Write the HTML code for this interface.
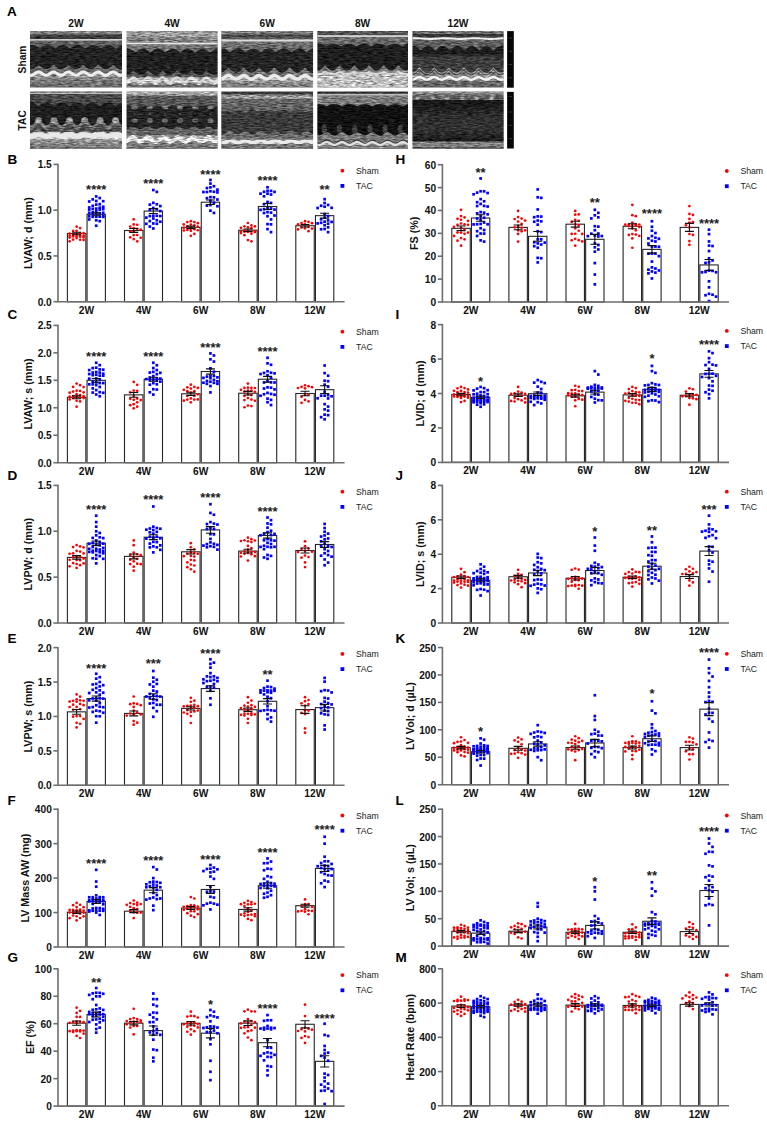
<!DOCTYPE html>
<html><head><meta charset="utf-8"><title>Echocardiography figure</title>
<style>
html,body{margin:0;padding:0;background:#fff;}
body{width:767px;height:1122px;overflow:hidden;}
svg{display:block;}
text{font-family:"Liberation Sans", sans-serif;}
.pl{font-size:13.5px;font-weight:bold;fill:#000;}
.ti{font-size:10.75px;font-weight:bold;fill:#111;}
.tk{font-size:10.2px;font-weight:bold;fill:#111;}
.st{font-size:13px;font-weight:bold;fill:#222;}
.lg{font-size:8.7px;fill:#222;}
.ax{stroke:#6e6e6e;stroke-width:1.6;}
.bar{fill:#fff;stroke:#262626;stroke-width:1.1;}
.eb{stroke:#111;stroke-width:1.1;fill:none;}
</style></head>
<body><svg width="767" height="1122" viewBox="0 0 767 1122">
<rect width="767" height="1122" fill="#fff"/>
<defs><filter id="spk00" x="-2%" y="-2%" width="104%" height="104%" color-interpolation-filters="sRGB"><feTurbulence type="fractalNoise" baseFrequency="0.18 0.75" numOctaves="2" seed="1" result="n"/><feColorMatrix in="n" type="matrix" values="1 0 0 0 0  1 0 0 0 0  1 0 0 0 0  0 0 0 0 1" result="ng"/><feComposite in="SourceGraphic" in2="ng" operator="arithmetic" k1="1.1" k2="0.45" k3="0.18" k4="-0.09" result="m"/><feGaussianBlur in="m" stdDeviation="0.4"/></filter><filter id="spk01" x="-2%" y="-2%" width="104%" height="104%" color-interpolation-filters="sRGB"><feTurbulence type="fractalNoise" baseFrequency="0.18 0.75" numOctaves="2" seed="4" result="n"/><feColorMatrix in="n" type="matrix" values="1 0 0 0 0  1 0 0 0 0  1 0 0 0 0  0 0 0 0 1" result="ng"/><feComposite in="SourceGraphic" in2="ng" operator="arithmetic" k1="1.1" k2="0.45" k3="0.18" k4="-0.09" result="m"/><feGaussianBlur in="m" stdDeviation="0.4"/></filter><filter id="spk10" x="-2%" y="-2%" width="104%" height="104%" color-interpolation-filters="sRGB"><feTurbulence type="fractalNoise" baseFrequency="0.18 0.75" numOctaves="2" seed="8" result="n"/><feColorMatrix in="n" type="matrix" values="1 0 0 0 0  1 0 0 0 0  1 0 0 0 0  0 0 0 0 1" result="ng"/><feComposite in="SourceGraphic" in2="ng" operator="arithmetic" k1="1.1" k2="0.45" k3="0.18" k4="-0.09" result="m"/><feGaussianBlur in="m" stdDeviation="0.4"/></filter><filter id="spk11" x="-2%" y="-2%" width="104%" height="104%" color-interpolation-filters="sRGB"><feTurbulence type="fractalNoise" baseFrequency="0.18 0.75" numOctaves="2" seed="11" result="n"/><feColorMatrix in="n" type="matrix" values="1 0 0 0 0  1 0 0 0 0  1 0 0 0 0  0 0 0 0 1" result="ng"/><feComposite in="SourceGraphic" in2="ng" operator="arithmetic" k1="1.1" k2="0.45" k3="0.18" k4="-0.09" result="m"/><feGaussianBlur in="m" stdDeviation="0.4"/></filter><filter id="spk20" x="-2%" y="-2%" width="104%" height="104%" color-interpolation-filters="sRGB"><feTurbulence type="fractalNoise" baseFrequency="0.18 0.75" numOctaves="2" seed="15" result="n"/><feColorMatrix in="n" type="matrix" values="1 0 0 0 0  1 0 0 0 0  1 0 0 0 0  0 0 0 0 1" result="ng"/><feComposite in="SourceGraphic" in2="ng" operator="arithmetic" k1="1.1" k2="0.45" k3="0.18" k4="-0.09" result="m"/><feGaussianBlur in="m" stdDeviation="0.4"/></filter><filter id="spk21" x="-2%" y="-2%" width="104%" height="104%" color-interpolation-filters="sRGB"><feTurbulence type="fractalNoise" baseFrequency="0.18 0.75" numOctaves="2" seed="18" result="n"/><feColorMatrix in="n" type="matrix" values="1 0 0 0 0  1 0 0 0 0  1 0 0 0 0  0 0 0 0 1" result="ng"/><feComposite in="SourceGraphic" in2="ng" operator="arithmetic" k1="1.1" k2="0.45" k3="0.18" k4="-0.09" result="m"/><feGaussianBlur in="m" stdDeviation="0.4"/></filter><filter id="spk30" x="-2%" y="-2%" width="104%" height="104%" color-interpolation-filters="sRGB"><feTurbulence type="fractalNoise" baseFrequency="0.18 0.75" numOctaves="2" seed="22" result="n"/><feColorMatrix in="n" type="matrix" values="1 0 0 0 0  1 0 0 0 0  1 0 0 0 0  0 0 0 0 1" result="ng"/><feComposite in="SourceGraphic" in2="ng" operator="arithmetic" k1="1.1" k2="0.45" k3="0.18" k4="-0.09" result="m"/><feGaussianBlur in="m" stdDeviation="0.4"/></filter><filter id="spk31" x="-2%" y="-2%" width="104%" height="104%" color-interpolation-filters="sRGB"><feTurbulence type="fractalNoise" baseFrequency="0.18 0.75" numOctaves="2" seed="25" result="n"/><feColorMatrix in="n" type="matrix" values="1 0 0 0 0  1 0 0 0 0  1 0 0 0 0  0 0 0 0 1" result="ng"/><feComposite in="SourceGraphic" in2="ng" operator="arithmetic" k1="1.1" k2="0.45" k3="0.18" k4="-0.09" result="m"/><feGaussianBlur in="m" stdDeviation="0.4"/></filter><filter id="spk40" x="-2%" y="-2%" width="104%" height="104%" color-interpolation-filters="sRGB"><feTurbulence type="fractalNoise" baseFrequency="0.18 0.75" numOctaves="2" seed="29" result="n"/><feColorMatrix in="n" type="matrix" values="1 0 0 0 0  1 0 0 0 0  1 0 0 0 0  0 0 0 0 1" result="ng"/><feComposite in="SourceGraphic" in2="ng" operator="arithmetic" k1="1.1" k2="0.45" k3="0.18" k4="-0.09" result="m"/><feGaussianBlur in="m" stdDeviation="0.4"/></filter><filter id="spk41" x="-2%" y="-2%" width="104%" height="104%" color-interpolation-filters="sRGB"><feTurbulence type="fractalNoise" baseFrequency="0.18 0.75" numOctaves="2" seed="32" result="n"/><feColorMatrix in="n" type="matrix" values="1 0 0 0 0  1 0 0 0 0  1 0 0 0 0  0 0 0 0 1" result="ng"/><feComposite in="SourceGraphic" in2="ng" operator="arithmetic" k1="1.1" k2="0.45" k3="0.18" k4="-0.09" result="m"/><feGaussianBlur in="m" stdDeviation="0.4"/></filter><filter id="bl" x="-5%" y="-20%" width="110%" height="140%"><feGaussianBlur stdDeviation="0.5"/></filter></defs>
<text x="7.0" y="15.6" class="pl">A</text>
<text x="76.0" y="27.4" class="tk" text-anchor="middle">2W</text>
<clipPath id="c0"><rect x="0" y="0" width="92.0" height="56.5"/></clipPath>
<g transform="translate(30,31)" clip-path="url(#c0)"><g filter="url(#spk00)">
<linearGradient id="g0" x1="0" y1="0" x2="0" y2="1"><stop offset="0.0000" stop-color="#7d7d7d"/><stop offset="0.0531" stop-color="#767676"/><stop offset="0.0708" stop-color="#3e3e3e"/><stop offset="0.1327" stop-color="#3a3a3a"/><stop offset="0.1451" stop-color="#6e6e6e"/><stop offset="0.1699" stop-color="#646464"/><stop offset="0.2478" stop-color="#5c5c5c"/><stop offset="0.6372" stop-color="#646464"/><stop offset="0.7080" stop-color="#696969"/><stop offset="0.7788" stop-color="#969696"/><stop offset="0.8496" stop-color="#808080"/><stop offset="1.0000" stop-color="#646464"/></linearGradient>
<rect x="-1" y="0" width="94.0" height="56.5" fill="url(#g0)"/>
<rect x="-1" y="1.10" width="94.0" height="0.8" fill="#969696" fill-opacity="0.6"/>
<path d="M0.0 14.32 L0.8 14.09 L1.5 13.95 L2.2 13.90 L3.0 13.94 L3.8 14.07 L4.5 14.29 L5.2 14.58 L6.0 14.96 L6.8 15.40 L7.5 15.89 L8.2 16.43 L9.0 17.00 L9.8 17.58 L10.5 17.23 L11.2 16.65 L12.0 16.10 L12.8 15.59 L13.5 15.13 L14.2 14.73 L15.0 14.40 L15.8 14.15 L16.5 13.98 L17.2 13.91 L18.0 13.92 L18.8 14.03 L19.5 14.22 L20.2 14.50 L21.0 14.85 L21.8 15.27 L22.5 15.75 L23.2 16.28 L24.0 16.84 L24.8 17.43 L25.5 17.39 L26.2 16.81 L27.0 16.25 L27.8 15.72 L28.5 15.24 L29.2 14.83 L30.0 14.48 L30.8 14.20 L31.5 14.02 L32.2 13.92 L33.0 13.91 L33.8 13.99 L34.5 14.16 L35.2 14.42 L36.0 14.75 L36.8 15.16 L37.5 15.62 L38.2 16.14 L39.0 16.69 L39.8 17.27 L40.5 17.54 L41.2 16.96 L42.0 16.39 L42.8 15.86 L43.5 15.37 L44.2 14.93 L45.0 14.56 L45.8 14.27 L46.5 14.06 L47.2 13.93 L48.0 13.90 L48.8 13.96 L49.5 14.11 L50.2 14.34 L51.0 14.65 L51.8 15.04 L52.5 15.49 L53.2 16.00 L54.0 16.54 L54.8 17.11 L55.5 17.70 L56.2 17.11 L57.0 16.54 L57.8 16.00 L58.5 15.49 L59.2 15.04 L60.0 14.65 L60.8 14.34 L61.5 14.11 L62.2 13.96 L63.0 13.90 L63.8 13.93 L64.5 14.06 L65.2 14.27 L66.0 14.56 L66.8 14.93 L67.5 15.37 L68.2 15.86 L69.0 16.39 L69.8 16.96 L70.5 17.54 L71.2 17.27 L72.0 16.69 L72.8 16.14 L73.5 15.62 L74.2 15.16 L75.0 14.75 L75.8 14.42 L76.5 14.16 L77.2 13.99 L78.0 13.91 L78.8 13.92 L79.5 14.02 L80.2 14.20 L81.0 14.48 L81.8 14.83 L82.5 15.24 L83.2 15.72 L84.0 16.25 L84.8 16.81 L85.5 17.39 L86.2 17.43 L87.0 16.84 L87.8 16.28 L88.5 15.75 L89.2 15.27 L90.0 14.85 L90.8 14.50 L91.5 14.22 L92.0 14.08 L92.0 38.10 L91.5 38.21 L90.8 38.30 L90.0 38.27 L89.2 38.14 L88.5 37.90 L87.8 37.56 L87.0 37.12 L86.2 36.61 L85.5 36.03 L84.8 35.40 L84.0 34.73 L83.2 34.04 L82.5 34.46 L81.8 35.14 L81.0 35.79 L80.2 36.39 L79.5 36.93 L78.8 37.39 L78.0 37.77 L77.2 38.05 L76.5 38.23 L75.8 38.30 L75.0 38.26 L74.2 38.11 L73.5 37.86 L72.8 37.50 L72.0 37.06 L71.2 36.54 L70.5 35.95 L69.8 35.31 L69.0 34.64 L68.2 33.95 L67.5 34.55 L66.8 35.22 L66.0 35.87 L65.2 36.46 L64.5 36.99 L63.8 37.45 L63.0 37.81 L62.2 38.08 L61.5 38.25 L60.8 38.30 L60.0 38.25 L59.2 38.08 L58.5 37.81 L57.8 37.45 L57.0 36.99 L56.2 36.46 L55.5 35.87 L54.8 35.22 L54.0 34.55 L53.2 33.95 L52.5 34.64 L51.8 35.31 L51.0 35.95 L50.2 36.54 L49.5 37.06 L48.8 37.50 L48.0 37.86 L47.2 38.11 L46.5 38.26 L45.8 38.30 L45.0 38.23 L44.2 38.05 L43.5 37.77 L42.8 37.39 L42.0 36.93 L41.2 36.39 L40.5 35.79 L39.8 35.14 L39.0 34.46 L38.2 34.04 L37.5 34.73 L36.8 35.40 L36.0 36.03 L35.2 36.61 L34.5 37.12 L33.8 37.56 L33.0 37.90 L32.2 38.14 L31.5 38.27 L30.8 38.30 L30.0 38.21 L29.2 38.02 L28.5 37.73 L27.8 37.34 L27.0 36.86 L26.2 36.31 L25.5 35.70 L24.8 35.05 L24.0 34.36 L23.2 34.13 L22.5 34.82 L21.8 35.49 L21.0 36.11 L20.2 36.68 L19.5 37.19 L18.8 37.61 L18.0 37.93 L17.2 38.16 L16.5 38.28 L15.8 38.29 L15.0 38.19 L14.2 37.99 L13.5 37.68 L12.8 37.28 L12.0 36.79 L11.2 36.23 L10.5 35.62 L9.8 34.96 L9.0 34.27 L8.2 34.22 L7.5 34.91 L6.8 35.57 L6.0 36.19 L5.2 36.76 L4.5 37.25 L3.8 37.66 L3.0 37.97 L2.2 38.18 L1.5 38.29 L0.8 38.28 L0.0 38.17Z" fill="#222222" fill-opacity="1"/>
<path d="M0.0 38.17 L0.8 38.28 L1.5 38.29 L2.2 38.18 L3.0 37.97 L3.8 37.66 L4.5 37.25 L5.2 36.76 L6.0 36.19 L6.8 35.57 L7.5 34.91 L8.2 34.22 L9.0 34.27 L9.8 34.96 L10.5 35.62 L11.2 36.23 L12.0 36.79 L12.8 37.28 L13.5 37.68 L14.2 37.99 L15.0 38.19 L15.8 38.29 L16.5 38.28 L17.2 38.16 L18.0 37.93 L18.8 37.61 L19.5 37.19 L20.2 36.68 L21.0 36.11 L21.8 35.49 L22.5 34.82 L23.2 34.13 L24.0 34.36 L24.8 35.05 L25.5 35.70 L26.2 36.31 L27.0 36.86 L27.8 37.34 L28.5 37.73 L29.2 38.02 L30.0 38.21 L30.8 38.30 L31.5 38.27 L32.2 38.14 L33.0 37.90 L33.8 37.56 L34.5 37.12 L35.2 36.61 L36.0 36.03 L36.8 35.40 L37.5 34.73 L38.2 34.04 L39.0 34.46 L39.8 35.14 L40.5 35.79 L41.2 36.39 L42.0 36.93 L42.8 37.39 L43.5 37.77 L44.2 38.05 L45.0 38.23 L45.8 38.30 L46.5 38.26 L47.2 38.11 L48.0 37.86 L48.8 37.50 L49.5 37.06 L50.2 36.54 L51.0 35.95 L51.8 35.31 L52.5 34.64 L53.2 33.95 L54.0 34.55 L54.8 35.22 L55.5 35.87 L56.2 36.46 L57.0 36.99 L57.8 37.45 L58.5 37.81 L59.2 38.08 L60.0 38.25 L60.8 38.30 L61.5 38.25 L62.2 38.08 L63.0 37.81 L63.8 37.45 L64.5 36.99 L65.2 36.46 L66.0 35.87 L66.8 35.22 L67.5 34.55 L68.2 33.95 L69.0 34.64 L69.8 35.31 L70.5 35.95 L71.2 36.54 L72.0 37.06 L72.8 37.50 L73.5 37.86 L74.2 38.11 L75.0 38.26 L75.8 38.30 L76.5 38.23 L77.2 38.05 L78.0 37.77 L78.8 37.39 L79.5 36.93 L80.2 36.39 L81.0 35.79 L81.8 35.14 L82.5 34.46 L83.2 34.04 L84.0 34.73 L84.8 35.40 L85.5 36.03 L86.2 36.61 L87.0 37.12 L87.8 37.56 L88.5 37.90 L89.2 38.14 L90.0 38.27 L90.8 38.30 L91.5 38.21 L92.0 38.10 L92.0 42.81 L91.5 42.97 L90.8 43.09 L90.0 43.06 L89.2 42.87 L88.5 42.54 L87.8 42.11 L87.0 41.62 L86.2 41.12 L85.5 40.65 L84.8 40.27 L84.0 40.01 L83.2 39.90 L82.5 39.95 L81.8 40.15 L81.0 40.49 L80.2 40.92 L79.5 41.42 L78.8 41.92 L78.0 42.38 L77.2 42.75 L76.5 43.00 L75.8 43.10 L75.0 43.04 L74.2 42.83 L73.5 42.49 L72.8 42.05 L72.0 41.55 L71.2 41.05 L70.5 40.60 L69.8 40.23 L69.0 39.99 L68.2 39.90 L67.5 39.97 L66.8 40.19 L66.0 40.54 L65.2 40.99 L64.5 41.48 L63.8 41.98 L63.0 42.43 L62.2 42.79 L61.5 43.02 L60.8 43.10 L60.0 43.02 L59.2 42.79 L58.5 42.43 L57.8 41.98 L57.0 41.48 L56.2 40.99 L55.5 40.54 L54.8 40.19 L54.0 39.97 L53.2 39.90 L52.5 39.99 L51.8 40.23 L51.0 40.60 L50.2 41.05 L49.5 41.55 L48.8 42.05 L48.0 42.49 L47.2 42.83 L46.5 43.04 L45.8 43.10 L45.0 43.00 L44.2 42.75 L43.5 42.38 L42.8 41.92 L42.0 41.42 L41.2 40.92 L40.5 40.49 L39.8 40.15 L39.0 39.95 L38.2 39.90 L37.5 40.01 L36.8 40.27 L36.0 40.65 L35.2 41.12 L34.5 41.62 L33.8 42.11 L33.0 42.54 L32.2 42.87 L31.5 43.06 L30.8 43.09 L30.0 42.97 L29.2 42.71 L28.5 42.32 L27.8 41.85 L27.0 41.35 L26.2 40.86 L25.5 40.44 L24.8 40.12 L24.0 39.94 L23.2 39.91 L22.5 40.04 L21.8 40.32 L21.0 40.71 L20.2 41.18 L19.5 41.69 L18.8 42.17 L18.0 42.59 L17.2 42.90 L16.5 43.07 L15.8 43.09 L15.0 42.95 L14.2 42.66 L13.5 42.26 L12.8 41.79 L12.0 41.28 L11.2 40.80 L10.5 40.39 L9.8 40.08 L9.0 39.92 L8.2 39.92 L7.5 40.07 L6.8 40.36 L6.0 40.77 L5.2 41.25 L4.5 41.75 L3.8 42.23 L3.0 42.64 L2.2 42.93 L1.5 43.08 L0.8 43.08 L0.0 42.92Z" fill="#696969" fill-opacity="1"/>
</g><g filter="url(#bl)">
<path d="M0.0 44.02 L0.8 44.18 L1.5 44.18 L2.2 44.03 L3.0 43.74 L3.8 43.33 L4.5 42.85 L5.2 42.35 L6.0 41.87 L6.8 41.46 L7.5 41.17 L8.2 41.02 L9.0 41.02 L9.8 41.18 L10.5 41.49 L11.2 41.90 L12.0 42.38 L12.8 42.89 L13.5 43.36 L14.2 43.76 L15.0 44.05 L15.8 44.19 L16.5 44.17 L17.2 44.00 L18.0 43.69 L18.8 43.27 L19.5 42.79 L20.2 42.28 L21.0 41.81 L21.8 41.42 L22.5 41.14 L23.2 41.01 L24.0 41.04 L24.8 41.22 L25.5 41.54 L26.2 41.96 L27.0 42.45 L27.8 42.95 L28.5 43.42 L29.2 43.81 L30.0 44.07 L30.8 44.19 L31.5 44.16 L32.2 43.97 L33.0 43.64 L33.8 43.21 L34.5 42.72 L35.2 42.22 L36.0 41.75 L36.8 41.37 L37.5 41.11 L38.2 41.00 L39.0 41.05 L39.8 41.25 L40.5 41.59 L41.2 42.02 L42.0 42.52 L42.8 43.02 L43.5 43.48 L44.2 43.85 L45.0 44.10 L45.8 44.20 L46.5 44.14 L47.2 43.93 L48.0 43.59 L48.8 43.15 L49.5 42.65 L50.2 42.15 L51.0 41.70 L51.8 41.33 L52.5 41.09 L53.2 41.00 L54.0 41.07 L54.8 41.29 L55.5 41.64 L56.2 42.09 L57.0 42.58 L57.8 43.08 L58.5 43.53 L59.2 43.89 L60.0 44.12 L60.8 44.20 L61.5 44.12 L62.2 43.89 L63.0 43.53 L63.8 43.08 L64.5 42.58 L65.2 42.09 L66.0 41.64 L66.8 41.29 L67.5 41.07 L68.2 41.00 L69.0 41.09 L69.8 41.33 L70.5 41.70 L71.2 42.15 L72.0 42.65 L72.8 43.15 L73.5 43.59 L74.2 43.93 L75.0 44.14 L75.8 44.20 L76.5 44.10 L77.2 43.85 L78.0 43.48 L78.8 43.02 L79.5 42.52 L80.2 42.02 L81.0 41.59 L81.8 41.25 L82.5 41.05 L83.2 41.00 L84.0 41.11 L84.8 41.37 L85.5 41.75 L86.2 42.22 L87.0 42.72 L87.8 43.21 L88.5 43.64 L89.2 43.97 L90.0 44.16 L90.8 44.19 L91.5 44.07 L92.0 43.91" stroke="#eeeeee" stroke-width="3.0" fill="none" stroke-opacity="1"/>
<path d="M0.0 8.90 L0.8 8.90 L1.5 8.90 L2.2 8.90 L3.0 8.90 L3.8 8.90 L4.5 8.90 L5.2 8.90 L6.0 8.90 L6.8 8.90 L7.5 8.90 L8.2 8.90 L9.0 8.90 L9.8 8.90 L10.5 8.90 L11.2 8.90 L12.0 8.90 L12.8 8.90 L13.5 8.90 L14.2 8.90 L15.0 8.90 L15.8 8.90 L16.5 8.90 L17.2 8.90 L18.0 8.90 L18.8 8.90 L19.5 8.90 L20.2 8.90 L21.0 8.90 L21.8 8.90 L22.5 8.90 L23.2 8.90 L24.0 8.90 L24.8 8.90 L25.5 8.90 L26.2 8.90 L27.0 8.90 L27.8 8.90 L28.5 8.90 L29.2 8.90 L30.0 8.90 L30.8 8.90 L31.5 8.90 L32.2 8.90 L33.0 8.90 L33.8 8.90 L34.5 8.90 L35.2 8.90 L36.0 8.90 L36.8 8.90 L37.5 8.90 L38.2 8.90 L39.0 8.90 L39.8 8.90 L40.5 8.90 L41.2 8.90 L42.0 8.90 L42.8 8.90 L43.5 8.90 L44.2 8.90 L45.0 8.90 L45.8 8.90 L46.5 8.90 L47.2 8.90 L48.0 8.90 L48.8 8.90 L49.5 8.90 L50.2 8.90 L51.0 8.90 L51.8 8.90 L52.5 8.90 L53.2 8.90 L54.0 8.90 L54.8 8.90 L55.5 8.90 L56.2 8.90 L57.0 8.90 L57.8 8.90 L58.5 8.90 L59.2 8.90 L60.0 8.90 L60.8 8.90 L61.5 8.90 L62.2 8.90 L63.0 8.90 L63.8 8.90 L64.5 8.90 L65.2 8.90 L66.0 8.90 L66.8 8.90 L67.5 8.90 L68.2 8.90 L69.0 8.90 L69.8 8.90 L70.5 8.90 L71.2 8.90 L72.0 8.90 L72.8 8.90 L73.5 8.90 L74.2 8.90 L75.0 8.90 L75.8 8.90 L76.5 8.90 L77.2 8.90 L78.0 8.90 L78.8 8.90 L79.5 8.90 L80.2 8.90 L81.0 8.90 L81.8 8.90 L82.5 8.90 L83.2 8.90 L84.0 8.90 L84.8 8.90 L85.5 8.90 L86.2 8.90 L87.0 8.90 L87.8 8.90 L88.5 8.90 L89.2 8.90 L90.0 8.90 L90.8 8.90 L91.5 8.90 L92.0 8.90" stroke="#e8e8e8" stroke-width="1.3" fill="none" stroke-opacity="1"/>
</g></g>
<clipPath id="c1"><rect x="0" y="0" width="92.0" height="57.2"/></clipPath>
<g transform="translate(30,91.5)" clip-path="url(#c1)"><g filter="url(#spk01)">
<linearGradient id="g1" x1="0" y1="0" x2="0" y2="1"><stop offset="0.0000" stop-color="#6e6e6e"/><stop offset="0.0245" stop-color="#787878"/><stop offset="0.0455" stop-color="#4e4e4e"/><stop offset="0.1748" stop-color="#484848"/><stop offset="0.2448" stop-color="#424242"/><stop offset="0.6119" stop-color="#5c5c5c"/><stop offset="0.6643" stop-color="#555555"/><stop offset="0.7080" stop-color="#6e6e6e"/><stop offset="0.7168" stop-color="#bebebe"/><stop offset="0.8217" stop-color="#bebebe"/><stop offset="0.8479" stop-color="#969696"/><stop offset="1.0000" stop-color="#707070"/></linearGradient>
<rect x="-1" y="0" width="94.0" height="57.2" fill="url(#g1)"/>
<path d="M0.0 10.87 L0.8 10.80 L1.5 10.83 L2.2 10.96 L3.0 11.18 L3.8 11.49 L4.5 11.88 L5.2 12.35 L6.0 12.88 L6.8 13.45 L7.5 14.07 L8.2 14.70 L9.0 14.66 L9.8 14.02 L10.5 13.41 L11.2 12.84 L12.0 12.31 L12.8 11.85 L13.5 11.47 L14.2 11.16 L15.0 10.95 L15.8 10.83 L16.5 10.80 L17.2 10.88 L18.0 11.05 L18.8 11.31 L19.5 11.66 L20.2 12.09 L21.0 12.59 L21.8 13.14 L22.5 13.73 L23.2 14.36 L24.0 15.00 L24.8 14.36 L25.5 13.73 L26.2 13.14 L27.0 12.59 L27.8 12.09 L28.5 11.66 L29.2 11.31 L30.0 11.05 L30.8 10.88 L31.5 10.80 L32.2 10.83 L33.0 10.95 L33.8 11.16 L34.5 11.47 L35.2 11.85 L36.0 12.31 L36.8 12.84 L37.5 13.41 L38.2 14.02 L39.0 14.66 L39.8 14.70 L40.5 14.07 L41.2 13.45 L42.0 12.88 L42.8 12.35 L43.5 11.88 L44.2 11.49 L45.0 11.18 L45.8 10.96 L46.5 10.83 L47.2 10.80 L48.0 10.87 L48.8 11.04 L49.5 11.29 L50.2 11.64 L51.0 12.06 L51.8 12.55 L52.5 13.10 L53.2 13.69 L54.0 14.32 L54.8 14.96 L55.5 14.40 L56.2 13.78 L57.0 13.18 L57.8 12.62 L58.5 12.12 L59.2 11.69 L60.0 11.33 L60.8 11.06 L61.5 10.89 L62.2 10.81 L63.0 10.82 L63.8 10.94 L64.5 11.14 L65.2 11.44 L66.0 11.83 L66.8 12.28 L67.5 12.80 L68.2 13.37 L69.0 13.98 L69.8 14.61 L70.5 14.74 L71.2 14.11 L72.0 13.49 L72.8 12.91 L73.5 12.38 L74.2 11.91 L75.0 11.51 L75.8 11.20 L76.5 10.97 L77.2 10.84 L78.0 10.80 L78.8 10.86 L79.5 11.02 L80.2 11.27 L81.0 11.61 L81.8 12.03 L82.5 12.52 L83.2 13.06 L84.0 13.65 L84.8 14.28 L85.5 14.91 L86.2 14.44 L87.0 13.82 L87.8 13.22 L88.5 12.66 L89.2 12.15 L90.0 11.72 L90.8 11.36 L91.5 11.08 L92.0 10.95 L92.0 33.61 L91.5 33.17 L90.8 32.32 L90.0 31.30 L89.2 30.21 L88.5 29.14 L87.8 28.20 L87.0 27.47 L86.2 27.03 L85.5 26.90 L84.8 27.11 L84.0 27.64 L83.2 28.43 L82.5 29.42 L81.8 30.50 L81.0 31.58 L80.2 32.57 L79.5 33.36 L78.8 33.89 L78.0 34.10 L77.2 33.97 L76.5 33.53 L75.8 32.80 L75.0 31.86 L74.2 30.79 L73.5 29.70 L72.8 28.68 L72.0 27.83 L71.2 27.23 L70.5 26.93 L69.8 26.96 L69.0 27.32 L68.2 27.98 L67.5 28.87 L66.8 29.92 L66.0 31.01 L65.2 32.06 L64.5 32.97 L63.8 33.64 L63.0 34.03 L62.2 34.08 L61.5 33.80 L60.8 33.22 L60.0 32.38 L59.2 31.37 L58.5 30.28 L57.8 29.21 L57.0 28.26 L56.2 27.51 L55.5 27.05 L54.8 26.90 L54.0 27.09 L53.2 27.60 L52.5 28.37 L51.8 29.35 L51.0 30.43 L50.2 31.51 L49.5 32.51 L48.8 33.31 L48.0 33.86 L47.2 34.09 L46.5 33.99 L45.8 33.57 L45.0 32.86 L44.2 31.93 L43.5 30.87 L42.8 29.77 L42.0 28.74 L41.2 27.88 L40.5 27.26 L39.8 26.94 L39.0 26.95 L38.2 27.29 L37.5 27.93 L36.8 28.81 L36.0 29.84 L35.2 30.94 L34.5 32.00 L33.8 32.91 L33.0 33.61 L32.2 34.01 L31.5 34.09 L30.8 33.83 L30.0 33.27 L29.2 32.45 L28.5 31.44 L27.8 30.35 L27.0 29.28 L26.2 28.31 L25.5 27.55 L24.8 27.07 L24.0 26.90 L23.2 27.07 L22.5 27.55 L21.8 28.31 L21.0 29.28 L20.2 30.35 L19.5 31.44 L18.8 32.45 L18.0 33.27 L17.2 33.83 L16.5 34.09 L15.8 34.01 L15.0 33.61 L14.2 32.91 L13.5 32.00 L12.8 30.94 L12.0 29.84 L11.2 28.81 L10.5 27.93 L9.8 27.29 L9.0 26.95 L8.2 26.94 L7.5 27.26 L6.8 27.88 L6.0 28.74 L5.2 29.77 L4.5 30.87 L3.8 31.93 L3.0 32.86 L2.2 33.57 L1.5 33.99 L0.8 34.09 L0.0 33.86Z" fill="#1e1e1e" fill-opacity="1"/>
<path d="M0.0 33.86 L0.8 34.09 L1.5 33.99 L2.2 33.57 L3.0 32.86 L3.8 31.93 L4.5 30.87 L5.2 29.77 L6.0 28.74 L6.8 27.88 L7.5 27.26 L8.2 26.94 L9.0 26.95 L9.8 27.29 L10.5 27.93 L11.2 28.81 L12.0 29.84 L12.8 30.94 L13.5 32.00 L14.2 32.91 L15.0 33.61 L15.8 34.01 L16.5 34.09 L17.2 33.83 L18.0 33.27 L18.8 32.45 L19.5 31.44 L20.2 30.35 L21.0 29.28 L21.8 28.31 L22.5 27.55 L23.2 27.07 L24.0 26.90 L24.8 27.07 L25.5 27.55 L26.2 28.31 L27.0 29.28 L27.8 30.35 L28.5 31.44 L29.2 32.45 L30.0 33.27 L30.8 33.83 L31.5 34.09 L32.2 34.01 L33.0 33.61 L33.8 32.91 L34.5 32.00 L35.2 30.94 L36.0 29.84 L36.8 28.81 L37.5 27.93 L38.2 27.29 L39.0 26.95 L39.8 26.94 L40.5 27.26 L41.2 27.88 L42.0 28.74 L42.8 29.77 L43.5 30.87 L44.2 31.93 L45.0 32.86 L45.8 33.57 L46.5 33.99 L47.2 34.09 L48.0 33.86 L48.8 33.31 L49.5 32.51 L50.2 31.51 L51.0 30.43 L51.8 29.35 L52.5 28.37 L53.2 27.60 L54.0 27.09 L54.8 26.90 L55.5 27.05 L56.2 27.51 L57.0 28.26 L57.8 29.21 L58.5 30.28 L59.2 31.37 L60.0 32.38 L60.8 33.22 L61.5 33.80 L62.2 34.08 L63.0 34.03 L63.8 33.64 L64.5 32.97 L65.2 32.06 L66.0 31.01 L66.8 29.92 L67.5 28.87 L68.2 27.98 L69.0 27.32 L69.8 26.96 L70.5 26.93 L71.2 27.23 L72.0 27.83 L72.8 28.68 L73.5 29.70 L74.2 30.79 L75.0 31.86 L75.8 32.80 L76.5 33.53 L77.2 33.97 L78.0 34.10 L78.8 33.89 L79.5 33.36 L80.2 32.57 L81.0 31.58 L81.8 30.50 L82.5 29.42 L83.2 28.43 L84.0 27.64 L84.8 27.11 L85.5 26.90 L86.2 27.03 L87.0 27.47 L87.8 28.20 L88.5 29.14 L89.2 30.21 L90.0 31.30 L90.8 32.32 L91.5 33.17 L92.0 33.61 L92.0 38.26 L91.5 37.88 L90.8 37.12 L90.0 36.21 L89.2 35.24 L88.5 34.29 L87.8 33.45 L87.0 32.81 L86.2 32.41 L85.5 32.30 L84.8 32.49 L84.0 32.96 L83.2 33.66 L82.5 34.54 L81.8 35.50 L81.0 36.46 L80.2 37.34 L79.5 38.04 L78.8 38.51 L78.0 38.70 L77.2 38.59 L76.5 38.19 L75.8 37.55 L75.0 36.71 L74.2 35.76 L73.5 34.79 L72.8 33.88 L72.0 33.12 L71.2 32.59 L70.5 32.32 L69.8 32.35 L69.0 32.68 L68.2 33.26 L67.5 34.05 L66.8 34.98 L66.0 35.96 L65.2 36.89 L64.5 37.69 L63.8 38.29 L63.0 38.63 L62.2 38.68 L61.5 38.44 L60.8 37.92 L60.0 37.17 L59.2 36.28 L58.5 35.30 L57.8 34.35 L57.0 33.50 L56.2 32.84 L55.5 32.43 L54.8 32.30 L54.0 32.47 L53.2 32.92 L52.5 33.61 L51.8 34.47 L51.0 35.43 L50.2 36.40 L49.5 37.28 L48.8 38.00 L48.0 38.49 L47.2 38.69 L46.5 38.60 L45.8 38.23 L45.0 37.60 L44.2 36.77 L43.5 35.83 L42.8 34.85 L42.0 33.94 L41.2 33.17 L40.5 32.62 L39.8 32.33 L39.0 32.34 L38.2 32.65 L37.5 33.21 L36.8 34.00 L36.0 34.92 L35.2 35.89 L34.5 36.83 L33.8 37.64 L33.0 38.26 L32.2 38.62 L31.5 38.69 L30.8 38.46 L30.0 37.96 L29.2 37.23 L28.5 36.34 L27.8 35.37 L27.0 34.41 L26.2 33.56 L25.5 32.88 L24.8 32.45 L24.0 32.30 L23.2 32.45 L22.5 32.88 L21.8 33.56 L21.0 34.41 L20.2 35.37 L19.5 36.34 L18.8 37.23 L18.0 37.96 L17.2 38.46 L16.5 38.69 L15.8 38.62 L15.0 38.26 L14.2 37.64 L13.5 36.83 L12.8 35.89 L12.0 34.92 L11.2 34.00 L10.5 33.21 L9.8 32.65 L9.0 32.34 L8.2 32.33 L7.5 32.62 L6.8 33.17 L6.0 33.94 L5.2 34.85 L4.5 35.83 L3.8 36.77 L3.0 37.60 L2.2 38.23 L1.5 38.60 L0.8 38.69 L0.0 38.49Z" fill="#767676" fill-opacity="1"/>
<path d="M0.0 38.49 L0.8 38.69 L1.5 38.60 L2.2 38.23 L3.0 37.60 L3.8 36.77 L4.5 35.83 L5.2 34.85 L6.0 33.94 L6.8 33.17 L7.5 32.62 L8.2 32.33 L9.0 32.34 L9.8 32.65 L10.5 33.21 L11.2 34.00 L12.0 34.92 L12.8 35.89 L13.5 36.83 L14.2 37.64 L15.0 38.26 L15.8 38.62 L16.5 38.69 L17.2 38.46 L18.0 37.96 L18.8 37.23 L19.5 36.34 L20.2 35.37 L21.0 34.41 L21.8 33.56 L22.5 32.88 L23.2 32.45 L24.0 32.30 L24.8 32.45 L25.5 32.88 L26.2 33.56 L27.0 34.41 L27.8 35.37 L28.5 36.34 L29.2 37.23 L30.0 37.96 L30.8 38.46 L31.5 38.69 L32.2 38.62 L33.0 38.26 L33.8 37.64 L34.5 36.83 L35.2 35.89 L36.0 34.92 L36.8 34.00 L37.5 33.21 L38.2 32.65 L39.0 32.34 L39.8 32.33 L40.5 32.62 L41.2 33.17 L42.0 33.94 L42.8 34.85 L43.5 35.83 L44.2 36.77 L45.0 37.60 L45.8 38.23 L46.5 38.60 L47.2 38.69 L48.0 38.49 L48.8 38.00 L49.5 37.28 L50.2 36.40 L51.0 35.43 L51.8 34.47 L52.5 33.61 L53.2 32.92 L54.0 32.47 L54.8 32.30 L55.5 32.43 L56.2 32.84 L57.0 33.50 L57.8 34.35 L58.5 35.30 L59.2 36.28 L60.0 37.17 L60.8 37.92 L61.5 38.44 L62.2 38.68 L63.0 38.63 L63.8 38.29 L64.5 37.69 L65.2 36.89 L66.0 35.96 L66.8 34.98 L67.5 34.05 L68.2 33.26 L69.0 32.68 L69.8 32.35 L70.5 32.32 L71.2 32.59 L72.0 33.12 L72.8 33.88 L73.5 34.79 L74.2 35.76 L75.0 36.71 L75.8 37.55 L76.5 38.19 L77.2 38.59 L78.0 38.70 L78.8 38.51 L79.5 38.04 L80.2 37.34 L81.0 36.46 L81.8 35.50 L82.5 34.54 L83.2 33.66 L84.0 32.96 L84.8 32.49 L85.5 32.30 L86.2 32.41 L87.0 32.81 L87.8 33.45 L88.5 34.29 L89.2 35.24 L90.0 36.21 L90.8 37.12 L91.5 37.88 L92.0 38.26 L92.0 41.23 L91.5 40.98 L90.8 40.51 L90.0 39.95 L89.2 39.34 L88.5 38.74 L87.8 38.22 L87.0 37.82 L86.2 37.57 L85.5 37.50 L84.8 37.62 L84.0 37.91 L83.2 38.35 L82.5 38.90 L81.8 39.50 L81.0 40.10 L80.2 40.65 L79.5 41.09 L78.8 41.38 L78.0 41.50 L77.2 41.43 L76.5 41.18 L75.8 40.78 L75.0 40.26 L74.2 39.66 L73.5 39.05 L72.8 38.49 L72.0 38.02 L71.2 37.68 L70.5 37.51 L69.8 37.53 L69.0 37.73 L68.2 38.10 L67.5 38.60 L66.8 39.18 L66.0 39.78 L65.2 40.37 L64.5 40.87 L63.8 41.25 L63.0 41.46 L62.2 41.49 L61.5 41.34 L60.8 41.01 L60.0 40.55 L59.2 39.98 L58.5 39.38 L57.8 38.78 L57.0 38.25 L56.2 37.84 L55.5 37.58 L54.8 37.50 L54.0 37.61 L53.2 37.89 L52.5 38.32 L51.8 38.86 L51.0 39.46 L50.2 40.06 L49.5 40.62 L48.8 41.06 L48.0 41.37 L47.2 41.50 L46.5 41.44 L45.8 41.20 L45.0 40.81 L44.2 40.29 L43.5 39.70 L42.8 39.09 L42.0 38.52 L41.2 38.04 L40.5 37.70 L39.8 37.52 L39.0 37.53 L38.2 37.72 L37.5 38.07 L36.8 38.56 L36.0 39.13 L35.2 39.74 L34.5 40.33 L33.8 40.84 L33.0 41.23 L32.2 41.45 L31.5 41.49 L30.8 41.35 L30.0 41.04 L29.2 40.58 L28.5 40.02 L27.8 39.42 L27.0 38.82 L26.2 38.29 L25.5 37.86 L24.8 37.59 L24.0 37.50 L23.2 37.59 L22.5 37.86 L21.8 38.29 L21.0 38.82 L20.2 39.42 L19.5 40.02 L18.8 40.58 L18.0 41.04 L17.2 41.35 L16.5 41.49 L15.8 41.45 L15.0 41.23 L14.2 40.84 L13.5 40.33 L12.8 39.74 L12.0 39.13 L11.2 38.56 L10.5 38.07 L9.8 37.72 L9.0 37.53 L8.2 37.52 L7.5 37.70 L6.8 38.04 L6.0 38.52 L5.2 39.09 L4.5 39.70 L3.8 40.29 L3.0 40.81 L2.2 41.20 L1.5 41.44 L0.8 41.50 L0.0 41.37Z" fill="#484848" fill-opacity="1"/>
<ellipse cx="-6.8" cy="28.8" rx="3.4" ry="3.0" fill="#969696" fill-opacity="0.95"/>
<ellipse cx="8.6" cy="28.8" rx="3.4" ry="3.0" fill="#969696" fill-opacity="0.95"/>
<ellipse cx="24.0" cy="28.8" rx="3.4" ry="3.0" fill="#969696" fill-opacity="0.95"/>
<ellipse cx="39.4" cy="28.8" rx="3.4" ry="3.0" fill="#969696" fill-opacity="0.95"/>
<ellipse cx="54.8" cy="28.8" rx="3.4" ry="3.0" fill="#969696" fill-opacity="0.95"/>
<ellipse cx="70.2" cy="28.8" rx="3.4" ry="3.0" fill="#969696" fill-opacity="0.95"/>
<ellipse cx="85.6" cy="28.8" rx="3.4" ry="3.0" fill="#969696" fill-opacity="0.95"/>
<ellipse cx="101.0" cy="28.8" rx="3.4" ry="3.0" fill="#969696" fill-opacity="0.95"/>
</g><g filter="url(#bl)">
<path d="M0.0 44.75 L0.8 44.80 L1.5 44.78 L2.2 44.68 L3.0 44.52 L3.8 44.32 L4.5 44.08 L5.2 43.84 L6.0 43.61 L6.8 43.42 L7.5 43.28 L8.2 43.21 L9.0 43.21 L9.8 43.29 L10.5 43.43 L11.2 43.62 L12.0 43.85 L12.8 44.10 L13.5 44.33 L14.2 44.54 L15.0 44.69 L15.8 44.78 L16.5 44.80 L17.2 44.74 L18.0 44.62 L18.8 44.43 L19.5 44.21 L20.2 43.97 L21.0 43.73 L21.8 43.51 L22.5 43.35 L23.2 43.24 L24.0 43.20 L24.8 43.24 L25.5 43.35 L26.2 43.51 L27.0 43.73 L27.8 43.97 L28.5 44.21 L29.2 44.43 L30.0 44.62 L30.8 44.74 L31.5 44.80 L32.2 44.78 L33.0 44.69 L33.8 44.54 L34.5 44.33 L35.2 44.10 L36.0 43.85 L36.8 43.62 L37.5 43.43 L38.2 43.29 L39.0 43.21 L39.8 43.21 L40.5 43.28 L41.2 43.42 L42.0 43.61 L42.8 43.84 L43.5 44.08 L44.2 44.32 L45.0 44.52 L45.8 44.68 L46.5 44.78 L47.2 44.80 L48.0 44.75 L48.8 44.63 L49.5 44.45 L50.2 44.23 L51.0 43.98 L51.8 43.74 L52.5 43.53 L53.2 43.35 L54.0 43.24 L54.8 43.20 L55.5 43.23 L56.2 43.34 L57.0 43.50 L57.8 43.71 L58.5 43.95 L59.2 44.19 L60.0 44.42 L60.8 44.60 L61.5 44.73 L62.2 44.80 L63.0 44.78 L63.8 44.70 L64.5 44.55 L65.2 44.35 L66.0 44.11 L66.8 43.87 L67.5 43.64 L68.2 43.44 L69.0 43.29 L69.8 43.21 L70.5 43.21 L71.2 43.27 L72.0 43.41 L72.8 43.60 L73.5 43.82 L74.2 44.07 L75.0 44.30 L75.8 44.51 L76.5 44.67 L77.2 44.77 L78.0 44.80 L78.8 44.75 L79.5 44.64 L80.2 44.46 L81.0 44.24 L81.8 44.00 L82.5 43.76 L83.2 43.54 L84.0 43.36 L84.8 43.25 L85.5 43.20 L86.2 43.23 L87.0 43.33 L87.8 43.49 L88.5 43.70 L89.2 43.93 L90.0 44.18 L90.8 44.40 L91.5 44.59 L92.0 44.69" stroke="#e8e8e8" stroke-width="5.0" fill="none" stroke-opacity="1"/>
<path d="M0.0 1.90 L0.8 1.90 L1.5 1.90 L2.2 1.90 L3.0 1.90 L3.8 1.90 L4.5 1.90 L5.2 1.90 L6.0 1.90 L6.8 1.90 L7.5 1.90 L8.2 1.90 L9.0 1.90 L9.8 1.90 L10.5 1.90 L11.2 1.90 L12.0 1.90 L12.8 1.90 L13.5 1.90 L14.2 1.90 L15.0 1.90 L15.8 1.90 L16.5 1.90 L17.2 1.90 L18.0 1.90 L18.8 1.90 L19.5 1.90 L20.2 1.90 L21.0 1.90 L21.8 1.90 L22.5 1.90 L23.2 1.90 L24.0 1.90 L24.8 1.90 L25.5 1.90 L26.2 1.90 L27.0 1.90 L27.8 1.90 L28.5 1.90 L29.2 1.90 L30.0 1.90 L30.8 1.90 L31.5 1.90 L32.2 1.90 L33.0 1.90 L33.8 1.90 L34.5 1.90 L35.2 1.90 L36.0 1.90 L36.8 1.90 L37.5 1.90 L38.2 1.90 L39.0 1.90 L39.8 1.90 L40.5 1.90 L41.2 1.90 L42.0 1.90 L42.8 1.90 L43.5 1.90 L44.2 1.90 L45.0 1.90 L45.8 1.90 L46.5 1.90 L47.2 1.90 L48.0 1.90 L48.8 1.90 L49.5 1.90 L50.2 1.90 L51.0 1.90 L51.8 1.90 L52.5 1.90 L53.2 1.90 L54.0 1.90 L54.8 1.90 L55.5 1.90 L56.2 1.90 L57.0 1.90 L57.8 1.90 L58.5 1.90 L59.2 1.90 L60.0 1.90 L60.8 1.90 L61.5 1.90 L62.2 1.90 L63.0 1.90 L63.8 1.90 L64.5 1.90 L65.2 1.90 L66.0 1.90 L66.8 1.90 L67.5 1.90 L68.2 1.90 L69.0 1.90 L69.8 1.90 L70.5 1.90 L71.2 1.90 L72.0 1.90 L72.8 1.90 L73.5 1.90 L74.2 1.90 L75.0 1.90 L75.8 1.90 L76.5 1.90 L77.2 1.90 L78.0 1.90 L78.8 1.90 L79.5 1.90 L80.2 1.90 L81.0 1.90 L81.8 1.90 L82.5 1.90 L83.2 1.90 L84.0 1.90 L84.8 1.90 L85.5 1.90 L86.2 1.90 L87.0 1.90 L87.8 1.90 L88.5 1.90 L89.2 1.90 L90.0 1.90 L90.8 1.90 L91.5 1.90 L92.0 1.90" stroke="#dcdcdc" stroke-width="1.0" fill="none" stroke-opacity="1"/>
</g></g>
<text x="172.1" y="27.4" class="tk" text-anchor="middle">4W</text>
<clipPath id="c2"><rect x="0" y="0" width="91.2" height="56.5"/></clipPath>
<g transform="translate(126.5,31)" clip-path="url(#c2)"><g filter="url(#spk10)">
<linearGradient id="g2" x1="0" y1="0" x2="0" y2="1"><stop offset="0.0000" stop-color="#969696"/><stop offset="0.0531" stop-color="#9e9e9e"/><stop offset="0.1062" stop-color="#8e8e8e"/><stop offset="0.1770" stop-color="#7d7d7d"/><stop offset="0.2124" stop-color="#848484"/><stop offset="0.2389" stop-color="#767676"/><stop offset="0.3363" stop-color="#707070"/><stop offset="0.7080" stop-color="#646464"/><stop offset="0.7788" stop-color="#505050"/><stop offset="0.8142" stop-color="#5a5a5a"/><stop offset="0.8319" stop-color="#aaaaaa"/><stop offset="0.9204" stop-color="#a5a5a5"/><stop offset="0.9381" stop-color="#6e6e6e"/><stop offset="1.0000" stop-color="#696969"/></linearGradient>
<rect x="-1" y="0" width="93.2" height="56.5" fill="url(#g2)"/>
<rect x="-1" y="4.10" width="93.2" height="0.8" fill="#afafaf" fill-opacity="0.6"/>
<rect x="-1" y="7.60" width="93.2" height="0.8" fill="#6e6e6e" fill-opacity="0.6"/>
<rect x="-1" y="10.20" width="93.2" height="0.6" fill="#969696" fill-opacity="0.5"/>
<path d="M0.0 17.74 L0.8 17.62 L1.5 17.61 L2.2 17.69 L3.0 17.88 L3.8 18.16 L4.5 18.54 L5.2 18.99 L6.0 19.51 L6.8 20.09 L7.5 20.71 L8.2 21.36 L9.0 21.58 L9.8 20.93 L10.5 20.29 L11.2 19.70 L12.0 19.16 L12.8 18.68 L13.5 18.28 L14.2 17.96 L15.0 17.74 L15.8 17.62 L16.5 17.61 L17.2 17.69 L18.0 17.88 L18.8 18.16 L19.5 18.54 L20.2 18.99 L21.0 19.51 L21.8 20.09 L22.5 20.71 L23.2 21.36 L24.0 21.58 L24.8 20.93 L25.5 20.29 L26.2 19.70 L27.0 19.16 L27.8 18.68 L28.5 18.28 L29.2 17.96 L30.0 17.74 L30.8 17.62 L31.5 17.61 L32.2 17.69 L33.0 17.88 L33.8 18.16 L34.5 18.54 L35.2 18.99 L36.0 19.51 L36.8 20.09 L37.5 20.71 L38.2 21.36 L39.0 21.58 L39.8 20.93 L40.5 20.29 L41.2 19.70 L42.0 19.16 L42.8 18.68 L43.5 18.28 L44.2 17.96 L45.0 17.74 L45.8 17.62 L46.5 17.61 L47.2 17.69 L48.0 17.88 L48.8 18.16 L49.5 18.54 L50.2 18.99 L51.0 19.51 L51.8 20.09 L52.5 20.71 L53.2 21.36 L54.0 21.58 L54.8 20.93 L55.5 20.29 L56.2 19.70 L57.0 19.16 L57.8 18.68 L58.5 18.28 L59.2 17.96 L60.0 17.74 L60.8 17.62 L61.5 17.61 L62.2 17.69 L63.0 17.88 L63.8 18.16 L64.5 18.54 L65.2 18.99 L66.0 19.51 L66.8 20.09 L67.5 20.71 L68.2 21.36 L69.0 21.58 L69.8 20.93 L70.5 20.29 L71.2 19.70 L72.0 19.16 L72.8 18.68 L73.5 18.28 L74.2 17.96 L75.0 17.74 L75.8 17.62 L76.5 17.61 L77.2 17.69 L78.0 17.88 L78.8 18.16 L79.5 18.54 L80.2 18.99 L81.0 19.51 L81.8 20.09 L82.5 20.71 L83.2 21.36 L84.0 21.58 L84.8 20.93 L85.5 20.29 L86.2 19.70 L87.0 19.16 L87.8 18.68 L88.5 18.28 L89.2 17.96 L90.0 17.74 L90.8 17.62 L91.2 17.60 L91.2 42.37 L90.8 42.68 L90.0 43.13 L89.2 43.48 L88.5 43.73 L87.8 43.87 L87.0 43.90 L86.2 43.81 L85.5 43.61 L84.8 43.30 L84.0 42.90 L83.2 42.40 L82.5 41.84 L81.8 41.21 L81.0 40.53 L80.2 39.83 L79.5 39.88 L78.8 40.58 L78.0 41.25 L77.2 41.88 L76.5 42.44 L75.8 42.93 L75.0 43.33 L74.2 43.63 L73.5 43.82 L72.8 43.90 L72.0 43.86 L71.2 43.72 L70.5 43.46 L69.8 43.10 L69.0 42.64 L68.2 42.11 L67.5 41.51 L66.8 40.85 L66.0 40.16 L65.2 39.55 L64.5 40.25 L63.8 40.94 L63.0 41.59 L62.2 42.18 L61.5 42.71 L60.8 43.15 L60.0 43.50 L59.2 43.74 L58.5 43.87 L57.8 43.89 L57.0 43.80 L56.2 43.59 L55.5 43.28 L54.8 42.87 L54.0 42.37 L53.2 41.79 L52.5 41.16 L51.8 40.49 L51.0 39.78 L50.2 39.93 L49.5 40.62 L48.8 41.29 L48.0 41.91 L47.2 42.47 L46.5 42.96 L45.8 43.35 L45.0 43.64 L44.2 43.83 L43.5 43.90 L42.8 43.86 L42.0 43.70 L41.2 43.44 L40.5 43.07 L39.8 42.61 L39.0 42.07 L38.2 41.46 L37.5 40.81 L36.8 40.11 L36.0 39.59 L35.2 40.30 L34.5 40.99 L33.8 41.63 L33.0 42.22 L32.2 42.74 L31.5 43.18 L30.8 43.52 L30.0 43.75 L29.2 43.88 L28.5 43.89 L27.8 43.79 L27.0 43.57 L26.2 43.25 L25.5 42.84 L24.8 42.33 L24.0 41.75 L23.2 41.12 L22.5 40.44 L21.8 39.74 L21.0 39.97 L20.2 40.67 L19.5 41.34 L18.8 41.95 L18.0 42.51 L17.2 42.99 L16.5 43.37 L15.8 43.66 L15.0 43.83 L14.2 43.90 L13.5 43.85 L12.8 43.69 L12.0 43.42 L11.2 43.04 L10.5 42.58 L9.8 42.03 L9.0 41.42 L8.2 40.76 L7.5 40.07 L6.8 39.64 L6.0 40.35 L5.2 41.03 L4.5 41.67 L3.8 42.26 L3.0 42.77 L2.2 43.20 L1.5 43.54 L0.8 43.77 L0.0 43.88Z" fill="#202020" fill-opacity="1"/>
<path d="M0.0 39.60 L0.8 39.60 L1.5 39.59 L2.2 39.58 L3.0 39.57 L3.8 39.56 L4.5 39.55 L5.2 39.53 L6.0 39.52 L6.8 39.50 L7.5 39.51 L8.2 39.53 L9.0 39.54 L9.8 39.56 L10.5 39.57 L11.2 39.58 L12.0 39.59 L12.8 39.60 L13.5 39.60 L14.2 39.60 L15.0 39.60 L15.8 39.59 L16.5 39.59 L17.2 39.58 L18.0 39.57 L18.8 39.56 L19.5 39.54 L20.2 39.53 L21.0 39.51 L21.8 39.51 L22.5 39.52 L23.2 39.54 L24.0 39.55 L24.8 39.56 L25.5 39.58 L26.2 39.59 L27.0 39.59 L27.8 39.60 L28.5 39.60 L29.2 39.60 L30.0 39.60 L30.8 39.59 L31.5 39.58 L32.2 39.57 L33.0 39.56 L33.8 39.55 L34.5 39.53 L35.2 39.52 L36.0 39.50 L36.8 39.51 L37.5 39.53 L38.2 39.54 L39.0 39.56 L39.8 39.57 L40.5 39.58 L41.2 39.59 L42.0 39.60 L42.8 39.60 L43.5 39.60 L44.2 39.60 L45.0 39.59 L45.8 39.59 L46.5 39.58 L47.2 39.57 L48.0 39.55 L48.8 39.54 L49.5 39.53 L50.2 39.51 L51.0 39.51 L51.8 39.52 L52.5 39.54 L53.2 39.55 L54.0 39.57 L54.8 39.58 L55.5 39.59 L56.2 39.59 L57.0 39.60 L57.8 39.60 L58.5 39.60 L59.2 39.60 L60.0 39.59 L60.8 39.58 L61.5 39.57 L62.2 39.56 L63.0 39.55 L63.8 39.53 L64.5 39.52 L65.2 39.50 L66.0 39.52 L66.8 39.53 L67.5 39.55 L68.2 39.56 L69.0 39.57 L69.8 39.58 L70.5 39.59 L71.2 39.60 L72.0 39.60 L72.8 39.60 L73.5 39.60 L74.2 39.59 L75.0 39.59 L75.8 39.58 L76.5 39.57 L77.2 39.55 L78.0 39.54 L78.8 39.52 L79.5 39.51 L80.2 39.51 L81.0 39.52 L81.8 39.54 L82.5 39.55 L83.2 39.57 L84.0 39.58 L84.8 39.59 L85.5 39.59 L86.2 39.60 L87.0 39.60 L87.8 39.60 L88.5 39.60 L89.2 39.59 L90.0 39.58 L90.8 39.57 L91.2 39.57 L91.2 42.37 L90.8 42.68 L90.0 43.13 L89.2 43.48 L88.5 43.73 L87.8 43.87 L87.0 43.90 L86.2 43.81 L85.5 43.61 L84.8 43.30 L84.0 42.90 L83.2 42.40 L82.5 41.84 L81.8 41.21 L81.0 40.53 L80.2 39.83 L79.5 39.88 L78.8 40.58 L78.0 41.25 L77.2 41.88 L76.5 42.44 L75.8 42.93 L75.0 43.33 L74.2 43.63 L73.5 43.82 L72.8 43.90 L72.0 43.86 L71.2 43.72 L70.5 43.46 L69.8 43.10 L69.0 42.64 L68.2 42.11 L67.5 41.51 L66.8 40.85 L66.0 40.16 L65.2 39.55 L64.5 40.25 L63.8 40.94 L63.0 41.59 L62.2 42.18 L61.5 42.71 L60.8 43.15 L60.0 43.50 L59.2 43.74 L58.5 43.87 L57.8 43.89 L57.0 43.80 L56.2 43.59 L55.5 43.28 L54.8 42.87 L54.0 42.37 L53.2 41.79 L52.5 41.16 L51.8 40.49 L51.0 39.78 L50.2 39.93 L49.5 40.62 L48.8 41.29 L48.0 41.91 L47.2 42.47 L46.5 42.96 L45.8 43.35 L45.0 43.64 L44.2 43.83 L43.5 43.90 L42.8 43.86 L42.0 43.70 L41.2 43.44 L40.5 43.07 L39.8 42.61 L39.0 42.07 L38.2 41.46 L37.5 40.81 L36.8 40.11 L36.0 39.59 L35.2 40.30 L34.5 40.99 L33.8 41.63 L33.0 42.22 L32.2 42.74 L31.5 43.18 L30.8 43.52 L30.0 43.75 L29.2 43.88 L28.5 43.89 L27.8 43.79 L27.0 43.57 L26.2 43.25 L25.5 42.84 L24.8 42.33 L24.0 41.75 L23.2 41.12 L22.5 40.44 L21.8 39.74 L21.0 39.97 L20.2 40.67 L19.5 41.34 L18.8 41.95 L18.0 42.51 L17.2 42.99 L16.5 43.37 L15.8 43.66 L15.0 43.83 L14.2 43.90 L13.5 43.85 L12.8 43.69 L12.0 43.42 L11.2 43.04 L10.5 42.58 L9.8 42.03 L9.0 41.42 L8.2 40.76 L7.5 40.07 L6.8 39.64 L6.0 40.35 L5.2 41.03 L4.5 41.67 L3.8 42.26 L3.0 42.77 L2.2 43.20 L1.5 43.54 L0.8 43.77 L0.0 43.88Z" fill="#202020" fill-opacity="0.0"/>
<path d="M0.0 49.97 L0.8 49.74 L1.5 49.30 L2.2 48.72 L3.0 48.04 L3.8 47.33 L4.5 46.67 L5.2 46.13 L6.0 45.76 L6.8 45.60 L7.5 45.67 L8.2 45.96 L9.0 46.44 L9.8 47.06 L10.5 47.75 L11.2 48.45 L12.0 49.09 L12.8 49.59 L13.5 49.90 L14.2 50.00 L15.0 49.87 L15.8 49.53 L16.5 49.01 L17.2 48.36 L18.0 47.66 L18.8 46.97 L19.5 46.37 L20.2 45.91 L21.0 45.65 L21.8 45.61 L22.5 45.80 L23.2 46.19 L24.0 46.76 L24.8 47.42 L25.5 48.13 L26.2 48.80 L27.0 49.37 L27.8 49.78 L28.5 49.98 L29.2 49.96 L30.0 49.71 L30.8 49.27 L31.5 48.67 L32.2 47.99 L33.0 47.28 L33.8 46.63 L34.5 46.10 L35.2 45.75 L36.0 45.60 L36.8 45.69 L37.5 45.99 L38.2 46.48 L39.0 47.10 L39.8 47.80 L40.5 48.50 L41.2 49.12 L42.0 49.61 L42.8 49.91 L43.5 50.00 L44.2 49.85 L45.0 49.50 L45.8 48.97 L46.5 48.32 L47.2 47.61 L48.0 46.93 L48.8 46.33 L49.5 45.89 L50.2 45.64 L51.0 45.62 L51.8 45.82 L52.5 46.23 L53.2 46.80 L54.0 47.47 L54.8 48.18 L55.5 48.84 L56.2 49.41 L57.0 49.80 L57.8 49.99 L58.5 49.95 L59.2 49.69 L60.0 49.23 L60.8 48.63 L61.5 47.94 L62.2 47.24 L63.0 46.59 L63.8 46.07 L64.5 45.73 L65.2 45.60 L66.0 45.70 L66.8 46.01 L67.5 46.51 L68.2 47.15 L69.0 47.85 L69.8 48.54 L70.5 49.16 L71.2 49.64 L72.0 49.93 L72.8 50.00 L73.5 49.84 L74.2 49.47 L75.0 48.93 L75.8 48.27 L76.5 47.56 L77.2 46.88 L78.0 46.30 L78.8 45.86 L79.5 45.63 L80.2 45.62 L81.0 45.84 L81.8 46.26 L82.5 46.84 L83.2 47.52 L84.0 48.22 L84.8 48.89 L85.5 49.44 L86.2 49.82 L87.0 49.99 L87.8 49.94 L88.5 49.66 L89.2 49.20 L90.0 48.59 L90.8 47.89 L91.2 47.47 L91.2 51.93 L90.8 52.28 L90.0 52.84 L89.2 53.34 L88.5 53.73 L87.8 53.95 L87.0 53.99 L86.2 53.85 L85.5 53.54 L84.8 53.09 L84.0 52.55 L83.2 51.97 L82.5 51.41 L81.8 50.94 L81.0 50.60 L80.2 50.42 L79.5 50.43 L78.8 50.62 L78.0 50.97 L77.2 51.45 L76.5 52.01 L75.8 52.58 L75.0 53.12 L74.2 53.56 L73.5 53.87 L72.8 54.00 L72.0 53.94 L71.2 53.70 L70.5 53.31 L69.8 52.81 L69.0 52.24 L68.2 51.67 L67.5 51.15 L66.8 50.74 L66.0 50.48 L65.2 50.40 L64.5 50.51 L63.8 50.79 L63.0 51.21 L62.2 51.74 L61.5 52.32 L60.8 52.88 L60.0 53.37 L59.2 53.75 L58.5 53.96 L57.8 53.99 L57.0 53.84 L56.2 53.51 L55.5 53.05 L54.8 52.51 L54.0 51.93 L53.2 51.38 L52.5 50.91 L51.8 50.58 L51.0 50.41 L50.2 50.43 L49.5 50.63 L48.8 51.00 L48.0 51.48 L47.2 52.05 L46.5 52.62 L45.8 53.16 L45.0 53.59 L44.2 53.88 L43.5 54.00 L42.8 53.93 L42.0 53.68 L41.2 53.28 L40.5 52.77 L39.8 52.20 L39.0 51.63 L38.2 51.12 L37.5 50.72 L36.8 50.47 L36.0 50.40 L35.2 50.52 L34.5 50.81 L33.8 51.24 L33.0 51.78 L32.2 52.35 L31.5 52.92 L30.8 53.40 L30.0 53.77 L29.2 53.97 L28.5 53.99 L27.8 53.82 L27.0 53.49 L26.2 53.02 L25.5 52.47 L24.8 51.89 L24.0 51.35 L23.2 50.89 L22.5 50.56 L21.8 50.41 L21.0 50.44 L20.2 50.65 L19.5 51.03 L18.8 51.52 L18.0 52.08 L17.2 52.66 L16.5 53.19 L15.8 53.61 L15.0 53.89 L14.2 54.00 L13.5 53.92 L12.8 53.66 L12.0 53.25 L11.2 52.73 L10.5 52.16 L9.8 51.59 L9.0 51.09 L8.2 50.70 L7.5 50.46 L6.8 50.40 L6.0 50.53 L5.2 50.84 L4.5 51.28 L3.8 51.82 L3.0 52.39 L2.2 52.95 L1.5 53.43 L0.8 53.78 L0.0 53.97Z" fill="#cdcdcd" fill-opacity="1"/>
</g><g filter="url(#bl)">
<path d="M0.0 50.77 L0.8 50.54 L1.5 50.10 L2.2 49.52 L3.0 48.84 L3.8 48.13 L4.5 47.47 L5.2 46.93 L6.0 46.56 L6.8 46.40 L7.5 46.47 L8.2 46.76 L9.0 47.24 L9.8 47.86 L10.5 48.55 L11.2 49.25 L12.0 49.89 L12.8 50.39 L13.5 50.70 L14.2 50.80 L15.0 50.67 L15.8 50.33 L16.5 49.81 L17.2 49.16 L18.0 48.46 L18.8 47.77 L19.5 47.17 L20.2 46.71 L21.0 46.45 L21.8 46.41 L22.5 46.60 L23.2 46.99 L24.0 47.56 L24.8 48.22 L25.5 48.93 L26.2 49.60 L27.0 50.17 L27.8 50.58 L28.5 50.78 L29.2 50.76 L30.0 50.51 L30.8 50.07 L31.5 49.47 L32.2 48.79 L33.0 48.08 L33.8 47.43 L34.5 46.90 L35.2 46.55 L36.0 46.40 L36.8 46.49 L37.5 46.79 L38.2 47.28 L39.0 47.90 L39.8 48.60 L40.5 49.30 L41.2 49.92 L42.0 50.41 L42.8 50.71 L43.5 50.80 L44.2 50.65 L45.0 50.30 L45.8 49.77 L46.5 49.12 L47.2 48.41 L48.0 47.73 L48.8 47.13 L49.5 46.69 L50.2 46.44 L51.0 46.42 L51.8 46.62 L52.5 47.03 L53.2 47.60 L54.0 48.27 L54.8 48.98 L55.5 49.64 L56.2 50.21 L57.0 50.60 L57.8 50.79 L58.5 50.75 L59.2 50.49 L60.0 50.03 L60.8 49.43 L61.5 48.74 L62.2 48.04 L63.0 47.39 L63.8 46.87 L64.5 46.53 L65.2 46.40 L66.0 46.50 L66.8 46.81 L67.5 47.31 L68.2 47.95 L69.0 48.65 L69.8 49.34 L70.5 49.96 L71.2 50.44 L72.0 50.73 L72.8 50.80 L73.5 50.64 L74.2 50.27 L75.0 49.73 L75.8 49.07 L76.5 48.36 L77.2 47.68 L78.0 47.10 L78.8 46.66 L79.5 46.43 L80.2 46.42 L81.0 46.64 L81.8 47.06 L82.5 47.64 L83.2 48.32 L84.0 49.02 L84.8 49.69 L85.5 50.24 L86.2 50.62 L87.0 50.79 L87.8 50.74 L88.5 50.46 L89.2 50.00 L90.0 49.39 L90.8 48.69 L91.2 48.27" stroke="#e4e4e4" stroke-width="2.0" fill="none" stroke-opacity="0.8"/>
<path d="M0.0 12.60 L0.8 12.60 L1.5 12.60 L2.2 12.60 L3.0 12.60 L3.8 12.60 L4.5 12.60 L5.2 12.60 L6.0 12.60 L6.8 12.60 L7.5 12.60 L8.2 12.60 L9.0 12.60 L9.8 12.60 L10.5 12.60 L11.2 12.60 L12.0 12.60 L12.8 12.60 L13.5 12.60 L14.2 12.60 L15.0 12.60 L15.8 12.60 L16.5 12.60 L17.2 12.60 L18.0 12.60 L18.8 12.60 L19.5 12.60 L20.2 12.60 L21.0 12.60 L21.8 12.60 L22.5 12.60 L23.2 12.60 L24.0 12.60 L24.8 12.60 L25.5 12.60 L26.2 12.60 L27.0 12.60 L27.8 12.60 L28.5 12.60 L29.2 12.60 L30.0 12.60 L30.8 12.60 L31.5 12.60 L32.2 12.60 L33.0 12.60 L33.8 12.60 L34.5 12.60 L35.2 12.60 L36.0 12.60 L36.8 12.60 L37.5 12.60 L38.2 12.60 L39.0 12.60 L39.8 12.60 L40.5 12.60 L41.2 12.60 L42.0 12.60 L42.8 12.60 L43.5 12.60 L44.2 12.60 L45.0 12.60 L45.8 12.60 L46.5 12.60 L47.2 12.60 L48.0 12.60 L48.8 12.60 L49.5 12.60 L50.2 12.60 L51.0 12.60 L51.8 12.60 L52.5 12.60 L53.2 12.60 L54.0 12.60 L54.8 12.60 L55.5 12.60 L56.2 12.60 L57.0 12.60 L57.8 12.60 L58.5 12.60 L59.2 12.60 L60.0 12.60 L60.8 12.60 L61.5 12.60 L62.2 12.60 L63.0 12.60 L63.8 12.60 L64.5 12.60 L65.2 12.60 L66.0 12.60 L66.8 12.60 L67.5 12.60 L68.2 12.60 L69.0 12.60 L69.8 12.60 L70.5 12.60 L71.2 12.60 L72.0 12.60 L72.8 12.60 L73.5 12.60 L74.2 12.60 L75.0 12.60 L75.8 12.60 L76.5 12.60 L77.2 12.60 L78.0 12.60 L78.8 12.60 L79.5 12.60 L80.2 12.60 L81.0 12.60 L81.8 12.60 L82.5 12.60 L83.2 12.60 L84.0 12.60 L84.8 12.60 L85.5 12.60 L86.2 12.60 L87.0 12.60 L87.8 12.60 L88.5 12.60 L89.2 12.60 L90.0 12.60 L90.8 12.60 L91.2 12.60" stroke="#e8e8e8" stroke-width="1.5" fill="none" stroke-opacity="1"/>
</g></g>
<clipPath id="c3"><rect x="0" y="0" width="91.2" height="57.2"/></clipPath>
<g transform="translate(126.5,91.5)" clip-path="url(#c3)"><g filter="url(#spk11)">
<linearGradient id="g3" x1="0" y1="0" x2="0" y2="1"><stop offset="0.0000" stop-color="#acacac"/><stop offset="0.0612" stop-color="#a0a0a0"/><stop offset="0.0874" stop-color="#585858"/><stop offset="0.2622" stop-color="#545454"/><stop offset="0.3059" stop-color="#545454"/><stop offset="0.3147" stop-color="#282828"/><stop offset="0.6119" stop-color="#282828"/><stop offset="0.6294" stop-color="#646464"/><stop offset="0.7605" stop-color="#5f5f5f"/><stop offset="0.7780" stop-color="#969696"/><stop offset="0.8741" stop-color="#969696"/><stop offset="0.8916" stop-color="#7d7d7d"/><stop offset="1.0000" stop-color="#737373"/></linearGradient>
<rect x="-1" y="0" width="93.2" height="57.2" fill="url(#g3)"/>
<path d="M0.0 14.31 L0.8 14.31 L1.5 14.37 L2.2 14.49 L3.0 14.67 L3.8 14.90 L4.5 15.18 L5.2 15.50 L6.0 15.86 L6.8 16.24 L7.5 16.63 L8.2 16.77 L9.0 16.37 L9.8 15.98 L10.5 15.62 L11.2 15.28 L12.0 14.99 L12.8 14.74 L13.5 14.54 L14.2 14.40 L15.0 14.32 L15.8 14.30 L16.5 14.34 L17.2 14.45 L18.0 14.61 L18.8 14.83 L19.5 15.10 L20.2 15.41 L21.0 15.76 L21.8 16.13 L22.5 16.53 L23.2 16.87 L24.0 16.47 L24.8 16.08 L25.5 15.71 L26.2 15.37 L27.0 15.06 L27.8 14.80 L28.5 14.59 L29.2 14.43 L30.0 14.34 L30.8 14.30 L31.5 14.33 L32.2 14.42 L33.0 14.56 L33.8 14.77 L34.5 15.02 L35.2 15.32 L36.0 15.66 L36.8 16.03 L37.5 16.42 L38.2 16.82 L39.0 16.58 L39.8 16.18 L40.5 15.81 L41.2 15.46 L42.0 15.14 L42.8 14.86 L43.5 14.64 L44.2 14.47 L45.0 14.36 L45.8 14.30 L46.5 14.31 L47.2 14.39 L48.0 14.52 L48.8 14.71 L49.5 14.95 L50.2 15.24 L51.0 15.57 L51.8 15.93 L52.5 16.31 L53.2 16.71 L54.0 16.69 L54.8 16.29 L55.5 15.91 L56.2 15.55 L57.0 15.22 L57.8 14.93 L58.5 14.69 L59.2 14.51 L60.0 14.38 L60.8 14.31 L61.5 14.30 L62.2 14.36 L63.0 14.48 L63.8 14.65 L64.5 14.88 L65.2 15.16 L66.0 15.48 L66.8 15.83 L67.5 16.21 L68.2 16.61 L69.0 16.79 L69.8 16.39 L70.5 16.01 L71.2 15.64 L72.0 15.30 L72.8 15.01 L73.5 14.75 L74.2 14.55 L75.0 14.41 L75.8 14.32 L76.5 14.30 L77.2 14.34 L78.0 14.44 L78.8 14.60 L79.5 14.82 L80.2 15.08 L81.0 15.39 L81.8 15.73 L82.5 16.11 L83.2 16.50 L84.0 16.90 L84.8 16.50 L85.5 16.11 L86.2 15.73 L87.0 15.39 L87.8 15.08 L88.5 14.82 L89.2 14.60 L90.0 14.44 L90.8 14.34 L91.2 14.31 L91.2 37.30 L90.8 37.40 L90.0 37.49 L89.2 37.49 L88.5 37.41 L87.8 37.24 L87.0 36.99 L86.2 36.67 L85.5 36.28 L84.8 35.84 L84.0 35.35 L83.2 34.82 L82.5 34.27 L81.8 34.09 L81.0 34.64 L80.2 35.17 L79.5 35.68 L78.8 36.14 L78.0 36.55 L77.2 36.89 L76.5 37.17 L75.8 37.36 L75.0 37.47 L74.2 37.50 L73.5 37.44 L72.8 37.29 L72.0 37.07 L71.2 36.76 L70.5 36.39 L69.8 35.96 L69.0 35.48 L68.2 34.96 L67.5 34.42 L66.8 33.94 L66.0 34.49 L65.2 35.03 L64.5 35.55 L63.8 36.02 L63.0 36.45 L62.2 36.81 L61.5 37.10 L60.8 37.32 L60.0 37.45 L59.2 37.50 L58.5 37.46 L57.8 37.34 L57.0 37.13 L56.2 36.85 L55.5 36.50 L54.8 36.08 L54.0 35.61 L53.2 35.10 L52.5 34.57 L51.8 34.01 L51.0 34.35 L50.2 34.89 L49.5 35.41 L48.8 35.90 L48.0 36.34 L47.2 36.72 L46.5 37.03 L45.8 37.27 L45.0 37.42 L44.2 37.50 L43.5 37.48 L42.8 37.38 L42.0 37.20 L41.2 36.93 L40.5 36.60 L39.8 36.20 L39.0 35.74 L38.2 35.24 L37.5 34.71 L36.8 34.16 L36.0 34.20 L35.2 34.75 L34.5 35.28 L33.8 35.77 L33.0 36.23 L32.2 36.62 L31.5 36.95 L30.8 37.21 L30.0 37.39 L29.2 37.48 L28.5 37.49 L27.8 37.42 L27.0 37.25 L26.2 37.01 L25.5 36.69 L24.8 36.31 L24.0 35.87 L23.2 35.38 L22.5 34.86 L21.8 34.31 L21.0 34.05 L20.2 34.60 L19.5 35.14 L18.8 35.65 L18.0 36.11 L17.2 36.52 L16.5 36.87 L15.8 37.15 L15.0 37.35 L14.2 37.47 L13.5 37.50 L12.8 37.44 L12.0 37.30 L11.2 37.08 L10.5 36.79 L9.8 36.42 L9.0 35.99 L8.2 35.51 L7.5 35.00 L6.8 34.46 L6.0 33.90 L5.2 34.46 L4.5 35.00 L3.8 35.51 L3.0 35.99 L2.2 36.42 L1.5 36.79 L0.8 37.08 L0.0 37.30Z" fill="#242424" fill-opacity="1"/>
<path d="M0.0 47.18 L0.8 46.73 L1.5 46.17 L2.2 45.56 L3.0 44.95 L3.8 44.40 L4.5 43.97 L5.2 43.70 L6.0 43.60 L6.8 43.70 L7.5 43.97 L8.2 44.40 L9.0 44.95 L9.8 45.56 L10.5 46.17 L11.2 46.73 L12.0 47.18 L12.8 47.48 L13.5 47.60 L14.2 47.53 L15.0 47.27 L15.8 46.86 L16.5 46.33 L17.2 45.72 L18.0 45.11 L18.8 44.54 L19.5 44.07 L20.2 43.75 L21.0 43.61 L21.8 43.65 L22.5 43.88 L23.2 44.28 L24.0 44.80 L24.8 45.39 L25.5 46.01 L26.2 46.59 L27.0 47.07 L27.8 47.41 L28.5 47.58 L29.2 47.57 L30.0 47.36 L30.8 46.98 L31.5 46.48 L32.2 45.89 L33.0 45.27 L33.8 44.68 L34.5 44.19 L35.2 43.82 L36.0 43.63 L36.8 43.62 L37.5 43.80 L38.2 44.16 L39.0 44.65 L39.8 45.23 L40.5 45.85 L41.2 46.44 L42.0 46.95 L42.8 47.34 L43.5 47.56 L44.2 47.59 L45.0 47.43 L45.8 47.10 L46.5 46.62 L47.2 46.05 L48.0 45.43 L48.8 44.83 L49.5 44.31 L50.2 43.90 L51.0 43.66 L51.8 43.60 L52.5 43.74 L53.2 44.05 L54.0 44.51 L54.8 45.07 L55.5 45.68 L56.2 46.29 L57.0 46.83 L57.8 47.25 L58.5 47.52 L59.2 47.60 L60.0 47.49 L60.8 47.20 L61.5 46.76 L62.2 46.21 L63.0 45.60 L63.8 44.99 L64.5 44.44 L65.2 44.00 L66.0 43.71 L66.8 43.60 L67.5 43.68 L68.2 43.95 L69.0 44.37 L69.8 44.91 L70.5 45.52 L71.2 46.13 L72.0 46.69 L72.8 47.15 L73.5 47.46 L74.2 47.60 L75.0 47.54 L75.8 47.30 L76.5 46.89 L77.2 46.37 L78.0 45.77 L78.8 45.15 L79.5 44.58 L80.2 44.10 L81.0 43.77 L81.8 43.61 L82.5 43.64 L83.2 43.86 L84.0 44.25 L84.8 44.76 L85.5 45.35 L86.2 45.97 L87.0 46.55 L87.8 47.04 L88.5 47.40 L89.2 47.58 L90.0 47.57 L90.8 47.38 L91.2 47.18 L91.2 51.86 L90.8 52.02 L90.0 52.18 L89.2 52.18 L88.5 52.04 L87.8 51.75 L87.0 51.36 L86.2 50.90 L85.5 50.40 L84.8 49.93 L84.0 49.52 L83.2 49.21 L82.5 49.03 L81.8 49.01 L81.0 49.13 L80.2 49.40 L79.5 49.78 L78.8 50.24 L78.0 50.73 L77.2 51.21 L76.5 51.63 L75.8 51.96 L75.0 52.15 L74.2 52.20 L73.5 52.09 L72.8 51.84 L72.0 51.48 L71.2 51.02 L70.5 50.53 L69.8 50.05 L69.0 49.62 L68.2 49.28 L67.5 49.07 L66.8 49.00 L66.0 49.09 L65.2 49.32 L64.5 49.67 L63.8 50.11 L63.0 50.60 L62.2 51.09 L61.5 51.53 L60.8 51.88 L60.0 52.11 L59.2 52.20 L58.5 52.13 L57.8 51.92 L57.0 51.58 L56.2 51.15 L55.5 50.67 L54.8 50.18 L54.0 49.72 L53.2 49.36 L52.5 49.11 L51.8 49.00 L51.0 49.05 L50.2 49.24 L49.5 49.57 L48.8 49.99 L48.0 50.47 L47.2 50.96 L46.5 51.42 L45.8 51.80 L45.0 52.07 L44.2 52.19 L43.5 52.17 L42.8 51.99 L42.0 51.68 L41.2 51.27 L40.5 50.80 L39.8 50.30 L39.0 49.84 L38.2 49.45 L37.5 49.16 L36.8 49.02 L36.0 49.02 L35.2 49.18 L34.5 49.47 L33.8 49.87 L33.0 50.34 L32.2 50.83 L31.5 51.30 L30.8 51.71 L30.0 52.01 L29.2 52.17 L28.5 52.19 L27.8 52.05 L27.0 51.78 L26.2 51.39 L25.5 50.93 L24.8 50.43 L24.0 49.96 L23.2 49.54 L22.5 49.23 L21.8 49.04 L21.0 49.01 L20.2 49.12 L19.5 49.38 L18.8 49.75 L18.0 50.21 L17.2 50.70 L16.5 51.18 L15.8 51.61 L15.0 51.94 L14.2 52.14 L13.5 52.20 L12.8 52.10 L12.0 51.86 L11.2 51.50 L10.5 51.06 L9.8 50.57 L9.0 50.08 L8.2 49.64 L7.5 49.30 L6.8 49.08 L6.0 49.00 L5.2 49.08 L4.5 49.30 L3.8 49.64 L3.0 50.08 L2.2 50.57 L1.5 51.06 L0.8 51.50 L0.0 51.86Z" fill="#e8e8e8" fill-opacity="1"/>
<ellipse cx="8.0" cy="29.0" rx="3.0" ry="2.6" fill="#767676" fill-opacity="0.75"/>
<ellipse cx="23.2" cy="29.0" rx="3.0" ry="2.6" fill="#767676" fill-opacity="0.75"/>
<ellipse cx="38.4" cy="29.0" rx="3.0" ry="2.6" fill="#767676" fill-opacity="0.75"/>
<ellipse cx="53.6" cy="29.0" rx="3.0" ry="2.6" fill="#767676" fill-opacity="0.75"/>
<ellipse cx="68.8" cy="29.0" rx="3.0" ry="2.6" fill="#767676" fill-opacity="0.75"/>
<ellipse cx="84.0" cy="29.0" rx="3.0" ry="2.6" fill="#767676" fill-opacity="0.75"/>
<ellipse cx="8.0" cy="16.2" rx="3.2" ry="1.6" fill="#919191" fill-opacity="0.75"/>
<ellipse cx="23.2" cy="16.2" rx="3.2" ry="1.6" fill="#919191" fill-opacity="0.75"/>
<ellipse cx="38.4" cy="16.2" rx="3.2" ry="1.6" fill="#919191" fill-opacity="0.75"/>
<ellipse cx="53.6" cy="16.2" rx="3.2" ry="1.6" fill="#919191" fill-opacity="0.75"/>
<ellipse cx="68.8" cy="16.2" rx="3.2" ry="1.6" fill="#919191" fill-opacity="0.75"/>
<ellipse cx="84.0" cy="16.2" rx="3.2" ry="1.6" fill="#919191" fill-opacity="0.75"/>
<ellipse cx="8.0" cy="22.5" rx="0.9" ry="0.9" fill="#6e6e6e" fill-opacity="0.7"/>
<ellipse cx="23.2" cy="22.5" rx="0.9" ry="0.9" fill="#6e6e6e" fill-opacity="0.7"/>
<ellipse cx="38.4" cy="22.5" rx="0.9" ry="0.9" fill="#6e6e6e" fill-opacity="0.7"/>
<ellipse cx="53.6" cy="22.5" rx="0.9" ry="0.9" fill="#6e6e6e" fill-opacity="0.7"/>
<ellipse cx="68.8" cy="22.5" rx="0.9" ry="0.9" fill="#6e6e6e" fill-opacity="0.7"/>
<ellipse cx="84.0" cy="22.5" rx="0.9" ry="0.9" fill="#6e6e6e" fill-opacity="0.7"/>
</g><g filter="url(#bl)">
</g></g>
<text x="267.2" y="27.4" class="tk" text-anchor="middle">6W</text>
<clipPath id="c4"><rect x="0" y="0" width="91.8" height="56.5"/></clipPath>
<g transform="translate(221.3,31)" clip-path="url(#c4)"><g filter="url(#spk20)">
<linearGradient id="g4" x1="0" y1="0" x2="0" y2="1"><stop offset="0.0000" stop-color="#7d7d7d"/><stop offset="0.0531" stop-color="#707070"/><stop offset="0.0796" stop-color="#464646"/><stop offset="0.1239" stop-color="#505050"/><stop offset="0.1504" stop-color="#6e6e6e"/><stop offset="0.1947" stop-color="#707070"/><stop offset="0.3009" stop-color="#696969"/><stop offset="0.7080" stop-color="#6e6e6e"/><stop offset="0.7788" stop-color="#787878"/><stop offset="0.8319" stop-color="#afafaf"/><stop offset="0.8850" stop-color="#969696"/><stop offset="0.9867" stop-color="#787878"/><stop offset="1.0000" stop-color="#6e6e6e"/></linearGradient>
<rect x="-1" y="0" width="93.8" height="56.5" fill="url(#g4)"/>
<rect x="-1" y="1.40" width="93.8" height="0.8" fill="#969696" fill-opacity="0.5"/>
<path d="M0.0 17.55 L0.8 17.43 L1.5 17.40 L2.2 17.46 L3.0 17.62 L3.8 17.85 L4.5 18.17 L5.2 18.55 L6.0 19.00 L6.8 19.51 L7.5 20.05 L8.2 20.62 L9.0 21.20 L9.8 20.62 L10.5 20.05 L11.2 19.51 L12.0 19.00 L12.8 18.55 L13.5 18.17 L14.2 17.85 L15.0 17.62 L15.8 17.46 L16.5 17.40 L17.2 17.43 L18.0 17.55 L18.8 17.75 L19.5 18.03 L20.2 18.39 L21.0 18.82 L21.8 19.30 L22.5 19.83 L23.2 20.39 L24.0 20.97 L24.8 20.85 L25.5 20.27 L26.2 19.72 L27.0 19.20 L27.8 18.73 L28.5 18.31 L29.2 17.97 L30.0 17.70 L30.8 17.51 L31.5 17.42 L32.2 17.41 L33.0 17.49 L33.8 17.66 L34.5 17.91 L35.2 18.24 L36.0 18.64 L36.8 19.10 L37.5 19.61 L38.2 20.16 L39.0 20.73 L39.8 21.08 L40.5 20.50 L41.2 19.94 L42.0 19.40 L42.8 18.91 L43.5 18.47 L44.2 18.10 L45.0 17.80 L45.8 17.58 L46.5 17.44 L47.2 17.40 L48.0 17.44 L48.8 17.58 L49.5 17.80 L50.2 18.10 L51.0 18.47 L51.8 18.91 L52.5 19.40 L53.2 19.94 L54.0 20.50 L54.8 21.08 L55.5 20.73 L56.2 20.16 L57.0 19.61 L57.8 19.10 L58.5 18.64 L59.2 18.24 L60.0 17.91 L60.8 17.66 L61.5 17.49 L62.2 17.41 L63.0 17.42 L63.8 17.51 L64.5 17.70 L65.2 17.97 L66.0 18.31 L66.8 18.73 L67.5 19.20 L68.2 19.72 L69.0 20.27 L69.8 20.85 L70.5 20.97 L71.2 20.39 L72.0 19.83 L72.8 19.30 L73.5 18.82 L74.2 18.39 L75.0 18.03 L75.8 17.75 L76.5 17.55 L77.2 17.43 L78.0 17.40 L78.8 17.46 L79.5 17.62 L80.2 17.85 L81.0 18.17 L81.8 18.55 L82.5 19.00 L83.2 19.51 L84.0 20.05 L84.8 20.62 L85.5 21.20 L86.2 20.62 L87.0 20.05 L87.8 19.51 L88.5 19.00 L89.2 18.55 L90.0 18.17 L90.8 17.85 L91.5 17.62 L91.8 17.55 L91.8 41.96 L91.5 41.99 L90.8 41.97 L90.0 41.82 L89.2 41.53 L88.5 41.13 L87.8 40.62 L87.0 40.00 L86.2 39.30 L85.5 38.53 L84.8 37.71 L84.0 36.86 L83.2 36.80 L82.5 37.65 L81.8 38.48 L81.0 39.25 L80.2 39.96 L79.5 40.58 L78.8 41.10 L78.0 41.51 L77.2 41.80 L76.5 41.96 L75.8 42.00 L75.0 41.89 L74.2 41.66 L73.5 41.31 L72.8 40.83 L72.0 40.26 L71.2 39.59 L70.5 38.84 L69.8 38.04 L69.0 37.20 L68.2 36.46 L67.5 37.32 L66.8 38.15 L66.0 38.95 L65.2 39.68 L64.5 40.34 L63.8 40.90 L63.0 41.36 L62.2 41.70 L61.5 41.91 L60.8 42.00 L60.0 41.95 L59.2 41.77 L58.5 41.46 L57.8 41.04 L57.0 40.50 L56.2 39.87 L55.5 39.15 L54.8 38.37 L54.0 37.54 L53.2 36.69 L52.5 36.97 L51.8 37.82 L51.0 38.64 L50.2 39.40 L49.5 40.09 L48.8 40.69 L48.0 41.19 L47.2 41.58 L46.5 41.84 L45.8 41.98 L45.0 41.99 L44.2 41.86 L43.5 41.60 L42.8 41.22 L42.0 40.73 L41.2 40.13 L40.5 39.45 L39.8 38.69 L39.0 37.88 L38.2 37.03 L37.5 36.63 L36.8 37.49 L36.0 38.32 L35.2 39.10 L34.5 39.82 L33.8 40.46 L33.0 41.00 L32.2 41.44 L31.5 41.75 L30.8 41.94 L30.0 42.00 L29.2 41.92 L28.5 41.72 L27.8 41.39 L27.0 40.94 L26.2 40.38 L25.5 39.73 L24.8 39.00 L24.0 38.21 L23.2 37.37 L22.5 36.51 L21.8 37.15 L21.0 37.99 L20.2 38.79 L19.5 39.54 L18.8 40.21 L18.0 40.80 L17.2 41.28 L16.5 41.64 L15.8 41.88 L15.0 41.99 L14.2 41.97 L13.5 41.82 L12.8 41.53 L12.0 41.13 L11.2 40.62 L10.5 40.00 L9.8 39.30 L9.0 38.53 L8.2 37.71 L7.5 36.86 L6.8 36.80 L6.0 37.65 L5.2 38.48 L4.5 39.25 L3.8 39.96 L3.0 40.58 L2.2 41.10 L1.5 41.51 L0.8 41.80 L0.0 41.96Z" fill="#242424" fill-opacity="1"/>
<path d="M0.0 41.96 L0.8 41.80 L1.5 41.51 L2.2 41.10 L3.0 40.58 L3.8 39.96 L4.5 39.25 L5.2 38.48 L6.0 37.65 L6.8 36.80 L7.5 36.86 L8.2 37.71 L9.0 38.53 L9.8 39.30 L10.5 40.00 L11.2 40.62 L12.0 41.13 L12.8 41.53 L13.5 41.82 L14.2 41.97 L15.0 41.99 L15.8 41.88 L16.5 41.64 L17.2 41.28 L18.0 40.80 L18.8 40.21 L19.5 39.54 L20.2 38.79 L21.0 37.99 L21.8 37.15 L22.5 36.51 L23.2 37.37 L24.0 38.21 L24.8 39.00 L25.5 39.73 L26.2 40.38 L27.0 40.94 L27.8 41.39 L28.5 41.72 L29.2 41.92 L30.0 42.00 L30.8 41.94 L31.5 41.75 L32.2 41.44 L33.0 41.00 L33.8 40.46 L34.5 39.82 L35.2 39.10 L36.0 38.32 L36.8 37.49 L37.5 36.63 L38.2 37.03 L39.0 37.88 L39.8 38.69 L40.5 39.45 L41.2 40.13 L42.0 40.73 L42.8 41.22 L43.5 41.60 L44.2 41.86 L45.0 41.99 L45.8 41.98 L46.5 41.84 L47.2 41.58 L48.0 41.19 L48.8 40.69 L49.5 40.09 L50.2 39.40 L51.0 38.64 L51.8 37.82 L52.5 36.97 L53.2 36.69 L54.0 37.54 L54.8 38.37 L55.5 39.15 L56.2 39.87 L57.0 40.50 L57.8 41.04 L58.5 41.46 L59.2 41.77 L60.0 41.95 L60.8 42.00 L61.5 41.91 L62.2 41.70 L63.0 41.36 L63.8 40.90 L64.5 40.34 L65.2 39.68 L66.0 38.95 L66.8 38.15 L67.5 37.32 L68.2 36.46 L69.0 37.20 L69.8 38.04 L70.5 38.84 L71.2 39.59 L72.0 40.26 L72.8 40.83 L73.5 41.31 L74.2 41.66 L75.0 41.89 L75.8 42.00 L76.5 41.96 L77.2 41.80 L78.0 41.51 L78.8 41.10 L79.5 40.58 L80.2 39.96 L81.0 39.25 L81.8 38.48 L82.5 37.65 L83.2 36.80 L84.0 36.86 L84.8 37.71 L85.5 38.53 L86.2 39.30 L87.0 40.00 L87.8 40.62 L88.5 41.13 L89.2 41.53 L90.0 41.82 L90.8 41.97 L91.5 41.99 L91.8 41.96 L91.8 46.25 L91.5 46.29 L90.8 46.26 L90.0 46.07 L89.2 45.73 L88.5 45.27 L87.8 44.74 L87.0 44.19 L86.2 43.66 L85.5 43.22 L84.8 42.90 L84.0 42.72 L83.2 42.72 L82.5 42.88 L81.8 43.19 L81.0 43.63 L80.2 44.15 L79.5 44.70 L78.8 45.24 L78.0 45.70 L77.2 46.05 L76.5 46.25 L75.8 46.29 L75.0 46.16 L74.2 45.88 L73.5 45.46 L72.8 44.96 L72.0 44.41 L71.2 43.87 L70.5 43.39 L69.8 43.01 L69.0 42.77 L68.2 42.70 L67.5 42.80 L66.8 43.05 L66.0 43.44 L65.2 43.94 L64.5 44.48 L63.8 45.03 L63.0 45.52 L62.2 45.93 L61.5 46.19 L60.8 46.30 L60.0 46.24 L59.2 46.01 L58.5 45.64 L57.8 45.17 L57.0 44.63 L56.2 44.08 L55.5 43.57 L54.8 43.15 L54.0 42.85 L53.2 42.71 L52.5 42.74 L51.8 42.93 L51.0 43.27 L50.2 43.73 L49.5 44.26 L48.8 44.81 L48.0 45.34 L47.2 45.78 L46.5 46.10 L45.8 46.28 L45.0 46.28 L44.2 46.12 L43.5 45.81 L42.8 45.37 L42.0 44.85 L41.2 44.30 L40.5 43.76 L39.8 43.30 L39.0 42.95 L38.2 42.75 L37.5 42.71 L36.8 42.84 L36.0 43.12 L35.2 43.54 L34.5 44.04 L33.8 44.59 L33.0 45.13 L32.2 45.61 L31.5 45.99 L30.8 46.23 L30.0 46.30 L29.2 46.20 L28.5 45.95 L27.8 45.56 L27.0 45.06 L26.2 44.52 L25.5 43.97 L24.8 43.48 L24.0 43.07 L23.2 42.81 L22.5 42.70 L21.8 42.76 L21.0 42.99 L20.2 43.36 L19.5 43.83 L18.8 44.37 L18.0 44.92 L17.2 45.43 L16.5 45.85 L15.8 46.15 L15.0 46.29 L14.2 46.26 L13.5 46.07 L12.8 45.73 L12.0 45.27 L11.2 44.74 L10.5 44.19 L9.8 43.66 L9.0 43.22 L8.2 42.90 L7.5 42.72 L6.8 42.72 L6.0 42.88 L5.2 43.19 L4.5 43.63 L3.8 44.15 L3.0 44.70 L2.2 45.24 L1.5 45.70 L0.8 46.05 L0.0 46.25Z" fill="#737373" fill-opacity="1"/>
</g><g filter="url(#bl)">
<path d="M0.0 48.05 L0.8 47.85 L1.5 47.50 L2.2 47.04 L3.0 46.50 L3.8 45.95 L4.5 45.43 L5.2 44.99 L6.0 44.68 L6.8 44.52 L7.5 44.52 L8.2 44.70 L9.0 45.02 L9.8 45.46 L10.5 45.99 L11.2 46.54 L12.0 47.07 L12.8 47.53 L13.5 47.87 L14.2 48.06 L15.0 48.09 L15.8 47.95 L16.5 47.65 L17.2 47.23 L18.0 46.72 L18.8 46.17 L19.5 45.63 L20.2 45.16 L21.0 44.79 L21.8 44.56 L22.5 44.50 L23.2 44.61 L24.0 44.87 L24.8 45.28 L25.5 45.77 L26.2 46.32 L27.0 46.86 L27.8 47.36 L28.5 47.75 L29.2 48.00 L30.0 48.10 L30.8 48.03 L31.5 47.79 L32.2 47.41 L33.0 46.93 L33.8 46.39 L34.5 45.84 L35.2 45.34 L36.0 44.92 L36.8 44.64 L37.5 44.51 L38.2 44.55 L39.0 44.75 L39.8 45.10 L40.5 45.56 L41.2 46.10 L42.0 46.65 L42.8 47.17 L43.5 47.61 L44.2 47.92 L45.0 48.08 L45.8 48.08 L46.5 47.90 L47.2 47.58 L48.0 47.14 L48.8 46.61 L49.5 46.06 L50.2 45.53 L51.0 45.07 L51.8 44.73 L52.5 44.54 L53.2 44.51 L54.0 44.65 L54.8 44.95 L55.5 45.37 L56.2 45.88 L57.0 46.43 L57.8 46.97 L58.5 47.44 L59.2 47.81 L60.0 48.04 L60.8 48.10 L61.5 47.99 L62.2 47.73 L63.0 47.32 L63.8 46.83 L64.5 46.28 L65.2 45.74 L66.0 45.24 L66.8 44.85 L67.5 44.60 L68.2 44.50 L69.0 44.57 L69.8 44.81 L70.5 45.19 L71.2 45.67 L72.0 46.21 L72.8 46.76 L73.5 47.26 L74.2 47.68 L75.0 47.96 L75.8 48.09 L76.5 48.05 L77.2 47.85 L78.0 47.50 L78.8 47.04 L79.5 46.50 L80.2 45.95 L81.0 45.43 L81.8 44.99 L82.5 44.68 L83.2 44.52 L84.0 44.52 L84.8 44.70 L85.5 45.02 L86.2 45.46 L87.0 45.99 L87.8 46.54 L88.5 47.07 L89.2 47.53 L90.0 47.87 L90.8 48.06 L91.5 48.09 L91.8 48.05" stroke="#ebebeb" stroke-width="3.4" fill="none" stroke-opacity="1"/>
<path d="M0.0 9.60 L0.8 9.60 L1.5 9.60 L2.2 9.60 L3.0 9.60 L3.8 9.60 L4.5 9.60 L5.2 9.60 L6.0 9.60 L6.8 9.60 L7.5 9.60 L8.2 9.60 L9.0 9.60 L9.8 9.60 L10.5 9.60 L11.2 9.60 L12.0 9.60 L12.8 9.60 L13.5 9.60 L14.2 9.60 L15.0 9.60 L15.8 9.60 L16.5 9.60 L17.2 9.60 L18.0 9.60 L18.8 9.60 L19.5 9.60 L20.2 9.60 L21.0 9.60 L21.8 9.60 L22.5 9.60 L23.2 9.60 L24.0 9.60 L24.8 9.60 L25.5 9.60 L26.2 9.60 L27.0 9.60 L27.8 9.60 L28.5 9.60 L29.2 9.60 L30.0 9.60 L30.8 9.60 L31.5 9.60 L32.2 9.60 L33.0 9.60 L33.8 9.60 L34.5 9.60 L35.2 9.60 L36.0 9.60 L36.8 9.60 L37.5 9.60 L38.2 9.60 L39.0 9.60 L39.8 9.60 L40.5 9.60 L41.2 9.60 L42.0 9.60 L42.8 9.60 L43.5 9.60 L44.2 9.60 L45.0 9.60 L45.8 9.60 L46.5 9.60 L47.2 9.60 L48.0 9.60 L48.8 9.60 L49.5 9.60 L50.2 9.60 L51.0 9.60 L51.8 9.60 L52.5 9.60 L53.2 9.60 L54.0 9.60 L54.8 9.60 L55.5 9.60 L56.2 9.60 L57.0 9.60 L57.8 9.60 L58.5 9.60 L59.2 9.60 L60.0 9.60 L60.8 9.60 L61.5 9.60 L62.2 9.60 L63.0 9.60 L63.8 9.60 L64.5 9.60 L65.2 9.60 L66.0 9.60 L66.8 9.60 L67.5 9.60 L68.2 9.60 L69.0 9.60 L69.8 9.60 L70.5 9.60 L71.2 9.60 L72.0 9.60 L72.8 9.60 L73.5 9.60 L74.2 9.60 L75.0 9.60 L75.8 9.60 L76.5 9.60 L77.2 9.60 L78.0 9.60 L78.8 9.60 L79.5 9.60 L80.2 9.60 L81.0 9.60 L81.8 9.60 L82.5 9.60 L83.2 9.60 L84.0 9.60 L84.8 9.60 L85.5 9.60 L86.2 9.60 L87.0 9.60 L87.8 9.60 L88.5 9.60 L89.2 9.60 L90.0 9.60 L90.8 9.60 L91.5 9.60 L91.8 9.60" stroke="#dcdcdc" stroke-width="2.0" fill="none" stroke-opacity="1"/>
</g></g>
<clipPath id="c5"><rect x="0" y="0" width="91.8" height="57.2"/></clipPath>
<g transform="translate(221.3,91.5)" clip-path="url(#c5)"><g filter="url(#spk21)">
<linearGradient id="g5" x1="0" y1="0" x2="0" y2="1"><stop offset="0.0000" stop-color="#323232"/><stop offset="0.0437" stop-color="#3a3a3a"/><stop offset="0.0612" stop-color="#8c8c8c"/><stop offset="0.1136" stop-color="#a5a5a5"/><stop offset="0.1311" stop-color="#646464"/><stop offset="0.3759" stop-color="#606060"/><stop offset="0.3846" stop-color="#3c3c3c"/><stop offset="0.6818" stop-color="#3c3c3c"/><stop offset="0.7080" stop-color="#6c6c6c"/><stop offset="0.8304" stop-color="#696969"/><stop offset="0.8392" stop-color="#969696"/><stop offset="0.9178" stop-color="#969696"/><stop offset="0.9266" stop-color="#767676"/><stop offset="1.0000" stop-color="#6e6e6e"/></linearGradient>
<rect x="-1" y="0" width="93.8" height="57.2" fill="url(#g5)"/>
<rect x="-1" y="5.10" width="93.8" height="0.8" fill="#bebebe" fill-opacity="0.7"/>
<path d="M0.0 18.89 L0.8 18.82 L1.5 18.80 L2.2 18.83 L3.0 18.92 L3.8 19.05 L4.5 19.24 L5.2 19.46 L6.0 19.72 L6.8 20.01 L7.5 20.33 L8.2 20.66 L9.0 21.00 L9.8 20.66 L10.5 20.33 L11.2 20.01 L12.0 19.72 L12.8 19.46 L13.5 19.24 L14.2 19.05 L15.0 18.92 L15.8 18.83 L16.5 18.80 L17.2 18.82 L18.0 18.89 L18.8 19.01 L19.5 19.18 L20.2 19.40 L21.0 19.65 L21.8 19.93 L22.5 20.24 L23.2 20.57 L24.0 20.91 L24.8 20.75 L25.5 20.42 L26.2 20.10 L27.0 19.80 L27.8 19.53 L28.5 19.29 L29.2 19.10 L30.0 18.95 L30.8 18.85 L31.5 18.80 L32.2 18.81 L33.0 18.87 L33.8 18.98 L34.5 19.13 L35.2 19.34 L36.0 19.58 L36.8 19.85 L37.5 20.16 L38.2 20.48 L39.0 20.82 L39.8 20.84 L40.5 20.50 L41.2 20.18 L42.0 19.87 L42.8 19.60 L43.5 19.35 L44.2 19.15 L45.0 18.99 L45.8 18.87 L46.5 18.81 L47.2 18.80 L48.0 18.85 L48.8 18.94 L49.5 19.09 L50.2 19.28 L51.0 19.51 L51.8 19.78 L52.5 20.07 L53.2 20.39 L54.0 20.73 L54.8 20.93 L55.5 20.59 L56.2 20.26 L57.0 19.95 L57.8 19.67 L58.5 19.41 L59.2 19.20 L60.0 19.02 L60.8 18.90 L61.5 18.82 L62.2 18.80 L63.0 18.83 L63.8 18.91 L64.5 19.04 L65.2 19.22 L66.0 19.44 L66.8 19.70 L67.5 19.99 L68.2 20.31 L69.0 20.64 L69.8 20.98 L70.5 20.68 L71.2 20.35 L72.0 20.03 L72.8 19.74 L73.5 19.48 L74.2 19.25 L75.0 19.07 L75.8 18.93 L76.5 18.84 L77.2 18.80 L78.0 18.82 L78.8 18.89 L79.5 19.00 L80.2 19.17 L81.0 19.38 L81.8 19.63 L82.5 19.91 L83.2 20.22 L84.0 20.55 L84.8 20.89 L85.5 20.77 L86.2 20.44 L87.0 20.12 L87.8 19.82 L88.5 19.54 L89.2 19.31 L90.0 19.11 L90.8 18.96 L91.5 18.86 L91.8 18.83 L91.8 42.89 L91.5 42.80 L90.8 42.44 L90.0 41.95 L89.2 41.37 L88.5 40.75 L87.8 40.16 L87.0 39.65 L86.2 39.26 L85.5 39.04 L84.8 39.01 L84.0 39.17 L83.2 39.50 L82.5 39.98 L81.8 40.55 L81.0 41.17 L80.2 41.77 L79.5 42.29 L78.8 42.70 L78.0 42.94 L77.2 43.00 L76.5 42.86 L75.8 42.55 L75.0 42.09 L74.2 41.53 L73.5 40.92 L72.8 40.31 L72.0 39.77 L71.2 39.35 L70.5 39.08 L69.8 39.00 L69.0 39.11 L68.2 39.40 L67.5 39.84 L66.8 40.39 L66.0 41.00 L65.2 41.61 L64.5 42.16 L63.8 42.60 L63.0 42.89 L62.2 43.00 L61.5 42.92 L60.8 42.65 L60.0 42.23 L59.2 41.69 L58.5 41.08 L57.8 40.47 L57.0 39.91 L56.2 39.45 L55.5 39.14 L54.8 39.00 L54.0 39.06 L53.2 39.30 L52.5 39.71 L51.8 40.23 L51.0 40.83 L50.2 41.45 L49.5 42.02 L48.8 42.50 L48.0 42.83 L47.2 42.99 L46.5 42.96 L45.8 42.74 L45.0 42.35 L44.2 41.84 L43.5 41.25 L42.8 40.63 L42.0 40.05 L41.2 39.56 L40.5 39.20 L39.8 39.02 L39.0 39.03 L38.2 39.22 L37.5 39.59 L36.8 40.08 L36.0 40.67 L35.2 41.29 L34.5 41.88 L33.8 42.38 L33.0 42.76 L32.2 42.97 L31.5 42.98 L30.8 42.81 L30.0 42.47 L29.2 41.99 L28.5 41.41 L27.8 40.79 L27.0 40.20 L26.2 39.68 L25.5 39.28 L24.8 39.05 L24.0 39.01 L23.2 39.15 L22.5 39.47 L21.8 39.94 L21.0 40.51 L20.2 41.12 L19.5 41.73 L18.8 42.26 L18.0 42.67 L17.2 42.93 L16.5 43.00 L15.8 42.88 L15.0 42.58 L14.2 42.13 L13.5 41.57 L12.8 40.96 L12.0 40.35 L11.2 39.80 L10.5 39.37 L9.8 39.10 L9.0 39.00 L8.2 39.10 L7.5 39.37 L6.8 39.80 L6.0 40.35 L5.2 40.96 L4.5 41.57 L3.8 42.13 L3.0 42.58 L2.2 42.88 L1.5 43.00 L0.8 42.93 L0.0 42.67Z" fill="#3a3a3a" fill-opacity="1"/>
</g><g filter="url(#bl)">
<path d="M0.0 51.20 L0.8 51.36 L1.5 51.40 L2.2 51.33 L3.0 51.15 L3.8 50.88 L4.5 50.54 L5.2 50.18 L6.0 49.81 L6.8 49.48 L7.5 49.22 L8.2 49.06 L9.0 49.00 L9.8 49.06 L10.5 49.22 L11.2 49.48 L12.0 49.81 L12.8 50.18 L13.5 50.54 L14.2 50.88 L15.0 51.15 L15.8 51.33 L16.5 51.40 L17.2 51.36 L18.0 51.20 L18.8 50.96 L19.5 50.64 L20.2 50.27 L21.0 49.91 L21.8 49.56 L22.5 49.28 L23.2 49.09 L24.0 49.00 L24.8 49.03 L25.5 49.17 L26.2 49.41 L27.0 49.72 L27.8 50.08 L28.5 50.45 L29.2 50.79 L30.0 51.08 L30.8 51.29 L31.5 51.39 L32.2 51.38 L33.0 51.26 L33.8 51.03 L34.5 50.73 L35.2 50.37 L36.0 50.00 L36.8 49.65 L37.5 49.35 L38.2 49.13 L39.0 49.02 L39.8 49.01 L40.5 49.12 L41.2 49.33 L42.0 49.63 L42.8 49.98 L43.5 50.35 L44.2 50.70 L45.0 51.01 L45.8 51.24 L46.5 51.37 L47.2 51.39 L48.0 51.30 L48.8 51.10 L49.5 50.81 L50.2 50.47 L51.0 50.10 L51.8 49.74 L52.5 49.42 L53.2 49.18 L54.0 49.04 L54.8 49.00 L55.5 49.08 L56.2 49.27 L57.0 49.54 L57.8 49.88 L58.5 50.25 L59.2 50.61 L60.0 50.94 L60.8 51.19 L61.5 51.35 L62.2 51.40 L63.0 51.33 L63.8 51.16 L64.5 50.90 L65.2 50.57 L66.0 50.20 L66.8 49.83 L67.5 49.50 L68.2 49.24 L69.0 49.07 L69.8 49.00 L70.5 49.05 L71.2 49.21 L72.0 49.46 L72.8 49.79 L73.5 50.15 L74.2 50.52 L75.0 50.86 L75.8 51.13 L76.5 51.32 L77.2 51.40 L78.0 51.36 L78.8 51.22 L79.5 50.98 L80.2 50.66 L81.0 50.30 L81.8 49.93 L82.5 49.59 L83.2 49.30 L84.0 49.10 L84.8 49.01 L85.5 49.03 L86.2 49.16 L87.0 49.39 L87.8 49.70 L88.5 50.05 L89.2 50.42 L90.0 50.77 L90.8 51.07 L91.5 51.28 L91.8 51.33" stroke="#ebebeb" stroke-width="3.6" fill="none" stroke-opacity="1"/>
</g></g>
<text x="362.6" y="27.4" class="tk" text-anchor="middle">8W</text>
<clipPath id="c6"><rect x="0" y="0" width="90.7" height="56.5"/></clipPath>
<g transform="translate(317.3,31)" clip-path="url(#c6)"><g filter="url(#spk30)">
<linearGradient id="g6" x1="0" y1="0" x2="0" y2="1"><stop offset="0.0000" stop-color="#555555"/><stop offset="0.0708" stop-color="#4b4b4b"/><stop offset="0.0761" stop-color="#787878"/><stop offset="0.1062" stop-color="#787878"/><stop offset="0.1150" stop-color="#6c6c6c"/><stop offset="0.2301" stop-color="#686868"/><stop offset="0.6372" stop-color="#787878"/><stop offset="0.7080" stop-color="#7d7d7d"/><stop offset="0.7522" stop-color="#c3c3c3"/><stop offset="0.8850" stop-color="#b9b9b9"/><stop offset="1.0000" stop-color="#a5a5a5"/></linearGradient>
<rect x="-1" y="0" width="92.7" height="56.5" fill="url(#g6)"/>
<rect x="-1" y="1.10" width="92.7" height="0.8" fill="#787878" fill-opacity="0.5"/>
<path d="M0.0 12.66 L0.8 12.60 L1.5 12.61 L2.2 12.69 L3.0 12.82 L3.8 13.01 L4.5 13.25 L5.2 13.54 L6.0 13.87 L6.8 14.23 L7.5 14.61 L8.2 15.01 L9.0 14.99 L9.8 14.59 L10.5 14.21 L11.2 13.85 L12.0 13.52 L12.8 13.23 L13.5 12.99 L14.2 12.81 L15.0 12.68 L15.8 12.61 L16.5 12.60 L17.2 12.66 L18.0 12.78 L18.8 12.95 L19.5 13.18 L20.2 13.46 L21.0 13.78 L21.8 14.13 L22.5 14.51 L23.2 14.91 L24.0 15.09 L24.8 14.69 L25.5 14.31 L26.2 13.94 L27.0 13.60 L27.8 13.31 L28.5 13.05 L29.2 12.85 L30.0 12.71 L30.8 12.62 L31.5 12.60 L32.2 12.64 L33.0 12.74 L33.8 12.90 L34.5 13.12 L35.2 13.38 L36.0 13.69 L36.8 14.03 L37.5 14.41 L38.2 14.80 L39.0 15.20 L39.8 14.80 L40.5 14.41 L41.2 14.03 L42.0 13.69 L42.8 13.38 L43.5 13.12 L44.2 12.90 L45.0 12.74 L45.8 12.64 L46.5 12.60 L47.2 12.62 L48.0 12.71 L48.8 12.85 L49.5 13.05 L50.2 13.31 L51.0 13.60 L51.8 13.94 L52.5 14.31 L53.2 14.69 L54.0 15.09 L54.8 14.91 L55.5 14.51 L56.2 14.13 L57.0 13.78 L57.8 13.46 L58.5 13.18 L59.2 12.95 L60.0 12.78 L60.8 12.66 L61.5 12.60 L62.2 12.61 L63.0 12.68 L63.8 12.81 L64.5 12.99 L65.2 13.23 L66.0 13.52 L66.8 13.85 L67.5 14.21 L68.2 14.59 L69.0 14.99 L69.8 15.01 L70.5 14.61 L71.2 14.23 L72.0 13.87 L72.8 13.54 L73.5 13.25 L74.2 13.01 L75.0 12.82 L75.8 12.69 L76.5 12.61 L77.2 12.60 L78.0 12.66 L78.8 12.77 L79.5 12.94 L80.2 13.16 L81.0 13.44 L81.8 13.76 L82.5 14.11 L83.2 14.48 L84.0 14.88 L84.8 15.12 L85.5 14.72 L86.2 14.33 L87.0 13.96 L87.8 13.62 L88.5 13.32 L89.2 13.07 L90.0 12.86 L90.7 12.72 L90.7 39.02 L90.0 39.33 L89.2 39.54 L88.5 39.60 L87.8 39.52 L87.0 39.30 L86.2 38.94 L85.5 38.45 L84.8 37.85 L84.0 37.15 L83.2 36.38 L82.5 35.54 L81.8 34.66 L81.0 34.24 L80.2 35.13 L79.5 35.99 L78.8 36.80 L78.0 37.54 L77.2 38.19 L76.5 38.73 L75.8 39.14 L75.0 39.43 L74.2 39.58 L73.5 39.58 L72.8 39.45 L72.0 39.17 L71.2 38.76 L70.5 38.23 L69.8 37.58 L69.0 36.85 L68.2 36.05 L67.5 35.19 L66.8 34.30 L66.0 34.60 L65.2 35.48 L64.5 36.32 L63.8 37.10 L63.0 37.81 L62.2 38.42 L61.5 38.91 L60.8 39.28 L60.0 39.51 L59.2 39.60 L58.5 39.55 L57.8 39.35 L57.0 39.02 L56.2 38.56 L55.5 37.98 L54.8 37.30 L54.0 36.54 L53.2 35.71 L52.5 34.83 L51.8 34.06 L51.0 34.95 L50.2 35.82 L49.5 36.64 L48.8 37.40 L48.0 38.06 L47.2 38.63 L46.5 39.07 L45.8 39.39 L45.0 39.56 L44.2 39.59 L43.5 39.48 L42.8 39.23 L42.0 38.85 L41.2 38.34 L40.5 37.72 L39.8 37.00 L39.0 36.21 L38.2 35.36 L37.5 34.48 L36.8 34.42 L36.0 35.30 L35.2 36.16 L34.5 36.95 L33.8 37.68 L33.0 38.30 L32.2 38.82 L31.5 39.21 L30.8 39.47 L30.0 39.59 L29.2 39.57 L28.5 39.40 L27.8 39.10 L27.0 38.66 L26.2 38.11 L25.5 37.44 L24.8 36.70 L24.0 35.88 L23.2 35.01 L22.5 34.12 L21.8 34.78 L21.0 35.65 L20.2 36.48 L19.5 37.25 L18.8 37.94 L18.0 38.52 L17.2 38.99 L16.5 39.33 L15.8 39.54 L15.0 39.60 L14.2 39.52 L13.5 39.30 L12.8 38.94 L12.0 38.45 L11.2 37.85 L10.5 37.15 L9.8 36.38 L9.0 35.54 L8.2 34.66 L7.5 34.24 L6.8 35.13 L6.0 35.99 L5.2 36.80 L4.5 37.54 L3.8 38.19 L3.0 38.73 L2.2 39.14 L1.5 39.43 L0.8 39.58 L0.0 39.58Z" fill="#1e1e1e" fill-opacity="1"/>
<path d="M0.0 42.99 L0.8 42.99 L1.5 42.91 L2.2 42.76 L3.0 42.53 L3.8 42.24 L4.5 41.90 L5.2 41.50 L6.0 41.07 L6.8 40.60 L7.5 40.13 L8.2 40.35 L9.0 40.82 L9.8 41.27 L10.5 41.69 L11.2 42.06 L12.0 42.38 L12.8 42.64 L13.5 42.84 L14.2 42.96 L15.0 43.00 L15.8 42.97 L16.5 42.86 L17.2 42.67 L18.0 42.42 L18.8 42.11 L19.5 41.74 L20.2 41.33 L21.0 40.88 L21.8 40.42 L22.5 40.06 L23.2 40.54 L24.0 41.01 L24.8 41.44 L25.5 41.85 L26.2 42.20 L27.0 42.50 L27.8 42.73 L28.5 42.89 L29.2 42.98 L30.0 43.00 L30.8 42.93 L31.5 42.79 L32.2 42.58 L33.0 42.30 L33.8 41.97 L34.5 41.58 L35.2 41.16 L36.0 40.70 L36.8 40.22 L37.5 40.26 L38.2 40.73 L39.0 41.18 L39.8 41.61 L40.5 41.99 L41.2 42.33 L42.0 42.60 L42.8 42.80 L43.5 42.94 L44.2 43.00 L45.0 42.98 L45.8 42.88 L46.5 42.72 L47.2 42.48 L48.0 42.18 L48.8 41.82 L49.5 41.42 L50.2 40.98 L51.0 40.51 L51.8 40.03 L52.5 40.45 L53.2 40.91 L54.0 41.36 L54.8 41.77 L55.5 42.13 L56.2 42.44 L57.0 42.69 L57.8 42.87 L58.5 42.97 L59.2 43.00 L60.0 42.95 L60.8 42.83 L61.5 42.63 L62.2 42.37 L63.0 42.04 L63.8 41.66 L64.5 41.24 L65.2 40.79 L66.0 40.32 L66.8 40.16 L67.5 40.64 L68.2 41.10 L69.0 41.53 L69.8 41.92 L70.5 42.26 L71.2 42.55 L72.0 42.77 L72.8 42.92 L73.5 42.99 L74.2 42.99 L75.0 42.91 L75.8 42.76 L76.5 42.53 L77.2 42.24 L78.0 41.90 L78.8 41.50 L79.5 41.07 L80.2 40.60 L81.0 40.13 L81.8 40.35 L82.5 40.82 L83.2 41.27 L84.0 41.69 L84.8 42.06 L85.5 42.38 L86.2 42.64 L87.0 42.84 L87.8 42.96 L88.5 43.00 L89.2 42.97 L90.0 42.86 L90.7 42.69 L90.7 56.50 L90.0 56.50 L89.2 56.50 L88.5 56.50 L87.8 56.50 L87.0 56.50 L86.2 56.50 L85.5 56.50 L84.8 56.50 L84.0 56.50 L83.2 56.50 L82.5 56.50 L81.8 56.50 L81.0 56.50 L80.2 56.50 L79.5 56.50 L78.8 56.50 L78.0 56.50 L77.2 56.50 L76.5 56.50 L75.8 56.50 L75.0 56.50 L74.2 56.50 L73.5 56.50 L72.8 56.50 L72.0 56.50 L71.2 56.50 L70.5 56.50 L69.8 56.50 L69.0 56.50 L68.2 56.50 L67.5 56.50 L66.8 56.50 L66.0 56.50 L65.2 56.50 L64.5 56.50 L63.8 56.50 L63.0 56.50 L62.2 56.50 L61.5 56.50 L60.8 56.50 L60.0 56.50 L59.2 56.50 L58.5 56.50 L57.8 56.50 L57.0 56.50 L56.2 56.50 L55.5 56.50 L54.8 56.50 L54.0 56.50 L53.2 56.50 L52.5 56.50 L51.8 56.50 L51.0 56.50 L50.2 56.50 L49.5 56.50 L48.8 56.50 L48.0 56.50 L47.2 56.50 L46.5 56.50 L45.8 56.50 L45.0 56.50 L44.2 56.50 L43.5 56.50 L42.8 56.50 L42.0 56.50 L41.2 56.50 L40.5 56.50 L39.8 56.50 L39.0 56.50 L38.2 56.50 L37.5 56.50 L36.8 56.50 L36.0 56.50 L35.2 56.50 L34.5 56.50 L33.8 56.50 L33.0 56.50 L32.2 56.50 L31.5 56.50 L30.8 56.50 L30.0 56.50 L29.2 56.50 L28.5 56.50 L27.8 56.50 L27.0 56.50 L26.2 56.50 L25.5 56.50 L24.8 56.50 L24.0 56.50 L23.2 56.50 L22.5 56.50 L21.8 56.50 L21.0 56.50 L20.2 56.50 L19.5 56.50 L18.8 56.50 L18.0 56.50 L17.2 56.50 L16.5 56.50 L15.8 56.50 L15.0 56.50 L14.2 56.50 L13.5 56.50 L12.8 56.50 L12.0 56.50 L11.2 56.50 L10.5 56.50 L9.8 56.50 L9.0 56.50 L8.2 56.50 L7.5 56.50 L6.8 56.50 L6.0 56.50 L5.2 56.50 L4.5 56.50 L3.8 56.50 L3.0 56.50 L2.2 56.50 L1.5 56.50 L0.8 56.50 L0.0 56.50Z" fill="#bebebe" fill-opacity="1"/>
</g><g filter="url(#bl)">
<path d="M0.0 43.19 L0.8 43.19 L1.5 43.11 L2.2 42.96 L3.0 42.73 L3.8 42.44 L4.5 42.10 L5.2 41.70 L6.0 41.27 L6.8 40.80 L7.5 40.33 L8.2 40.55 L9.0 41.02 L9.8 41.47 L10.5 41.89 L11.2 42.26 L12.0 42.58 L12.8 42.84 L13.5 43.04 L14.2 43.16 L15.0 43.20 L15.8 43.17 L16.5 43.06 L17.2 42.87 L18.0 42.62 L18.8 42.31 L19.5 41.94 L20.2 41.53 L21.0 41.08 L21.8 40.62 L22.5 40.26 L23.2 40.74 L24.0 41.21 L24.8 41.64 L25.5 42.05 L26.2 42.40 L27.0 42.70 L27.8 42.93 L28.5 43.09 L29.2 43.18 L30.0 43.20 L30.8 43.13 L31.5 42.99 L32.2 42.78 L33.0 42.50 L33.8 42.17 L34.5 41.78 L35.2 41.36 L36.0 40.90 L36.8 40.42 L37.5 40.46 L38.2 40.93 L39.0 41.38 L39.8 41.81 L40.5 42.19 L41.2 42.53 L42.0 42.80 L42.8 43.00 L43.5 43.14 L44.2 43.20 L45.0 43.18 L45.8 43.08 L46.5 42.92 L47.2 42.68 L48.0 42.38 L48.8 42.02 L49.5 41.62 L50.2 41.18 L51.0 40.71 L51.8 40.23 L52.5 40.65 L53.2 41.11 L54.0 41.56 L54.8 41.97 L55.5 42.33 L56.2 42.64 L57.0 42.89 L57.8 43.07 L58.5 43.17 L59.2 43.20 L60.0 43.15 L60.8 43.03 L61.5 42.83 L62.2 42.57 L63.0 42.24 L63.8 41.86 L64.5 41.44 L65.2 40.99 L66.0 40.52 L66.8 40.36 L67.5 40.84 L68.2 41.30 L69.0 41.73 L69.8 42.12 L70.5 42.46 L71.2 42.75 L72.0 42.97 L72.8 43.12 L73.5 43.19 L74.2 43.19 L75.0 43.11 L75.8 42.96 L76.5 42.73 L77.2 42.44 L78.0 42.10 L78.8 41.70 L79.5 41.27 L80.2 40.80 L81.0 40.33 L81.8 40.55 L82.5 41.02 L83.2 41.47 L84.0 41.89 L84.8 42.26 L85.5 42.58 L86.2 42.84 L87.0 43.04 L87.8 43.16 L88.5 43.20 L89.2 43.17 L90.0 43.06 L90.7 42.89" stroke="#dcdcdc" stroke-width="1.2" fill="none" stroke-opacity="0.8"/>
<path d="M0.0 5.20 L0.8 5.20 L1.5 5.20 L2.2 5.20 L3.0 5.20 L3.8 5.20 L4.5 5.20 L5.2 5.20 L6.0 5.20 L6.8 5.20 L7.5 5.20 L8.2 5.20 L9.0 5.20 L9.8 5.20 L10.5 5.20 L11.2 5.20 L12.0 5.20 L12.8 5.20 L13.5 5.20 L14.2 5.20 L15.0 5.20 L15.8 5.20 L16.5 5.20 L17.2 5.20 L18.0 5.20 L18.8 5.20 L19.5 5.20 L20.2 5.20 L21.0 5.20 L21.8 5.20 L22.5 5.20 L23.2 5.20 L24.0 5.20 L24.8 5.20 L25.5 5.20 L26.2 5.20 L27.0 5.20 L27.8 5.20 L28.5 5.20 L29.2 5.20 L30.0 5.20 L30.8 5.20 L31.5 5.20 L32.2 5.20 L33.0 5.20 L33.8 5.20 L34.5 5.20 L35.2 5.20 L36.0 5.20 L36.8 5.20 L37.5 5.20 L38.2 5.20 L39.0 5.20 L39.8 5.20 L40.5 5.20 L41.2 5.20 L42.0 5.20 L42.8 5.20 L43.5 5.20 L44.2 5.20 L45.0 5.20 L45.8 5.20 L46.5 5.20 L47.2 5.20 L48.0 5.20 L48.8 5.20 L49.5 5.20 L50.2 5.20 L51.0 5.20 L51.8 5.20 L52.5 5.20 L53.2 5.20 L54.0 5.20 L54.8 5.20 L55.5 5.20 L56.2 5.20 L57.0 5.20 L57.8 5.20 L58.5 5.20 L59.2 5.20 L60.0 5.20 L60.8 5.20 L61.5 5.20 L62.2 5.20 L63.0 5.20 L63.8 5.20 L64.5 5.20 L65.2 5.20 L66.0 5.20 L66.8 5.20 L67.5 5.20 L68.2 5.20 L69.0 5.20 L69.8 5.20 L70.5 5.20 L71.2 5.20 L72.0 5.20 L72.8 5.20 L73.5 5.20 L74.2 5.20 L75.0 5.20 L75.8 5.20 L76.5 5.20 L77.2 5.20 L78.0 5.20 L78.8 5.20 L79.5 5.20 L80.2 5.20 L81.0 5.20 L81.8 5.20 L82.5 5.20 L83.2 5.20 L84.0 5.20 L84.8 5.20 L85.5 5.20 L86.2 5.20 L87.0 5.20 L87.8 5.20 L88.5 5.20 L89.2 5.20 L90.0 5.20 L90.7 5.20" stroke="#d2d2d2" stroke-width="1.8" fill="none" stroke-opacity="1"/>
</g></g>
<clipPath id="c7"><rect x="0" y="0" width="90.7" height="57.2"/></clipPath>
<g transform="translate(317.3,91.5)" clip-path="url(#c7)"><g filter="url(#spk31)">
<linearGradient id="g7" x1="0" y1="0" x2="0" y2="1"><stop offset="0.0000" stop-color="#2a2a2a"/><stop offset="0.0262" stop-color="#303030"/><stop offset="0.0437" stop-color="#6e6e6e"/><stop offset="0.0699" stop-color="#6e6e6e"/><stop offset="0.0787" stop-color="#7a7a7a"/><stop offset="0.2797" stop-color="#7a7a7a"/><stop offset="0.2885" stop-color="#121212"/><stop offset="0.7168" stop-color="#121212"/><stop offset="0.7430" stop-color="#787878"/><stop offset="0.8741" stop-color="#7a7a7a"/><stop offset="0.8916" stop-color="#969696"/><stop offset="0.9266" stop-color="#969696"/><stop offset="0.9353" stop-color="#7d7d7d"/><stop offset="1.0000" stop-color="#787878"/></linearGradient>
<rect x="-1" y="0" width="92.7" height="57.2" fill="url(#g7)"/>
<path d="M0.0 12.77 L0.8 12.66 L1.5 12.61 L2.2 12.61 L3.0 12.66 L3.8 12.76 L4.5 12.91 L5.2 13.11 L6.0 13.34 L6.8 13.62 L7.5 13.92 L8.2 14.24 L9.0 14.57 L9.8 14.69 L10.5 14.35 L11.2 14.02 L12.0 13.71 L12.8 13.43 L13.5 13.18 L14.2 12.97 L15.0 12.80 L15.8 12.69 L16.5 12.62 L17.2 12.60 L18.0 12.64 L18.8 12.73 L19.5 12.87 L20.2 13.05 L21.0 13.28 L21.8 13.54 L22.5 13.83 L23.2 14.15 L24.0 14.48 L24.8 14.78 L25.5 14.44 L26.2 14.11 L27.0 13.79 L27.8 13.50 L28.5 13.24 L29.2 13.02 L30.0 12.84 L30.8 12.71 L31.5 12.63 L32.2 12.60 L33.0 12.62 L33.8 12.70 L34.5 12.82 L35.2 13.00 L36.0 13.21 L36.8 13.47 L37.5 13.75 L38.2 14.06 L39.0 14.39 L39.8 14.73 L40.5 14.53 L41.2 14.19 L42.0 13.87 L42.8 13.58 L43.5 13.31 L44.2 13.08 L45.0 12.89 L45.8 12.74 L46.5 12.65 L47.2 12.60 L48.0 12.61 L48.8 12.67 L49.5 12.79 L50.2 12.95 L51.0 13.15 L51.8 13.40 L52.5 13.67 L53.2 13.98 L54.0 14.30 L54.8 14.64 L55.5 14.62 L56.2 14.28 L57.0 13.96 L57.8 13.65 L58.5 13.38 L59.2 13.14 L60.0 12.93 L60.8 12.78 L61.5 12.67 L62.2 12.61 L63.0 12.60 L63.8 12.65 L64.5 12.75 L65.2 12.90 L66.0 13.09 L66.8 13.33 L67.5 13.60 L68.2 13.90 L69.0 14.22 L69.8 14.55 L70.5 14.71 L71.2 14.37 L72.0 14.04 L72.8 13.73 L73.5 13.45 L74.2 13.20 L75.0 12.98 L75.8 12.81 L76.5 12.69 L77.2 12.62 L78.0 12.60 L78.8 12.63 L79.5 12.72 L80.2 12.85 L81.0 13.04 L81.8 13.26 L82.5 13.52 L83.2 13.81 L84.0 14.13 L84.8 14.46 L85.5 14.80 L86.2 14.46 L87.0 14.13 L87.8 13.81 L88.5 13.52 L89.2 13.26 L90.0 13.04 L90.7 12.87 L90.7 43.48 L90.0 43.01 L89.2 42.46 L88.5 41.92 L87.8 41.42 L87.0 41.04 L86.2 40.79 L85.5 40.70 L84.8 40.79 L84.0 41.04 L83.2 41.42 L82.5 41.92 L81.8 42.46 L81.0 43.01 L80.2 43.52 L79.5 43.92 L78.8 44.19 L78.0 44.30 L77.2 44.24 L76.5 44.01 L75.8 43.63 L75.0 43.15 L74.2 42.61 L73.5 42.06 L72.8 41.55 L72.0 41.13 L71.2 40.84 L70.5 40.71 L69.8 40.75 L69.0 40.95 L68.2 41.31 L67.5 41.78 L66.8 42.31 L66.0 42.87 L65.2 43.39 L64.5 43.82 L63.8 44.13 L63.0 44.29 L62.2 44.27 L61.5 44.08 L60.8 43.75 L60.0 43.29 L59.2 42.76 L58.5 42.20 L57.8 41.68 L57.0 41.23 L56.2 40.90 L55.5 40.72 L54.8 40.72 L54.0 40.88 L53.2 41.20 L52.5 41.64 L51.8 42.17 L51.0 42.72 L50.2 43.26 L49.5 43.72 L48.8 44.07 L48.0 44.26 L47.2 44.29 L46.5 44.15 L45.8 43.85 L45.0 43.42 L44.2 42.91 L43.5 42.35 L42.8 41.81 L42.0 41.34 L41.2 40.97 L40.5 40.76 L39.8 40.70 L39.0 40.82 L38.2 41.10 L37.5 41.52 L36.8 42.02 L36.0 42.57 L35.2 43.12 L34.5 43.61 L33.8 43.99 L33.0 44.23 L32.2 44.30 L31.5 44.20 L30.8 43.94 L30.0 43.55 L29.2 43.05 L28.5 42.50 L27.8 41.95 L27.0 41.45 L26.2 41.06 L25.5 40.80 L24.8 40.70 L24.0 40.77 L23.2 41.01 L22.5 41.39 L21.8 41.88 L21.0 42.43 L20.2 42.98 L19.5 43.48 L18.8 43.90 L18.0 44.18 L17.2 44.30 L16.5 44.24 L15.8 44.03 L15.0 43.66 L14.2 43.19 L13.5 42.65 L12.8 42.09 L12.0 41.58 L11.2 41.15 L10.5 40.85 L9.8 40.71 L9.0 40.74 L8.2 40.93 L7.5 41.28 L6.8 41.74 L6.0 42.28 L5.2 42.83 L4.5 43.36 L3.8 43.80 L3.0 44.12 L2.2 44.28 L1.5 44.28 L0.8 44.10 L0.0 43.77Z" fill="#121212" fill-opacity="1"/>
<path d="M0.0 43.77 L0.8 44.10 L1.5 44.28 L2.2 44.28 L3.0 44.12 L3.8 43.80 L4.5 43.36 L5.2 42.83 L6.0 42.28 L6.8 41.74 L7.5 41.28 L8.2 40.93 L9.0 40.74 L9.8 40.71 L10.5 40.85 L11.2 41.15 L12.0 41.58 L12.8 42.09 L13.5 42.65 L14.2 43.19 L15.0 43.66 L15.8 44.03 L16.5 44.24 L17.2 44.30 L18.0 44.18 L18.8 43.90 L19.5 43.48 L20.2 42.98 L21.0 42.43 L21.8 41.88 L22.5 41.39 L23.2 41.01 L24.0 40.77 L24.8 40.70 L25.5 40.80 L26.2 41.06 L27.0 41.45 L27.8 41.95 L28.5 42.50 L29.2 43.05 L30.0 43.55 L30.8 43.94 L31.5 44.20 L32.2 44.30 L33.0 44.23 L33.8 43.99 L34.5 43.61 L35.2 43.12 L36.0 42.57 L36.8 42.02 L37.5 41.52 L38.2 41.10 L39.0 40.82 L39.8 40.70 L40.5 40.76 L41.2 40.97 L42.0 41.34 L42.8 41.81 L43.5 42.35 L44.2 42.91 L45.0 43.42 L45.8 43.85 L46.5 44.15 L47.2 44.29 L48.0 44.26 L48.8 44.07 L49.5 43.72 L50.2 43.26 L51.0 42.72 L51.8 42.17 L52.5 41.64 L53.2 41.20 L54.0 40.88 L54.8 40.72 L55.5 40.72 L56.2 40.90 L57.0 41.23 L57.8 41.68 L58.5 42.20 L59.2 42.76 L60.0 43.29 L60.8 43.75 L61.5 44.08 L62.2 44.27 L63.0 44.29 L63.8 44.13 L64.5 43.82 L65.2 43.39 L66.0 42.87 L66.8 42.31 L67.5 41.78 L68.2 41.31 L69.0 40.95 L69.8 40.75 L70.5 40.71 L71.2 40.84 L72.0 41.13 L72.8 41.55 L73.5 42.06 L74.2 42.61 L75.0 43.15 L75.8 43.63 L76.5 44.01 L77.2 44.24 L78.0 44.30 L78.8 44.19 L79.5 43.92 L80.2 43.52 L81.0 43.01 L81.8 42.46 L82.5 41.92 L83.2 41.42 L84.0 41.04 L84.8 40.79 L85.5 40.70 L86.2 40.79 L87.0 41.04 L87.8 41.42 L88.5 41.92 L89.2 42.46 L90.0 43.01 L90.7 43.48 L90.7 50.38 L90.0 49.96 L89.2 49.47 L88.5 48.98 L87.8 48.54 L87.0 48.20 L86.2 47.98 L85.5 47.90 L84.8 47.98 L84.0 48.20 L83.2 48.54 L82.5 48.98 L81.8 49.47 L81.0 49.96 L80.2 50.40 L79.5 50.76 L78.8 51.00 L78.0 51.10 L77.2 51.04 L76.5 50.84 L75.8 50.51 L75.0 50.08 L74.2 49.60 L73.5 49.11 L72.8 48.65 L72.0 48.28 L71.2 48.02 L70.5 47.91 L69.8 47.94 L69.0 48.13 L68.2 48.44 L67.5 48.86 L66.8 49.33 L66.0 49.83 L65.2 50.29 L64.5 50.68 L63.8 50.95 L63.0 51.09 L62.2 51.07 L61.5 50.91 L60.8 50.61 L60.0 50.20 L59.2 49.73 L58.5 49.24 L57.8 48.77 L57.0 48.37 L56.2 48.08 L55.5 47.92 L54.8 47.92 L54.0 48.06 L53.2 48.35 L52.5 48.74 L51.8 49.20 L51.0 49.70 L50.2 50.17 L49.5 50.58 L48.8 50.89 L48.0 51.07 L47.2 51.09 L46.5 50.97 L45.8 50.70 L45.0 50.32 L44.2 49.86 L43.5 49.37 L42.8 48.89 L42.0 48.47 L41.2 48.14 L40.5 47.95 L39.8 47.90 L39.0 48.01 L38.2 48.26 L37.5 48.62 L36.8 49.08 L36.0 49.57 L35.2 50.05 L34.5 50.48 L33.8 50.82 L33.0 51.03 L32.2 51.10 L31.5 51.01 L30.8 50.78 L30.0 50.43 L29.2 49.99 L28.5 49.50 L27.8 49.01 L27.0 48.57 L26.2 48.22 L25.5 47.99 L24.8 47.90 L24.0 47.97 L23.2 48.18 L22.5 48.52 L21.8 48.95 L21.0 49.43 L20.2 49.92 L19.5 50.38 L18.8 50.74 L18.0 50.99 L17.2 51.10 L16.5 51.05 L15.8 50.86 L15.0 50.53 L14.2 50.11 L13.5 49.63 L12.8 49.14 L12.0 48.68 L11.2 48.30 L10.5 48.03 L9.8 47.91 L9.0 47.93 L8.2 48.11 L7.5 48.42 L6.8 48.83 L6.0 49.30 L5.2 49.80 L4.5 50.26 L3.8 50.65 L3.0 50.94 L2.2 51.08 L1.5 51.08 L0.8 50.92 L0.0 50.63Z" fill="#7a7a7a" fill-opacity="1"/>
<path d="M0.0 50.63 L0.8 50.92 L1.5 51.08 L2.2 51.08 L3.0 50.94 L3.8 50.65 L4.5 50.26 L5.2 49.80 L6.0 49.30 L6.8 48.83 L7.5 48.42 L8.2 48.11 L9.0 47.93 L9.8 47.91 L10.5 48.03 L11.2 48.30 L12.0 48.68 L12.8 49.14 L13.5 49.63 L14.2 50.11 L15.0 50.53 L15.8 50.86 L16.5 51.05 L17.2 51.10 L18.0 50.99 L18.8 50.74 L19.5 50.38 L20.2 49.92 L21.0 49.43 L21.8 48.95 L22.5 48.52 L23.2 48.18 L24.0 47.97 L24.8 47.90 L25.5 47.99 L26.2 48.22 L27.0 48.57 L27.8 49.01 L28.5 49.50 L29.2 49.99 L30.0 50.43 L30.8 50.78 L31.5 51.01 L32.2 51.10 L33.0 51.03 L33.8 50.82 L34.5 50.48 L35.2 50.05 L36.0 49.57 L36.8 49.08 L37.5 48.62 L38.2 48.26 L39.0 48.01 L39.8 47.90 L40.5 47.95 L41.2 48.14 L42.0 48.47 L42.8 48.89 L43.5 49.37 L44.2 49.86 L45.0 50.32 L45.8 50.70 L46.5 50.97 L47.2 51.09 L48.0 51.07 L48.8 50.89 L49.5 50.58 L50.2 50.17 L51.0 49.70 L51.8 49.20 L52.5 48.74 L53.2 48.35 L54.0 48.06 L54.8 47.92 L55.5 47.92 L56.2 48.08 L57.0 48.37 L57.8 48.77 L58.5 49.24 L59.2 49.73 L60.0 50.20 L60.8 50.61 L61.5 50.91 L62.2 51.07 L63.0 51.09 L63.8 50.95 L64.5 50.68 L65.2 50.29 L66.0 49.83 L66.8 49.33 L67.5 48.86 L68.2 48.44 L69.0 48.13 L69.8 47.94 L70.5 47.91 L71.2 48.02 L72.0 48.28 L72.8 48.65 L73.5 49.11 L74.2 49.60 L75.0 50.08 L75.8 50.51 L76.5 50.84 L77.2 51.04 L78.0 51.10 L78.8 51.00 L79.5 50.76 L80.2 50.40 L81.0 49.96 L81.8 49.47 L82.5 48.98 L83.2 48.54 L84.0 48.20 L84.8 47.98 L85.5 47.90 L86.2 47.98 L87.0 48.20 L87.8 48.54 L88.5 48.98 L89.2 49.47 L90.0 49.96 L90.7 50.38 L90.7 51.68 L90.0 51.26 L89.2 50.77 L88.5 50.28 L87.8 49.84 L87.0 49.50 L86.2 49.28 L85.5 49.20 L84.8 49.28 L84.0 49.50 L83.2 49.84 L82.5 50.28 L81.8 50.77 L81.0 51.26 L80.2 51.70 L79.5 52.06 L78.8 52.30 L78.0 52.40 L77.2 52.34 L76.5 52.14 L75.8 51.81 L75.0 51.38 L74.2 50.90 L73.5 50.41 L72.8 49.95 L72.0 49.58 L71.2 49.32 L70.5 49.21 L69.8 49.24 L69.0 49.43 L68.2 49.74 L67.5 50.16 L66.8 50.63 L66.0 51.13 L65.2 51.59 L64.5 51.98 L63.8 52.25 L63.0 52.39 L62.2 52.37 L61.5 52.21 L60.8 51.91 L60.0 51.50 L59.2 51.03 L58.5 50.54 L57.8 50.07 L57.0 49.67 L56.2 49.38 L55.5 49.22 L54.8 49.22 L54.0 49.36 L53.2 49.65 L52.5 50.04 L51.8 50.50 L51.0 51.00 L50.2 51.47 L49.5 51.88 L48.8 52.19 L48.0 52.37 L47.2 52.39 L46.5 52.27 L45.8 52.00 L45.0 51.62 L44.2 51.16 L43.5 50.67 L42.8 50.19 L42.0 49.77 L41.2 49.44 L40.5 49.25 L39.8 49.20 L39.0 49.31 L38.2 49.56 L37.5 49.92 L36.8 50.38 L36.0 50.87 L35.2 51.35 L34.5 51.78 L33.8 52.12 L33.0 52.33 L32.2 52.40 L31.5 52.31 L30.8 52.08 L30.0 51.73 L29.2 51.29 L28.5 50.80 L27.8 50.31 L27.0 49.87 L26.2 49.52 L25.5 49.29 L24.8 49.20 L24.0 49.27 L23.2 49.48 L22.5 49.82 L21.8 50.25 L21.0 50.73 L20.2 51.22 L19.5 51.68 L18.8 52.04 L18.0 52.29 L17.2 52.40 L16.5 52.35 L15.8 52.16 L15.0 51.83 L14.2 51.41 L13.5 50.93 L12.8 50.44 L12.0 49.98 L11.2 49.60 L10.5 49.33 L9.8 49.21 L9.0 49.23 L8.2 49.41 L7.5 49.72 L6.8 50.13 L6.0 50.60 L5.2 51.10 L4.5 51.56 L3.8 51.95 L3.0 52.24 L2.2 52.38 L1.5 52.38 L0.8 52.22 L0.0 51.93Z" fill="#3c3c3c" fill-opacity="1"/>
<ellipse cx="7.0" cy="37.5" rx="2.6" ry="4.5" fill="#484848" fill-opacity="0.8"/>
<ellipse cx="22.2" cy="37.5" rx="2.6" ry="4.5" fill="#484848" fill-opacity="0.8"/>
<ellipse cx="37.4" cy="37.5" rx="2.6" ry="4.5" fill="#484848" fill-opacity="0.8"/>
<ellipse cx="52.6" cy="37.5" rx="2.6" ry="4.5" fill="#484848" fill-opacity="0.8"/>
<ellipse cx="67.8" cy="37.5" rx="2.6" ry="4.5" fill="#484848" fill-opacity="0.8"/>
<ellipse cx="83.0" cy="37.5" rx="2.6" ry="4.5" fill="#484848" fill-opacity="0.8"/>
</g><g filter="url(#bl)">
<path d="M0.0 52.99 L0.8 53.24 L1.5 53.38 L2.2 53.39 L3.0 53.26 L3.8 53.01 L4.5 52.67 L5.2 52.26 L6.0 51.83 L6.8 51.41 L7.5 51.05 L8.2 50.78 L9.0 50.63 L9.8 50.61 L10.5 50.72 L11.2 50.95 L12.0 51.28 L12.8 51.68 L13.5 52.12 L14.2 52.54 L15.0 52.90 L15.8 53.19 L16.5 53.36 L17.2 53.40 L18.0 53.30 L18.8 53.09 L19.5 52.77 L20.2 52.37 L21.0 51.94 L21.8 51.52 L22.5 51.14 L23.2 50.84 L24.0 50.66 L24.8 50.60 L25.5 50.68 L26.2 50.88 L27.0 51.19 L27.8 51.57 L28.5 52.00 L29.2 52.43 L30.0 52.81 L30.8 53.12 L31.5 53.32 L32.2 53.40 L33.0 53.34 L33.8 53.16 L34.5 52.86 L35.2 52.48 L36.0 52.06 L36.8 51.63 L37.5 51.23 L38.2 50.91 L39.0 50.70 L39.8 50.60 L40.5 50.64 L41.2 50.81 L42.0 51.10 L42.8 51.46 L43.5 51.88 L44.2 52.32 L45.0 52.72 L45.8 53.05 L46.5 53.28 L47.2 53.39 L48.0 53.37 L48.8 53.22 L49.5 52.95 L50.2 52.59 L51.0 52.17 L51.8 51.74 L52.5 51.33 L53.2 50.99 L54.0 50.74 L54.8 50.61 L55.5 50.62 L56.2 50.76 L57.0 51.01 L57.8 51.36 L58.5 51.77 L59.2 52.20 L60.0 52.61 L60.8 52.97 L61.5 53.23 L62.2 53.38 L63.0 53.39 L63.8 53.27 L64.5 53.03 L65.2 52.69 L66.0 52.29 L66.8 51.86 L67.5 51.44 L68.2 51.07 L69.0 50.80 L69.8 50.64 L70.5 50.60 L71.2 50.71 L72.0 50.93 L72.8 51.26 L73.5 51.66 L74.2 52.09 L75.0 52.51 L75.8 52.88 L76.5 53.17 L77.2 53.35 L78.0 53.40 L78.8 53.31 L79.5 53.10 L80.2 52.79 L81.0 52.40 L81.8 51.97 L82.5 51.55 L83.2 51.16 L84.0 50.86 L84.8 50.67 L85.5 50.60 L86.2 50.67 L87.0 50.86 L87.8 51.16 L88.5 51.55 L89.2 51.97 L90.0 52.40 L90.7 52.77" stroke="#e1e1e1" stroke-width="2.2" fill="none" stroke-opacity="1"/>
<path d="M0.0 3.20 L0.8 3.20 L1.5 3.20 L2.2 3.20 L3.0 3.20 L3.8 3.20 L4.5 3.20 L5.2 3.20 L6.0 3.20 L6.8 3.20 L7.5 3.20 L8.2 3.20 L9.0 3.20 L9.8 3.20 L10.5 3.20 L11.2 3.20 L12.0 3.20 L12.8 3.20 L13.5 3.20 L14.2 3.20 L15.0 3.20 L15.8 3.20 L16.5 3.20 L17.2 3.20 L18.0 3.20 L18.8 3.20 L19.5 3.20 L20.2 3.20 L21.0 3.20 L21.8 3.20 L22.5 3.20 L23.2 3.20 L24.0 3.20 L24.8 3.20 L25.5 3.20 L26.2 3.20 L27.0 3.20 L27.8 3.20 L28.5 3.20 L29.2 3.20 L30.0 3.20 L30.8 3.20 L31.5 3.20 L32.2 3.20 L33.0 3.20 L33.8 3.20 L34.5 3.20 L35.2 3.20 L36.0 3.20 L36.8 3.20 L37.5 3.20 L38.2 3.20 L39.0 3.20 L39.8 3.20 L40.5 3.20 L41.2 3.20 L42.0 3.20 L42.8 3.20 L43.5 3.20 L44.2 3.20 L45.0 3.20 L45.8 3.20 L46.5 3.20 L47.2 3.20 L48.0 3.20 L48.8 3.20 L49.5 3.20 L50.2 3.20 L51.0 3.20 L51.8 3.20 L52.5 3.20 L53.2 3.20 L54.0 3.20 L54.8 3.20 L55.5 3.20 L56.2 3.20 L57.0 3.20 L57.8 3.20 L58.5 3.20 L59.2 3.20 L60.0 3.20 L60.8 3.20 L61.5 3.20 L62.2 3.20 L63.0 3.20 L63.8 3.20 L64.5 3.20 L65.2 3.20 L66.0 3.20 L66.8 3.20 L67.5 3.20 L68.2 3.20 L69.0 3.20 L69.8 3.20 L70.5 3.20 L71.2 3.20 L72.0 3.20 L72.8 3.20 L73.5 3.20 L74.2 3.20 L75.0 3.20 L75.8 3.20 L76.5 3.20 L77.2 3.20 L78.0 3.20 L78.8 3.20 L79.5 3.20 L80.2 3.20 L81.0 3.20 L81.8 3.20 L82.5 3.20 L83.2 3.20 L84.0 3.20 L84.8 3.20 L85.5 3.20 L86.2 3.20 L87.0 3.20 L87.8 3.20 L88.5 3.20 L89.2 3.20 L90.0 3.20 L90.7 3.20" stroke="#bebebe" stroke-width="1.5" fill="none" stroke-opacity="1"/>
</g></g>
<text x="458.0" y="27.4" class="tk" text-anchor="middle">12W</text>
<clipPath id="c8"><rect x="0" y="0" width="91.3" height="56.5"/></clipPath>
<g transform="translate(412.4,31)" clip-path="url(#c8)"><g filter="url(#spk40)">
<linearGradient id="g8" x1="0" y1="0" x2="0" y2="1"><stop offset="0.0000" stop-color="#767676"/><stop offset="0.0442" stop-color="#6c6c6c"/><stop offset="0.0566" stop-color="#303030"/><stop offset="0.0973" stop-color="#3c3c3c"/><stop offset="0.1150" stop-color="#5f5f5f"/><stop offset="0.1504" stop-color="#626262"/><stop offset="0.1593" stop-color="#606060"/><stop offset="0.2655" stop-color="#5c5c5c"/><stop offset="0.3540" stop-color="#5c5c5c"/><stop offset="0.3717" stop-color="#3c3c3c"/><stop offset="0.7080" stop-color="#3c3c3c"/><stop offset="0.7788" stop-color="#787878"/><stop offset="0.8053" stop-color="#969696"/><stop offset="0.8673" stop-color="#8c8c8c"/><stop offset="0.8850" stop-color="#696969"/><stop offset="1.0000" stop-color="#626262"/></linearGradient>
<rect x="-1" y="0" width="93.3" height="56.5" fill="url(#g8)"/>
<path d="M0.0 15.11 L0.8 15.01 L1.5 15.03 L2.2 15.17 L3.0 15.42 L3.8 15.78 L4.5 16.24 L5.2 16.79 L6.0 17.42 L6.8 18.09 L7.5 18.81 L8.2 19.55 L9.0 18.91 L9.8 18.19 L10.5 17.50 L11.2 16.87 L12.0 16.31 L12.8 15.84 L13.5 15.46 L14.2 15.19 L15.0 15.04 L15.8 15.00 L16.5 15.09 L17.2 15.29 L18.0 15.60 L18.8 16.02 L19.5 16.53 L20.2 17.12 L21.0 17.77 L21.8 18.47 L22.5 19.20 L23.2 19.25 L24.0 18.52 L24.8 17.82 L25.5 17.16 L26.2 16.56 L27.0 16.05 L27.8 15.62 L28.5 15.30 L29.2 15.10 L30.0 15.00 L30.8 15.03 L31.5 15.18 L32.2 15.44 L33.0 15.81 L33.8 16.28 L34.5 16.83 L35.2 17.46 L36.0 18.14 L36.8 18.86 L37.5 19.60 L38.2 18.86 L39.0 18.14 L39.8 17.46 L40.5 16.83 L41.2 16.28 L42.0 15.81 L42.8 15.44 L43.5 15.18 L44.2 15.03 L45.0 15.00 L45.8 15.10 L46.5 15.30 L47.2 15.62 L48.0 16.05 L48.8 16.56 L49.5 17.16 L50.2 17.82 L51.0 18.52 L51.8 19.25 L52.5 19.20 L53.2 18.47 L54.0 17.77 L54.8 17.12 L55.5 16.53 L56.2 16.02 L57.0 15.60 L57.8 15.29 L58.5 15.09 L59.2 15.00 L60.0 15.04 L60.8 15.19 L61.5 15.46 L62.2 15.84 L63.0 16.31 L63.8 16.87 L64.5 17.50 L65.2 18.19 L66.0 18.91 L66.8 19.55 L67.5 18.81 L68.2 18.09 L69.0 17.42 L69.8 16.79 L70.5 16.24 L71.2 15.78 L72.0 15.42 L72.8 15.17 L73.5 15.03 L74.2 15.01 L75.0 15.11 L75.8 15.32 L76.5 15.65 L77.2 16.08 L78.0 16.60 L78.8 17.20 L79.5 17.86 L80.2 18.57 L81.0 19.30 L81.8 19.16 L82.5 18.43 L83.2 17.73 L84.0 17.08 L84.8 16.49 L85.5 15.99 L86.2 15.58 L87.0 15.27 L87.8 15.08 L88.5 15.00 L89.2 15.04 L90.0 15.21 L90.8 15.48 L91.3 15.75 L91.3 23.50 L90.8 23.50 L90.0 23.50 L89.2 23.50 L88.5 23.50 L87.8 23.50 L87.0 23.50 L86.2 23.50 L85.5 23.50 L84.8 23.50 L84.0 23.50 L83.2 23.50 L82.5 23.50 L81.8 23.50 L81.0 23.50 L80.2 23.50 L79.5 23.50 L78.8 23.50 L78.0 23.50 L77.2 23.50 L76.5 23.50 L75.8 23.50 L75.0 23.50 L74.2 23.50 L73.5 23.50 L72.8 23.50 L72.0 23.50 L71.2 23.50 L70.5 23.50 L69.8 23.50 L69.0 23.50 L68.2 23.50 L67.5 23.50 L66.8 23.50 L66.0 23.50 L65.2 23.50 L64.5 23.50 L63.8 23.50 L63.0 23.50 L62.2 23.50 L61.5 23.50 L60.8 23.50 L60.0 23.50 L59.2 23.50 L58.5 23.50 L57.8 23.50 L57.0 23.50 L56.2 23.50 L55.5 23.50 L54.8 23.50 L54.0 23.50 L53.2 23.50 L52.5 23.50 L51.8 23.50 L51.0 23.50 L50.2 23.50 L49.5 23.50 L48.8 23.50 L48.0 23.50 L47.2 23.50 L46.5 23.50 L45.8 23.50 L45.0 23.50 L44.2 23.50 L43.5 23.50 L42.8 23.50 L42.0 23.50 L41.2 23.50 L40.5 23.50 L39.8 23.50 L39.0 23.50 L38.2 23.50 L37.5 23.50 L36.8 23.50 L36.0 23.50 L35.2 23.50 L34.5 23.50 L33.8 23.50 L33.0 23.50 L32.2 23.50 L31.5 23.50 L30.8 23.50 L30.0 23.50 L29.2 23.50 L28.5 23.50 L27.8 23.50 L27.0 23.50 L26.2 23.50 L25.5 23.50 L24.8 23.50 L24.0 23.50 L23.2 23.50 L22.5 23.50 L21.8 23.50 L21.0 23.50 L20.2 23.50 L19.5 23.50 L18.8 23.50 L18.0 23.50 L17.2 23.50 L16.5 23.50 L15.8 23.50 L15.0 23.50 L14.2 23.50 L13.5 23.50 L12.8 23.50 L12.0 23.50 L11.2 23.50 L10.5 23.50 L9.8 23.50 L9.0 23.50 L8.2 23.50 L7.5 23.50 L6.8 23.50 L6.0 23.50 L5.2 23.50 L4.5 23.50 L3.8 23.50 L3.0 23.50 L2.2 23.50 L1.5 23.50 L0.8 23.50 L0.0 23.50Z" fill="#1c1c1c" fill-opacity="1"/>
<path d="M0.0 23.50 L0.8 23.50 L1.5 23.50 L2.2 23.50 L3.0 23.50 L3.8 23.50 L4.5 23.50 L5.2 23.50 L6.0 23.50 L6.8 23.50 L7.5 23.50 L8.2 23.50 L9.0 23.50 L9.8 23.50 L10.5 23.50 L11.2 23.50 L12.0 23.50 L12.8 23.50 L13.5 23.50 L14.2 23.50 L15.0 23.50 L15.8 23.50 L16.5 23.50 L17.2 23.50 L18.0 23.50 L18.8 23.50 L19.5 23.50 L20.2 23.50 L21.0 23.50 L21.8 23.50 L22.5 23.50 L23.2 23.50 L24.0 23.50 L24.8 23.50 L25.5 23.50 L26.2 23.50 L27.0 23.50 L27.8 23.50 L28.5 23.50 L29.2 23.50 L30.0 23.50 L30.8 23.50 L31.5 23.50 L32.2 23.50 L33.0 23.50 L33.8 23.50 L34.5 23.50 L35.2 23.50 L36.0 23.50 L36.8 23.50 L37.5 23.50 L38.2 23.50 L39.0 23.50 L39.8 23.50 L40.5 23.50 L41.2 23.50 L42.0 23.50 L42.8 23.50 L43.5 23.50 L44.2 23.50 L45.0 23.50 L45.8 23.50 L46.5 23.50 L47.2 23.50 L48.0 23.50 L48.8 23.50 L49.5 23.50 L50.2 23.50 L51.0 23.50 L51.8 23.50 L52.5 23.50 L53.2 23.50 L54.0 23.50 L54.8 23.50 L55.5 23.50 L56.2 23.50 L57.0 23.50 L57.8 23.50 L58.5 23.50 L59.2 23.50 L60.0 23.50 L60.8 23.50 L61.5 23.50 L62.2 23.50 L63.0 23.50 L63.8 23.50 L64.5 23.50 L65.2 23.50 L66.0 23.50 L66.8 23.50 L67.5 23.50 L68.2 23.50 L69.0 23.50 L69.8 23.50 L70.5 23.50 L71.2 23.50 L72.0 23.50 L72.8 23.50 L73.5 23.50 L74.2 23.50 L75.0 23.50 L75.8 23.50 L76.5 23.50 L77.2 23.50 L78.0 23.50 L78.8 23.50 L79.5 23.50 L80.2 23.50 L81.0 23.50 L81.8 23.50 L82.5 23.50 L83.2 23.50 L84.0 23.50 L84.8 23.50 L85.5 23.50 L86.2 23.50 L87.0 23.50 L87.8 23.50 L88.5 23.50 L89.2 23.50 L90.0 23.50 L90.8 23.50 L91.3 23.50 L91.3 25.50 L90.8 25.50 L90.0 25.50 L89.2 25.50 L88.5 25.50 L87.8 25.50 L87.0 25.50 L86.2 25.50 L85.5 25.50 L84.8 25.50 L84.0 25.50 L83.2 25.50 L82.5 25.50 L81.8 25.50 L81.0 25.50 L80.2 25.50 L79.5 25.50 L78.8 25.50 L78.0 25.50 L77.2 25.50 L76.5 25.50 L75.8 25.50 L75.0 25.50 L74.2 25.50 L73.5 25.50 L72.8 25.50 L72.0 25.50 L71.2 25.50 L70.5 25.50 L69.8 25.50 L69.0 25.50 L68.2 25.50 L67.5 25.50 L66.8 25.50 L66.0 25.50 L65.2 25.50 L64.5 25.50 L63.8 25.50 L63.0 25.50 L62.2 25.50 L61.5 25.50 L60.8 25.50 L60.0 25.50 L59.2 25.50 L58.5 25.50 L57.8 25.50 L57.0 25.50 L56.2 25.50 L55.5 25.50 L54.8 25.50 L54.0 25.50 L53.2 25.50 L52.5 25.50 L51.8 25.50 L51.0 25.50 L50.2 25.50 L49.5 25.50 L48.8 25.50 L48.0 25.50 L47.2 25.50 L46.5 25.50 L45.8 25.50 L45.0 25.50 L44.2 25.50 L43.5 25.50 L42.8 25.50 L42.0 25.50 L41.2 25.50 L40.5 25.50 L39.8 25.50 L39.0 25.50 L38.2 25.50 L37.5 25.50 L36.8 25.50 L36.0 25.50 L35.2 25.50 L34.5 25.50 L33.8 25.50 L33.0 25.50 L32.2 25.50 L31.5 25.50 L30.8 25.50 L30.0 25.50 L29.2 25.50 L28.5 25.50 L27.8 25.50 L27.0 25.50 L26.2 25.50 L25.5 25.50 L24.8 25.50 L24.0 25.50 L23.2 25.50 L22.5 25.50 L21.8 25.50 L21.0 25.50 L20.2 25.50 L19.5 25.50 L18.8 25.50 L18.0 25.50 L17.2 25.50 L16.5 25.50 L15.8 25.50 L15.0 25.50 L14.2 25.50 L13.5 25.50 L12.8 25.50 L12.0 25.50 L11.2 25.50 L10.5 25.50 L9.8 25.50 L9.0 25.50 L8.2 25.50 L7.5 25.50 L6.8 25.50 L6.0 25.50 L5.2 25.50 L4.5 25.50 L3.8 25.50 L3.0 25.50 L2.2 25.50 L1.5 25.50 L0.8 25.50 L0.0 25.50Z" fill="#2a2a2a" fill-opacity="1"/>
<rect x="-1" y="26.65" width="93.3" height="0.7" fill="#696969" fill-opacity="0.6"/>
<rect x="-1" y="31.15" width="93.3" height="0.7" fill="#646464" fill-opacity="0.5"/>
<path d="M0.0 25.50 L0.8 25.50 L1.5 25.50 L2.2 25.50 L3.0 25.50 L3.8 25.50 L4.5 25.50 L5.2 25.50 L6.0 25.50 L6.8 25.50 L7.5 25.50 L8.2 25.50 L9.0 25.50 L9.8 25.50 L10.5 25.50 L11.2 25.50 L12.0 25.50 L12.8 25.50 L13.5 25.50 L14.2 25.50 L15.0 25.50 L15.8 25.50 L16.5 25.50 L17.2 25.50 L18.0 25.50 L18.8 25.50 L19.5 25.50 L20.2 25.50 L21.0 25.50 L21.8 25.50 L22.5 25.50 L23.2 25.50 L24.0 25.50 L24.8 25.50 L25.5 25.50 L26.2 25.50 L27.0 25.50 L27.8 25.50 L28.5 25.50 L29.2 25.50 L30.0 25.50 L30.8 25.50 L31.5 25.50 L32.2 25.50 L33.0 25.50 L33.8 25.50 L34.5 25.50 L35.2 25.50 L36.0 25.50 L36.8 25.50 L37.5 25.50 L38.2 25.50 L39.0 25.50 L39.8 25.50 L40.5 25.50 L41.2 25.50 L42.0 25.50 L42.8 25.50 L43.5 25.50 L44.2 25.50 L45.0 25.50 L45.8 25.50 L46.5 25.50 L47.2 25.50 L48.0 25.50 L48.8 25.50 L49.5 25.50 L50.2 25.50 L51.0 25.50 L51.8 25.50 L52.5 25.50 L53.2 25.50 L54.0 25.50 L54.8 25.50 L55.5 25.50 L56.2 25.50 L57.0 25.50 L57.8 25.50 L58.5 25.50 L59.2 25.50 L60.0 25.50 L60.8 25.50 L61.5 25.50 L62.2 25.50 L63.0 25.50 L63.8 25.50 L64.5 25.50 L65.2 25.50 L66.0 25.50 L66.8 25.50 L67.5 25.50 L68.2 25.50 L69.0 25.50 L69.8 25.50 L70.5 25.50 L71.2 25.50 L72.0 25.50 L72.8 25.50 L73.5 25.50 L74.2 25.50 L75.0 25.50 L75.8 25.50 L76.5 25.50 L77.2 25.50 L78.0 25.50 L78.8 25.50 L79.5 25.50 L80.2 25.50 L81.0 25.50 L81.8 25.50 L82.5 25.50 L83.2 25.50 L84.0 25.50 L84.8 25.50 L85.5 25.50 L86.2 25.50 L87.0 25.50 L87.8 25.50 L88.5 25.50 L89.2 25.50 L90.0 25.50 L90.8 25.50 L91.3 25.50 L91.3 40.79 L90.8 41.13 L90.0 41.49 L89.2 41.71 L88.5 41.80 L87.8 41.75 L87.0 41.56 L86.2 41.24 L85.5 40.79 L84.8 40.23 L84.0 39.57 L83.2 38.83 L82.5 38.02 L81.8 37.17 L81.0 36.30 L80.2 37.17 L79.5 38.02 L78.8 38.83 L78.0 39.57 L77.2 40.23 L76.5 40.79 L75.8 41.24 L75.0 41.56 L74.2 41.75 L73.5 41.80 L72.8 41.71 L72.0 41.49 L71.2 41.13 L70.5 40.65 L69.8 40.06 L69.0 39.38 L68.2 38.62 L67.5 37.80 L66.8 36.94 L66.0 36.53 L65.2 37.40 L64.5 38.24 L63.8 39.03 L63.0 39.76 L62.2 40.39 L61.5 40.92 L60.8 41.34 L60.0 41.62 L59.2 41.77 L58.5 41.79 L57.8 41.66 L57.0 41.40 L56.2 41.01 L55.5 40.50 L54.8 39.89 L54.0 39.18 L53.2 38.40 L52.5 37.57 L51.8 36.71 L51.0 36.77 L50.2 37.63 L49.5 38.46 L48.8 39.23 L48.0 39.93 L47.2 40.54 L46.5 41.04 L45.8 41.42 L45.0 41.68 L44.2 41.79 L43.5 41.77 L42.8 41.61 L42.0 41.31 L41.2 40.89 L40.5 40.35 L39.8 39.71 L39.0 38.98 L38.2 38.19 L37.5 37.34 L36.8 36.48 L36.0 37.00 L35.2 37.85 L34.5 38.67 L33.8 39.43 L33.0 40.11 L32.2 40.69 L31.5 41.16 L30.8 41.50 L30.0 41.72 L29.2 41.80 L28.5 41.74 L27.8 41.54 L27.0 41.21 L26.2 40.76 L25.5 40.19 L24.8 39.52 L24.0 38.78 L23.2 37.97 L22.5 37.11 L21.8 36.36 L21.0 37.23 L20.2 38.08 L19.5 38.88 L18.8 39.62 L18.0 40.27 L17.2 40.82 L16.5 41.26 L15.8 41.58 L15.0 41.76 L14.2 41.80 L13.5 41.70 L12.8 41.47 L12.0 41.10 L11.2 40.62 L10.5 40.02 L9.8 39.33 L9.0 38.57 L8.2 37.74 L7.5 36.88 L6.8 36.59 L6.0 37.46 L5.2 38.30 L4.5 39.08 L3.8 39.80 L3.0 40.43 L2.2 40.95 L1.5 41.36 L0.8 41.64 L0.0 41.78Z" fill="#3c3c3c" fill-opacity="1"/>
<path d="M0.0 41.78 L0.8 41.64 L1.5 41.36 L2.2 40.95 L3.0 40.43 L3.8 39.80 L4.5 39.08 L5.2 38.30 L6.0 37.46 L6.8 36.59 L7.5 36.88 L8.2 37.74 L9.0 38.57 L9.8 39.33 L10.5 40.02 L11.2 40.62 L12.0 41.10 L12.8 41.47 L13.5 41.70 L14.2 41.80 L15.0 41.76 L15.8 41.58 L16.5 41.26 L17.2 40.82 L18.0 40.27 L18.8 39.62 L19.5 38.88 L20.2 38.08 L21.0 37.23 L21.8 36.36 L22.5 37.11 L23.2 37.97 L24.0 38.78 L24.8 39.52 L25.5 40.19 L26.2 40.76 L27.0 41.21 L27.8 41.54 L28.5 41.74 L29.2 41.80 L30.0 41.72 L30.8 41.50 L31.5 41.16 L32.2 40.69 L33.0 40.11 L33.8 39.43 L34.5 38.67 L35.2 37.85 L36.0 37.00 L36.8 36.48 L37.5 37.34 L38.2 38.19 L39.0 38.98 L39.8 39.71 L40.5 40.35 L41.2 40.89 L42.0 41.31 L42.8 41.61 L43.5 41.77 L44.2 41.79 L45.0 41.68 L45.8 41.42 L46.5 41.04 L47.2 40.54 L48.0 39.93 L48.8 39.23 L49.5 38.46 L50.2 37.63 L51.0 36.77 L51.8 36.71 L52.5 37.57 L53.2 38.40 L54.0 39.18 L54.8 39.89 L55.5 40.50 L56.2 41.01 L57.0 41.40 L57.8 41.66 L58.5 41.79 L59.2 41.77 L60.0 41.62 L60.8 41.34 L61.5 40.92 L62.2 40.39 L63.0 39.76 L63.8 39.03 L64.5 38.24 L65.2 37.40 L66.0 36.53 L66.8 36.94 L67.5 37.80 L68.2 38.62 L69.0 39.38 L69.8 40.06 L70.5 40.65 L71.2 41.13 L72.0 41.49 L72.8 41.71 L73.5 41.80 L74.2 41.75 L75.0 41.56 L75.8 41.24 L76.5 40.79 L77.2 40.23 L78.0 39.57 L78.8 38.83 L79.5 38.02 L80.2 37.17 L81.0 36.30 L81.8 37.17 L82.5 38.02 L83.2 38.83 L84.0 39.57 L84.8 40.23 L85.5 40.79 L86.2 41.24 L87.0 41.56 L87.8 41.75 L88.5 41.80 L89.2 41.71 L90.0 41.49 L90.8 41.13 L91.3 40.79 L91.3 42.25 L90.8 42.57 L90.0 42.90 L89.2 43.12 L88.5 43.20 L87.8 43.15 L87.0 42.97 L86.2 42.67 L85.5 42.25 L84.8 41.72 L84.0 41.09 L83.2 40.39 L82.5 39.63 L81.8 38.82 L81.0 38.00 L80.2 38.82 L79.5 39.63 L78.8 40.39 L78.0 41.09 L77.2 41.72 L76.5 42.25 L75.8 42.67 L75.0 42.97 L74.2 43.15 L73.5 43.20 L72.8 43.12 L72.0 42.90 L71.2 42.57 L70.5 42.11 L69.8 41.56 L69.0 40.91 L68.2 40.19 L67.5 39.42 L66.8 38.61 L66.0 38.22 L65.2 39.04 L64.5 39.84 L63.8 40.58 L63.0 41.27 L62.2 41.87 L61.5 42.37 L60.8 42.76 L60.0 43.03 L59.2 43.18 L58.5 43.19 L57.8 43.07 L57.0 42.83 L56.2 42.46 L55.5 41.98 L54.8 41.39 L54.0 40.73 L53.2 39.99 L52.5 39.20 L51.8 38.39 L51.0 38.44 L50.2 39.26 L49.5 40.04 L48.8 40.77 L48.0 41.44 L47.2 42.01 L46.5 42.48 L45.8 42.85 L45.0 43.08 L44.2 43.19 L43.5 43.17 L42.8 43.02 L42.0 42.74 L41.2 42.34 L40.5 41.83 L39.8 41.22 L39.0 40.54 L38.2 39.78 L37.5 38.99 L36.8 38.17 L36.0 38.66 L35.2 39.47 L34.5 40.24 L33.8 40.96 L33.0 41.60 L32.2 42.15 L31.5 42.59 L30.8 42.92 L30.0 43.13 L29.2 43.20 L28.5 43.14 L27.8 42.96 L27.0 42.64 L26.2 42.21 L25.5 41.68 L24.8 41.05 L24.0 40.34 L23.2 39.58 L22.5 38.77 L21.8 38.06 L21.0 38.88 L20.2 39.68 L19.5 40.44 L18.8 41.14 L18.0 41.75 L17.2 42.28 L16.5 42.69 L15.8 42.99 L15.0 43.16 L14.2 43.20 L13.5 43.11 L12.8 42.88 L12.0 42.54 L11.2 42.08 L10.5 41.52 L9.8 40.87 L9.0 40.14 L8.2 39.36 L7.5 38.55 L6.8 38.28 L6.0 39.10 L5.2 39.89 L4.5 40.63 L3.8 41.31 L3.0 41.90 L2.2 42.40 L1.5 42.78 L0.8 43.05 L0.0 43.18Z" fill="#969696" fill-opacity="1"/>
<path d="M0.0 43.18 L0.8 43.05 L1.5 42.78 L2.2 42.40 L3.0 41.90 L3.8 41.31 L4.5 40.63 L5.2 39.89 L6.0 39.10 L6.8 38.28 L7.5 38.55 L8.2 39.36 L9.0 40.14 L9.8 40.87 L10.5 41.52 L11.2 42.08 L12.0 42.54 L12.8 42.88 L13.5 43.11 L14.2 43.20 L15.0 43.16 L15.8 42.99 L16.5 42.69 L17.2 42.28 L18.0 41.75 L18.8 41.14 L19.5 40.44 L20.2 39.68 L21.0 38.88 L21.8 38.06 L22.5 38.77 L23.2 39.58 L24.0 40.34 L24.8 41.05 L25.5 41.68 L26.2 42.21 L27.0 42.64 L27.8 42.96 L28.5 43.14 L29.2 43.20 L30.0 43.13 L30.8 42.92 L31.5 42.59 L32.2 42.15 L33.0 41.60 L33.8 40.96 L34.5 40.24 L35.2 39.47 L36.0 38.66 L36.8 38.17 L37.5 38.99 L38.2 39.78 L39.0 40.54 L39.8 41.22 L40.5 41.83 L41.2 42.34 L42.0 42.74 L42.8 43.02 L43.5 43.17 L44.2 43.19 L45.0 43.08 L45.8 42.85 L46.5 42.48 L47.2 42.01 L48.0 41.44 L48.8 40.77 L49.5 40.04 L50.2 39.26 L51.0 38.44 L51.8 38.39 L52.5 39.20 L53.2 39.99 L54.0 40.73 L54.8 41.39 L55.5 41.98 L56.2 42.46 L57.0 42.83 L57.8 43.07 L58.5 43.19 L59.2 43.18 L60.0 43.03 L60.8 42.76 L61.5 42.37 L62.2 41.87 L63.0 41.27 L63.8 40.58 L64.5 39.84 L65.2 39.04 L66.0 38.22 L66.8 38.61 L67.5 39.42 L68.2 40.19 L69.0 40.91 L69.8 41.56 L70.5 42.11 L71.2 42.57 L72.0 42.90 L72.8 43.12 L73.5 43.20 L74.2 43.15 L75.0 42.97 L75.8 42.67 L76.5 42.25 L77.2 41.72 L78.0 41.09 L78.8 40.39 L79.5 39.63 L80.2 38.82 L81.0 38.00 L81.8 38.82 L82.5 39.63 L83.2 40.39 L84.0 41.09 L84.8 41.72 L85.5 42.25 L86.2 42.67 L87.0 42.97 L87.8 43.15 L88.5 43.20 L89.2 43.12 L90.0 42.90 L90.8 42.57 L91.3 42.25 L91.3 43.48 L90.8 43.79 L90.0 44.11 L89.2 44.32 L88.5 44.40 L87.8 44.35 L87.0 44.18 L86.2 43.89 L85.5 43.48 L84.8 42.97 L84.0 42.37 L83.2 41.70 L82.5 40.97 L81.8 40.19 L81.0 39.40 L80.2 40.19 L79.5 40.97 L78.8 41.70 L78.0 42.37 L77.2 42.97 L76.5 43.48 L75.8 43.89 L75.0 44.18 L74.2 44.35 L73.5 44.40 L72.8 44.32 L72.0 44.11 L71.2 43.79 L70.5 43.36 L69.8 42.82 L69.0 42.20 L68.2 41.51 L67.5 40.76 L66.8 39.98 L66.0 39.61 L65.2 40.40 L64.5 41.17 L63.8 41.88 L63.0 42.54 L62.2 43.12 L61.5 43.60 L60.8 43.98 L60.0 44.24 L59.2 44.38 L58.5 44.39 L57.8 44.28 L57.0 44.04 L56.2 43.69 L55.5 43.22 L54.8 42.66 L54.0 42.02 L53.2 41.31 L52.5 40.56 L51.8 39.77 L51.0 39.82 L50.2 40.61 L49.5 41.36 L48.8 42.07 L48.0 42.70 L47.2 43.26 L46.5 43.71 L45.8 44.06 L45.0 44.29 L44.2 44.39 L43.5 44.37 L42.8 44.23 L42.0 43.96 L41.2 43.57 L40.5 43.08 L39.8 42.50 L39.0 41.84 L38.2 41.12 L37.5 40.35 L36.8 39.56 L36.0 40.04 L35.2 40.81 L34.5 41.56 L33.8 42.24 L33.0 42.86 L32.2 43.39 L31.5 43.82 L30.8 44.13 L30.0 44.33 L29.2 44.40 L28.5 44.34 L27.8 44.17 L27.0 43.86 L26.2 43.45 L25.5 42.94 L24.8 42.33 L24.0 41.65 L23.2 40.91 L22.5 40.14 L21.8 39.45 L21.0 40.25 L20.2 41.02 L19.5 41.75 L18.8 42.42 L18.0 43.01 L17.2 43.51 L16.5 43.91 L15.8 44.20 L15.0 44.36 L14.2 44.40 L13.5 44.31 L12.8 44.10 L12.0 43.77 L11.2 43.32 L10.5 42.78 L9.8 42.16 L9.0 41.46 L8.2 40.71 L7.5 39.93 L6.8 39.67 L6.0 40.45 L5.2 41.21 L4.5 41.93 L3.8 42.58 L3.0 43.15 L2.2 43.63 L1.5 44.00 L0.8 44.25 L0.0 44.38Z" fill="#464646" fill-opacity="1"/>
<path d="M0.0 44.38 L0.8 44.25 L1.5 44.00 L2.2 43.63 L3.0 43.15 L3.8 42.58 L4.5 41.93 L5.2 41.21 L6.0 40.45 L6.8 39.67 L7.5 39.93 L8.2 40.71 L9.0 41.46 L9.8 42.16 L10.5 42.78 L11.2 43.32 L12.0 43.77 L12.8 44.10 L13.5 44.31 L14.2 44.40 L15.0 44.36 L15.8 44.20 L16.5 43.91 L17.2 43.51 L18.0 43.01 L18.8 42.42 L19.5 41.75 L20.2 41.02 L21.0 40.25 L21.8 39.45 L22.5 40.14 L23.2 40.91 L24.0 41.65 L24.8 42.33 L25.5 42.94 L26.2 43.45 L27.0 43.86 L27.8 44.17 L28.5 44.34 L29.2 44.40 L30.0 44.33 L30.8 44.13 L31.5 43.82 L32.2 43.39 L33.0 42.86 L33.8 42.24 L34.5 41.56 L35.2 40.81 L36.0 40.04 L36.8 39.56 L37.5 40.35 L38.2 41.12 L39.0 41.84 L39.8 42.50 L40.5 43.08 L41.2 43.57 L42.0 43.96 L42.8 44.23 L43.5 44.37 L44.2 44.39 L45.0 44.29 L45.8 44.06 L46.5 43.71 L47.2 43.26 L48.0 42.70 L48.8 42.07 L49.5 41.36 L50.2 40.61 L51.0 39.82 L51.8 39.77 L52.5 40.56 L53.2 41.31 L54.0 42.02 L54.8 42.66 L55.5 43.22 L56.2 43.69 L57.0 44.04 L57.8 44.28 L58.5 44.39 L59.2 44.38 L60.0 44.24 L60.8 43.98 L61.5 43.60 L62.2 43.12 L63.0 42.54 L63.8 41.88 L64.5 41.17 L65.2 40.40 L66.0 39.61 L66.8 39.98 L67.5 40.76 L68.2 41.51 L69.0 42.20 L69.8 42.82 L70.5 43.36 L71.2 43.79 L72.0 44.11 L72.8 44.32 L73.5 44.40 L74.2 44.35 L75.0 44.18 L75.8 43.89 L76.5 43.48 L77.2 42.97 L78.0 42.37 L78.8 41.70 L79.5 40.97 L80.2 40.19 L81.0 39.40 L81.8 40.19 L82.5 40.97 L83.2 41.70 L84.0 42.37 L84.8 42.97 L85.5 43.48 L86.2 43.89 L87.0 44.18 L87.8 44.35 L88.5 44.40 L89.2 44.32 L90.0 44.11 L90.8 43.79 L91.3 43.48 L91.3 44.72 L90.8 45.02 L90.0 45.33 L89.2 45.52 L88.5 45.60 L87.8 45.55 L87.0 45.39 L86.2 45.11 L85.5 44.72 L84.8 44.23 L84.0 43.65 L83.2 43.01 L82.5 42.30 L81.8 41.56 L81.0 40.80 L80.2 41.56 L79.5 42.30 L78.8 43.01 L78.0 43.65 L77.2 44.23 L76.5 44.72 L75.8 45.11 L75.0 45.39 L74.2 45.55 L73.5 45.60 L72.8 45.52 L72.0 45.33 L71.2 45.02 L70.5 44.60 L69.8 44.08 L69.0 43.49 L68.2 42.82 L67.5 42.11 L66.8 41.36 L66.0 41.00 L65.2 41.76 L64.5 42.49 L63.8 43.19 L63.0 43.82 L62.2 44.37 L61.5 44.83 L60.8 45.19 L60.0 45.45 L59.2 45.58 L58.5 45.59 L57.8 45.48 L57.0 45.25 L56.2 44.91 L55.5 44.47 L54.8 43.93 L54.0 43.32 L53.2 42.64 L52.5 41.91 L51.8 41.16 L51.0 41.21 L50.2 41.96 L49.5 42.68 L48.8 43.36 L48.0 43.97 L47.2 44.50 L46.5 44.94 L45.8 45.27 L45.0 45.49 L44.2 45.59 L43.5 45.57 L42.8 45.43 L42.0 45.17 L41.2 44.81 L40.5 44.34 L39.8 43.78 L39.0 43.14 L38.2 42.45 L37.5 41.71 L36.8 40.95 L36.0 41.41 L35.2 42.16 L34.5 42.87 L33.8 43.53 L33.0 44.12 L32.2 44.63 L31.5 45.04 L30.8 45.34 L30.0 45.53 L29.2 45.60 L28.5 45.55 L27.8 45.37 L27.0 45.09 L26.2 44.69 L25.5 44.19 L24.8 43.61 L24.0 42.96 L23.2 42.25 L22.5 41.51 L21.8 40.85 L21.0 41.61 L20.2 42.35 L19.5 43.05 L18.8 43.70 L18.0 44.27 L17.2 44.75 L16.5 45.13 L15.8 45.40 L15.0 45.56 L14.2 45.60 L13.5 45.51 L12.8 45.31 L12.0 44.99 L11.2 44.57 L10.5 44.05 L9.8 43.45 L9.0 42.78 L8.2 42.06 L7.5 41.31 L6.8 41.05 L6.0 41.81 L5.2 42.54 L4.5 43.23 L3.8 43.85 L3.0 44.40 L2.2 44.86 L1.5 45.21 L0.8 45.46 L0.0 45.58Z" fill="#969696" fill-opacity="1"/>
</g><g filter="url(#bl)">
<path d="M0.0 48.68 L0.8 48.55 L1.5 48.30 L2.2 47.96 L3.0 47.57 L3.8 47.15 L4.5 46.77 L5.2 46.44 L6.0 46.22 L6.8 46.11 L7.5 46.13 L8.2 46.28 L9.0 46.54 L9.8 46.89 L10.5 47.29 L11.2 47.70 L12.0 48.08 L12.8 48.39 L13.5 48.61 L14.2 48.70 L15.0 48.66 L15.8 48.49 L16.5 48.22 L17.2 47.86 L18.0 47.46 L18.8 47.05 L19.5 46.67 L20.2 46.37 L21.0 46.17 L21.8 46.10 L22.5 46.16 L23.2 46.34 L24.0 46.63 L24.8 46.99 L25.5 47.40 L26.2 47.81 L27.0 48.17 L27.8 48.46 L28.5 48.64 L29.2 48.70 L30.0 48.63 L30.8 48.43 L31.5 48.13 L32.2 47.75 L33.0 47.34 L33.8 46.94 L34.5 46.58 L35.2 46.31 L36.0 46.14 L36.8 46.10 L37.5 46.19 L38.2 46.41 L39.0 46.72 L39.8 47.10 L40.5 47.51 L41.2 47.91 L42.0 48.26 L42.8 48.52 L43.5 48.67 L44.2 48.69 L45.0 48.58 L45.8 48.36 L46.5 48.03 L47.2 47.65 L48.0 47.23 L48.8 46.84 L49.5 46.50 L50.2 46.25 L51.0 46.12 L51.8 46.11 L52.5 46.24 L53.2 46.48 L54.0 46.81 L54.8 47.21 L55.5 47.62 L56.2 48.01 L57.0 48.34 L57.8 48.57 L58.5 48.69 L59.2 48.68 L60.0 48.53 L60.8 48.28 L61.5 47.94 L62.2 47.54 L63.0 47.13 L63.8 46.74 L64.5 46.42 L65.2 46.20 L66.0 46.10 L66.8 46.14 L67.5 46.29 L68.2 46.56 L69.0 46.92 L69.8 47.32 L70.5 47.73 L71.2 48.10 L72.0 48.41 L72.8 48.62 L73.5 48.70 L74.2 48.65 L75.0 48.48 L75.8 48.20 L76.5 47.83 L77.2 47.43 L78.0 47.02 L78.8 46.65 L79.5 46.35 L80.2 46.17 L81.0 46.10 L81.8 46.17 L82.5 46.35 L83.2 46.65 L84.0 47.02 L84.8 47.43 L85.5 47.83 L86.2 48.20 L87.0 48.48 L87.8 48.65 L88.5 48.70 L89.2 48.62 L90.0 48.41 L90.8 48.10 L91.3 47.83" stroke="#f5f5f5" stroke-width="2.4" fill="none" stroke-opacity="1"/>
<path d="M0.0 7.28 L0.8 7.24 L1.5 7.22 L2.2 7.20 L3.0 7.20 L3.8 7.20 L4.5 7.22 L5.2 7.24 L6.0 7.28 L6.8 7.32 L7.5 7.36 L8.2 7.42 L9.0 7.48 L9.8 7.54 L10.5 7.60 L11.2 7.66 L12.0 7.72 L12.8 7.78 L13.5 7.84 L14.2 7.88 L15.0 7.92 L15.8 7.96 L16.5 7.98 L17.2 8.00 L18.0 8.00 L18.8 8.00 L19.5 7.98 L20.2 7.96 L21.0 7.92 L21.8 7.88 L22.5 7.84 L23.2 7.78 L24.0 7.72 L24.8 7.66 L25.5 7.60 L26.2 7.54 L27.0 7.48 L27.8 7.42 L28.5 7.36 L29.2 7.32 L30.0 7.28 L30.8 7.24 L31.5 7.22 L32.2 7.20 L33.0 7.20 L33.8 7.20 L34.5 7.22 L35.2 7.24 L36.0 7.28 L36.8 7.32 L37.5 7.36 L38.2 7.42 L39.0 7.48 L39.8 7.54 L40.5 7.60 L41.2 7.66 L42.0 7.72 L42.8 7.78 L43.5 7.84 L44.2 7.88 L45.0 7.92 L45.8 7.96 L46.5 7.98 L47.2 8.00 L48.0 8.00 L48.8 8.00 L49.5 7.98 L50.2 7.96 L51.0 7.92 L51.8 7.88 L52.5 7.84 L53.2 7.78 L54.0 7.72 L54.8 7.66 L55.5 7.60 L56.2 7.54 L57.0 7.48 L57.8 7.42 L58.5 7.36 L59.2 7.32 L60.0 7.28 L60.8 7.24 L61.5 7.22 L62.2 7.20 L63.0 7.20 L63.8 7.20 L64.5 7.22 L65.2 7.24 L66.0 7.28 L66.8 7.32 L67.5 7.36 L68.2 7.42 L69.0 7.48 L69.8 7.54 L70.5 7.60 L71.2 7.66 L72.0 7.72 L72.8 7.78 L73.5 7.84 L74.2 7.88 L75.0 7.92 L75.8 7.96 L76.5 7.98 L77.2 8.00 L78.0 8.00 L78.8 8.00 L79.5 7.98 L80.2 7.96 L81.0 7.92 L81.8 7.88 L82.5 7.84 L83.2 7.78 L84.0 7.72 L84.8 7.66 L85.5 7.60 L86.2 7.54 L87.0 7.48 L87.8 7.42 L88.5 7.36 L89.2 7.32 L90.0 7.28 L90.8 7.24 L91.3 7.23" stroke="#f0f0f0" stroke-width="1.9" fill="none" stroke-opacity="1"/>
</g></g>
<clipPath id="c9"><rect x="0" y="0" width="91.3" height="57.2"/></clipPath>
<g transform="translate(412.4,91.5)" clip-path="url(#c9)"><g filter="url(#spk41)">
<linearGradient id="g9" x1="0" y1="0" x2="0" y2="1"><stop offset="0.0000" stop-color="#a8a8a8"/><stop offset="0.0175" stop-color="#989898"/><stop offset="0.0524" stop-color="#707070"/><stop offset="0.0874" stop-color="#666666"/><stop offset="0.1399" stop-color="#606060"/><stop offset="0.1486" stop-color="#181818"/><stop offset="0.2622" stop-color="#1c1c1c"/><stop offset="0.4371" stop-color="#2e2e2e"/><stop offset="0.6643" stop-color="#323232"/><stop offset="0.8042" stop-color="#222222"/><stop offset="0.8654" stop-color="#161616"/><stop offset="0.8829" stop-color="#848484"/><stop offset="0.9615" stop-color="#7e7e7e"/><stop offset="0.9790" stop-color="#525252"/><stop offset="1.0000" stop-color="#565656"/></linearGradient>
<rect x="-1" y="0" width="93.3" height="57.2" fill="url(#g9)"/>
<path d="M0.0 51.74 L0.8 51.44 L1.5 51.13 L2.2 50.81 L3.0 50.54 L3.8 50.34 L4.5 50.22 L5.2 50.21 L6.0 50.29 L6.8 50.47 L7.5 50.72 L8.2 51.02 L9.0 51.34 L9.8 51.64 L10.5 51.90 L11.2 52.09 L12.0 52.19 L12.8 52.19 L13.5 52.08 L14.2 51.89 L15.0 51.62 L15.8 51.32 L16.5 51.00 L17.2 50.70 L18.0 50.45 L18.8 50.28 L19.5 50.20 L20.2 50.23 L21.0 50.35 L21.8 50.56 L22.5 50.83 L23.2 51.15 L24.0 51.46 L24.8 51.75 L25.5 51.99 L26.2 52.14 L27.0 52.20 L27.8 52.16 L28.5 52.01 L29.2 51.79 L30.0 51.50 L30.8 51.19 L31.5 50.87 L32.2 50.59 L33.0 50.37 L33.8 50.24 L34.5 50.20 L35.2 50.27 L36.0 50.42 L36.8 50.66 L37.5 50.96 L38.2 51.27 L39.0 51.59 L39.8 51.86 L40.5 52.06 L41.2 52.18 L42.0 52.19 L42.8 52.11 L43.5 51.93 L44.2 51.68 L45.0 51.38 L45.8 51.06 L46.5 50.76 L47.2 50.50 L48.0 50.31 L48.8 50.21 L49.5 50.21 L50.2 50.32 L51.0 50.51 L51.8 50.78 L52.5 51.08 L53.2 51.40 L54.0 51.70 L54.8 51.95 L55.5 52.12 L56.2 52.20 L57.0 52.17 L57.8 52.05 L58.5 51.84 L59.2 51.57 L60.0 51.25 L60.8 50.94 L61.5 50.65 L62.2 50.41 L63.0 50.26 L63.8 50.20 L64.5 50.24 L65.2 50.39 L66.0 50.61 L66.8 50.90 L67.5 51.21 L68.2 51.53 L69.0 51.81 L69.8 52.03 L70.5 52.16 L71.2 52.20 L72.0 52.13 L72.8 51.98 L73.5 51.74 L74.2 51.44 L75.0 51.13 L75.8 50.81 L76.5 50.54 L77.2 50.34 L78.0 50.22 L78.8 50.21 L79.5 50.29 L80.2 50.47 L81.0 50.72 L81.8 51.02 L82.5 51.34 L83.2 51.64 L84.0 51.90 L84.8 52.09 L85.5 52.19 L86.2 52.19 L87.0 52.08 L87.8 51.89 L88.5 51.62 L89.2 51.32 L90.0 51.00 L90.8 50.70 L91.3 50.51 L91.3 54.31 L90.8 54.50 L90.0 54.80 L89.2 55.12 L88.5 55.42 L87.8 55.69 L87.0 55.88 L86.2 55.99 L85.5 55.99 L84.8 55.89 L84.0 55.70 L83.2 55.44 L82.5 55.14 L81.8 54.82 L81.0 54.52 L80.2 54.27 L79.5 54.09 L78.8 54.01 L78.0 54.02 L77.2 54.14 L76.5 54.34 L75.8 54.61 L75.0 54.93 L74.2 55.24 L73.5 55.54 L72.8 55.78 L72.0 55.93 L71.2 56.00 L70.5 55.96 L69.8 55.83 L69.0 55.61 L68.2 55.33 L67.5 55.01 L66.8 54.70 L66.0 54.41 L65.2 54.19 L64.5 54.04 L63.8 54.00 L63.0 54.06 L62.2 54.21 L61.5 54.45 L60.8 54.74 L60.0 55.05 L59.2 55.37 L58.5 55.64 L57.8 55.85 L57.0 55.97 L56.2 56.00 L55.5 55.92 L54.8 55.75 L54.0 55.50 L53.2 55.20 L52.5 54.88 L51.8 54.58 L51.0 54.31 L50.2 54.12 L49.5 54.01 L48.8 54.01 L48.0 54.11 L47.2 54.30 L46.5 54.56 L45.8 54.86 L45.0 55.18 L44.2 55.48 L43.5 55.73 L42.8 55.91 L42.0 55.99 L41.2 55.98 L40.5 55.86 L39.8 55.66 L39.0 55.39 L38.2 55.07 L37.5 54.76 L36.8 54.46 L36.0 54.22 L35.2 54.07 L34.5 54.00 L33.8 54.04 L33.0 54.17 L32.2 54.39 L31.5 54.67 L30.8 54.99 L30.0 55.30 L29.2 55.59 L28.5 55.81 L27.8 55.96 L27.0 56.00 L26.2 55.94 L25.5 55.79 L24.8 55.55 L24.0 55.26 L23.2 54.95 L22.5 54.63 L21.8 54.36 L21.0 54.15 L20.2 54.03 L19.5 54.00 L18.8 54.08 L18.0 54.25 L17.2 54.50 L16.5 54.80 L15.8 55.12 L15.0 55.42 L14.2 55.69 L13.5 55.88 L12.8 55.99 L12.0 55.99 L11.2 55.89 L10.5 55.70 L9.8 55.44 L9.0 55.14 L8.2 54.82 L7.5 54.52 L6.8 54.27 L6.0 54.09 L5.2 54.01 L4.5 54.02 L3.8 54.14 L3.0 54.34 L2.2 54.61 L1.5 54.93 L0.8 55.24 L0.0 55.54Z" fill="#828282" fill-opacity="1"/>
<ellipse cx="5.5" cy="7.0" rx="2.4" ry="1.4" fill="#acacac" fill-opacity="0.8"/>
<ellipse cx="20.2" cy="7.0" rx="2.4" ry="1.4" fill="#acacac" fill-opacity="0.8"/>
<ellipse cx="34.9" cy="7.0" rx="2.4" ry="1.4" fill="#acacac" fill-opacity="0.8"/>
<ellipse cx="49.6" cy="7.0" rx="2.4" ry="1.4" fill="#acacac" fill-opacity="0.8"/>
<ellipse cx="64.3" cy="7.0" rx="2.4" ry="1.4" fill="#acacac" fill-opacity="0.8"/>
<ellipse cx="79.0" cy="7.0" rx="2.4" ry="1.4" fill="#acacac" fill-opacity="0.8"/>
<ellipse cx="93.7" cy="7.0" rx="2.4" ry="1.4" fill="#acacac" fill-opacity="0.8"/>
</g><g filter="url(#bl)">
</g></g>
<rect x="507.1" y="31.1" width="6.7" height="56.6" fill="#060606"/>
<rect x="507.4" y="37.7" width="1.2" height="0.6" fill="#444"/>
<rect x="509.6" y="37.5" width="2.6" height="1.0" fill="#3a3a3a"/>
<rect x="507.4" y="50.9" width="1.2" height="0.6" fill="#444"/>
<rect x="509.6" y="50.7" width="2.6" height="1.0" fill="#3a3a3a"/>
<rect x="507.4" y="64.2" width="1.2" height="0.6" fill="#444"/>
<rect x="509.6" y="64.0" width="2.6" height="1.0" fill="#3a3a3a"/>
<rect x="507.4" y="77.5" width="1.2" height="0.6" fill="#444"/>
<rect x="509.6" y="77.3" width="2.6" height="1.0" fill="#3a3a3a"/>
<rect x="507.1" y="91.9" width="6.7" height="56.6" fill="#060606"/>
<rect x="507.4" y="96.2" width="1.2" height="0.6" fill="#444"/>
<rect x="509.6" y="96.0" width="2.6" height="1.0" fill="#3a3a3a"/>
<rect x="507.4" y="111.7" width="1.2" height="0.6" fill="#444"/>
<rect x="509.6" y="111.5" width="2.6" height="1.0" fill="#3a3a3a"/>
<rect x="507.4" y="125.0" width="1.2" height="0.6" fill="#444"/>
<rect x="509.6" y="124.8" width="2.6" height="1.0" fill="#3a3a3a"/>
<rect x="507.4" y="138.3" width="1.2" height="0.6" fill="#444"/>
<rect x="509.6" y="138.1" width="2.6" height="1.0" fill="#3a3a3a"/>
<text transform="translate(26,59.5) rotate(-90)" class="tk" text-anchor="middle">Sham</text>
<text transform="translate(26,120.3) rotate(-90)" class="tk" text-anchor="middle">TAC</text>
<text x="7.4" y="163.9" class="pl">B</text>
<text transform="translate(31.8,233.1) rotate(-90)" class="ti" text-anchor="middle">LVAW; d (mm)</text>
<line x1="53.4" y1="301.70" x2="58.0" y2="301.70" class="ax"/>
<text x="51.8" y="305.70" class="tk" text-anchor="end">0.0</text>
<line x1="53.4" y1="255.93" x2="58.0" y2="255.93" class="ax"/>
<text x="51.8" y="259.93" class="tk" text-anchor="end">0.5</text>
<line x1="53.4" y1="210.17" x2="58.0" y2="210.17" class="ax"/>
<text x="51.8" y="214.17" class="tk" text-anchor="end">1.0</text>
<line x1="53.4" y1="164.40" x2="58.0" y2="164.40" class="ax"/>
<text x="51.8" y="168.40" class="tk" text-anchor="end">1.5</text>
<text x="86.45" y="313.6" class="tk" text-anchor="middle">2W</text>
<rect x="67.40" y="233.51" width="18.45" height="68.19" class="bar"/>
<rect x="87.05" y="214.29" width="18.35" height="87.41" class="bar"/>
<circle cx="69.62" cy="241.29" r="1.35" fill="#f00"/>
<circle cx="76.62" cy="226.64" r="1.35" fill="#f00"/>
<circle cx="83.62" cy="237.14" r="1.35" fill="#f00"/>
<circle cx="73.12" cy="239.60" r="1.35" fill="#f00"/>
<circle cx="69.62" cy="235.74" r="1.35" fill="#f00"/>
<circle cx="69.62" cy="233.68" r="1.35" fill="#f00"/>
<circle cx="76.62" cy="234.26" r="1.35" fill="#f00"/>
<circle cx="76.62" cy="238.07" r="1.35" fill="#f00"/>
<circle cx="76.62" cy="230.81" r="1.35" fill="#f00"/>
<circle cx="76.62" cy="236.24" r="1.35" fill="#f00"/>
<circle cx="80.12" cy="228.06" r="1.35" fill="#f00"/>
<circle cx="80.12" cy="235.33" r="1.35" fill="#f00"/>
<circle cx="83.62" cy="239.94" r="1.35" fill="#f00"/>
<circle cx="80.12" cy="236.74" r="1.35" fill="#f00"/>
<circle cx="69.62" cy="237.62" r="1.35" fill="#f00"/>
<circle cx="73.12" cy="230.94" r="1.35" fill="#f00"/>
<circle cx="83.62" cy="233.13" r="1.35" fill="#f00"/>
<circle cx="83.62" cy="235.65" r="1.35" fill="#f00"/>
<circle cx="80.12" cy="239.73" r="1.35" fill="#f00"/>
<circle cx="73.12" cy="236.44" r="1.35" fill="#f00"/>
<circle cx="73.12" cy="234.92" r="1.35" fill="#f00"/>
<circle cx="80.12" cy="233.10" r="1.35" fill="#f00"/>
<rect x="94.88" y="224.38" width="2.7" height="2.7" fill="#00f"/>
<rect x="94.88" y="195.09" width="2.7" height="2.7" fill="#00f"/>
<rect x="87.88" y="215.01" width="2.7" height="2.7" fill="#00f"/>
<rect x="91.38" y="204.49" width="2.7" height="2.7" fill="#00f"/>
<rect x="94.88" y="210.00" width="2.7" height="2.7" fill="#00f"/>
<rect x="101.88" y="199.84" width="2.7" height="2.7" fill="#00f"/>
<rect x="94.88" y="215.32" width="2.7" height="2.7" fill="#00f"/>
<rect x="98.38" y="219.80" width="2.7" height="2.7" fill="#00f"/>
<rect x="98.38" y="206.35" width="2.7" height="2.7" fill="#00f"/>
<rect x="101.88" y="211.43" width="2.7" height="2.7" fill="#00f"/>
<rect x="98.38" y="208.26" width="2.7" height="2.7" fill="#00f"/>
<rect x="101.88" y="207.81" width="2.7" height="2.7" fill="#00f"/>
<rect x="101.88" y="214.64" width="2.7" height="2.7" fill="#00f"/>
<rect x="94.88" y="207.24" width="2.7" height="2.7" fill="#00f"/>
<rect x="91.38" y="210.89" width="2.7" height="2.7" fill="#00f"/>
<rect x="91.38" y="198.01" width="2.7" height="2.7" fill="#00f"/>
<rect x="101.88" y="205.40" width="2.7" height="2.7" fill="#00f"/>
<rect x="91.38" y="207.58" width="2.7" height="2.7" fill="#00f"/>
<rect x="98.38" y="196.73" width="2.7" height="2.7" fill="#00f"/>
<rect x="91.38" y="215.41" width="2.7" height="2.7" fill="#00f"/>
<rect x="87.88" y="208.25" width="2.7" height="2.7" fill="#00f"/>
<rect x="98.38" y="211.86" width="2.7" height="2.7" fill="#00f"/>
<rect x="87.88" y="218.11" width="2.7" height="2.7" fill="#00f"/>
<rect x="87.88" y="206.09" width="2.7" height="2.7" fill="#00f"/>
<rect x="98.38" y="215.27" width="2.7" height="2.7" fill="#00f"/>
<rect x="94.88" y="203.29" width="2.7" height="2.7" fill="#00f"/>
<rect x="94.88" y="212.06" width="2.7" height="2.7" fill="#00f"/>
<rect x="94.88" y="199.63" width="2.7" height="2.7" fill="#00f"/>
<rect x="87.88" y="200.14" width="2.7" height="2.7" fill="#00f"/>
<rect x="91.38" y="212.57" width="2.7" height="2.7" fill="#00f"/>
<rect x="98.38" y="202.87" width="2.7" height="2.7" fill="#00f"/>
<rect x="94.88" y="218.93" width="2.7" height="2.7" fill="#00f"/>
<rect x="101.88" y="215.56" width="2.7" height="2.7" fill="#00f"/>
<rect x="87.88" y="211.50" width="2.7" height="2.7" fill="#00f"/>
<path d="M76.62 232.31V234.71M72.12 232.31h9M72.12 234.71h9" class="eb"/>
<path d="M96.22 212.83V215.74M91.72 212.83h9M91.72 215.74h9" class="eb"/>
<text x="96.22" y="193.90" class="st" text-anchor="middle">****</text>
<text x="143.55" y="313.6" class="tk" text-anchor="middle">4W</text>
<rect x="124.50" y="230.49" width="18.45" height="71.21" class="bar"/>
<rect x="144.15" y="211.08" width="18.35" height="90.62" class="bar"/>
<circle cx="137.23" cy="241.29" r="1.35" fill="#f00"/>
<circle cx="133.73" cy="219.32" r="1.35" fill="#f00"/>
<circle cx="137.23" cy="234.99" r="1.35" fill="#f00"/>
<circle cx="130.23" cy="231.32" r="1.35" fill="#f00"/>
<circle cx="140.73" cy="229.63" r="1.35" fill="#f00"/>
<circle cx="130.23" cy="226.54" r="1.35" fill="#f00"/>
<circle cx="133.73" cy="227.98" r="1.35" fill="#f00"/>
<circle cx="133.73" cy="239.12" r="1.35" fill="#f00"/>
<circle cx="137.23" cy="224.77" r="1.35" fill="#f00"/>
<circle cx="133.73" cy="224.41" r="1.35" fill="#f00"/>
<circle cx="133.73" cy="231.56" r="1.35" fill="#f00"/>
<circle cx="137.23" cy="228.79" r="1.35" fill="#f00"/>
<circle cx="130.23" cy="237.29" r="1.35" fill="#f00"/>
<circle cx="133.73" cy="235.08" r="1.35" fill="#f00"/>
<circle cx="140.73" cy="237.76" r="1.35" fill="#f00"/>
<rect x="151.97" y="188.68" width="2.7" height="2.7" fill="#00f"/>
<rect x="155.47" y="190.51" width="2.7" height="2.7" fill="#00f"/>
<rect x="151.97" y="227.12" width="2.7" height="2.7" fill="#00f"/>
<rect x="151.97" y="201.49" width="2.7" height="2.7" fill="#00f"/>
<rect x="155.47" y="218.91" width="2.7" height="2.7" fill="#00f"/>
<rect x="155.47" y="214.39" width="2.7" height="2.7" fill="#00f"/>
<rect x="151.97" y="206.64" width="2.7" height="2.7" fill="#00f"/>
<rect x="155.47" y="222.42" width="2.7" height="2.7" fill="#00f"/>
<rect x="148.47" y="214.68" width="2.7" height="2.7" fill="#00f"/>
<rect x="148.47" y="219.72" width="2.7" height="2.7" fill="#00f"/>
<rect x="155.47" y="202.93" width="2.7" height="2.7" fill="#00f"/>
<rect x="158.97" y="214.68" width="2.7" height="2.7" fill="#00f"/>
<rect x="158.97" y="220.37" width="2.7" height="2.7" fill="#00f"/>
<rect x="144.97" y="216.26" width="2.7" height="2.7" fill="#00f"/>
<rect x="151.97" y="222.12" width="2.7" height="2.7" fill="#00f"/>
<rect x="158.97" y="204.71" width="2.7" height="2.7" fill="#00f"/>
<rect x="144.97" y="222.46" width="2.7" height="2.7" fill="#00f"/>
<rect x="148.47" y="225.22" width="2.7" height="2.7" fill="#00f"/>
<rect x="148.47" y="203.27" width="2.7" height="2.7" fill="#00f"/>
<rect x="158.97" y="209.78" width="2.7" height="2.7" fill="#00f"/>
<rect x="151.97" y="214.34" width="2.7" height="2.7" fill="#00f"/>
<rect x="148.47" y="208.43" width="2.7" height="2.7" fill="#00f"/>
<rect x="155.47" y="207.87" width="2.7" height="2.7" fill="#00f"/>
<rect x="151.97" y="217.15" width="2.7" height="2.7" fill="#00f"/>
<path d="M133.73 228.56V232.42M129.23 228.56h9M129.23 232.42h9" class="eb"/>
<path d="M153.32 208.60V213.56M148.82 208.60h9M148.82 213.56h9" class="eb"/>
<text x="153.32" y="187.50" class="st" text-anchor="middle">****</text>
<text x="200.65" y="313.6" class="tk" text-anchor="middle">6W</text>
<rect x="181.60" y="227.37" width="18.45" height="74.33" class="bar"/>
<rect x="201.25" y="202.20" width="18.35" height="99.50" class="bar"/>
<circle cx="190.83" cy="235.80" r="1.35" fill="#f00"/>
<circle cx="190.83" cy="221.15" r="1.35" fill="#f00"/>
<circle cx="187.33" cy="222.08" r="1.35" fill="#f00"/>
<circle cx="183.83" cy="224.44" r="1.35" fill="#f00"/>
<circle cx="194.33" cy="225.31" r="1.35" fill="#f00"/>
<circle cx="183.83" cy="227.81" r="1.35" fill="#f00"/>
<circle cx="194.33" cy="233.91" r="1.35" fill="#f00"/>
<circle cx="187.33" cy="229.93" r="1.35" fill="#f00"/>
<circle cx="187.33" cy="226.44" r="1.35" fill="#f00"/>
<circle cx="194.33" cy="229.17" r="1.35" fill="#f00"/>
<circle cx="194.33" cy="222.04" r="1.35" fill="#f00"/>
<circle cx="197.83" cy="230.26" r="1.35" fill="#f00"/>
<circle cx="183.83" cy="230.51" r="1.35" fill="#f00"/>
<circle cx="190.83" cy="230.78" r="1.35" fill="#f00"/>
<circle cx="197.83" cy="223.20" r="1.35" fill="#f00"/>
<circle cx="190.83" cy="228.74" r="1.35" fill="#f00"/>
<circle cx="190.83" cy="224.52" r="1.35" fill="#f00"/>
<circle cx="197.83" cy="226.71" r="1.35" fill="#f00"/>
<rect x="212.58" y="211.56" width="2.7" height="2.7" fill="#00f"/>
<rect x="209.08" y="178.61" width="2.7" height="2.7" fill="#00f"/>
<rect x="205.58" y="186.71" width="2.7" height="2.7" fill="#00f"/>
<rect x="209.08" y="195.74" width="2.7" height="2.7" fill="#00f"/>
<rect x="216.08" y="191.04" width="2.7" height="2.7" fill="#00f"/>
<rect x="202.08" y="190.69" width="2.7" height="2.7" fill="#00f"/>
<rect x="216.08" y="198.18" width="2.7" height="2.7" fill="#00f"/>
<rect x="212.58" y="184.86" width="2.7" height="2.7" fill="#00f"/>
<rect x="216.08" y="204.87" width="2.7" height="2.7" fill="#00f"/>
<rect x="205.58" y="204.26" width="2.7" height="2.7" fill="#00f"/>
<rect x="209.08" y="186.00" width="2.7" height="2.7" fill="#00f"/>
<rect x="209.08" y="189.89" width="2.7" height="2.7" fill="#00f"/>
<rect x="212.58" y="190.42" width="2.7" height="2.7" fill="#00f"/>
<rect x="205.58" y="196.80" width="2.7" height="2.7" fill="#00f"/>
<rect x="209.08" y="209.32" width="2.7" height="2.7" fill="#00f"/>
<rect x="205.58" y="190.65" width="2.7" height="2.7" fill="#00f"/>
<rect x="209.08" y="182.23" width="2.7" height="2.7" fill="#00f"/>
<rect x="216.08" y="188.31" width="2.7" height="2.7" fill="#00f"/>
<rect x="209.08" y="203.66" width="2.7" height="2.7" fill="#00f"/>
<rect x="212.58" y="201.39" width="2.7" height="2.7" fill="#00f"/>
<rect x="212.58" y="196.02" width="2.7" height="2.7" fill="#00f"/>
<rect x="209.08" y="199.25" width="2.7" height="2.7" fill="#00f"/>
<path d="M190.83 226.17V228.57M186.33 226.17h9M186.33 228.57h9" class="eb"/>
<path d="M210.43 199.94V204.46M205.93 199.94h9M205.93 204.46h9" class="eb"/>
<text x="210.43" y="178.60" class="st" text-anchor="middle">****</text>
<text x="257.75" y="313.6" class="tk" text-anchor="middle">8W</text>
<rect x="238.70" y="230.21" width="18.45" height="71.49" class="bar"/>
<rect x="258.35" y="206.51" width="18.35" height="95.19" class="bar"/>
<circle cx="251.43" cy="241.29" r="1.35" fill="#f00"/>
<circle cx="247.93" cy="222.98" r="1.35" fill="#f00"/>
<circle cx="254.93" cy="226.43" r="1.35" fill="#f00"/>
<circle cx="244.43" cy="231.65" r="1.35" fill="#f00"/>
<circle cx="251.43" cy="225.47" r="1.35" fill="#f00"/>
<circle cx="244.43" cy="226.28" r="1.35" fill="#f00"/>
<circle cx="251.43" cy="231.61" r="1.35" fill="#f00"/>
<circle cx="247.93" cy="240.06" r="1.35" fill="#f00"/>
<circle cx="244.43" cy="235.19" r="1.35" fill="#f00"/>
<circle cx="251.43" cy="228.14" r="1.35" fill="#f00"/>
<circle cx="240.93" cy="231.49" r="1.35" fill="#f00"/>
<circle cx="254.93" cy="231.20" r="1.35" fill="#f00"/>
<circle cx="247.93" cy="231.04" r="1.35" fill="#f00"/>
<circle cx="247.93" cy="227.45" r="1.35" fill="#f00"/>
<circle cx="244.43" cy="230.63" r="1.35" fill="#f00"/>
<circle cx="251.43" cy="233.79" r="1.35" fill="#f00"/>
<circle cx="247.93" cy="232.01" r="1.35" fill="#f00"/>
<circle cx="240.93" cy="227.85" r="1.35" fill="#f00"/>
<circle cx="240.93" cy="233.07" r="1.35" fill="#f00"/>
<circle cx="254.93" cy="232.04" r="1.35" fill="#f00"/>
<rect x="269.68" y="230.78" width="2.7" height="2.7" fill="#00f"/>
<rect x="266.18" y="185.93" width="2.7" height="2.7" fill="#00f"/>
<rect x="266.18" y="200.58" width="2.7" height="2.7" fill="#00f"/>
<rect x="266.18" y="207.02" width="2.7" height="2.7" fill="#00f"/>
<rect x="273.18" y="190.54" width="2.7" height="2.7" fill="#00f"/>
<rect x="269.68" y="193.16" width="2.7" height="2.7" fill="#00f"/>
<rect x="269.68" y="218.06" width="2.7" height="2.7" fill="#00f"/>
<rect x="262.68" y="190.47" width="2.7" height="2.7" fill="#00f"/>
<rect x="269.68" y="223.01" width="2.7" height="2.7" fill="#00f"/>
<rect x="273.18" y="208.24" width="2.7" height="2.7" fill="#00f"/>
<rect x="273.18" y="214.15" width="2.7" height="2.7" fill="#00f"/>
<rect x="262.68" y="202.81" width="2.7" height="2.7" fill="#00f"/>
<rect x="266.18" y="192.33" width="2.7" height="2.7" fill="#00f"/>
<rect x="269.68" y="201.58" width="2.7" height="2.7" fill="#00f"/>
<rect x="266.18" y="222.77" width="2.7" height="2.7" fill="#00f"/>
<rect x="266.18" y="189.49" width="2.7" height="2.7" fill="#00f"/>
<rect x="259.18" y="192.33" width="2.7" height="2.7" fill="#00f"/>
<rect x="269.68" y="207.12" width="2.7" height="2.7" fill="#00f"/>
<rect x="262.68" y="194.94" width="2.7" height="2.7" fill="#00f"/>
<rect x="259.18" y="208.51" width="2.7" height="2.7" fill="#00f"/>
<rect x="266.18" y="214.85" width="2.7" height="2.7" fill="#00f"/>
<rect x="262.68" y="211.65" width="2.7" height="2.7" fill="#00f"/>
<rect x="266.18" y="227.76" width="2.7" height="2.7" fill="#00f"/>
<rect x="266.18" y="210.76" width="2.7" height="2.7" fill="#00f"/>
<rect x="269.68" y="211.26" width="2.7" height="2.7" fill="#00f"/>
<rect x="262.68" y="207.86" width="2.7" height="2.7" fill="#00f"/>
<rect x="269.68" y="189.52" width="2.7" height="2.7" fill="#00f"/>
<path d="M247.93 229.00V231.43M243.43 229.00h9M243.43 231.43h9" class="eb"/>
<path d="M267.53 203.57V209.44M263.03 203.57h9M263.03 209.44h9" class="eb"/>
<text x="267.53" y="184.50" class="st" text-anchor="middle">****</text>
<text x="314.85" y="313.6" class="tk" text-anchor="middle">12W</text>
<rect x="295.80" y="225.73" width="18.45" height="75.97" class="bar"/>
<rect x="315.45" y="215.66" width="18.35" height="86.04" class="bar"/>
<circle cx="308.52" cy="231.22" r="1.35" fill="#f00"/>
<circle cx="305.02" cy="221.15" r="1.35" fill="#f00"/>
<circle cx="308.52" cy="221.91" r="1.35" fill="#f00"/>
<circle cx="301.52" cy="227.39" r="1.35" fill="#f00"/>
<circle cx="298.02" cy="224.34" r="1.35" fill="#f00"/>
<circle cx="312.02" cy="228.54" r="1.35" fill="#f00"/>
<circle cx="312.02" cy="223.17" r="1.35" fill="#f00"/>
<circle cx="305.02" cy="228.37" r="1.35" fill="#f00"/>
<circle cx="301.52" cy="223.08" r="1.35" fill="#f00"/>
<circle cx="305.02" cy="224.37" r="1.35" fill="#f00"/>
<circle cx="298.02" cy="229.44" r="1.35" fill="#f00"/>
<circle cx="308.52" cy="226.86" r="1.35" fill="#f00"/>
<rect x="326.77" y="230.78" width="2.7" height="2.7" fill="#00f"/>
<rect x="323.27" y="197.83" width="2.7" height="2.7" fill="#00f"/>
<rect x="326.77" y="203.62" width="2.7" height="2.7" fill="#00f"/>
<rect x="323.27" y="205.36" width="2.7" height="2.7" fill="#00f"/>
<rect x="316.27" y="206.67" width="2.7" height="2.7" fill="#00f"/>
<rect x="330.27" y="206.46" width="2.7" height="2.7" fill="#00f"/>
<rect x="326.77" y="219.08" width="2.7" height="2.7" fill="#00f"/>
<rect x="323.27" y="201.66" width="2.7" height="2.7" fill="#00f"/>
<rect x="326.77" y="222.41" width="2.7" height="2.7" fill="#00f"/>
<rect x="316.27" y="222.07" width="2.7" height="2.7" fill="#00f"/>
<rect x="319.77" y="221.42" width="2.7" height="2.7" fill="#00f"/>
<rect x="323.27" y="220.32" width="2.7" height="2.7" fill="#00f"/>
<rect x="319.77" y="217.92" width="2.7" height="2.7" fill="#00f"/>
<rect x="330.27" y="220.54" width="2.7" height="2.7" fill="#00f"/>
<rect x="323.27" y="223.86" width="2.7" height="2.7" fill="#00f"/>
<rect x="323.27" y="227.64" width="2.7" height="2.7" fill="#00f"/>
<rect x="319.77" y="227.90" width="2.7" height="2.7" fill="#00f"/>
<rect x="323.27" y="212.79" width="2.7" height="2.7" fill="#00f"/>
<rect x="326.77" y="214.73" width="2.7" height="2.7" fill="#00f"/>
<rect x="326.77" y="225.99" width="2.7" height="2.7" fill="#00f"/>
<rect x="323.27" y="216.32" width="2.7" height="2.7" fill="#00f"/>
<rect x="319.77" y="204.39" width="2.7" height="2.7" fill="#00f"/>
<path d="M305.02 224.53V226.93M300.52 224.53h9M300.52 226.93h9" class="eb"/>
<path d="M324.62 213.20V218.12M320.12 213.20h9M320.12 218.12h9" class="eb"/>
<text x="324.62" y="194.30" class="st" text-anchor="middle">**</text>
<path d="M58.0 163.80V301.70H344.6" class="ax" fill="none"/>
<circle cx="342.4" cy="170.7" r="1.9" fill="#f00"/>
<rect x="340.5" y="184.0" width="3.8" height="3.8" fill="#00f"/>
<text x="356.0" y="173.8" class="lg">Sham</text>
<text x="356.0" y="188.7" class="lg">TAC</text>
<text x="7.4" y="319.2" class="pl">C</text>
<text transform="translate(31.9,394.0) rotate(-90)" class="ti" text-anchor="middle">LVAW; s (mm)</text>
<line x1="53.4" y1="462.70" x2="58.0" y2="462.70" class="ax"/>
<text x="51.8" y="466.70" class="tk" text-anchor="end">0.0</text>
<line x1="53.4" y1="435.24" x2="58.0" y2="435.24" class="ax"/>
<text x="51.8" y="439.24" class="tk" text-anchor="end">0.5</text>
<line x1="53.4" y1="407.78" x2="58.0" y2="407.78" class="ax"/>
<text x="51.8" y="411.78" class="tk" text-anchor="end">1.0</text>
<line x1="53.4" y1="380.32" x2="58.0" y2="380.32" class="ax"/>
<text x="51.8" y="384.32" class="tk" text-anchor="end">1.5</text>
<line x1="53.4" y1="352.86" x2="58.0" y2="352.86" class="ax"/>
<text x="51.8" y="356.86" class="tk" text-anchor="end">2.0</text>
<line x1="53.4" y1="325.40" x2="58.0" y2="325.40" class="ax"/>
<text x="51.8" y="329.40" class="tk" text-anchor="end">2.5</text>
<text x="86.45" y="474.6" class="tk" text-anchor="middle">2W</text>
<rect x="67.40" y="397.35" width="18.45" height="65.35" class="bar"/>
<rect x="87.05" y="380.32" width="18.35" height="82.38" class="bar"/>
<circle cx="76.62" cy="406.68" r="1.35" fill="#f00"/>
<circle cx="76.62" cy="383.62" r="1.35" fill="#f00"/>
<circle cx="73.12" cy="396.11" r="1.35" fill="#f00"/>
<circle cx="80.12" cy="385.13" r="1.35" fill="#f00"/>
<circle cx="80.12" cy="390.90" r="1.35" fill="#f00"/>
<circle cx="83.62" cy="392.33" r="1.35" fill="#f00"/>
<circle cx="83.62" cy="398.03" r="1.35" fill="#f00"/>
<circle cx="80.12" cy="401.39" r="1.35" fill="#f00"/>
<circle cx="69.62" cy="392.67" r="1.35" fill="#f00"/>
<circle cx="76.62" cy="400.75" r="1.35" fill="#f00"/>
<circle cx="76.62" cy="390.71" r="1.35" fill="#f00"/>
<circle cx="73.12" cy="391.61" r="1.35" fill="#f00"/>
<circle cx="69.62" cy="399.46" r="1.35" fill="#f00"/>
<circle cx="69.62" cy="396.70" r="1.35" fill="#f00"/>
<circle cx="76.62" cy="396.86" r="1.35" fill="#f00"/>
<circle cx="83.62" cy="387.09" r="1.35" fill="#f00"/>
<circle cx="76.62" cy="394.17" r="1.35" fill="#f00"/>
<circle cx="73.12" cy="386.91" r="1.35" fill="#f00"/>
<circle cx="73.12" cy="397.92" r="1.35" fill="#f00"/>
<circle cx="80.12" cy="397.62" r="1.35" fill="#f00"/>
<circle cx="80.12" cy="395.09" r="1.35" fill="#f00"/>
<circle cx="83.62" cy="396.14" r="1.35" fill="#f00"/>
<rect x="98.38" y="394.90" width="2.7" height="2.7" fill="#00f"/>
<rect x="94.88" y="361.40" width="2.7" height="2.7" fill="#00f"/>
<rect x="91.38" y="383.02" width="2.7" height="2.7" fill="#00f"/>
<rect x="91.38" y="380.30" width="2.7" height="2.7" fill="#00f"/>
<rect x="101.88" y="391.43" width="2.7" height="2.7" fill="#00f"/>
<rect x="94.88" y="383.75" width="2.7" height="2.7" fill="#00f"/>
<rect x="87.88" y="377.27" width="2.7" height="2.7" fill="#00f"/>
<rect x="94.88" y="373.40" width="2.7" height="2.7" fill="#00f"/>
<rect x="91.38" y="366.72" width="2.7" height="2.7" fill="#00f"/>
<rect x="101.88" y="381.71" width="2.7" height="2.7" fill="#00f"/>
<rect x="94.88" y="388.72" width="2.7" height="2.7" fill="#00f"/>
<rect x="91.38" y="373.83" width="2.7" height="2.7" fill="#00f"/>
<rect x="98.38" y="371.24" width="2.7" height="2.7" fill="#00f"/>
<rect x="101.88" y="374.31" width="2.7" height="2.7" fill="#00f"/>
<rect x="87.88" y="368.73" width="2.7" height="2.7" fill="#00f"/>
<rect x="98.38" y="378.14" width="2.7" height="2.7" fill="#00f"/>
<rect x="98.38" y="368.05" width="2.7" height="2.7" fill="#00f"/>
<rect x="101.88" y="368.30" width="2.7" height="2.7" fill="#00f"/>
<rect x="94.88" y="366.30" width="2.7" height="2.7" fill="#00f"/>
<rect x="101.88" y="372.32" width="2.7" height="2.7" fill="#00f"/>
<rect x="98.38" y="390.82" width="2.7" height="2.7" fill="#00f"/>
<rect x="94.88" y="381.02" width="2.7" height="2.7" fill="#00f"/>
<rect x="91.38" y="371.23" width="2.7" height="2.7" fill="#00f"/>
<rect x="98.38" y="374.29" width="2.7" height="2.7" fill="#00f"/>
<rect x="87.88" y="372.70" width="2.7" height="2.7" fill="#00f"/>
<rect x="94.88" y="393.12" width="2.7" height="2.7" fill="#00f"/>
<rect x="94.88" y="370.66" width="2.7" height="2.7" fill="#00f"/>
<rect x="94.88" y="377.08" width="2.7" height="2.7" fill="#00f"/>
<rect x="91.38" y="391.23" width="2.7" height="2.7" fill="#00f"/>
<rect x="98.38" y="385.62" width="2.7" height="2.7" fill="#00f"/>
<rect x="87.88" y="382.99" width="2.7" height="2.7" fill="#00f"/>
<rect x="91.38" y="387.03" width="2.7" height="2.7" fill="#00f"/>
<rect x="98.38" y="363.80" width="2.7" height="2.7" fill="#00f"/>
<rect x="98.38" y="381.69" width="2.7" height="2.7" fill="#00f"/>
<path d="M76.62 395.90V398.79M72.12 395.90h9M72.12 398.79h9" class="eb"/>
<path d="M96.22 378.46V382.18M91.72 378.46h9M91.72 382.18h9" class="eb"/>
<text x="96.22" y="360.60" class="st" text-anchor="middle">****</text>
<text x="143.55" y="474.6" class="tk" text-anchor="middle">4W</text>
<rect x="124.50" y="394.87" width="18.45" height="67.83" class="bar"/>
<rect x="144.15" y="379.22" width="18.35" height="83.48" class="bar"/>
<circle cx="133.73" cy="408.33" r="1.35" fill="#f00"/>
<circle cx="133.73" cy="381.97" r="1.35" fill="#f00"/>
<circle cx="137.23" cy="390.79" r="1.35" fill="#f00"/>
<circle cx="130.23" cy="392.37" r="1.35" fill="#f00"/>
<circle cx="130.23" cy="405.17" r="1.35" fill="#f00"/>
<circle cx="130.23" cy="398.84" r="1.35" fill="#f00"/>
<circle cx="133.73" cy="399.79" r="1.35" fill="#f00"/>
<circle cx="137.23" cy="406.72" r="1.35" fill="#f00"/>
<circle cx="137.23" cy="398.57" r="1.35" fill="#f00"/>
<circle cx="133.73" cy="390.59" r="1.35" fill="#f00"/>
<circle cx="140.73" cy="400.11" r="1.35" fill="#f00"/>
<circle cx="133.73" cy="395.99" r="1.35" fill="#f00"/>
<circle cx="133.73" cy="404.20" r="1.35" fill="#f00"/>
<circle cx="137.23" cy="402.28" r="1.35" fill="#f00"/>
<circle cx="137.23" cy="384.80" r="1.35" fill="#f00"/>
<rect x="151.97" y="393.25" width="2.7" height="2.7" fill="#00f"/>
<rect x="151.97" y="361.40" width="2.7" height="2.7" fill="#00f"/>
<rect x="151.97" y="378.26" width="2.7" height="2.7" fill="#00f"/>
<rect x="155.47" y="363.90" width="2.7" height="2.7" fill="#00f"/>
<rect x="151.97" y="381.78" width="2.7" height="2.7" fill="#00f"/>
<rect x="151.97" y="366.74" width="2.7" height="2.7" fill="#00f"/>
<rect x="148.47" y="376.22" width="2.7" height="2.7" fill="#00f"/>
<rect x="158.97" y="377.20" width="2.7" height="2.7" fill="#00f"/>
<rect x="151.97" y="387.85" width="2.7" height="2.7" fill="#00f"/>
<rect x="155.47" y="377.07" width="2.7" height="2.7" fill="#00f"/>
<rect x="158.97" y="371.49" width="2.7" height="2.7" fill="#00f"/>
<rect x="155.47" y="368.72" width="2.7" height="2.7" fill="#00f"/>
<rect x="148.47" y="390.94" width="2.7" height="2.7" fill="#00f"/>
<rect x="144.97" y="377.73" width="2.7" height="2.7" fill="#00f"/>
<rect x="155.47" y="383.00" width="2.7" height="2.7" fill="#00f"/>
<rect x="158.97" y="380.27" width="2.7" height="2.7" fill="#00f"/>
<rect x="151.97" y="370.55" width="2.7" height="2.7" fill="#00f"/>
<rect x="155.47" y="372.83" width="2.7" height="2.7" fill="#00f"/>
<rect x="155.47" y="388.22" width="2.7" height="2.7" fill="#00f"/>
<rect x="148.47" y="371.22" width="2.7" height="2.7" fill="#00f"/>
<rect x="148.47" y="383.35" width="2.7" height="2.7" fill="#00f"/>
<rect x="155.47" y="379.38" width="2.7" height="2.7" fill="#00f"/>
<rect x="151.97" y="374.77" width="2.7" height="2.7" fill="#00f"/>
<rect x="148.47" y="378.77" width="2.7" height="2.7" fill="#00f"/>
<path d="M133.73 392.43V397.31M129.23 392.43h9M129.23 397.31h9" class="eb"/>
<path d="M153.32 377.22V381.22M148.82 377.22h9M148.82 381.22h9" class="eb"/>
<text x="153.32" y="360.60" class="st" text-anchor="middle">****</text>
<text x="200.65" y="474.6" class="tk" text-anchor="middle">6W</text>
<rect x="181.60" y="393.78" width="18.45" height="68.92" class="bar"/>
<rect x="201.25" y="371.53" width="18.35" height="91.17" class="bar"/>
<circle cx="190.83" cy="402.29" r="1.35" fill="#f00"/>
<circle cx="190.83" cy="384.71" r="1.35" fill="#f00"/>
<circle cx="187.33" cy="399.60" r="1.35" fill="#f00"/>
<circle cx="183.83" cy="389.84" r="1.35" fill="#f00"/>
<circle cx="197.83" cy="387.92" r="1.35" fill="#f00"/>
<circle cx="187.33" cy="395.98" r="1.35" fill="#f00"/>
<circle cx="190.83" cy="398.41" r="1.35" fill="#f00"/>
<circle cx="187.33" cy="387.36" r="1.35" fill="#f00"/>
<circle cx="190.83" cy="388.57" r="1.35" fill="#f00"/>
<circle cx="194.33" cy="386.96" r="1.35" fill="#f00"/>
<circle cx="190.83" cy="392.72" r="1.35" fill="#f00"/>
<circle cx="183.83" cy="400.63" r="1.35" fill="#f00"/>
<circle cx="197.83" cy="394.28" r="1.35" fill="#f00"/>
<circle cx="187.33" cy="391.22" r="1.35" fill="#f00"/>
<circle cx="194.33" cy="399.58" r="1.35" fill="#f00"/>
<circle cx="197.83" cy="399.40" r="1.35" fill="#f00"/>
<circle cx="194.33" cy="395.97" r="1.35" fill="#f00"/>
<circle cx="194.33" cy="391.16" r="1.35" fill="#f00"/>
<rect x="209.08" y="391.05" width="2.7" height="2.7" fill="#00f"/>
<rect x="209.08" y="352.06" width="2.7" height="2.7" fill="#00f"/>
<rect x="216.08" y="379.97" width="2.7" height="2.7" fill="#00f"/>
<rect x="212.58" y="378.55" width="2.7" height="2.7" fill="#00f"/>
<rect x="205.58" y="375.26" width="2.7" height="2.7" fill="#00f"/>
<rect x="205.58" y="379.58" width="2.7" height="2.7" fill="#00f"/>
<rect x="212.58" y="360.21" width="2.7" height="2.7" fill="#00f"/>
<rect x="202.08" y="381.38" width="2.7" height="2.7" fill="#00f"/>
<rect x="212.58" y="354.13" width="2.7" height="2.7" fill="#00f"/>
<rect x="209.08" y="380.39" width="2.7" height="2.7" fill="#00f"/>
<rect x="216.08" y="382.46" width="2.7" height="2.7" fill="#00f"/>
<rect x="205.58" y="382.44" width="2.7" height="2.7" fill="#00f"/>
<rect x="202.08" y="376.55" width="2.7" height="2.7" fill="#00f"/>
<rect x="209.08" y="357.97" width="2.7" height="2.7" fill="#00f"/>
<rect x="212.58" y="374.62" width="2.7" height="2.7" fill="#00f"/>
<rect x="212.58" y="370.40" width="2.7" height="2.7" fill="#00f"/>
<rect x="209.08" y="374.46" width="2.7" height="2.7" fill="#00f"/>
<rect x="216.08" y="376.02" width="2.7" height="2.7" fill="#00f"/>
<rect x="209.08" y="384.69" width="2.7" height="2.7" fill="#00f"/>
<rect x="209.08" y="367.01" width="2.7" height="2.7" fill="#00f"/>
<rect x="212.58" y="381.52" width="2.7" height="2.7" fill="#00f"/>
<rect x="209.08" y="376.83" width="2.7" height="2.7" fill="#00f"/>
<path d="M190.83 392.22V395.33M186.33 392.22h9M186.33 395.33h9" class="eb"/>
<path d="M210.43 368.92V374.14M205.93 368.92h9M205.93 374.14h9" class="eb"/>
<text x="210.43" y="351.80" class="st" text-anchor="middle">****</text>
<text x="257.75" y="474.6" class="tk" text-anchor="middle">8W</text>
<rect x="238.70" y="393.23" width="18.45" height="69.47" class="bar"/>
<rect x="258.35" y="379.22" width="18.35" height="83.48" class="bar"/>
<circle cx="244.43" cy="407.23" r="1.35" fill="#f00"/>
<circle cx="247.93" cy="383.62" r="1.35" fill="#f00"/>
<circle cx="251.43" cy="395.09" r="1.35" fill="#f00"/>
<circle cx="254.93" cy="388.01" r="1.35" fill="#f00"/>
<circle cx="247.93" cy="405.59" r="1.35" fill="#f00"/>
<circle cx="254.93" cy="391.74" r="1.35" fill="#f00"/>
<circle cx="244.43" cy="395.99" r="1.35" fill="#f00"/>
<circle cx="251.43" cy="406.05" r="1.35" fill="#f00"/>
<circle cx="247.93" cy="387.69" r="1.35" fill="#f00"/>
<circle cx="251.43" cy="387.87" r="1.35" fill="#f00"/>
<circle cx="254.93" cy="400.77" r="1.35" fill="#f00"/>
<circle cx="244.43" cy="400.09" r="1.35" fill="#f00"/>
<circle cx="244.43" cy="391.55" r="1.35" fill="#f00"/>
<circle cx="251.43" cy="390.71" r="1.35" fill="#f00"/>
<circle cx="240.93" cy="389.79" r="1.35" fill="#f00"/>
<circle cx="247.93" cy="394.33" r="1.35" fill="#f00"/>
<circle cx="247.93" cy="390.64" r="1.35" fill="#f00"/>
<circle cx="244.43" cy="387.88" r="1.35" fill="#f00"/>
<circle cx="251.43" cy="399.59" r="1.35" fill="#f00"/>
<circle cx="247.93" cy="398.11" r="1.35" fill="#f00"/>
<rect x="269.68" y="403.68" width="2.7" height="2.7" fill="#00f"/>
<rect x="266.18" y="356.45" width="2.7" height="2.7" fill="#00f"/>
<rect x="262.68" y="371.63" width="2.7" height="2.7" fill="#00f"/>
<rect x="259.18" y="394.42" width="2.7" height="2.7" fill="#00f"/>
<rect x="269.68" y="376.54" width="2.7" height="2.7" fill="#00f"/>
<rect x="262.68" y="387.17" width="2.7" height="2.7" fill="#00f"/>
<rect x="266.18" y="400.88" width="2.7" height="2.7" fill="#00f"/>
<rect x="266.18" y="379.98" width="2.7" height="2.7" fill="#00f"/>
<rect x="266.18" y="373.92" width="2.7" height="2.7" fill="#00f"/>
<rect x="262.68" y="381.12" width="2.7" height="2.7" fill="#00f"/>
<rect x="269.68" y="386.33" width="2.7" height="2.7" fill="#00f"/>
<rect x="269.68" y="371.37" width="2.7" height="2.7" fill="#00f"/>
<rect x="269.68" y="398.53" width="2.7" height="2.7" fill="#00f"/>
<rect x="259.18" y="372.65" width="2.7" height="2.7" fill="#00f"/>
<rect x="266.18" y="385.97" width="2.7" height="2.7" fill="#00f"/>
<rect x="266.18" y="362.00" width="2.7" height="2.7" fill="#00f"/>
<rect x="266.18" y="397.24" width="2.7" height="2.7" fill="#00f"/>
<rect x="269.68" y="381.04" width="2.7" height="2.7" fill="#00f"/>
<rect x="262.68" y="392.90" width="2.7" height="2.7" fill="#00f"/>
<rect x="266.18" y="369.90" width="2.7" height="2.7" fill="#00f"/>
<rect x="269.68" y="392.60" width="2.7" height="2.7" fill="#00f"/>
<rect x="273.18" y="388.07" width="2.7" height="2.7" fill="#00f"/>
<rect x="266.18" y="391.51" width="2.7" height="2.7" fill="#00f"/>
<rect x="273.18" y="372.02" width="2.7" height="2.7" fill="#00f"/>
<rect x="269.68" y="363.43" width="2.7" height="2.7" fill="#00f"/>
<rect x="273.18" y="393.36" width="2.7" height="2.7" fill="#00f"/>
<rect x="273.18" y="381.14" width="2.7" height="2.7" fill="#00f"/>
<path d="M247.93 391.39V395.07M243.43 391.39h9M243.43 395.07h9" class="eb"/>
<path d="M267.53 376.33V382.12M263.03 376.33h9M263.03 382.12h9" class="eb"/>
<text x="267.53" y="356.00" class="st" text-anchor="middle">****</text>
<text x="314.85" y="474.6" class="tk" text-anchor="middle">12W</text>
<rect x="295.80" y="393.50" width="18.45" height="69.20" class="bar"/>
<rect x="315.45" y="389.66" width="18.35" height="73.04" class="bar"/>
<circle cx="301.52" cy="402.84" r="1.35" fill="#f00"/>
<circle cx="305.02" cy="385.26" r="1.35" fill="#f00"/>
<circle cx="301.52" cy="386.95" r="1.35" fill="#f00"/>
<circle cx="305.02" cy="394.80" r="1.35" fill="#f00"/>
<circle cx="312.02" cy="387.20" r="1.35" fill="#f00"/>
<circle cx="305.02" cy="399.92" r="1.35" fill="#f00"/>
<circle cx="308.52" cy="394.80" r="1.35" fill="#f00"/>
<circle cx="298.02" cy="387.98" r="1.35" fill="#f00"/>
<circle cx="308.52" cy="386.18" r="1.35" fill="#f00"/>
<circle cx="301.52" cy="396.75" r="1.35" fill="#f00"/>
<circle cx="305.02" cy="388.31" r="1.35" fill="#f00"/>
<circle cx="308.52" cy="401.45" r="1.35" fill="#f00"/>
<rect x="323.27" y="417.96" width="2.7" height="2.7" fill="#00f"/>
<rect x="323.27" y="364.14" width="2.7" height="2.7" fill="#00f"/>
<rect x="316.27" y="396.93" width="2.7" height="2.7" fill="#00f"/>
<rect x="330.27" y="394.95" width="2.7" height="2.7" fill="#00f"/>
<rect x="319.77" y="415.82" width="2.7" height="2.7" fill="#00f"/>
<rect x="323.27" y="394.28" width="2.7" height="2.7" fill="#00f"/>
<rect x="326.77" y="409.28" width="2.7" height="2.7" fill="#00f"/>
<rect x="326.77" y="405.23" width="2.7" height="2.7" fill="#00f"/>
<rect x="323.27" y="379.38" width="2.7" height="2.7" fill="#00f"/>
<rect x="319.77" y="394.32" width="2.7" height="2.7" fill="#00f"/>
<rect x="323.27" y="390.47" width="2.7" height="2.7" fill="#00f"/>
<rect x="326.77" y="374.37" width="2.7" height="2.7" fill="#00f"/>
<rect x="326.77" y="393.85" width="2.7" height="2.7" fill="#00f"/>
<rect x="326.77" y="413.81" width="2.7" height="2.7" fill="#00f"/>
<rect x="326.77" y="379.79" width="2.7" height="2.7" fill="#00f"/>
<rect x="323.27" y="413.30" width="2.7" height="2.7" fill="#00f"/>
<rect x="323.27" y="407.97" width="2.7" height="2.7" fill="#00f"/>
<rect x="323.27" y="402.82" width="2.7" height="2.7" fill="#00f"/>
<rect x="323.27" y="371.75" width="2.7" height="2.7" fill="#00f"/>
<rect x="326.77" y="397.11" width="2.7" height="2.7" fill="#00f"/>
<rect x="326.77" y="385.39" width="2.7" height="2.7" fill="#00f"/>
<rect x="323.27" y="383.34" width="2.7" height="2.7" fill="#00f"/>
<path d="M305.02 391.26V395.74M300.52 391.26h9M300.52 395.74h9" class="eb"/>
<path d="M324.62 385.77V393.54M320.12 385.77h9M320.12 393.54h9" class="eb"/>
<path d="M58.0 324.80V462.70H344.6" class="ax" fill="none"/>
<circle cx="342.4" cy="331.7" r="1.9" fill="#f00"/>
<rect x="340.5" y="345.0" width="3.8" height="3.8" fill="#00f"/>
<text x="356.0" y="334.8" class="lg">Sham</text>
<text x="356.0" y="349.7" class="lg">TAC</text>
<text x="7.4" y="480.0" class="pl">D</text>
<text transform="translate(32.0,554.2) rotate(-90)" class="ti" text-anchor="middle">LVPW; d (mm)</text>
<line x1="53.4" y1="623.00" x2="58.0" y2="623.00" class="ax"/>
<text x="51.8" y="627.00" class="tk" text-anchor="end">0.0</text>
<line x1="53.4" y1="577.13" x2="58.0" y2="577.13" class="ax"/>
<text x="51.8" y="581.13" class="tk" text-anchor="end">0.5</text>
<line x1="53.4" y1="531.27" x2="58.0" y2="531.27" class="ax"/>
<text x="51.8" y="535.27" class="tk" text-anchor="end">1.0</text>
<line x1="53.4" y1="485.40" x2="58.0" y2="485.40" class="ax"/>
<text x="51.8" y="489.40" class="tk" text-anchor="end">1.5</text>
<text x="86.45" y="634.9" class="tk" text-anchor="middle">2W</text>
<rect x="67.40" y="557.41" width="18.45" height="65.59" class="bar"/>
<rect x="87.05" y="543.19" width="18.35" height="79.81" class="bar"/>
<circle cx="76.62" cy="567.96" r="1.35" fill="#f00"/>
<circle cx="76.62" cy="545.03" r="1.35" fill="#f00"/>
<circle cx="69.62" cy="559.79" r="1.35" fill="#f00"/>
<circle cx="73.12" cy="553.36" r="1.35" fill="#f00"/>
<circle cx="69.62" cy="553.73" r="1.35" fill="#f00"/>
<circle cx="69.62" cy="566.31" r="1.35" fill="#f00"/>
<circle cx="73.12" cy="557.24" r="1.35" fill="#f00"/>
<circle cx="73.12" cy="547.12" r="1.35" fill="#f00"/>
<circle cx="80.12" cy="560.17" r="1.35" fill="#f00"/>
<circle cx="80.12" cy="557.02" r="1.35" fill="#f00"/>
<circle cx="73.12" cy="563.04" r="1.35" fill="#f00"/>
<circle cx="80.12" cy="551.57" r="1.35" fill="#f00"/>
<circle cx="76.62" cy="550.86" r="1.35" fill="#f00"/>
<circle cx="76.62" cy="560.05" r="1.35" fill="#f00"/>
<circle cx="83.62" cy="558.60" r="1.35" fill="#f00"/>
<circle cx="80.12" cy="565.18" r="1.35" fill="#f00"/>
<circle cx="83.62" cy="553.40" r="1.35" fill="#f00"/>
<circle cx="76.62" cy="564.00" r="1.35" fill="#f00"/>
<circle cx="76.62" cy="556.30" r="1.35" fill="#f00"/>
<circle cx="83.62" cy="547.39" r="1.35" fill="#f00"/>
<circle cx="80.12" cy="546.42" r="1.35" fill="#f00"/>
<circle cx="83.62" cy="563.45" r="1.35" fill="#f00"/>
<rect x="94.88" y="514.32" width="2.7" height="2.7" fill="#00f"/>
<rect x="94.88" y="520.74" width="2.7" height="2.7" fill="#00f"/>
<rect x="94.88" y="525.33" width="2.7" height="2.7" fill="#00f"/>
<rect x="94.88" y="562.02" width="2.7" height="2.7" fill="#00f"/>
<rect x="94.88" y="529.92" width="2.7" height="2.7" fill="#00f"/>
<rect x="98.38" y="544.05" width="2.7" height="2.7" fill="#00f"/>
<rect x="87.88" y="547.50" width="2.7" height="2.7" fill="#00f"/>
<rect x="91.38" y="545.59" width="2.7" height="2.7" fill="#00f"/>
<rect x="98.38" y="540.94" width="2.7" height="2.7" fill="#00f"/>
<rect x="98.38" y="535.94" width="2.7" height="2.7" fill="#00f"/>
<rect x="91.38" y="556.92" width="2.7" height="2.7" fill="#00f"/>
<rect x="101.88" y="551.93" width="2.7" height="2.7" fill="#00f"/>
<rect x="101.88" y="549.64" width="2.7" height="2.7" fill="#00f"/>
<rect x="98.38" y="554.66" width="2.7" height="2.7" fill="#00f"/>
<rect x="91.38" y="549.42" width="2.7" height="2.7" fill="#00f"/>
<rect x="91.38" y="536.58" width="2.7" height="2.7" fill="#00f"/>
<rect x="91.38" y="550.99" width="2.7" height="2.7" fill="#00f"/>
<rect x="98.38" y="531.62" width="2.7" height="2.7" fill="#00f"/>
<rect x="94.88" y="553.73" width="2.7" height="2.7" fill="#00f"/>
<rect x="91.38" y="541.54" width="2.7" height="2.7" fill="#00f"/>
<rect x="101.88" y="557.46" width="2.7" height="2.7" fill="#00f"/>
<rect x="101.88" y="536.75" width="2.7" height="2.7" fill="#00f"/>
<rect x="94.88" y="534.00" width="2.7" height="2.7" fill="#00f"/>
<rect x="98.38" y="548.23" width="2.7" height="2.7" fill="#00f"/>
<rect x="98.38" y="550.94" width="2.7" height="2.7" fill="#00f"/>
<rect x="94.88" y="543.57" width="2.7" height="2.7" fill="#00f"/>
<rect x="94.88" y="549.66" width="2.7" height="2.7" fill="#00f"/>
<rect x="94.88" y="547.44" width="2.7" height="2.7" fill="#00f"/>
<rect x="94.88" y="539.14" width="2.7" height="2.7" fill="#00f"/>
<rect x="94.88" y="557.36" width="2.7" height="2.7" fill="#00f"/>
<rect x="87.88" y="542.50" width="2.7" height="2.7" fill="#00f"/>
<rect x="101.88" y="546.57" width="2.7" height="2.7" fill="#00f"/>
<rect x="87.88" y="550.53" width="2.7" height="2.7" fill="#00f"/>
<rect x="101.88" y="542.32" width="2.7" height="2.7" fill="#00f"/>
<path d="M76.62 555.66V559.16M72.12 555.66h9M72.12 559.16h9" class="eb"/>
<path d="M96.22 540.97V545.41M91.72 540.97h9M91.72 545.41h9" class="eb"/>
<text x="96.22" y="513.90" class="st" text-anchor="middle">****</text>
<text x="143.55" y="634.9" class="tk" text-anchor="middle">4W</text>
<rect x="124.50" y="556.40" width="18.45" height="66.60" class="bar"/>
<rect x="144.15" y="537.23" width="18.35" height="85.77" class="bar"/>
<circle cx="133.73" cy="570.71" r="1.35" fill="#f00"/>
<circle cx="133.73" cy="540.44" r="1.35" fill="#f00"/>
<circle cx="137.23" cy="563.66" r="1.35" fill="#f00"/>
<circle cx="137.23" cy="558.81" r="1.35" fill="#f00"/>
<circle cx="140.73" cy="564.15" r="1.35" fill="#f00"/>
<circle cx="133.73" cy="561.32" r="1.35" fill="#f00"/>
<circle cx="137.23" cy="554.27" r="1.35" fill="#f00"/>
<circle cx="130.23" cy="564.08" r="1.35" fill="#f00"/>
<circle cx="140.73" cy="555.18" r="1.35" fill="#f00"/>
<circle cx="133.73" cy="566.71" r="1.35" fill="#f00"/>
<circle cx="133.73" cy="552.57" r="1.35" fill="#f00"/>
<circle cx="130.23" cy="559.63" r="1.35" fill="#f00"/>
<circle cx="133.73" cy="545.20" r="1.35" fill="#f00"/>
<circle cx="130.23" cy="554.91" r="1.35" fill="#f00"/>
<circle cx="133.73" cy="557.28" r="1.35" fill="#f00"/>
<rect x="151.97" y="505.15" width="2.7" height="2.7" fill="#00f"/>
<rect x="151.97" y="551.02" width="2.7" height="2.7" fill="#00f"/>
<rect x="151.97" y="525.33" width="2.7" height="2.7" fill="#00f"/>
<rect x="155.47" y="526.69" width="2.7" height="2.7" fill="#00f"/>
<rect x="148.47" y="542.26" width="2.7" height="2.7" fill="#00f"/>
<rect x="151.97" y="545.02" width="2.7" height="2.7" fill="#00f"/>
<rect x="155.47" y="530.49" width="2.7" height="2.7" fill="#00f"/>
<rect x="151.97" y="532.31" width="2.7" height="2.7" fill="#00f"/>
<rect x="148.47" y="530.96" width="2.7" height="2.7" fill="#00f"/>
<rect x="155.47" y="545.97" width="2.7" height="2.7" fill="#00f"/>
<rect x="151.97" y="536.37" width="2.7" height="2.7" fill="#00f"/>
<rect x="151.97" y="528.70" width="2.7" height="2.7" fill="#00f"/>
<rect x="148.47" y="535.45" width="2.7" height="2.7" fill="#00f"/>
<rect x="158.97" y="537.01" width="2.7" height="2.7" fill="#00f"/>
<rect x="151.97" y="540.52" width="2.7" height="2.7" fill="#00f"/>
<rect x="144.97" y="528.34" width="2.7" height="2.7" fill="#00f"/>
<rect x="144.97" y="537.21" width="2.7" height="2.7" fill="#00f"/>
<rect x="158.97" y="527.38" width="2.7" height="2.7" fill="#00f"/>
<rect x="158.97" y="544.00" width="2.7" height="2.7" fill="#00f"/>
<rect x="148.47" y="527.18" width="2.7" height="2.7" fill="#00f"/>
<rect x="158.97" y="548.50" width="2.7" height="2.7" fill="#00f"/>
<rect x="155.47" y="540.76" width="2.7" height="2.7" fill="#00f"/>
<rect x="155.47" y="535.39" width="2.7" height="2.7" fill="#00f"/>
<rect x="148.47" y="546.03" width="2.7" height="2.7" fill="#00f"/>
<path d="M133.73 553.93V558.88M129.23 553.93h9M129.23 558.88h9" class="eb"/>
<path d="M153.32 534.79V539.67M148.82 534.79h9M148.82 539.67h9" class="eb"/>
<text x="153.32" y="503.90" class="st" text-anchor="middle">****</text>
<text x="200.65" y="634.9" class="tk" text-anchor="middle">6W</text>
<rect x="181.60" y="551.81" width="18.45" height="71.19" class="bar"/>
<rect x="201.25" y="529.89" width="18.35" height="93.11" class="bar"/>
<circle cx="194.33" cy="571.63" r="1.35" fill="#f00"/>
<circle cx="190.83" cy="543.19" r="1.35" fill="#f00"/>
<circle cx="190.83" cy="564.52" r="1.35" fill="#f00"/>
<circle cx="194.33" cy="549.33" r="1.35" fill="#f00"/>
<circle cx="194.33" cy="565.52" r="1.35" fill="#f00"/>
<circle cx="194.33" cy="556.62" r="1.35" fill="#f00"/>
<circle cx="194.33" cy="560.39" r="1.35" fill="#f00"/>
<circle cx="190.83" cy="559.83" r="1.35" fill="#f00"/>
<circle cx="190.83" cy="547.24" r="1.35" fill="#f00"/>
<circle cx="197.83" cy="553.83" r="1.35" fill="#f00"/>
<circle cx="190.83" cy="569.23" r="1.35" fill="#f00"/>
<circle cx="187.33" cy="567.19" r="1.35" fill="#f00"/>
<circle cx="183.83" cy="556.13" r="1.35" fill="#f00"/>
<circle cx="187.33" cy="562.37" r="1.35" fill="#f00"/>
<circle cx="187.33" cy="553.51" r="1.35" fill="#f00"/>
<circle cx="190.83" cy="552.36" r="1.35" fill="#f00"/>
<circle cx="190.83" cy="555.91" r="1.35" fill="#f00"/>
<circle cx="194.33" cy="552.96" r="1.35" fill="#f00"/>
<rect x="209.08" y="502.86" width="2.7" height="2.7" fill="#00f"/>
<rect x="209.08" y="511.57" width="2.7" height="2.7" fill="#00f"/>
<rect x="212.58" y="513.40" width="2.7" height="2.7" fill="#00f"/>
<rect x="216.08" y="548.26" width="2.7" height="2.7" fill="#00f"/>
<rect x="209.08" y="520.74" width="2.7" height="2.7" fill="#00f"/>
<rect x="209.08" y="541.06" width="2.7" height="2.7" fill="#00f"/>
<rect x="212.58" y="527.57" width="2.7" height="2.7" fill="#00f"/>
<rect x="212.58" y="542.44" width="2.7" height="2.7" fill="#00f"/>
<rect x="202.08" y="544.24" width="2.7" height="2.7" fill="#00f"/>
<rect x="212.58" y="532.98" width="2.7" height="2.7" fill="#00f"/>
<rect x="209.08" y="532.78" width="2.7" height="2.7" fill="#00f"/>
<rect x="205.58" y="545.88" width="2.7" height="2.7" fill="#00f"/>
<rect x="209.08" y="544.85" width="2.7" height="2.7" fill="#00f"/>
<rect x="205.58" y="527.63" width="2.7" height="2.7" fill="#00f"/>
<rect x="212.58" y="545.54" width="2.7" height="2.7" fill="#00f"/>
<rect x="209.08" y="537.53" width="2.7" height="2.7" fill="#00f"/>
<rect x="216.08" y="543.51" width="2.7" height="2.7" fill="#00f"/>
<rect x="212.58" y="522.22" width="2.7" height="2.7" fill="#00f"/>
<rect x="209.08" y="526.70" width="2.7" height="2.7" fill="#00f"/>
<rect x="205.58" y="522.72" width="2.7" height="2.7" fill="#00f"/>
<rect x="216.08" y="523.19" width="2.7" height="2.7" fill="#00f"/>
<rect x="205.58" y="542.80" width="2.7" height="2.7" fill="#00f"/>
<path d="M190.83 549.60V554.03M186.33 549.60h9M186.33 554.03h9" class="eb"/>
<path d="M210.43 526.59V533.19M205.93 526.59h9M205.93 533.19h9" class="eb"/>
<text x="210.43" y="501.80" class="st" text-anchor="middle">****</text>
<text x="257.75" y="634.9" class="tk" text-anchor="middle">8W</text>
<rect x="238.70" y="551.08" width="18.45" height="71.92" class="bar"/>
<rect x="258.35" y="535.49" width="18.35" height="87.51" class="bar"/>
<circle cx="247.93" cy="560.62" r="1.35" fill="#f00"/>
<circle cx="247.93" cy="537.69" r="1.35" fill="#f00"/>
<circle cx="244.43" cy="540.27" r="1.35" fill="#f00"/>
<circle cx="251.43" cy="551.86" r="1.35" fill="#f00"/>
<circle cx="254.93" cy="556.20" r="1.35" fill="#f00"/>
<circle cx="244.43" cy="553.80" r="1.35" fill="#f00"/>
<circle cx="240.93" cy="556.51" r="1.35" fill="#f00"/>
<circle cx="254.93" cy="540.49" r="1.35" fill="#f00"/>
<circle cx="247.93" cy="553.04" r="1.35" fill="#f00"/>
<circle cx="240.93" cy="552.89" r="1.35" fill="#f00"/>
<circle cx="251.43" cy="554.31" r="1.35" fill="#f00"/>
<circle cx="251.43" cy="542.11" r="1.35" fill="#f00"/>
<circle cx="240.93" cy="540.99" r="1.35" fill="#f00"/>
<circle cx="247.93" cy="545.82" r="1.35" fill="#f00"/>
<circle cx="247.93" cy="549.69" r="1.35" fill="#f00"/>
<circle cx="254.93" cy="552.05" r="1.35" fill="#f00"/>
<circle cx="251.43" cy="548.02" r="1.35" fill="#f00"/>
<circle cx="247.93" cy="541.26" r="1.35" fill="#f00"/>
<circle cx="251.43" cy="539.16" r="1.35" fill="#f00"/>
<circle cx="244.43" cy="551.34" r="1.35" fill="#f00"/>
<rect x="266.18" y="557.44" width="2.7" height="2.7" fill="#00f"/>
<rect x="266.18" y="516.16" width="2.7" height="2.7" fill="#00f"/>
<rect x="259.18" y="545.54" width="2.7" height="2.7" fill="#00f"/>
<rect x="259.18" y="533.92" width="2.7" height="2.7" fill="#00f"/>
<rect x="269.68" y="529.37" width="2.7" height="2.7" fill="#00f"/>
<rect x="262.68" y="544.40" width="2.7" height="2.7" fill="#00f"/>
<rect x="266.18" y="553.58" width="2.7" height="2.7" fill="#00f"/>
<rect x="269.68" y="545.95" width="2.7" height="2.7" fill="#00f"/>
<rect x="269.68" y="518.81" width="2.7" height="2.7" fill="#00f"/>
<rect x="266.18" y="530.71" width="2.7" height="2.7" fill="#00f"/>
<rect x="262.68" y="556.12" width="2.7" height="2.7" fill="#00f"/>
<rect x="266.18" y="545.45" width="2.7" height="2.7" fill="#00f"/>
<rect x="273.18" y="539.31" width="2.7" height="2.7" fill="#00f"/>
<rect x="266.18" y="522.10" width="2.7" height="2.7" fill="#00f"/>
<rect x="269.68" y="542.65" width="2.7" height="2.7" fill="#00f"/>
<rect x="269.68" y="554.54" width="2.7" height="2.7" fill="#00f"/>
<rect x="262.68" y="538.96" width="2.7" height="2.7" fill="#00f"/>
<rect x="269.68" y="538.90" width="2.7" height="2.7" fill="#00f"/>
<rect x="269.68" y="533.74" width="2.7" height="2.7" fill="#00f"/>
<rect x="262.68" y="547.79" width="2.7" height="2.7" fill="#00f"/>
<rect x="266.18" y="537.73" width="2.7" height="2.7" fill="#00f"/>
<rect x="269.68" y="523.02" width="2.7" height="2.7" fill="#00f"/>
<rect x="273.18" y="545.45" width="2.7" height="2.7" fill="#00f"/>
<rect x="273.18" y="532.54" width="2.7" height="2.7" fill="#00f"/>
<rect x="266.18" y="526.31" width="2.7" height="2.7" fill="#00f"/>
<rect x="266.18" y="541.49" width="2.7" height="2.7" fill="#00f"/>
<rect x="262.68" y="532.39" width="2.7" height="2.7" fill="#00f"/>
<path d="M247.93 549.24V552.93M243.43 549.24h9M243.43 552.93h9" class="eb"/>
<path d="M267.53 532.88V538.09M263.03 532.88h9M263.03 538.09h9" class="eb"/>
<text x="267.53" y="516.00" class="st" text-anchor="middle">****</text>
<text x="314.85" y="634.9" class="tk" text-anchor="middle">12W</text>
<rect x="295.80" y="550.53" width="18.45" height="72.47" class="bar"/>
<rect x="315.45" y="544.48" width="18.35" height="78.52" class="bar"/>
<circle cx="305.02" cy="567.04" r="1.35" fill="#f00"/>
<circle cx="305.02" cy="541.36" r="1.35" fill="#f00"/>
<circle cx="301.52" cy="557.66" r="1.35" fill="#f00"/>
<circle cx="305.02" cy="555.50" r="1.35" fill="#f00"/>
<circle cx="301.52" cy="548.80" r="1.35" fill="#f00"/>
<circle cx="305.02" cy="546.13" r="1.35" fill="#f00"/>
<circle cx="298.02" cy="552.03" r="1.35" fill="#f00"/>
<circle cx="308.52" cy="557.00" r="1.35" fill="#f00"/>
<circle cx="308.52" cy="548.58" r="1.35" fill="#f00"/>
<circle cx="312.02" cy="551.76" r="1.35" fill="#f00"/>
<circle cx="305.02" cy="562.47" r="1.35" fill="#f00"/>
<circle cx="305.02" cy="550.98" r="1.35" fill="#f00"/>
<rect x="323.27" y="563.86" width="2.7" height="2.7" fill="#00f"/>
<rect x="323.27" y="522.58" width="2.7" height="2.7" fill="#00f"/>
<rect x="323.27" y="537.96" width="2.7" height="2.7" fill="#00f"/>
<rect x="330.27" y="555.31" width="2.7" height="2.7" fill="#00f"/>
<rect x="323.27" y="547.83" width="2.7" height="2.7" fill="#00f"/>
<rect x="326.77" y="532.27" width="2.7" height="2.7" fill="#00f"/>
<rect x="319.77" y="535.22" width="2.7" height="2.7" fill="#00f"/>
<rect x="323.27" y="534.07" width="2.7" height="2.7" fill="#00f"/>
<rect x="326.77" y="544.51" width="2.7" height="2.7" fill="#00f"/>
<rect x="319.77" y="544.98" width="2.7" height="2.7" fill="#00f"/>
<rect x="319.77" y="554.37" width="2.7" height="2.7" fill="#00f"/>
<rect x="323.27" y="558.09" width="2.7" height="2.7" fill="#00f"/>
<rect x="326.77" y="537.15" width="2.7" height="2.7" fill="#00f"/>
<rect x="323.27" y="530.39" width="2.7" height="2.7" fill="#00f"/>
<rect x="323.27" y="551.91" width="2.7" height="2.7" fill="#00f"/>
<rect x="330.27" y="545.59" width="2.7" height="2.7" fill="#00f"/>
<rect x="323.27" y="542.35" width="2.7" height="2.7" fill="#00f"/>
<rect x="319.77" y="540.00" width="2.7" height="2.7" fill="#00f"/>
<rect x="326.77" y="553.73" width="2.7" height="2.7" fill="#00f"/>
<rect x="326.77" y="561.23" width="2.7" height="2.7" fill="#00f"/>
<rect x="326.77" y="549.64" width="2.7" height="2.7" fill="#00f"/>
<rect x="323.27" y="526.70" width="2.7" height="2.7" fill="#00f"/>
<path d="M305.02 548.07V552.99M300.52 548.07h9M300.52 552.99h9" class="eb"/>
<path d="M324.62 541.58V547.37M320.12 541.58h9M320.12 547.37h9" class="eb"/>
<path d="M58.0 484.80V623.00H344.6" class="ax" fill="none"/>
<circle cx="342.4" cy="491.7" r="1.9" fill="#f00"/>
<rect x="340.5" y="505.0" width="3.8" height="3.8" fill="#00f"/>
<text x="356.0" y="494.8" class="lg">Sham</text>
<text x="356.0" y="509.7" class="lg">TAC</text>
<text x="7.4" y="642.9" class="pl">E</text>
<text transform="translate(32.4,716.5) rotate(-90)" class="ti" text-anchor="middle">LVPW; s (mm)</text>
<line x1="53.4" y1="785.30" x2="58.0" y2="785.30" class="ax"/>
<text x="51.8" y="789.30" class="tk" text-anchor="end">0.0</text>
<line x1="53.4" y1="750.88" x2="58.0" y2="750.88" class="ax"/>
<text x="51.8" y="754.88" class="tk" text-anchor="end">0.5</text>
<line x1="53.4" y1="716.45" x2="58.0" y2="716.45" class="ax"/>
<text x="51.8" y="720.45" class="tk" text-anchor="end">1.0</text>
<line x1="53.4" y1="682.02" x2="58.0" y2="682.02" class="ax"/>
<text x="51.8" y="686.02" class="tk" text-anchor="end">1.5</text>
<line x1="53.4" y1="647.60" x2="58.0" y2="647.60" class="ax"/>
<text x="51.8" y="651.60" class="tk" text-anchor="end">2.0</text>
<text x="86.45" y="797.2" class="tk" text-anchor="middle">2W</text>
<rect x="67.40" y="711.84" width="18.45" height="73.46" class="bar"/>
<rect x="87.05" y="698.55" width="18.35" height="86.75" class="bar"/>
<circle cx="76.62" cy="727.47" r="1.35" fill="#f00"/>
<circle cx="76.62" cy="694.42" r="1.35" fill="#f00"/>
<circle cx="80.12" cy="716.09" r="1.35" fill="#f00"/>
<circle cx="76.62" cy="716.04" r="1.35" fill="#f00"/>
<circle cx="76.62" cy="701.71" r="1.35" fill="#f00"/>
<circle cx="83.62" cy="705.21" r="1.35" fill="#f00"/>
<circle cx="80.12" cy="696.69" r="1.35" fill="#f00"/>
<circle cx="83.62" cy="700.84" r="1.35" fill="#f00"/>
<circle cx="80.12" cy="700.31" r="1.35" fill="#f00"/>
<circle cx="69.62" cy="707.01" r="1.35" fill="#f00"/>
<circle cx="73.12" cy="716.66" r="1.35" fill="#f00"/>
<circle cx="80.12" cy="709.16" r="1.35" fill="#f00"/>
<circle cx="69.62" cy="701.58" r="1.35" fill="#f00"/>
<circle cx="80.12" cy="723.74" r="1.35" fill="#f00"/>
<circle cx="73.12" cy="700.81" r="1.35" fill="#f00"/>
<circle cx="83.62" cy="718.91" r="1.35" fill="#f00"/>
<circle cx="76.62" cy="722.83" r="1.35" fill="#f00"/>
<circle cx="76.62" cy="706.96" r="1.35" fill="#f00"/>
<circle cx="80.12" cy="703.90" r="1.35" fill="#f00"/>
<circle cx="73.12" cy="709.77" r="1.35" fill="#f00"/>
<circle cx="73.12" cy="704.67" r="1.35" fill="#f00"/>
<circle cx="76.62" cy="699.30" r="1.35" fill="#f00"/>
<rect x="94.88" y="721.30" width="2.7" height="2.7" fill="#00f"/>
<rect x="94.88" y="672.41" width="2.7" height="2.7" fill="#00f"/>
<rect x="98.38" y="685.07" width="2.7" height="2.7" fill="#00f"/>
<rect x="94.88" y="677.31" width="2.7" height="2.7" fill="#00f"/>
<rect x="91.38" y="705.73" width="2.7" height="2.7" fill="#00f"/>
<rect x="98.38" y="714.93" width="2.7" height="2.7" fill="#00f"/>
<rect x="91.38" y="683.13" width="2.7" height="2.7" fill="#00f"/>
<rect x="94.88" y="682.55" width="2.7" height="2.7" fill="#00f"/>
<rect x="87.88" y="706.21" width="2.7" height="2.7" fill="#00f"/>
<rect x="91.38" y="710.56" width="2.7" height="2.7" fill="#00f"/>
<rect x="98.38" y="709.83" width="2.7" height="2.7" fill="#00f"/>
<rect x="87.88" y="698.95" width="2.7" height="2.7" fill="#00f"/>
<rect x="94.88" y="703.91" width="2.7" height="2.7" fill="#00f"/>
<rect x="94.88" y="690.97" width="2.7" height="2.7" fill="#00f"/>
<rect x="98.38" y="701.86" width="2.7" height="2.7" fill="#00f"/>
<rect x="94.88" y="696.69" width="2.7" height="2.7" fill="#00f"/>
<rect x="87.88" y="691.65" width="2.7" height="2.7" fill="#00f"/>
<rect x="94.88" y="699.24" width="2.7" height="2.7" fill="#00f"/>
<rect x="98.38" y="689.00" width="2.7" height="2.7" fill="#00f"/>
<rect x="101.88" y="691.33" width="2.7" height="2.7" fill="#00f"/>
<rect x="94.88" y="709.32" width="2.7" height="2.7" fill="#00f"/>
<rect x="94.88" y="714.85" width="2.7" height="2.7" fill="#00f"/>
<rect x="101.88" y="711.36" width="2.7" height="2.7" fill="#00f"/>
<rect x="101.88" y="705.87" width="2.7" height="2.7" fill="#00f"/>
<rect x="98.38" y="675.83" width="2.7" height="2.7" fill="#00f"/>
<rect x="101.88" y="697.25" width="2.7" height="2.7" fill="#00f"/>
<rect x="101.88" y="683.80" width="2.7" height="2.7" fill="#00f"/>
<rect x="91.38" y="697.16" width="2.7" height="2.7" fill="#00f"/>
<rect x="94.88" y="686.69" width="2.7" height="2.7" fill="#00f"/>
<rect x="98.38" y="680.66" width="2.7" height="2.7" fill="#00f"/>
<rect x="98.38" y="705.39" width="2.7" height="2.7" fill="#00f"/>
<rect x="98.38" y="696.93" width="2.7" height="2.7" fill="#00f"/>
<rect x="98.38" y="693.40" width="2.7" height="2.7" fill="#00f"/>
<rect x="91.38" y="688.44" width="2.7" height="2.7" fill="#00f"/>
<path d="M76.62 709.44V714.23M72.12 709.44h9M72.12 714.23h9" class="eb"/>
<path d="M96.22 695.99V701.11M91.72 695.99h9M91.72 701.11h9" class="eb"/>
<text x="96.22" y="672.50" class="st" text-anchor="middle">****</text>
<text x="143.55" y="797.2" class="tk" text-anchor="middle">4W</text>
<rect x="124.50" y="713.42" width="18.45" height="71.88" class="bar"/>
<rect x="144.15" y="696.48" width="18.35" height="88.82" class="bar"/>
<circle cx="133.73" cy="724.71" r="1.35" fill="#f00"/>
<circle cx="133.73" cy="696.48" r="1.35" fill="#f00"/>
<circle cx="133.73" cy="703.31" r="1.35" fill="#f00"/>
<circle cx="133.73" cy="714.27" r="1.35" fill="#f00"/>
<circle cx="130.23" cy="713.50" r="1.35" fill="#f00"/>
<circle cx="133.73" cy="721.11" r="1.35" fill="#f00"/>
<circle cx="137.23" cy="722.66" r="1.35" fill="#f00"/>
<circle cx="126.73" cy="715.55" r="1.35" fill="#f00"/>
<circle cx="133.73" cy="710.57" r="1.35" fill="#f00"/>
<circle cx="137.23" cy="703.93" r="1.35" fill="#f00"/>
<circle cx="137.23" cy="712.54" r="1.35" fill="#f00"/>
<circle cx="130.23" cy="704.13" r="1.35" fill="#f00"/>
<circle cx="133.73" cy="706.88" r="1.35" fill="#f00"/>
<circle cx="140.73" cy="714.51" r="1.35" fill="#f00"/>
<circle cx="140.73" cy="705.14" r="1.35" fill="#f00"/>
<rect x="151.97" y="715.44" width="2.7" height="2.7" fill="#00f"/>
<rect x="151.97" y="669.66" width="2.7" height="2.7" fill="#00f"/>
<rect x="155.47" y="682.58" width="2.7" height="2.7" fill="#00f"/>
<rect x="144.97" y="695.24" width="2.7" height="2.7" fill="#00f"/>
<rect x="151.97" y="689.29" width="2.7" height="2.7" fill="#00f"/>
<rect x="155.47" y="694.71" width="2.7" height="2.7" fill="#00f"/>
<rect x="155.47" y="703.35" width="2.7" height="2.7" fill="#00f"/>
<rect x="155.47" y="698.70" width="2.7" height="2.7" fill="#00f"/>
<rect x="155.47" y="678.39" width="2.7" height="2.7" fill="#00f"/>
<rect x="158.97" y="703.40" width="2.7" height="2.7" fill="#00f"/>
<rect x="151.97" y="698.02" width="2.7" height="2.7" fill="#00f"/>
<rect x="151.97" y="706.52" width="2.7" height="2.7" fill="#00f"/>
<rect x="148.47" y="702.18" width="2.7" height="2.7" fill="#00f"/>
<rect x="148.47" y="683.13" width="2.7" height="2.7" fill="#00f"/>
<rect x="151.97" y="676.28" width="2.7" height="2.7" fill="#00f"/>
<rect x="148.47" y="696.54" width="2.7" height="2.7" fill="#00f"/>
<rect x="151.97" y="680.40" width="2.7" height="2.7" fill="#00f"/>
<rect x="158.97" y="695.23" width="2.7" height="2.7" fill="#00f"/>
<rect x="155.47" y="690.21" width="2.7" height="2.7" fill="#00f"/>
<rect x="151.97" y="701.59" width="2.7" height="2.7" fill="#00f"/>
<rect x="155.47" y="709.83" width="2.7" height="2.7" fill="#00f"/>
<rect x="151.97" y="685.27" width="2.7" height="2.7" fill="#00f"/>
<rect x="148.47" y="692.53" width="2.7" height="2.7" fill="#00f"/>
<rect x="151.97" y="694.06" width="2.7" height="2.7" fill="#00f"/>
<path d="M133.73 710.94V715.90M129.23 710.94h9M129.23 715.90h9" class="eb"/>
<path d="M153.32 693.73V699.24M148.82 693.73h9M148.82 699.24h9" class="eb"/>
<text x="153.32" y="668.30" class="st" text-anchor="middle">***</text>
<text x="200.65" y="797.2" class="tk" text-anchor="middle">6W</text>
<rect x="181.60" y="708.39" width="18.45" height="76.91" class="bar"/>
<rect x="201.25" y="688.57" width="18.35" height="96.73" class="bar"/>
<circle cx="190.83" cy="722.99" r="1.35" fill="#f00"/>
<circle cx="190.83" cy="697.86" r="1.35" fill="#f00"/>
<circle cx="190.83" cy="708.10" r="1.35" fill="#f00"/>
<circle cx="197.83" cy="706.14" r="1.35" fill="#f00"/>
<circle cx="190.83" cy="712.01" r="1.35" fill="#f00"/>
<circle cx="194.33" cy="704.79" r="1.35" fill="#f00"/>
<circle cx="187.33" cy="713.83" r="1.35" fill="#f00"/>
<circle cx="190.83" cy="701.83" r="1.35" fill="#f00"/>
<circle cx="187.33" cy="705.90" r="1.35" fill="#f00"/>
<circle cx="183.83" cy="706.36" r="1.35" fill="#f00"/>
<circle cx="194.33" cy="711.47" r="1.35" fill="#f00"/>
<circle cx="194.33" cy="707.78" r="1.35" fill="#f00"/>
<circle cx="197.83" cy="710.58" r="1.35" fill="#f00"/>
<circle cx="190.83" cy="705.60" r="1.35" fill="#f00"/>
<circle cx="190.83" cy="716.08" r="1.35" fill="#f00"/>
<circle cx="187.33" cy="710.07" r="1.35" fill="#f00"/>
<circle cx="183.83" cy="712.48" r="1.35" fill="#f00"/>
<circle cx="194.33" cy="700.70" r="1.35" fill="#f00"/>
<rect x="209.08" y="703.40" width="2.7" height="2.7" fill="#00f"/>
<rect x="209.08" y="657.95" width="2.7" height="2.7" fill="#00f"/>
<rect x="209.08" y="679.39" width="2.7" height="2.7" fill="#00f"/>
<rect x="209.08" y="685.23" width="2.7" height="2.7" fill="#00f"/>
<rect x="212.58" y="661.26" width="2.7" height="2.7" fill="#00f"/>
<rect x="212.58" y="682.60" width="2.7" height="2.7" fill="#00f"/>
<rect x="205.58" y="674.99" width="2.7" height="2.7" fill="#00f"/>
<rect x="216.08" y="679.89" width="2.7" height="2.7" fill="#00f"/>
<rect x="202.08" y="681.74" width="2.7" height="2.7" fill="#00f"/>
<rect x="209.08" y="671.79" width="2.7" height="2.7" fill="#00f"/>
<rect x="212.58" y="674.98" width="2.7" height="2.7" fill="#00f"/>
<rect x="205.58" y="679.79" width="2.7" height="2.7" fill="#00f"/>
<rect x="209.08" y="666.27" width="2.7" height="2.7" fill="#00f"/>
<rect x="212.58" y="678.44" width="2.7" height="2.7" fill="#00f"/>
<rect x="209.08" y="675.72" width="2.7" height="2.7" fill="#00f"/>
<rect x="209.08" y="662.50" width="2.7" height="2.7" fill="#00f"/>
<rect x="209.08" y="696.94" width="2.7" height="2.7" fill="#00f"/>
<rect x="212.58" y="686.21" width="2.7" height="2.7" fill="#00f"/>
<rect x="205.58" y="685.76" width="2.7" height="2.7" fill="#00f"/>
<rect x="202.08" y="677.99" width="2.7" height="2.7" fill="#00f"/>
<rect x="209.08" y="689.43" width="2.7" height="2.7" fill="#00f"/>
<rect x="216.08" y="676.50" width="2.7" height="2.7" fill="#00f"/>
<path d="M190.83 706.72V710.07M186.33 706.72h9M186.33 710.07h9" class="eb"/>
<path d="M210.43 685.79V691.34M205.93 685.79h9M205.93 691.34h9" class="eb"/>
<text x="210.43" y="657.90" class="st" text-anchor="middle">****</text>
<text x="257.75" y="797.2" class="tk" text-anchor="middle">8W</text>
<rect x="238.70" y="709.70" width="18.45" height="75.60" class="bar"/>
<rect x="258.35" y="701.30" width="18.35" height="84.00" class="bar"/>
<circle cx="247.93" cy="722.99" r="1.35" fill="#f00"/>
<circle cx="247.93" cy="697.17" r="1.35" fill="#f00"/>
<circle cx="244.43" cy="709.45" r="1.35" fill="#f00"/>
<circle cx="251.43" cy="705.19" r="1.35" fill="#f00"/>
<circle cx="254.93" cy="714.46" r="1.35" fill="#f00"/>
<circle cx="244.43" cy="705.67" r="1.35" fill="#f00"/>
<circle cx="254.93" cy="706.96" r="1.35" fill="#f00"/>
<circle cx="251.43" cy="708.64" r="1.35" fill="#f00"/>
<circle cx="251.43" cy="700.59" r="1.35" fill="#f00"/>
<circle cx="240.93" cy="707.98" r="1.35" fill="#f00"/>
<circle cx="247.93" cy="702.73" r="1.35" fill="#f00"/>
<circle cx="240.93" cy="714.86" r="1.35" fill="#f00"/>
<circle cx="247.93" cy="718.79" r="1.35" fill="#f00"/>
<circle cx="251.43" cy="713.46" r="1.35" fill="#f00"/>
<circle cx="244.43" cy="715.49" r="1.35" fill="#f00"/>
<circle cx="244.43" cy="713.66" r="1.35" fill="#f00"/>
<circle cx="251.43" cy="715.00" r="1.35" fill="#f00"/>
<circle cx="247.93" cy="706.66" r="1.35" fill="#f00"/>
<circle cx="247.93" cy="713.82" r="1.35" fill="#f00"/>
<circle cx="247.93" cy="710.16" r="1.35" fill="#f00"/>
<rect x="269.68" y="720.26" width="2.7" height="2.7" fill="#00f"/>
<rect x="266.18" y="679.30" width="2.7" height="2.7" fill="#00f"/>
<rect x="269.68" y="696.82" width="2.7" height="2.7" fill="#00f"/>
<rect x="266.18" y="704.85" width="2.7" height="2.7" fill="#00f"/>
<rect x="262.68" y="686.71" width="2.7" height="2.7" fill="#00f"/>
<rect x="269.68" y="691.37" width="2.7" height="2.7" fill="#00f"/>
<rect x="262.68" y="689.31" width="2.7" height="2.7" fill="#00f"/>
<rect x="259.18" y="691.24" width="2.7" height="2.7" fill="#00f"/>
<rect x="266.18" y="717.66" width="2.7" height="2.7" fill="#00f"/>
<rect x="269.68" y="685.69" width="2.7" height="2.7" fill="#00f"/>
<rect x="262.68" y="709.00" width="2.7" height="2.7" fill="#00f"/>
<rect x="273.18" y="709.37" width="2.7" height="2.7" fill="#00f"/>
<rect x="262.68" y="693.06" width="2.7" height="2.7" fill="#00f"/>
<rect x="269.68" y="708.99" width="2.7" height="2.7" fill="#00f"/>
<rect x="259.18" y="689.03" width="2.7" height="2.7" fill="#00f"/>
<rect x="266.18" y="688.90" width="2.7" height="2.7" fill="#00f"/>
<rect x="273.18" y="689.41" width="2.7" height="2.7" fill="#00f"/>
<rect x="266.18" y="685.26" width="2.7" height="2.7" fill="#00f"/>
<rect x="273.18" y="687.29" width="2.7" height="2.7" fill="#00f"/>
<rect x="266.18" y="695.42" width="2.7" height="2.7" fill="#00f"/>
<rect x="266.18" y="690.86" width="2.7" height="2.7" fill="#00f"/>
<rect x="269.68" y="689.26" width="2.7" height="2.7" fill="#00f"/>
<rect x="266.18" y="708.46" width="2.7" height="2.7" fill="#00f"/>
<rect x="259.18" y="709.50" width="2.7" height="2.7" fill="#00f"/>
<rect x="269.68" y="716.06" width="2.7" height="2.7" fill="#00f"/>
<rect x="266.18" y="712.89" width="2.7" height="2.7" fill="#00f"/>
<rect x="266.18" y="699.85" width="2.7" height="2.7" fill="#00f"/>
<path d="M247.93 708.01V711.40M243.43 708.01h9M243.43 711.40h9" class="eb"/>
<path d="M267.53 698.60V704.01M263.03 698.60h9M263.03 704.01h9" class="eb"/>
<text x="267.53" y="679.10" class="st" text-anchor="middle">**</text>
<text x="314.85" y="797.2" class="tk" text-anchor="middle">12W</text>
<rect x="295.80" y="709.56" width="18.45" height="75.74" class="bar"/>
<rect x="315.45" y="707.64" width="18.35" height="77.66" class="bar"/>
<circle cx="305.02" cy="732.63" r="1.35" fill="#f00"/>
<circle cx="305.02" cy="697.17" r="1.35" fill="#f00"/>
<circle cx="301.52" cy="703.32" r="1.35" fill="#f00"/>
<circle cx="305.02" cy="705.54" r="1.35" fill="#f00"/>
<circle cx="301.52" cy="712.90" r="1.35" fill="#f00"/>
<circle cx="308.52" cy="704.03" r="1.35" fill="#f00"/>
<circle cx="305.02" cy="714.12" r="1.35" fill="#f00"/>
<circle cx="305.02" cy="728.45" r="1.35" fill="#f00"/>
<circle cx="308.52" cy="710.56" r="1.35" fill="#f00"/>
<circle cx="305.02" cy="710.30" r="1.35" fill="#f00"/>
<circle cx="305.02" cy="701.13" r="1.35" fill="#f00"/>
<circle cx="308.52" cy="700.01" r="1.35" fill="#f00"/>
<rect x="323.27" y="728.18" width="2.7" height="2.7" fill="#00f"/>
<rect x="323.27" y="676.54" width="2.7" height="2.7" fill="#00f"/>
<rect x="330.27" y="703.07" width="2.7" height="2.7" fill="#00f"/>
<rect x="323.27" y="724.02" width="2.7" height="2.7" fill="#00f"/>
<rect x="323.27" y="696.54" width="2.7" height="2.7" fill="#00f"/>
<rect x="330.27" y="691.12" width="2.7" height="2.7" fill="#00f"/>
<rect x="323.27" y="704.95" width="2.7" height="2.7" fill="#00f"/>
<rect x="319.77" y="689.79" width="2.7" height="2.7" fill="#00f"/>
<rect x="326.77" y="706.00" width="2.7" height="2.7" fill="#00f"/>
<rect x="319.77" y="702.72" width="2.7" height="2.7" fill="#00f"/>
<rect x="319.77" y="711.99" width="2.7" height="2.7" fill="#00f"/>
<rect x="319.77" y="706.84" width="2.7" height="2.7" fill="#00f"/>
<rect x="323.27" y="712.97" width="2.7" height="2.7" fill="#00f"/>
<rect x="323.27" y="680.29" width="2.7" height="2.7" fill="#00f"/>
<rect x="323.27" y="688.79" width="2.7" height="2.7" fill="#00f"/>
<rect x="323.27" y="709.25" width="2.7" height="2.7" fill="#00f"/>
<rect x="326.77" y="701.75" width="2.7" height="2.7" fill="#00f"/>
<rect x="326.77" y="689.15" width="2.7" height="2.7" fill="#00f"/>
<rect x="326.77" y="697.18" width="2.7" height="2.7" fill="#00f"/>
<rect x="323.27" y="700.25" width="2.7" height="2.7" fill="#00f"/>
<rect x="326.77" y="709.75" width="2.7" height="2.7" fill="#00f"/>
<rect x="326.77" y="713.53" width="2.7" height="2.7" fill="#00f"/>
<path d="M305.02 705.77V713.36M300.52 705.77h9M300.52 713.36h9" class="eb"/>
<path d="M324.62 704.35V710.93M320.12 704.35h9M320.12 710.93h9" class="eb"/>
<path d="M58.0 647.00V785.30H344.6" class="ax" fill="none"/>
<circle cx="342.4" cy="653.9" r="1.9" fill="#f00"/>
<rect x="340.5" y="667.2" width="3.8" height="3.8" fill="#00f"/>
<text x="356.0" y="657.0" class="lg">Sham</text>
<text x="356.0" y="671.9" class="lg">TAC</text>
<text x="7.4" y="804.6" class="pl">F</text>
<text transform="translate(29.3,878.1) rotate(-90)" class="ti" text-anchor="middle">LV Mass AW (mg)</text>
<line x1="53.4" y1="947.00" x2="58.0" y2="947.00" class="ax"/>
<text x="51.8" y="951.00" class="tk" text-anchor="end">0</text>
<line x1="53.4" y1="912.55" x2="58.0" y2="912.55" class="ax"/>
<text x="51.8" y="916.55" class="tk" text-anchor="end">100</text>
<line x1="53.4" y1="878.10" x2="58.0" y2="878.10" class="ax"/>
<text x="51.8" y="882.10" class="tk" text-anchor="end">200</text>
<line x1="53.4" y1="843.65" x2="58.0" y2="843.65" class="ax"/>
<text x="51.8" y="847.65" class="tk" text-anchor="end">300</text>
<line x1="53.4" y1="809.20" x2="58.0" y2="809.20" class="ax"/>
<text x="51.8" y="813.20" class="tk" text-anchor="end">400</text>
<text x="86.45" y="958.9" class="tk" text-anchor="middle">2W</text>
<rect x="67.40" y="912.21" width="18.45" height="34.79" class="bar"/>
<rect x="87.05" y="901.53" width="18.35" height="45.47" class="bar"/>
<circle cx="76.62" cy="920.47" r="1.35" fill="#f00"/>
<circle cx="76.62" cy="902.90" r="1.35" fill="#f00"/>
<circle cx="69.62" cy="909.97" r="1.35" fill="#f00"/>
<circle cx="76.62" cy="907.12" r="1.35" fill="#f00"/>
<circle cx="73.12" cy="909.92" r="1.35" fill="#f00"/>
<circle cx="80.12" cy="909.68" r="1.35" fill="#f00"/>
<circle cx="76.62" cy="910.17" r="1.35" fill="#f00"/>
<circle cx="76.62" cy="916.23" r="1.35" fill="#f00"/>
<circle cx="73.12" cy="912.35" r="1.35" fill="#f00"/>
<circle cx="80.12" cy="917.99" r="1.35" fill="#f00"/>
<circle cx="69.62" cy="918.16" r="1.35" fill="#f00"/>
<circle cx="73.12" cy="905.14" r="1.35" fill="#f00"/>
<circle cx="80.12" cy="913.76" r="1.35" fill="#f00"/>
<circle cx="83.62" cy="907.16" r="1.35" fill="#f00"/>
<circle cx="73.12" cy="915.52" r="1.35" fill="#f00"/>
<circle cx="83.62" cy="912.65" r="1.35" fill="#f00"/>
<circle cx="76.62" cy="912.56" r="1.35" fill="#f00"/>
<circle cx="80.12" cy="904.83" r="1.35" fill="#f00"/>
<circle cx="80.12" cy="911.31" r="1.35" fill="#f00"/>
<circle cx="83.62" cy="916.32" r="1.35" fill="#f00"/>
<circle cx="83.62" cy="910.50" r="1.35" fill="#f00"/>
<circle cx="69.62" cy="912.54" r="1.35" fill="#f00"/>
<rect x="94.88" y="868.48" width="2.7" height="2.7" fill="#00f"/>
<rect x="94.88" y="880.20" width="2.7" height="2.7" fill="#00f"/>
<rect x="94.88" y="885.36" width="2.7" height="2.7" fill="#00f"/>
<rect x="98.38" y="913.61" width="2.7" height="2.7" fill="#00f"/>
<rect x="94.88" y="911.20" width="2.7" height="2.7" fill="#00f"/>
<rect x="94.88" y="893.98" width="2.7" height="2.7" fill="#00f"/>
<rect x="91.38" y="902.63" width="2.7" height="2.7" fill="#00f"/>
<rect x="98.38" y="895.80" width="2.7" height="2.7" fill="#00f"/>
<rect x="101.88" y="902.97" width="2.7" height="2.7" fill="#00f"/>
<rect x="98.38" y="906.80" width="2.7" height="2.7" fill="#00f"/>
<rect x="91.38" y="907.05" width="2.7" height="2.7" fill="#00f"/>
<rect x="101.88" y="909.48" width="2.7" height="2.7" fill="#00f"/>
<rect x="91.38" y="899.79" width="2.7" height="2.7" fill="#00f"/>
<rect x="91.38" y="895.87" width="2.7" height="2.7" fill="#00f"/>
<rect x="98.38" y="897.71" width="2.7" height="2.7" fill="#00f"/>
<rect x="98.38" y="909.36" width="2.7" height="2.7" fill="#00f"/>
<rect x="94.88" y="906.58" width="2.7" height="2.7" fill="#00f"/>
<rect x="101.88" y="907.43" width="2.7" height="2.7" fill="#00f"/>
<rect x="87.88" y="898.89" width="2.7" height="2.7" fill="#00f"/>
<rect x="94.88" y="897.08" width="2.7" height="2.7" fill="#00f"/>
<rect x="87.88" y="909.03" width="2.7" height="2.7" fill="#00f"/>
<rect x="94.88" y="899.34" width="2.7" height="2.7" fill="#00f"/>
<rect x="101.88" y="895.89" width="2.7" height="2.7" fill="#00f"/>
<rect x="87.88" y="895.93" width="2.7" height="2.7" fill="#00f"/>
<rect x="87.88" y="910.16" width="2.7" height="2.7" fill="#00f"/>
<rect x="87.88" y="900.08" width="2.7" height="2.7" fill="#00f"/>
<rect x="94.88" y="909.10" width="2.7" height="2.7" fill="#00f"/>
<rect x="98.38" y="899.35" width="2.7" height="2.7" fill="#00f"/>
<rect x="91.38" y="897.83" width="2.7" height="2.7" fill="#00f"/>
<rect x="91.38" y="909.41" width="2.7" height="2.7" fill="#00f"/>
<rect x="98.38" y="900.75" width="2.7" height="2.7" fill="#00f"/>
<rect x="101.88" y="899.85" width="2.7" height="2.7" fill="#00f"/>
<rect x="101.88" y="898.63" width="2.7" height="2.7" fill="#00f"/>
<rect x="94.88" y="900.13" width="2.7" height="2.7" fill="#00f"/>
<path d="M76.62 911.01V913.41M72.12 911.01h9M72.12 913.41h9" class="eb"/>
<path d="M96.22 899.64V903.41M91.72 899.64h9M91.72 903.41h9" class="eb"/>
<text x="96.22" y="868.40" class="st" text-anchor="middle">****</text>
<text x="143.55" y="958.9" class="tk" text-anchor="middle">4W</text>
<rect x="124.50" y="911.17" width="18.45" height="35.83" class="bar"/>
<rect x="144.15" y="890.16" width="18.35" height="56.84" class="bar"/>
<circle cx="133.73" cy="918.06" r="1.35" fill="#f00"/>
<circle cx="133.73" cy="900.49" r="1.35" fill="#f00"/>
<circle cx="130.23" cy="910.57" r="1.35" fill="#f00"/>
<circle cx="130.23" cy="906.83" r="1.35" fill="#f00"/>
<circle cx="126.73" cy="904.78" r="1.35" fill="#f00"/>
<circle cx="140.73" cy="912.56" r="1.35" fill="#f00"/>
<circle cx="137.23" cy="902.70" r="1.35" fill="#f00"/>
<circle cx="140.73" cy="904.10" r="1.35" fill="#f00"/>
<circle cx="137.23" cy="909.09" r="1.35" fill="#f00"/>
<circle cx="133.73" cy="904.04" r="1.35" fill="#f00"/>
<circle cx="133.73" cy="912.30" r="1.35" fill="#f00"/>
<circle cx="137.23" cy="905.07" r="1.35" fill="#f00"/>
<circle cx="133.73" cy="908.18" r="1.35" fill="#f00"/>
<circle cx="130.23" cy="903.01" r="1.35" fill="#f00"/>
<circle cx="137.23" cy="912.70" r="1.35" fill="#f00"/>
<rect x="151.97" y="865.73" width="2.7" height="2.7" fill="#00f"/>
<rect x="155.47" y="868.14" width="2.7" height="2.7" fill="#00f"/>
<rect x="151.97" y="908.79" width="2.7" height="2.7" fill="#00f"/>
<rect x="151.97" y="904.31" width="2.7" height="2.7" fill="#00f"/>
<rect x="151.97" y="876.75" width="2.7" height="2.7" fill="#00f"/>
<rect x="155.47" y="893.71" width="2.7" height="2.7" fill="#00f"/>
<rect x="155.47" y="888.47" width="2.7" height="2.7" fill="#00f"/>
<rect x="148.47" y="880.92" width="2.7" height="2.7" fill="#00f"/>
<rect x="155.47" y="884.19" width="2.7" height="2.7" fill="#00f"/>
<rect x="158.97" y="881.42" width="2.7" height="2.7" fill="#00f"/>
<rect x="151.97" y="896.14" width="2.7" height="2.7" fill="#00f"/>
<rect x="144.97" y="882.91" width="2.7" height="2.7" fill="#00f"/>
<rect x="151.97" y="880.27" width="2.7" height="2.7" fill="#00f"/>
<rect x="144.97" y="898.28" width="2.7" height="2.7" fill="#00f"/>
<rect x="151.97" y="883.15" width="2.7" height="2.7" fill="#00f"/>
<rect x="144.97" y="885.86" width="2.7" height="2.7" fill="#00f"/>
<rect x="148.47" y="897.13" width="2.7" height="2.7" fill="#00f"/>
<rect x="151.97" y="886.12" width="2.7" height="2.7" fill="#00f"/>
<rect x="155.47" y="897.81" width="2.7" height="2.7" fill="#00f"/>
<rect x="158.97" y="885.84" width="2.7" height="2.7" fill="#00f"/>
<rect x="151.97" y="891.53" width="2.7" height="2.7" fill="#00f"/>
<rect x="148.47" y="884.77" width="2.7" height="2.7" fill="#00f"/>
<rect x="158.97" y="897.16" width="2.7" height="2.7" fill="#00f"/>
<rect x="155.47" y="880.68" width="2.7" height="2.7" fill="#00f"/>
<path d="M133.73 909.67V912.67M129.23 909.67h9M129.23 912.67h9" class="eb"/>
<path d="M153.32 887.61V892.70M148.82 887.61h9M148.82 892.70h9" class="eb"/>
<text x="153.32" y="865.20" class="st" text-anchor="middle">****</text>
<text x="200.65" y="958.9" class="tk" text-anchor="middle">6W</text>
<rect x="181.60" y="908.07" width="18.45" height="38.93" class="bar"/>
<rect x="201.25" y="889.47" width="18.35" height="57.53" class="bar"/>
<circle cx="194.33" cy="917.03" r="1.35" fill="#f00"/>
<circle cx="190.83" cy="897.05" r="1.35" fill="#f00"/>
<circle cx="197.83" cy="906.64" r="1.35" fill="#f00"/>
<circle cx="194.33" cy="905.43" r="1.35" fill="#f00"/>
<circle cx="190.83" cy="911.16" r="1.35" fill="#f00"/>
<circle cx="190.83" cy="905.16" r="1.35" fill="#f00"/>
<circle cx="183.83" cy="906.84" r="1.35" fill="#f00"/>
<circle cx="194.33" cy="907.36" r="1.35" fill="#f00"/>
<circle cx="197.83" cy="914.20" r="1.35" fill="#f00"/>
<circle cx="197.83" cy="909.30" r="1.35" fill="#f00"/>
<circle cx="187.33" cy="906.04" r="1.35" fill="#f00"/>
<circle cx="187.33" cy="913.22" r="1.35" fill="#f00"/>
<circle cx="183.83" cy="909.83" r="1.35" fill="#f00"/>
<circle cx="190.83" cy="915.66" r="1.35" fill="#f00"/>
<circle cx="194.33" cy="898.50" r="1.35" fill="#f00"/>
<circle cx="190.83" cy="907.28" r="1.35" fill="#f00"/>
<circle cx="194.33" cy="911.33" r="1.35" fill="#f00"/>
<circle cx="187.33" cy="908.37" r="1.35" fill="#f00"/>
<rect x="209.08" y="908.10" width="2.7" height="2.7" fill="#00f"/>
<rect x="209.08" y="863.66" width="2.7" height="2.7" fill="#00f"/>
<rect x="209.08" y="875.19" width="2.7" height="2.7" fill="#00f"/>
<rect x="209.08" y="867.34" width="2.7" height="2.7" fill="#00f"/>
<rect x="205.58" y="902.30" width="2.7" height="2.7" fill="#00f"/>
<rect x="209.08" y="895.43" width="2.7" height="2.7" fill="#00f"/>
<rect x="209.08" y="901.37" width="2.7" height="2.7" fill="#00f"/>
<rect x="209.08" y="871.05" width="2.7" height="2.7" fill="#00f"/>
<rect x="216.08" y="867.99" width="2.7" height="2.7" fill="#00f"/>
<rect x="216.08" y="903.31" width="2.7" height="2.7" fill="#00f"/>
<rect x="209.08" y="889.98" width="2.7" height="2.7" fill="#00f"/>
<rect x="212.58" y="870.31" width="2.7" height="2.7" fill="#00f"/>
<rect x="209.08" y="885.42" width="2.7" height="2.7" fill="#00f"/>
<rect x="205.58" y="867.62" width="2.7" height="2.7" fill="#00f"/>
<rect x="212.58" y="890.15" width="2.7" height="2.7" fill="#00f"/>
<rect x="212.58" y="896.19" width="2.7" height="2.7" fill="#00f"/>
<rect x="212.58" y="866.21" width="2.7" height="2.7" fill="#00f"/>
<rect x="212.58" y="902.24" width="2.7" height="2.7" fill="#00f"/>
<rect x="205.58" y="890.42" width="2.7" height="2.7" fill="#00f"/>
<rect x="202.08" y="869.70" width="2.7" height="2.7" fill="#00f"/>
<rect x="202.08" y="904.00" width="2.7" height="2.7" fill="#00f"/>
<rect x="212.58" y="877.50" width="2.7" height="2.7" fill="#00f"/>
<path d="M190.83 906.60V909.55M186.33 906.60h9M186.33 909.55h9" class="eb"/>
<path d="M210.43 885.55V893.38M205.93 885.55h9M205.93 893.38h9" class="eb"/>
<text x="210.43" y="863.60" class="st" text-anchor="middle">****</text>
<text x="257.75" y="958.9" class="tk" text-anchor="middle">8W</text>
<rect x="238.70" y="909.45" width="18.45" height="37.55" class="bar"/>
<rect x="258.35" y="885.68" width="18.35" height="61.32" class="bar"/>
<circle cx="251.43" cy="920.13" r="1.35" fill="#f00"/>
<circle cx="247.93" cy="900.84" r="1.35" fill="#f00"/>
<circle cx="251.43" cy="902.05" r="1.35" fill="#f00"/>
<circle cx="251.43" cy="914.67" r="1.35" fill="#f00"/>
<circle cx="244.43" cy="902.85" r="1.35" fill="#f00"/>
<circle cx="254.93" cy="913.98" r="1.35" fill="#f00"/>
<circle cx="244.43" cy="906.01" r="1.35" fill="#f00"/>
<circle cx="247.93" cy="911.96" r="1.35" fill="#f00"/>
<circle cx="247.93" cy="915.07" r="1.35" fill="#f00"/>
<circle cx="254.93" cy="916.24" r="1.35" fill="#f00"/>
<circle cx="240.93" cy="914.70" r="1.35" fill="#f00"/>
<circle cx="247.93" cy="918.95" r="1.35" fill="#f00"/>
<circle cx="244.43" cy="915.78" r="1.35" fill="#f00"/>
<circle cx="251.43" cy="904.30" r="1.35" fill="#f00"/>
<circle cx="240.93" cy="904.15" r="1.35" fill="#f00"/>
<circle cx="254.93" cy="903.73" r="1.35" fill="#f00"/>
<circle cx="251.43" cy="910.53" r="1.35" fill="#f00"/>
<circle cx="247.93" cy="904.28" r="1.35" fill="#f00"/>
<circle cx="247.93" cy="908.25" r="1.35" fill="#f00"/>
<circle cx="244.43" cy="913.26" r="1.35" fill="#f00"/>
<rect x="262.68" y="896.39" width="2.7" height="2.7" fill="#00f"/>
<rect x="266.18" y="857.11" width="2.7" height="2.7" fill="#00f"/>
<rect x="262.68" y="877.54" width="2.7" height="2.7" fill="#00f"/>
<rect x="269.68" y="889.38" width="2.7" height="2.7" fill="#00f"/>
<rect x="266.18" y="891.20" width="2.7" height="2.7" fill="#00f"/>
<rect x="266.18" y="874.86" width="2.7" height="2.7" fill="#00f"/>
<rect x="262.68" y="868.87" width="2.7" height="2.7" fill="#00f"/>
<rect x="262.68" y="882.19" width="2.7" height="2.7" fill="#00f"/>
<rect x="273.18" y="885.06" width="2.7" height="2.7" fill="#00f"/>
<rect x="259.18" y="882.60" width="2.7" height="2.7" fill="#00f"/>
<rect x="266.18" y="880.44" width="2.7" height="2.7" fill="#00f"/>
<rect x="266.18" y="867.29" width="2.7" height="2.7" fill="#00f"/>
<rect x="262.68" y="861.89" width="2.7" height="2.7" fill="#00f"/>
<rect x="269.68" y="867.71" width="2.7" height="2.7" fill="#00f"/>
<rect x="266.18" y="886.96" width="2.7" height="2.7" fill="#00f"/>
<rect x="269.68" y="884.31" width="2.7" height="2.7" fill="#00f"/>
<rect x="259.18" y="886.62" width="2.7" height="2.7" fill="#00f"/>
<rect x="269.68" y="860.21" width="2.7" height="2.7" fill="#00f"/>
<rect x="266.18" y="861.73" width="2.7" height="2.7" fill="#00f"/>
<rect x="262.68" y="884.68" width="2.7" height="2.7" fill="#00f"/>
<rect x="262.68" y="892.39" width="2.7" height="2.7" fill="#00f"/>
<rect x="266.18" y="884.05" width="2.7" height="2.7" fill="#00f"/>
<rect x="269.68" y="893.86" width="2.7" height="2.7" fill="#00f"/>
<rect x="273.18" y="882.37" width="2.7" height="2.7" fill="#00f"/>
<rect x="266.18" y="895.43" width="2.7" height="2.7" fill="#00f"/>
<rect x="269.68" y="875.81" width="2.7" height="2.7" fill="#00f"/>
<rect x="269.68" y="881.68" width="2.7" height="2.7" fill="#00f"/>
<path d="M247.93 907.81V911.09M243.43 907.81h9M243.43 911.09h9" class="eb"/>
<path d="M267.53 883.07V888.29M263.03 883.07h9M263.03 888.29h9" class="eb"/>
<text x="267.53" y="856.90" class="st" text-anchor="middle">****</text>
<text x="314.85" y="958.9" class="tk" text-anchor="middle">12W</text>
<rect x="295.80" y="905.66" width="18.45" height="41.34" class="bar"/>
<rect x="315.45" y="868.45" width="18.35" height="78.55" class="bar"/>
<circle cx="308.52" cy="914.27" r="1.35" fill="#f00"/>
<circle cx="305.02" cy="899.46" r="1.35" fill="#f00"/>
<circle cx="308.52" cy="910.62" r="1.35" fill="#f00"/>
<circle cx="305.02" cy="911.69" r="1.35" fill="#f00"/>
<circle cx="305.02" cy="904.05" r="1.35" fill="#f00"/>
<circle cx="301.52" cy="910.91" r="1.35" fill="#f00"/>
<circle cx="312.02" cy="910.93" r="1.35" fill="#f00"/>
<circle cx="312.02" cy="906.93" r="1.35" fill="#f00"/>
<circle cx="305.02" cy="909.15" r="1.35" fill="#f00"/>
<circle cx="308.52" cy="904.10" r="1.35" fill="#f00"/>
<circle cx="301.52" cy="905.76" r="1.35" fill="#f00"/>
<circle cx="298.02" cy="911.38" r="1.35" fill="#f00"/>
<rect x="323.27" y="835.41" width="2.7" height="2.7" fill="#00f"/>
<rect x="323.27" y="842.30" width="2.7" height="2.7" fill="#00f"/>
<rect x="323.27" y="885.71" width="2.7" height="2.7" fill="#00f"/>
<rect x="319.77" y="881.92" width="2.7" height="2.7" fill="#00f"/>
<rect x="323.27" y="855.39" width="2.7" height="2.7" fill="#00f"/>
<rect x="319.77" y="870.85" width="2.7" height="2.7" fill="#00f"/>
<rect x="323.27" y="879.27" width="2.7" height="2.7" fill="#00f"/>
<rect x="323.27" y="872.59" width="2.7" height="2.7" fill="#00f"/>
<rect x="326.77" y="859.95" width="2.7" height="2.7" fill="#00f"/>
<rect x="326.77" y="880.22" width="2.7" height="2.7" fill="#00f"/>
<rect x="326.77" y="869.21" width="2.7" height="2.7" fill="#00f"/>
<rect x="330.27" y="874.23" width="2.7" height="2.7" fill="#00f"/>
<rect x="330.27" y="862.62" width="2.7" height="2.7" fill="#00f"/>
<rect x="326.77" y="873.90" width="2.7" height="2.7" fill="#00f"/>
<rect x="319.77" y="866.61" width="2.7" height="2.7" fill="#00f"/>
<rect x="330.27" y="867.63" width="2.7" height="2.7" fill="#00f"/>
<rect x="323.27" y="867.68" width="2.7" height="2.7" fill="#00f"/>
<rect x="326.77" y="864.81" width="2.7" height="2.7" fill="#00f"/>
<rect x="323.27" y="859.93" width="2.7" height="2.7" fill="#00f"/>
<rect x="316.27" y="864.86" width="2.7" height="2.7" fill="#00f"/>
<rect x="323.27" y="864.18" width="2.7" height="2.7" fill="#00f"/>
<rect x="319.77" y="861.68" width="2.7" height="2.7" fill="#00f"/>
<path d="M305.02 904.19V907.13M300.52 904.19h9M300.52 907.13h9" class="eb"/>
<path d="M324.62 865.42V871.49M320.12 865.42h9M320.12 871.49h9" class="eb"/>
<text x="324.62" y="833.90" class="st" text-anchor="middle">****</text>
<path d="M58.0 808.60V947.00H344.6" class="ax" fill="none"/>
<circle cx="342.4" cy="815.5" r="1.9" fill="#f00"/>
<rect x="340.5" y="828.8" width="3.8" height="3.8" fill="#00f"/>
<text x="356.0" y="818.6" class="lg">Sham</text>
<text x="356.0" y="833.5" class="lg">TAC</text>
<text x="7.4" y="962.0" class="pl">G</text>
<text transform="translate(33.6,1037.4) rotate(-90)" class="ti" text-anchor="middle">EF (%)</text>
<line x1="53.4" y1="1106.10" x2="58.0" y2="1106.10" class="ax"/>
<text x="51.8" y="1110.10" class="tk" text-anchor="end">0</text>
<line x1="53.4" y1="1078.64" x2="58.0" y2="1078.64" class="ax"/>
<text x="51.8" y="1082.64" class="tk" text-anchor="end">20</text>
<line x1="53.4" y1="1051.18" x2="58.0" y2="1051.18" class="ax"/>
<text x="51.8" y="1055.18" class="tk" text-anchor="end">40</text>
<line x1="53.4" y1="1023.72" x2="58.0" y2="1023.72" class="ax"/>
<text x="51.8" y="1027.72" class="tk" text-anchor="end">60</text>
<line x1="53.4" y1="996.26" x2="58.0" y2="996.26" class="ax"/>
<text x="51.8" y="1000.26" class="tk" text-anchor="end">80</text>
<line x1="53.4" y1="968.80" x2="58.0" y2="968.80" class="ax"/>
<text x="51.8" y="972.80" class="tk" text-anchor="end">100</text>
<text x="86.45" y="1118.0" class="tk" text-anchor="middle">2W</text>
<rect x="67.40" y="1023.17" width="18.45" height="82.93" class="bar"/>
<rect x="87.05" y="1014.52" width="18.35" height="91.58" class="bar"/>
<circle cx="80.12" cy="1038.00" r="1.35" fill="#f00"/>
<circle cx="76.62" cy="1007.66" r="1.35" fill="#f00"/>
<circle cx="76.62" cy="1022.97" r="1.35" fill="#f00"/>
<circle cx="73.12" cy="1021.99" r="1.35" fill="#f00"/>
<circle cx="76.62" cy="1035.92" r="1.35" fill="#f00"/>
<circle cx="80.12" cy="1030.37" r="1.35" fill="#f00"/>
<circle cx="76.62" cy="1031.20" r="1.35" fill="#f00"/>
<circle cx="80.12" cy="1016.93" r="1.35" fill="#f00"/>
<circle cx="80.12" cy="1031.41" r="1.35" fill="#f00"/>
<circle cx="69.62" cy="1031.15" r="1.35" fill="#f00"/>
<circle cx="76.62" cy="1021.39" r="1.35" fill="#f00"/>
<circle cx="83.62" cy="1022.20" r="1.35" fill="#f00"/>
<circle cx="83.62" cy="1033.67" r="1.35" fill="#f00"/>
<circle cx="76.62" cy="1016.90" r="1.35" fill="#f00"/>
<circle cx="73.12" cy="1030.56" r="1.35" fill="#f00"/>
<circle cx="69.62" cy="1022.81" r="1.35" fill="#f00"/>
<circle cx="83.62" cy="1030.59" r="1.35" fill="#f00"/>
<circle cx="76.62" cy="1030.15" r="1.35" fill="#f00"/>
<circle cx="76.62" cy="1012.97" r="1.35" fill="#f00"/>
<circle cx="80.12" cy="1021.84" r="1.35" fill="#f00"/>
<circle cx="73.12" cy="1031.99" r="1.35" fill="#f00"/>
<circle cx="80.12" cy="1010.88" r="1.35" fill="#f00"/>
<rect x="94.88" y="1031.29" width="2.7" height="2.7" fill="#00f"/>
<rect x="94.88" y="986.67" width="2.7" height="2.7" fill="#00f"/>
<rect x="87.88" y="1012.85" width="2.7" height="2.7" fill="#00f"/>
<rect x="94.88" y="1007.95" width="2.7" height="2.7" fill="#00f"/>
<rect x="94.88" y="995.00" width="2.7" height="2.7" fill="#00f"/>
<rect x="101.88" y="1015.47" width="2.7" height="2.7" fill="#00f"/>
<rect x="91.38" y="1014.83" width="2.7" height="2.7" fill="#00f"/>
<rect x="94.88" y="991.38" width="2.7" height="2.7" fill="#00f"/>
<rect x="101.88" y="992.41" width="2.7" height="2.7" fill="#00f"/>
<rect x="98.38" y="995.02" width="2.7" height="2.7" fill="#00f"/>
<rect x="87.88" y="1010.56" width="2.7" height="2.7" fill="#00f"/>
<rect x="98.38" y="991.54" width="2.7" height="2.7" fill="#00f"/>
<rect x="101.88" y="1012.81" width="2.7" height="2.7" fill="#00f"/>
<rect x="94.88" y="1014.43" width="2.7" height="2.7" fill="#00f"/>
<rect x="98.38" y="1026.28" width="2.7" height="2.7" fill="#00f"/>
<rect x="98.38" y="1010.87" width="2.7" height="2.7" fill="#00f"/>
<rect x="87.88" y="1020.68" width="2.7" height="2.7" fill="#00f"/>
<rect x="91.38" y="997.88" width="2.7" height="2.7" fill="#00f"/>
<rect x="94.88" y="1003.63" width="2.7" height="2.7" fill="#00f"/>
<rect x="87.88" y="993.55" width="2.7" height="2.7" fill="#00f"/>
<rect x="94.88" y="1027.68" width="2.7" height="2.7" fill="#00f"/>
<rect x="91.38" y="1018.39" width="2.7" height="2.7" fill="#00f"/>
<rect x="94.88" y="1018.08" width="2.7" height="2.7" fill="#00f"/>
<rect x="91.38" y="991.94" width="2.7" height="2.7" fill="#00f"/>
<rect x="101.88" y="1019.00" width="2.7" height="2.7" fill="#00f"/>
<rect x="94.88" y="1011.65" width="2.7" height="2.7" fill="#00f"/>
<rect x="98.38" y="1017.52" width="2.7" height="2.7" fill="#00f"/>
<rect x="98.38" y="1007.09" width="2.7" height="2.7" fill="#00f"/>
<rect x="101.88" y="1008.57" width="2.7" height="2.7" fill="#00f"/>
<rect x="91.38" y="1008.43" width="2.7" height="2.7" fill="#00f"/>
<rect x="91.38" y="1011.79" width="2.7" height="2.7" fill="#00f"/>
<rect x="94.88" y="1023.10" width="2.7" height="2.7" fill="#00f"/>
<rect x="98.38" y="1020.99" width="2.7" height="2.7" fill="#00f"/>
<rect x="98.38" y="1013.16" width="2.7" height="2.7" fill="#00f"/>
<path d="M76.62 1021.03V1025.31M72.12 1021.03h9M72.12 1025.31h9" class="eb"/>
<path d="M96.22 1012.09V1016.95M91.72 1012.09h9M91.72 1016.95h9" class="eb"/>
<text x="96.22" y="987.00" class="st" text-anchor="middle">**</text>
<text x="143.55" y="1118.0" class="tk" text-anchor="middle">4W</text>
<rect x="124.50" y="1023.17" width="18.45" height="82.93" class="bar"/>
<rect x="144.15" y="1030.59" width="18.35" height="75.51" class="bar"/>
<circle cx="133.73" cy="1034.29" r="1.35" fill="#f00"/>
<circle cx="133.73" cy="1008.75" r="1.35" fill="#f00"/>
<circle cx="133.73" cy="1025.98" r="1.35" fill="#f00"/>
<circle cx="133.73" cy="1021.68" r="1.35" fill="#f00"/>
<circle cx="137.23" cy="1019.00" r="1.35" fill="#f00"/>
<circle cx="133.73" cy="1018.07" r="1.35" fill="#f00"/>
<circle cx="130.23" cy="1019.08" r="1.35" fill="#f00"/>
<circle cx="140.73" cy="1020.42" r="1.35" fill="#f00"/>
<circle cx="140.73" cy="1022.24" r="1.35" fill="#f00"/>
<circle cx="137.23" cy="1026.00" r="1.35" fill="#f00"/>
<circle cx="130.23" cy="1022.15" r="1.35" fill="#f00"/>
<circle cx="126.73" cy="1021.10" r="1.35" fill="#f00"/>
<circle cx="126.73" cy="1024.28" r="1.35" fill="#f00"/>
<circle cx="130.23" cy="1027.53" r="1.35" fill="#f00"/>
<circle cx="137.23" cy="1021.72" r="1.35" fill="#f00"/>
<rect x="151.97" y="1059.99" width="2.7" height="2.7" fill="#00f"/>
<rect x="151.97" y="992.16" width="2.7" height="2.7" fill="#00f"/>
<rect x="151.97" y="997.77" width="2.7" height="2.7" fill="#00f"/>
<rect x="151.97" y="1016.10" width="2.7" height="2.7" fill="#00f"/>
<rect x="151.97" y="1048.19" width="2.7" height="2.7" fill="#00f"/>
<rect x="151.97" y="1029.74" width="2.7" height="2.7" fill="#00f"/>
<rect x="155.47" y="1031.54" width="2.7" height="2.7" fill="#00f"/>
<rect x="155.47" y="1017.96" width="2.7" height="2.7" fill="#00f"/>
<rect x="151.97" y="1038.32" width="2.7" height="2.7" fill="#00f"/>
<rect x="155.47" y="1011.51" width="2.7" height="2.7" fill="#00f"/>
<rect x="158.97" y="1033.48" width="2.7" height="2.7" fill="#00f"/>
<rect x="151.97" y="1020.74" width="2.7" height="2.7" fill="#00f"/>
<rect x="155.47" y="1004.71" width="2.7" height="2.7" fill="#00f"/>
<rect x="151.97" y="1024.99" width="2.7" height="2.7" fill="#00f"/>
<rect x="151.97" y="1011.23" width="2.7" height="2.7" fill="#00f"/>
<rect x="155.47" y="1027.59" width="2.7" height="2.7" fill="#00f"/>
<rect x="148.47" y="1013.35" width="2.7" height="2.7" fill="#00f"/>
<rect x="155.47" y="1048.83" width="2.7" height="2.7" fill="#00f"/>
<rect x="151.97" y="1056.33" width="2.7" height="2.7" fill="#00f"/>
<rect x="148.47" y="1020.84" width="2.7" height="2.7" fill="#00f"/>
<rect x="155.47" y="997.83" width="2.7" height="2.7" fill="#00f"/>
<rect x="148.47" y="1031.09" width="2.7" height="2.7" fill="#00f"/>
<rect x="151.97" y="1003.32" width="2.7" height="2.7" fill="#00f"/>
<rect x="151.97" y="1033.43" width="2.7" height="2.7" fill="#00f"/>
<path d="M133.73 1021.45V1024.89M129.23 1021.45h9M129.23 1024.89h9" class="eb"/>
<path d="M153.32 1026.07V1035.10M148.82 1026.07h9M148.82 1035.10h9" class="eb"/>
<text x="200.65" y="1118.0" class="tk" text-anchor="middle">6W</text>
<rect x="181.60" y="1023.31" width="18.45" height="82.79" class="bar"/>
<rect x="201.25" y="1033.19" width="18.35" height="72.91" class="bar"/>
<circle cx="190.83" cy="1034.70" r="1.35" fill="#f00"/>
<circle cx="190.83" cy="1011.64" r="1.35" fill="#f00"/>
<circle cx="197.83" cy="1024.04" r="1.35" fill="#f00"/>
<circle cx="197.83" cy="1027.47" r="1.35" fill="#f00"/>
<circle cx="194.33" cy="1022.58" r="1.35" fill="#f00"/>
<circle cx="190.83" cy="1025.50" r="1.35" fill="#f00"/>
<circle cx="190.83" cy="1015.91" r="1.35" fill="#f00"/>
<circle cx="183.83" cy="1024.33" r="1.35" fill="#f00"/>
<circle cx="194.33" cy="1025.76" r="1.35" fill="#f00"/>
<circle cx="190.83" cy="1022.33" r="1.35" fill="#f00"/>
<circle cx="187.33" cy="1031.73" r="1.35" fill="#f00"/>
<circle cx="187.33" cy="1026.83" r="1.35" fill="#f00"/>
<circle cx="194.33" cy="1016.15" r="1.35" fill="#f00"/>
<circle cx="190.83" cy="1029.31" r="1.35" fill="#f00"/>
<circle cx="187.33" cy="1016.54" r="1.35" fill="#f00"/>
<circle cx="194.33" cy="1031.17" r="1.35" fill="#f00"/>
<circle cx="187.33" cy="1023.23" r="1.35" fill="#f00"/>
<circle cx="197.83" cy="1017.49" r="1.35" fill="#f00"/>
<rect x="209.08" y="1078.80" width="2.7" height="2.7" fill="#00f"/>
<rect x="209.08" y="1070.42" width="2.7" height="2.7" fill="#00f"/>
<rect x="209.08" y="1059.44" width="2.7" height="2.7" fill="#00f"/>
<rect x="209.08" y="1042.96" width="2.7" height="2.7" fill="#00f"/>
<rect x="209.08" y="1008.64" width="2.7" height="2.7" fill="#00f"/>
<rect x="212.58" y="1010.41" width="2.7" height="2.7" fill="#00f"/>
<rect x="212.58" y="1025.27" width="2.7" height="2.7" fill="#00f"/>
<rect x="212.58" y="1029.22" width="2.7" height="2.7" fill="#00f"/>
<rect x="202.08" y="1026.61" width="2.7" height="2.7" fill="#00f"/>
<rect x="212.58" y="1015.08" width="2.7" height="2.7" fill="#00f"/>
<rect x="209.08" y="1025.02" width="2.7" height="2.7" fill="#00f"/>
<rect x="209.08" y="1030.96" width="2.7" height="2.7" fill="#00f"/>
<rect x="209.08" y="1027.33" width="2.7" height="2.7" fill="#00f"/>
<rect x="209.08" y="1014.07" width="2.7" height="2.7" fill="#00f"/>
<rect x="216.08" y="1026.21" width="2.7" height="2.7" fill="#00f"/>
<rect x="205.58" y="1025.93" width="2.7" height="2.7" fill="#00f"/>
<rect x="205.58" y="1030.64" width="2.7" height="2.7" fill="#00f"/>
<rect x="216.08" y="1016.04" width="2.7" height="2.7" fill="#00f"/>
<rect x="216.08" y="1031.95" width="2.7" height="2.7" fill="#00f"/>
<rect x="205.58" y="1015.73" width="2.7" height="2.7" fill="#00f"/>
<rect x="209.08" y="1037.83" width="2.7" height="2.7" fill="#00f"/>
<rect x="209.08" y="1019.94" width="2.7" height="2.7" fill="#00f"/>
<path d="M190.83 1021.54V1025.07M186.33 1021.54h9M186.33 1025.07h9" class="eb"/>
<path d="M210.43 1028.51V1037.87M205.93 1028.51h9M205.93 1037.87h9" class="eb"/>
<text x="210.43" y="1008.50" class="st" text-anchor="middle">*</text>
<text x="257.75" y="1118.0" class="tk" text-anchor="middle">8W</text>
<rect x="238.70" y="1023.17" width="18.45" height="82.93" class="bar"/>
<rect x="258.35" y="1042.67" width="18.35" height="63.43" class="bar"/>
<circle cx="251.43" cy="1040.20" r="1.35" fill="#f00"/>
<circle cx="247.93" cy="1009.72" r="1.35" fill="#f00"/>
<circle cx="254.93" cy="1011.51" r="1.35" fill="#f00"/>
<circle cx="247.93" cy="1027.13" r="1.35" fill="#f00"/>
<circle cx="240.93" cy="1027.93" r="1.35" fill="#f00"/>
<circle cx="251.43" cy="1024.82" r="1.35" fill="#f00"/>
<circle cx="251.43" cy="1030.47" r="1.35" fill="#f00"/>
<circle cx="254.93" cy="1022.13" r="1.35" fill="#f00"/>
<circle cx="251.43" cy="1011.32" r="1.35" fill="#f00"/>
<circle cx="247.93" cy="1037.51" r="1.35" fill="#f00"/>
<circle cx="247.93" cy="1019.05" r="1.35" fill="#f00"/>
<circle cx="251.43" cy="1020.98" r="1.35" fill="#f00"/>
<circle cx="254.93" cy="1027.63" r="1.35" fill="#f00"/>
<circle cx="247.93" cy="1022.59" r="1.35" fill="#f00"/>
<circle cx="244.43" cy="1033.28" r="1.35" fill="#f00"/>
<circle cx="240.93" cy="1023.49" r="1.35" fill="#f00"/>
<circle cx="244.43" cy="1021.75" r="1.35" fill="#f00"/>
<circle cx="244.43" cy="1011.32" r="1.35" fill="#f00"/>
<circle cx="244.43" cy="1027.39" r="1.35" fill="#f00"/>
<circle cx="247.93" cy="1031.18" r="1.35" fill="#f00"/>
<rect x="266.18" y="1073.99" width="2.7" height="2.7" fill="#00f"/>
<rect x="266.18" y="1013.72" width="2.7" height="2.7" fill="#00f"/>
<rect x="269.68" y="1065.20" width="2.7" height="2.7" fill="#00f"/>
<rect x="269.68" y="1055.67" width="2.7" height="2.7" fill="#00f"/>
<rect x="269.68" y="1026.33" width="2.7" height="2.7" fill="#00f"/>
<rect x="266.18" y="1027.23" width="2.7" height="2.7" fill="#00f"/>
<rect x="266.18" y="1069.03" width="2.7" height="2.7" fill="#00f"/>
<rect x="273.18" y="1053.47" width="2.7" height="2.7" fill="#00f"/>
<rect x="269.68" y="1051.79" width="2.7" height="2.7" fill="#00f"/>
<rect x="266.18" y="1051.08" width="2.7" height="2.7" fill="#00f"/>
<rect x="262.68" y="1026.37" width="2.7" height="2.7" fill="#00f"/>
<rect x="262.68" y="1052.05" width="2.7" height="2.7" fill="#00f"/>
<rect x="269.68" y="1046.43" width="2.7" height="2.7" fill="#00f"/>
<rect x="259.18" y="1027.21" width="2.7" height="2.7" fill="#00f"/>
<rect x="269.68" y="1018.92" width="2.7" height="2.7" fill="#00f"/>
<rect x="266.18" y="1038.86" width="2.7" height="2.7" fill="#00f"/>
<rect x="266.18" y="1064.69" width="2.7" height="2.7" fill="#00f"/>
<rect x="266.18" y="1024.62" width="2.7" height="2.7" fill="#00f"/>
<rect x="273.18" y="1026.69" width="2.7" height="2.7" fill="#00f"/>
<rect x="259.18" y="1054.51" width="2.7" height="2.7" fill="#00f"/>
<rect x="266.18" y="1018.90" width="2.7" height="2.7" fill="#00f"/>
<rect x="262.68" y="1019.46" width="2.7" height="2.7" fill="#00f"/>
<rect x="266.18" y="1046.29" width="2.7" height="2.7" fill="#00f"/>
<rect x="262.68" y="1058.97" width="2.7" height="2.7" fill="#00f"/>
<rect x="262.68" y="1028.12" width="2.7" height="2.7" fill="#00f"/>
<rect x="269.68" y="1027.98" width="2.7" height="2.7" fill="#00f"/>
<rect x="266.18" y="1055.51" width="2.7" height="2.7" fill="#00f"/>
<path d="M247.93 1020.87V1025.47M243.43 1020.87h9M243.43 1025.47h9" class="eb"/>
<path d="M267.53 1038.54V1046.79M263.03 1038.54h9M263.03 1046.79h9" class="eb"/>
<text x="267.53" y="1013.30" class="st" text-anchor="middle">****</text>
<text x="314.85" y="1118.0" class="tk" text-anchor="middle">12W</text>
<rect x="295.80" y="1024.27" width="18.45" height="81.83" class="bar"/>
<rect x="315.45" y="1061.34" width="18.35" height="44.76" class="bar"/>
<circle cx="305.02" cy="1042.94" r="1.35" fill="#f00"/>
<circle cx="305.02" cy="1004.64" r="1.35" fill="#f00"/>
<circle cx="305.02" cy="1031.39" r="1.35" fill="#f00"/>
<circle cx="298.02" cy="1031.00" r="1.35" fill="#f00"/>
<circle cx="308.52" cy="1037.07" r="1.35" fill="#f00"/>
<circle cx="305.02" cy="1027.73" r="1.35" fill="#f00"/>
<circle cx="305.02" cy="1036.10" r="1.35" fill="#f00"/>
<circle cx="305.02" cy="1016.08" r="1.35" fill="#f00"/>
<circle cx="312.02" cy="1029.71" r="1.35" fill="#f00"/>
<circle cx="308.52" cy="1028.70" r="1.35" fill="#f00"/>
<circle cx="301.52" cy="1037.94" r="1.35" fill="#f00"/>
<circle cx="301.52" cy="1029.26" r="1.35" fill="#f00"/>
<rect x="323.27" y="1102.69" width="2.7" height="2.7" fill="#00f"/>
<rect x="323.27" y="1022.37" width="2.7" height="2.7" fill="#00f"/>
<rect x="323.27" y="1052.18" width="2.7" height="2.7" fill="#00f"/>
<rect x="323.27" y="1072.28" width="2.7" height="2.7" fill="#00f"/>
<rect x="319.77" y="1089.44" width="2.7" height="2.7" fill="#00f"/>
<rect x="323.27" y="1044.61" width="2.7" height="2.7" fill="#00f"/>
<rect x="326.77" y="1087.16" width="2.7" height="2.7" fill="#00f"/>
<rect x="326.77" y="1051.33" width="2.7" height="2.7" fill="#00f"/>
<rect x="323.27" y="1033.58" width="2.7" height="2.7" fill="#00f"/>
<rect x="326.77" y="1034.55" width="2.7" height="2.7" fill="#00f"/>
<rect x="326.77" y="1082.25" width="2.7" height="2.7" fill="#00f"/>
<rect x="323.27" y="1089.21" width="2.7" height="2.7" fill="#00f"/>
<rect x="323.27" y="1079.82" width="2.7" height="2.7" fill="#00f"/>
<rect x="323.27" y="1056.20" width="2.7" height="2.7" fill="#00f"/>
<rect x="326.77" y="1073.63" width="2.7" height="2.7" fill="#00f"/>
<rect x="319.77" y="1083.31" width="2.7" height="2.7" fill="#00f"/>
<rect x="330.27" y="1089.80" width="2.7" height="2.7" fill="#00f"/>
<rect x="326.77" y="1059.45" width="2.7" height="2.7" fill="#00f"/>
<rect x="323.27" y="1048.63" width="2.7" height="2.7" fill="#00f"/>
<rect x="319.77" y="1054.54" width="2.7" height="2.7" fill="#00f"/>
<rect x="323.27" y="1076.21" width="2.7" height="2.7" fill="#00f"/>
<rect x="323.27" y="1085.51" width="2.7" height="2.7" fill="#00f"/>
<path d="M305.02 1020.71V1027.83M300.52 1020.71h9M300.52 1027.83h9" class="eb"/>
<path d="M324.62 1055.71V1066.97M320.12 1055.71h9M320.12 1066.97h9" class="eb"/>
<text x="324.62" y="1022.50" class="st" text-anchor="middle">****</text>
<path d="M58.0 968.20V1106.10H344.6" class="ax" fill="none"/>
<circle cx="342.4" cy="975.1" r="1.9" fill="#f00"/>
<rect x="340.5" y="988.4" width="3.8" height="3.8" fill="#00f"/>
<text x="356.0" y="978.2" class="lg">Sham</text>
<text x="356.0" y="993.1" class="lg">TAC</text>
<text x="395.6" y="163.8" class="pl">H</text>
<text transform="translate(418.0,233.3) rotate(-90)" class="ti" text-anchor="middle">FS (%)</text>
<line x1="437.8" y1="302.00" x2="442.4" y2="302.00" class="ax"/>
<text x="436.2" y="306.00" class="tk" text-anchor="end">0</text>
<line x1="437.8" y1="279.12" x2="442.4" y2="279.12" class="ax"/>
<text x="436.2" y="283.12" class="tk" text-anchor="end">10</text>
<line x1="437.8" y1="256.23" x2="442.4" y2="256.23" class="ax"/>
<text x="436.2" y="260.23" class="tk" text-anchor="end">20</text>
<line x1="437.8" y1="233.35" x2="442.4" y2="233.35" class="ax"/>
<text x="436.2" y="237.35" class="tk" text-anchor="end">30</text>
<line x1="437.8" y1="210.47" x2="442.4" y2="210.47" class="ax"/>
<text x="436.2" y="214.47" class="tk" text-anchor="end">40</text>
<line x1="437.8" y1="187.58" x2="442.4" y2="187.58" class="ax"/>
<text x="436.2" y="191.58" class="tk" text-anchor="end">50</text>
<line x1="437.8" y1="164.70" x2="442.4" y2="164.70" class="ax"/>
<text x="436.2" y="168.70" class="tk" text-anchor="end">60</text>
<text x="470.85" y="313.9" class="tk" text-anchor="middle">2W</text>
<rect x="451.80" y="228.32" width="18.45" height="73.68" class="bar"/>
<rect x="471.45" y="218.02" width="18.35" height="83.98" class="bar"/>
<circle cx="461.02" cy="245.71" r="1.35" fill="#f00"/>
<circle cx="461.02" cy="209.78" r="1.35" fill="#f00"/>
<circle cx="461.02" cy="219.74" r="1.35" fill="#f00"/>
<circle cx="457.52" cy="224.77" r="1.35" fill="#f00"/>
<circle cx="454.02" cy="226.86" r="1.35" fill="#f00"/>
<circle cx="461.02" cy="228.02" r="1.35" fill="#f00"/>
<circle cx="464.52" cy="239.29" r="1.35" fill="#f00"/>
<circle cx="464.52" cy="233.81" r="1.35" fill="#f00"/>
<circle cx="461.02" cy="223.52" r="1.35" fill="#f00"/>
<circle cx="464.52" cy="229.83" r="1.35" fill="#f00"/>
<circle cx="457.52" cy="218.85" r="1.35" fill="#f00"/>
<circle cx="461.02" cy="216.06" r="1.35" fill="#f00"/>
<circle cx="468.02" cy="232.56" r="1.35" fill="#f00"/>
<circle cx="464.52" cy="224.39" r="1.35" fill="#f00"/>
<circle cx="457.52" cy="232.55" r="1.35" fill="#f00"/>
<circle cx="468.02" cy="224.85" r="1.35" fill="#f00"/>
<circle cx="454.02" cy="235.88" r="1.35" fill="#f00"/>
<circle cx="461.02" cy="232.53" r="1.35" fill="#f00"/>
<circle cx="461.02" cy="238.04" r="1.35" fill="#f00"/>
<circle cx="464.52" cy="217.41" r="1.35" fill="#f00"/>
<circle cx="468.02" cy="220.87" r="1.35" fill="#f00"/>
<circle cx="457.52" cy="240.71" r="1.35" fill="#f00"/>
<rect x="482.77" y="240.24" width="2.7" height="2.7" fill="#00f"/>
<rect x="479.27" y="177.08" width="2.7" height="2.7" fill="#00f"/>
<rect x="472.27" y="223.07" width="2.7" height="2.7" fill="#00f"/>
<rect x="482.77" y="216.43" width="2.7" height="2.7" fill="#00f"/>
<rect x="479.27" y="218.72" width="2.7" height="2.7" fill="#00f"/>
<rect x="479.27" y="226.87" width="2.7" height="2.7" fill="#00f"/>
<rect x="475.77" y="204.67" width="2.7" height="2.7" fill="#00f"/>
<rect x="479.27" y="222.60" width="2.7" height="2.7" fill="#00f"/>
<rect x="486.27" y="205.17" width="2.7" height="2.7" fill="#00f"/>
<rect x="479.27" y="239.04" width="2.7" height="2.7" fill="#00f"/>
<rect x="472.27" y="192.94" width="2.7" height="2.7" fill="#00f"/>
<rect x="482.77" y="232.24" width="2.7" height="2.7" fill="#00f"/>
<rect x="479.27" y="202.55" width="2.7" height="2.7" fill="#00f"/>
<rect x="482.77" y="221.16" width="2.7" height="2.7" fill="#00f"/>
<rect x="482.77" y="199.92" width="2.7" height="2.7" fill="#00f"/>
<rect x="486.27" y="191.70" width="2.7" height="2.7" fill="#00f"/>
<rect x="479.27" y="232.18" width="2.7" height="2.7" fill="#00f"/>
<rect x="479.27" y="214.70" width="2.7" height="2.7" fill="#00f"/>
<rect x="482.77" y="189.97" width="2.7" height="2.7" fill="#00f"/>
<rect x="482.77" y="228.67" width="2.7" height="2.7" fill="#00f"/>
<rect x="486.27" y="212.98" width="2.7" height="2.7" fill="#00f"/>
<rect x="479.27" y="197.77" width="2.7" height="2.7" fill="#00f"/>
<rect x="479.27" y="189.90" width="2.7" height="2.7" fill="#00f"/>
<rect x="482.77" y="211.34" width="2.7" height="2.7" fill="#00f"/>
<rect x="482.77" y="204.55" width="2.7" height="2.7" fill="#00f"/>
<rect x="475.77" y="212.01" width="2.7" height="2.7" fill="#00f"/>
<rect x="475.77" y="229.82" width="2.7" height="2.7" fill="#00f"/>
<rect x="475.77" y="234.60" width="2.7" height="2.7" fill="#00f"/>
<rect x="475.77" y="191.28" width="2.7" height="2.7" fill="#00f"/>
<rect x="479.27" y="210.76" width="2.7" height="2.7" fill="#00f"/>
<rect x="475.77" y="200.84" width="2.7" height="2.7" fill="#00f"/>
<rect x="475.77" y="222.89" width="2.7" height="2.7" fill="#00f"/>
<rect x="475.77" y="217.16" width="2.7" height="2.7" fill="#00f"/>
<rect x="486.27" y="222.92" width="2.7" height="2.7" fill="#00f"/>
<path d="M461.02 226.01V230.62M456.52 226.01h9M456.52 230.62h9" class="eb"/>
<path d="M480.62 214.73V221.31M476.12 214.73h9M476.12 221.31h9" class="eb"/>
<text x="480.62" y="177.20" class="st" text-anchor="middle">**</text>
<text x="527.95" y="313.9" class="tk" text-anchor="middle">4W</text>
<rect x="508.90" y="227.40" width="18.45" height="74.60" class="bar"/>
<rect x="528.55" y="236.32" width="18.35" height="65.68" class="bar"/>
<circle cx="518.12" cy="241.59" r="1.35" fill="#f00"/>
<circle cx="518.12" cy="210.92" r="1.35" fill="#f00"/>
<circle cx="518.12" cy="233.88" r="1.35" fill="#f00"/>
<circle cx="518.12" cy="221.56" r="1.35" fill="#f00"/>
<circle cx="521.62" cy="231.33" r="1.35" fill="#f00"/>
<circle cx="521.62" cy="227.77" r="1.35" fill="#f00"/>
<circle cx="518.12" cy="230.36" r="1.35" fill="#f00"/>
<circle cx="521.62" cy="218.56" r="1.35" fill="#f00"/>
<circle cx="518.12" cy="225.78" r="1.35" fill="#f00"/>
<circle cx="525.12" cy="220.58" r="1.35" fill="#f00"/>
<circle cx="514.62" cy="219.07" r="1.35" fill="#f00"/>
<circle cx="521.62" cy="223.90" r="1.35" fill="#f00"/>
<circle cx="514.62" cy="227.33" r="1.35" fill="#f00"/>
<circle cx="518.12" cy="217.12" r="1.35" fill="#f00"/>
<circle cx="525.12" cy="230.37" r="1.35" fill="#f00"/>
<rect x="536.37" y="261.06" width="2.7" height="2.7" fill="#00f"/>
<rect x="536.37" y="188.06" width="2.7" height="2.7" fill="#00f"/>
<rect x="543.37" y="241.23" width="2.7" height="2.7" fill="#00f"/>
<rect x="536.37" y="237.93" width="2.7" height="2.7" fill="#00f"/>
<rect x="539.87" y="220.03" width="2.7" height="2.7" fill="#00f"/>
<rect x="536.37" y="246.39" width="2.7" height="2.7" fill="#00f"/>
<rect x="539.87" y="230.72" width="2.7" height="2.7" fill="#00f"/>
<rect x="539.87" y="243.17" width="2.7" height="2.7" fill="#00f"/>
<rect x="536.37" y="256.52" width="2.7" height="2.7" fill="#00f"/>
<rect x="536.37" y="208.11" width="2.7" height="2.7" fill="#00f"/>
<rect x="536.37" y="219.19" width="2.7" height="2.7" fill="#00f"/>
<rect x="532.87" y="220.38" width="2.7" height="2.7" fill="#00f"/>
<rect x="536.37" y="229.90" width="2.7" height="2.7" fill="#00f"/>
<rect x="536.37" y="242.05" width="2.7" height="2.7" fill="#00f"/>
<rect x="539.87" y="256.87" width="2.7" height="2.7" fill="#00f"/>
<rect x="536.37" y="215.07" width="2.7" height="2.7" fill="#00f"/>
<rect x="536.37" y="195.97" width="2.7" height="2.7" fill="#00f"/>
<rect x="532.87" y="240.89" width="2.7" height="2.7" fill="#00f"/>
<rect x="532.87" y="244.81" width="2.7" height="2.7" fill="#00f"/>
<rect x="532.87" y="215.86" width="2.7" height="2.7" fill="#00f"/>
<rect x="539.87" y="237.94" width="2.7" height="2.7" fill="#00f"/>
<rect x="536.37" y="223.27" width="2.7" height="2.7" fill="#00f"/>
<rect x="539.87" y="196.53" width="2.7" height="2.7" fill="#00f"/>
<rect x="539.87" y="215.22" width="2.7" height="2.7" fill="#00f"/>
<path d="M518.12 225.01V229.79M513.62 225.01h9M513.62 229.79h9" class="eb"/>
<path d="M537.72 231.47V241.18M533.22 231.47h9M533.22 241.18h9" class="eb"/>
<text x="585.05" y="313.9" class="tk" text-anchor="middle">6W</text>
<rect x="566.00" y="224.20" width="18.45" height="77.80" class="bar"/>
<rect x="585.65" y="239.30" width="18.35" height="62.70" class="bar"/>
<circle cx="575.22" cy="245.71" r="1.35" fill="#f00"/>
<circle cx="575.22" cy="210.92" r="1.35" fill="#f00"/>
<circle cx="578.72" cy="220.73" r="1.35" fill="#f00"/>
<circle cx="582.22" cy="233.96" r="1.35" fill="#f00"/>
<circle cx="571.72" cy="233.95" r="1.35" fill="#f00"/>
<circle cx="578.72" cy="225.40" r="1.35" fill="#f00"/>
<circle cx="575.22" cy="219.75" r="1.35" fill="#f00"/>
<circle cx="578.72" cy="240.15" r="1.35" fill="#f00"/>
<circle cx="575.22" cy="224.30" r="1.35" fill="#f00"/>
<circle cx="571.72" cy="221.88" r="1.35" fill="#f00"/>
<circle cx="578.72" cy="214.39" r="1.35" fill="#f00"/>
<circle cx="575.22" cy="228.33" r="1.35" fill="#f00"/>
<circle cx="578.72" cy="230.74" r="1.35" fill="#f00"/>
<circle cx="582.22" cy="241.46" r="1.35" fill="#f00"/>
<circle cx="575.22" cy="238.85" r="1.35" fill="#f00"/>
<circle cx="575.22" cy="214.66" r="1.35" fill="#f00"/>
<circle cx="571.72" cy="240.24" r="1.35" fill="#f00"/>
<circle cx="575.22" cy="233.76" r="1.35" fill="#f00"/>
<rect x="593.48" y="283.03" width="2.7" height="2.7" fill="#00f"/>
<rect x="593.48" y="273.19" width="2.7" height="2.7" fill="#00f"/>
<rect x="593.48" y="261.75" width="2.7" height="2.7" fill="#00f"/>
<rect x="593.48" y="250.31" width="2.7" height="2.7" fill="#00f"/>
<rect x="593.48" y="208.43" width="2.7" height="2.7" fill="#00f"/>
<rect x="596.98" y="248.11" width="2.7" height="2.7" fill="#00f"/>
<rect x="596.98" y="215.98" width="2.7" height="2.7" fill="#00f"/>
<rect x="596.98" y="232.18" width="2.7" height="2.7" fill="#00f"/>
<rect x="593.48" y="228.88" width="2.7" height="2.7" fill="#00f"/>
<rect x="589.98" y="232.34" width="2.7" height="2.7" fill="#00f"/>
<rect x="586.48" y="234.77" width="2.7" height="2.7" fill="#00f"/>
<rect x="589.98" y="217.08" width="2.7" height="2.7" fill="#00f"/>
<rect x="593.48" y="242.01" width="2.7" height="2.7" fill="#00f"/>
<rect x="600.48" y="234.67" width="2.7" height="2.7" fill="#00f"/>
<rect x="596.98" y="235.09" width="2.7" height="2.7" fill="#00f"/>
<rect x="596.98" y="243.67" width="2.7" height="2.7" fill="#00f"/>
<rect x="593.48" y="234.26" width="2.7" height="2.7" fill="#00f"/>
<rect x="593.48" y="213.96" width="2.7" height="2.7" fill="#00f"/>
<rect x="596.98" y="211.49" width="2.7" height="2.7" fill="#00f"/>
<rect x="593.48" y="224.85" width="2.7" height="2.7" fill="#00f"/>
<rect x="593.48" y="245.95" width="2.7" height="2.7" fill="#00f"/>
<rect x="596.98" y="225.25" width="2.7" height="2.7" fill="#00f"/>
<path d="M575.22 221.25V227.14M570.72 221.25h9M570.72 227.14h9" class="eb"/>
<path d="M594.83 234.39V244.21M590.33 234.39h9M590.33 244.21h9" class="eb"/>
<text x="594.83" y="207.10" class="st" text-anchor="middle">**</text>
<text x="642.15" y="313.9" class="tk" text-anchor="middle">8W</text>
<rect x="623.10" y="226.26" width="18.45" height="75.74" class="bar"/>
<rect x="642.75" y="249.37" width="18.35" height="52.63" class="bar"/>
<circle cx="632.32" cy="247.77" r="1.35" fill="#f00"/>
<circle cx="632.32" cy="204.97" r="1.35" fill="#f00"/>
<circle cx="632.32" cy="224.74" r="1.35" fill="#f00"/>
<circle cx="639.32" cy="227.11" r="1.35" fill="#f00"/>
<circle cx="632.32" cy="234.10" r="1.35" fill="#f00"/>
<circle cx="632.32" cy="215.20" r="1.35" fill="#f00"/>
<circle cx="635.82" cy="234.58" r="1.35" fill="#f00"/>
<circle cx="632.32" cy="228.40" r="1.35" fill="#f00"/>
<circle cx="632.32" cy="222.56" r="1.35" fill="#f00"/>
<circle cx="628.82" cy="224.51" r="1.35" fill="#f00"/>
<circle cx="635.82" cy="225.66" r="1.35" fill="#f00"/>
<circle cx="635.82" cy="230.36" r="1.35" fill="#f00"/>
<circle cx="628.82" cy="234.88" r="1.35" fill="#f00"/>
<circle cx="639.32" cy="224.52" r="1.35" fill="#f00"/>
<circle cx="635.82" cy="216.18" r="1.35" fill="#f00"/>
<circle cx="632.32" cy="238.42" r="1.35" fill="#f00"/>
<circle cx="639.32" cy="235.94" r="1.35" fill="#f00"/>
<circle cx="635.82" cy="224.29" r="1.35" fill="#f00"/>
<circle cx="625.32" cy="224.70" r="1.35" fill="#f00"/>
<circle cx="628.82" cy="226.03" r="1.35" fill="#f00"/>
<rect x="650.57" y="277.08" width="2.7" height="2.7" fill="#00f"/>
<rect x="650.57" y="219.87" width="2.7" height="2.7" fill="#00f"/>
<rect x="650.57" y="270.09" width="2.7" height="2.7" fill="#00f"/>
<rect x="650.57" y="266.03" width="2.7" height="2.7" fill="#00f"/>
<rect x="650.57" y="234.70" width="2.7" height="2.7" fill="#00f"/>
<rect x="657.57" y="237.43" width="2.7" height="2.7" fill="#00f"/>
<rect x="647.07" y="268.32" width="2.7" height="2.7" fill="#00f"/>
<rect x="647.07" y="237.07" width="2.7" height="2.7" fill="#00f"/>
<rect x="654.07" y="236.41" width="2.7" height="2.7" fill="#00f"/>
<rect x="650.57" y="260.21" width="2.7" height="2.7" fill="#00f"/>
<rect x="650.57" y="245.23" width="2.7" height="2.7" fill="#00f"/>
<rect x="654.07" y="267.18" width="2.7" height="2.7" fill="#00f"/>
<rect x="654.07" y="271.26" width="2.7" height="2.7" fill="#00f"/>
<rect x="654.07" y="252.20" width="2.7" height="2.7" fill="#00f"/>
<rect x="657.57" y="245.43" width="2.7" height="2.7" fill="#00f"/>
<rect x="657.57" y="254.75" width="2.7" height="2.7" fill="#00f"/>
<rect x="647.07" y="252.29" width="2.7" height="2.7" fill="#00f"/>
<rect x="647.07" y="242.24" width="2.7" height="2.7" fill="#00f"/>
<rect x="654.07" y="245.23" width="2.7" height="2.7" fill="#00f"/>
<rect x="650.57" y="229.39" width="2.7" height="2.7" fill="#00f"/>
<rect x="654.07" y="240.12" width="2.7" height="2.7" fill="#00f"/>
<rect x="650.57" y="239.38" width="2.7" height="2.7" fill="#00f"/>
<rect x="654.07" y="231.71" width="2.7" height="2.7" fill="#00f"/>
<rect x="650.57" y="252.18" width="2.7" height="2.7" fill="#00f"/>
<rect x="650.57" y="225.41" width="2.7" height="2.7" fill="#00f"/>
<rect x="647.07" y="271.98" width="2.7" height="2.7" fill="#00f"/>
<rect x="657.57" y="269.09" width="2.7" height="2.7" fill="#00f"/>
<path d="M632.32 223.78V228.73M627.82 223.78h9M627.82 228.73h9" class="eb"/>
<path d="M651.92 245.63V253.11M647.42 245.63h9M647.42 253.11h9" class="eb"/>
<text x="651.92" y="217.90" class="st" text-anchor="middle">****</text>
<text x="699.25" y="313.9" class="tk" text-anchor="middle">12W</text>
<rect x="680.20" y="227.40" width="18.45" height="74.60" class="bar"/>
<rect x="699.85" y="264.93" width="18.35" height="37.07" class="bar"/>
<circle cx="689.42" cy="244.79" r="1.35" fill="#f00"/>
<circle cx="689.42" cy="206.12" r="1.35" fill="#f00"/>
<circle cx="692.92" cy="214.91" r="1.35" fill="#f00"/>
<circle cx="689.42" cy="213.96" r="1.35" fill="#f00"/>
<circle cx="689.42" cy="234.00" r="1.35" fill="#f00"/>
<circle cx="689.42" cy="227.46" r="1.35" fill="#f00"/>
<circle cx="689.42" cy="222.62" r="1.35" fill="#f00"/>
<circle cx="689.42" cy="241.04" r="1.35" fill="#f00"/>
<circle cx="689.42" cy="218.93" r="1.35" fill="#f00"/>
<circle cx="685.92" cy="225.27" r="1.35" fill="#f00"/>
<circle cx="692.92" cy="222.16" r="1.35" fill="#f00"/>
<circle cx="692.92" cy="234.94" r="1.35" fill="#f00"/>
<rect x="707.67" y="299.73" width="2.7" height="2.7" fill="#00f"/>
<rect x="707.67" y="228.34" width="2.7" height="2.7" fill="#00f"/>
<rect x="704.17" y="261.57" width="2.7" height="2.7" fill="#00f"/>
<rect x="707.67" y="244.23" width="2.7" height="2.7" fill="#00f"/>
<rect x="714.67" y="295.28" width="2.7" height="2.7" fill="#00f"/>
<rect x="707.67" y="280.00" width="2.7" height="2.7" fill="#00f"/>
<rect x="707.67" y="240.07" width="2.7" height="2.7" fill="#00f"/>
<rect x="704.17" y="293.89" width="2.7" height="2.7" fill="#00f"/>
<rect x="707.67" y="249.72" width="2.7" height="2.7" fill="#00f"/>
<rect x="700.67" y="270.94" width="2.7" height="2.7" fill="#00f"/>
<rect x="707.67" y="285.99" width="2.7" height="2.7" fill="#00f"/>
<rect x="714.67" y="270.89" width="2.7" height="2.7" fill="#00f"/>
<rect x="707.67" y="256.91" width="2.7" height="2.7" fill="#00f"/>
<rect x="704.17" y="270.58" width="2.7" height="2.7" fill="#00f"/>
<rect x="711.17" y="244.67" width="2.7" height="2.7" fill="#00f"/>
<rect x="711.17" y="293.36" width="2.7" height="2.7" fill="#00f"/>
<rect x="707.67" y="269.21" width="2.7" height="2.7" fill="#00f"/>
<rect x="711.17" y="259.09" width="2.7" height="2.7" fill="#00f"/>
<rect x="711.17" y="269.52" width="2.7" height="2.7" fill="#00f"/>
<rect x="707.67" y="260.88" width="2.7" height="2.7" fill="#00f"/>
<rect x="707.67" y="292.46" width="2.7" height="2.7" fill="#00f"/>
<rect x="707.67" y="232.78" width="2.7" height="2.7" fill="#00f"/>
<path d="M689.42 223.41V231.39M684.92 223.41h9M684.92 231.39h9" class="eb"/>
<path d="M709.02 259.50V270.36M704.52 259.50h9M704.52 270.36h9" class="eb"/>
<text x="709.02" y="227.90" class="st" text-anchor="middle">****</text>
<path d="M442.4 164.10V302.00H729.0" class="ax" fill="none"/>
<circle cx="726.8" cy="171.0" r="1.9" fill="#f00"/>
<rect x="724.9" y="184.3" width="3.8" height="3.8" fill="#00f"/>
<text x="740.4" y="174.1" class="lg">Sham</text>
<text x="740.4" y="189.0" class="lg">TAC</text>
<text x="395.6" y="319.0" class="pl">I</text>
<text transform="translate(423.5,393.5) rotate(-90)" class="ti" text-anchor="middle">LVID; d (mm)</text>
<line x1="437.8" y1="462.40" x2="442.4" y2="462.40" class="ax"/>
<text x="436.2" y="466.40" class="tk" text-anchor="end">0</text>
<line x1="437.8" y1="427.95" x2="442.4" y2="427.95" class="ax"/>
<text x="436.2" y="431.95" class="tk" text-anchor="end">2</text>
<line x1="437.8" y1="393.50" x2="442.4" y2="393.50" class="ax"/>
<text x="436.2" y="397.50" class="tk" text-anchor="end">4</text>
<line x1="437.8" y1="359.05" x2="442.4" y2="359.05" class="ax"/>
<text x="436.2" y="363.05" class="tk" text-anchor="end">6</text>
<line x1="437.8" y1="324.60" x2="442.4" y2="324.60" class="ax"/>
<text x="436.2" y="328.60" class="tk" text-anchor="end">8</text>
<text x="470.85" y="474.3" class="tk" text-anchor="middle">2W</text>
<rect x="451.80" y="394.53" width="18.45" height="67.87" class="bar"/>
<rect x="471.45" y="397.29" width="18.35" height="65.11" class="bar"/>
<circle cx="461.02" cy="402.11" r="1.35" fill="#f00"/>
<circle cx="461.02" cy="386.95" r="1.35" fill="#f00"/>
<circle cx="461.02" cy="398.02" r="1.35" fill="#f00"/>
<circle cx="468.02" cy="397.63" r="1.35" fill="#f00"/>
<circle cx="464.52" cy="394.53" r="1.35" fill="#f00"/>
<circle cx="461.02" cy="393.99" r="1.35" fill="#f00"/>
<circle cx="457.52" cy="388.30" r="1.35" fill="#f00"/>
<circle cx="464.52" cy="400.89" r="1.35" fill="#f00"/>
<circle cx="454.02" cy="390.84" r="1.35" fill="#f00"/>
<circle cx="461.02" cy="390.79" r="1.35" fill="#f00"/>
<circle cx="468.02" cy="392.70" r="1.35" fill="#f00"/>
<circle cx="454.02" cy="396.42" r="1.35" fill="#f00"/>
<circle cx="468.02" cy="389.45" r="1.35" fill="#f00"/>
<circle cx="464.52" cy="392.06" r="1.35" fill="#f00"/>
<circle cx="457.52" cy="392.17" r="1.35" fill="#f00"/>
<circle cx="454.02" cy="394.41" r="1.35" fill="#f00"/>
<circle cx="464.52" cy="396.57" r="1.35" fill="#f00"/>
<circle cx="457.52" cy="395.82" r="1.35" fill="#f00"/>
<circle cx="468.02" cy="395.89" r="1.35" fill="#f00"/>
<circle cx="464.52" cy="388.11" r="1.35" fill="#f00"/>
<circle cx="461.02" cy="396.34" r="1.35" fill="#f00"/>
<circle cx="457.52" cy="396.92" r="1.35" fill="#f00"/>
<rect x="479.27" y="405.41" width="2.7" height="2.7" fill="#00f"/>
<rect x="479.27" y="385.60" width="2.7" height="2.7" fill="#00f"/>
<rect x="482.77" y="400.37" width="2.7" height="2.7" fill="#00f"/>
<rect x="479.27" y="390.74" width="2.7" height="2.7" fill="#00f"/>
<rect x="472.27" y="396.48" width="2.7" height="2.7" fill="#00f"/>
<rect x="482.77" y="399.03" width="2.7" height="2.7" fill="#00f"/>
<rect x="479.27" y="401.89" width="2.7" height="2.7" fill="#00f"/>
<rect x="475.77" y="397.80" width="2.7" height="2.7" fill="#00f"/>
<rect x="482.77" y="394.59" width="2.7" height="2.7" fill="#00f"/>
<rect x="472.27" y="398.35" width="2.7" height="2.7" fill="#00f"/>
<rect x="479.27" y="394.02" width="2.7" height="2.7" fill="#00f"/>
<rect x="472.27" y="399.62" width="2.7" height="2.7" fill="#00f"/>
<rect x="482.77" y="386.82" width="2.7" height="2.7" fill="#00f"/>
<rect x="475.77" y="392.40" width="2.7" height="2.7" fill="#00f"/>
<rect x="482.77" y="390.80" width="2.7" height="2.7" fill="#00f"/>
<rect x="486.27" y="395.88" width="2.7" height="2.7" fill="#00f"/>
<rect x="486.27" y="399.50" width="2.7" height="2.7" fill="#00f"/>
<rect x="475.77" y="403.33" width="2.7" height="2.7" fill="#00f"/>
<rect x="486.27" y="398.32" width="2.7" height="2.7" fill="#00f"/>
<rect x="475.77" y="400.53" width="2.7" height="2.7" fill="#00f"/>
<rect x="475.77" y="399.28" width="2.7" height="2.7" fill="#00f"/>
<rect x="472.27" y="389.02" width="2.7" height="2.7" fill="#00f"/>
<rect x="472.27" y="400.92" width="2.7" height="2.7" fill="#00f"/>
<rect x="475.77" y="387.25" width="2.7" height="2.7" fill="#00f"/>
<rect x="482.77" y="403.01" width="2.7" height="2.7" fill="#00f"/>
<rect x="486.27" y="388.81" width="2.7" height="2.7" fill="#00f"/>
<rect x="479.27" y="400.35" width="2.7" height="2.7" fill="#00f"/>
<rect x="475.77" y="395.34" width="2.7" height="2.7" fill="#00f"/>
<rect x="472.27" y="393.01" width="2.7" height="2.7" fill="#00f"/>
<rect x="486.27" y="400.64" width="2.7" height="2.7" fill="#00f"/>
<rect x="486.27" y="392.77" width="2.7" height="2.7" fill="#00f"/>
<rect x="482.77" y="397.20" width="2.7" height="2.7" fill="#00f"/>
<rect x="479.27" y="398.40" width="2.7" height="2.7" fill="#00f"/>
<rect x="479.27" y="396.60" width="2.7" height="2.7" fill="#00f"/>
<path d="M461.02 393.33V395.73M456.52 393.33h9M456.52 395.73h9" class="eb"/>
<path d="M480.62 396.09V398.49M476.12 396.09h9M476.12 398.49h9" class="eb"/>
<text x="480.62" y="385.80" class="st" text-anchor="middle">*</text>
<text x="527.95" y="474.3" class="tk" text-anchor="middle">4W</text>
<rect x="508.90" y="395.22" width="18.45" height="67.18" class="bar"/>
<rect x="528.55" y="393.67" width="18.35" height="68.73" class="bar"/>
<circle cx="525.12" cy="402.46" r="1.35" fill="#f00"/>
<circle cx="518.12" cy="386.95" r="1.35" fill="#f00"/>
<circle cx="511.12" cy="393.88" r="1.35" fill="#f00"/>
<circle cx="518.12" cy="395.00" r="1.35" fill="#f00"/>
<circle cx="514.62" cy="398.10" r="1.35" fill="#f00"/>
<circle cx="514.62" cy="401.49" r="1.35" fill="#f00"/>
<circle cx="525.12" cy="393.81" r="1.35" fill="#f00"/>
<circle cx="511.12" cy="400.90" r="1.35" fill="#f00"/>
<circle cx="518.12" cy="391.58" r="1.35" fill="#f00"/>
<circle cx="518.12" cy="399.22" r="1.35" fill="#f00"/>
<circle cx="525.12" cy="398.46" r="1.35" fill="#f00"/>
<circle cx="521.62" cy="400.43" r="1.35" fill="#f00"/>
<circle cx="521.62" cy="395.78" r="1.35" fill="#f00"/>
<circle cx="514.62" cy="393.47" r="1.35" fill="#f00"/>
<circle cx="521.62" cy="392.51" r="1.35" fill="#f00"/>
<rect x="532.87" y="403.69" width="2.7" height="2.7" fill="#00f"/>
<rect x="536.37" y="378.71" width="2.7" height="2.7" fill="#00f"/>
<rect x="536.37" y="395.01" width="2.7" height="2.7" fill="#00f"/>
<rect x="529.37" y="396.65" width="2.7" height="2.7" fill="#00f"/>
<rect x="536.37" y="385.28" width="2.7" height="2.7" fill="#00f"/>
<rect x="539.87" y="395.49" width="2.7" height="2.7" fill="#00f"/>
<rect x="539.87" y="380.47" width="2.7" height="2.7" fill="#00f"/>
<rect x="532.87" y="396.19" width="2.7" height="2.7" fill="#00f"/>
<rect x="532.87" y="381.29" width="2.7" height="2.7" fill="#00f"/>
<rect x="539.87" y="402.09" width="2.7" height="2.7" fill="#00f"/>
<rect x="539.87" y="387.71" width="2.7" height="2.7" fill="#00f"/>
<rect x="543.37" y="394.29" width="2.7" height="2.7" fill="#00f"/>
<rect x="539.87" y="397.31" width="2.7" height="2.7" fill="#00f"/>
<rect x="529.37" y="400.42" width="2.7" height="2.7" fill="#00f"/>
<rect x="532.87" y="397.52" width="2.7" height="2.7" fill="#00f"/>
<rect x="539.87" y="391.73" width="2.7" height="2.7" fill="#00f"/>
<rect x="543.37" y="398.35" width="2.7" height="2.7" fill="#00f"/>
<rect x="532.87" y="394.22" width="2.7" height="2.7" fill="#00f"/>
<rect x="543.37" y="396.59" width="2.7" height="2.7" fill="#00f"/>
<rect x="543.37" y="381.73" width="2.7" height="2.7" fill="#00f"/>
<rect x="536.37" y="400.82" width="2.7" height="2.7" fill="#00f"/>
<rect x="536.37" y="396.99" width="2.7" height="2.7" fill="#00f"/>
<rect x="536.37" y="391.23" width="2.7" height="2.7" fill="#00f"/>
<rect x="529.37" y="394.70" width="2.7" height="2.7" fill="#00f"/>
<path d="M518.12 393.87V396.57M513.62 393.87h9M513.62 396.57h9" class="eb"/>
<path d="M537.72 391.93V395.42M533.22 391.93h9M533.22 395.42h9" class="eb"/>
<text x="585.05" y="474.3" class="tk" text-anchor="middle">6W</text>
<rect x="566.00" y="395.74" width="18.45" height="66.66" class="bar"/>
<rect x="585.65" y="392.12" width="18.35" height="70.28" class="bar"/>
<circle cx="575.22" cy="406.25" r="1.35" fill="#f00"/>
<circle cx="575.22" cy="385.75" r="1.35" fill="#f00"/>
<circle cx="571.72" cy="396.73" r="1.35" fill="#f00"/>
<circle cx="571.72" cy="390.19" r="1.35" fill="#f00"/>
<circle cx="568.22" cy="393.14" r="1.35" fill="#f00"/>
<circle cx="578.72" cy="394.27" r="1.35" fill="#f00"/>
<circle cx="578.72" cy="391.02" r="1.35" fill="#f00"/>
<circle cx="568.22" cy="395.20" r="1.35" fill="#f00"/>
<circle cx="575.22" cy="389.82" r="1.35" fill="#f00"/>
<circle cx="571.72" cy="393.65" r="1.35" fill="#f00"/>
<circle cx="578.72" cy="398.88" r="1.35" fill="#f00"/>
<circle cx="575.22" cy="396.58" r="1.35" fill="#f00"/>
<circle cx="582.22" cy="399.63" r="1.35" fill="#f00"/>
<circle cx="575.22" cy="393.36" r="1.35" fill="#f00"/>
<circle cx="578.72" cy="386.83" r="1.35" fill="#f00"/>
<circle cx="582.22" cy="395.14" r="1.35" fill="#f00"/>
<circle cx="582.22" cy="391.04" r="1.35" fill="#f00"/>
<circle cx="575.22" cy="400.29" r="1.35" fill="#f00"/>
<rect x="593.48" y="369.76" width="2.7" height="2.7" fill="#00f"/>
<rect x="596.98" y="373.20" width="2.7" height="2.7" fill="#00f"/>
<rect x="593.48" y="401.11" width="2.7" height="2.7" fill="#00f"/>
<rect x="593.48" y="383.54" width="2.7" height="2.7" fill="#00f"/>
<rect x="600.48" y="387.22" width="2.7" height="2.7" fill="#00f"/>
<rect x="596.98" y="393.35" width="2.7" height="2.7" fill="#00f"/>
<rect x="600.48" y="386.14" width="2.7" height="2.7" fill="#00f"/>
<rect x="589.98" y="389.89" width="2.7" height="2.7" fill="#00f"/>
<rect x="593.48" y="393.06" width="2.7" height="2.7" fill="#00f"/>
<rect x="586.48" y="386.27" width="2.7" height="2.7" fill="#00f"/>
<rect x="586.48" y="387.38" width="2.7" height="2.7" fill="#00f"/>
<rect x="593.48" y="388.83" width="2.7" height="2.7" fill="#00f"/>
<rect x="593.48" y="397.35" width="2.7" height="2.7" fill="#00f"/>
<rect x="596.98" y="384.50" width="2.7" height="2.7" fill="#00f"/>
<rect x="600.48" y="399.00" width="2.7" height="2.7" fill="#00f"/>
<rect x="589.98" y="385.34" width="2.7" height="2.7" fill="#00f"/>
<rect x="589.98" y="386.89" width="2.7" height="2.7" fill="#00f"/>
<rect x="596.98" y="389.33" width="2.7" height="2.7" fill="#00f"/>
<rect x="589.98" y="395.57" width="2.7" height="2.7" fill="#00f"/>
<rect x="596.98" y="398.80" width="2.7" height="2.7" fill="#00f"/>
<rect x="596.98" y="386.76" width="2.7" height="2.7" fill="#00f"/>
<rect x="593.48" y="386.28" width="2.7" height="2.7" fill="#00f"/>
<path d="M575.22 394.32V397.16M570.72 394.32h9M570.72 397.16h9" class="eb"/>
<path d="M594.83 390.18V394.06M590.33 390.18h9M590.33 394.06h9" class="eb"/>
<text x="642.15" y="474.3" class="tk" text-anchor="middle">8W</text>
<rect x="623.10" y="394.88" width="18.45" height="67.52" class="bar"/>
<rect x="642.75" y="389.37" width="18.35" height="73.03" class="bar"/>
<circle cx="639.32" cy="404.18" r="1.35" fill="#f00"/>
<circle cx="632.32" cy="386.95" r="1.35" fill="#f00"/>
<circle cx="635.82" cy="402.81" r="1.35" fill="#f00"/>
<circle cx="639.32" cy="392.28" r="1.35" fill="#f00"/>
<circle cx="632.32" cy="402.73" r="1.35" fill="#f00"/>
<circle cx="635.82" cy="399.73" r="1.35" fill="#f00"/>
<circle cx="639.32" cy="400.08" r="1.35" fill="#f00"/>
<circle cx="635.82" cy="388.08" r="1.35" fill="#f00"/>
<circle cx="632.32" cy="391.03" r="1.35" fill="#f00"/>
<circle cx="635.82" cy="395.34" r="1.35" fill="#f00"/>
<circle cx="639.32" cy="395.89" r="1.35" fill="#f00"/>
<circle cx="625.32" cy="393.51" r="1.35" fill="#f00"/>
<circle cx="628.82" cy="392.93" r="1.35" fill="#f00"/>
<circle cx="628.82" cy="401.58" r="1.35" fill="#f00"/>
<circle cx="632.32" cy="395.26" r="1.35" fill="#f00"/>
<circle cx="628.82" cy="397.90" r="1.35" fill="#f00"/>
<circle cx="628.82" cy="389.06" r="1.35" fill="#f00"/>
<circle cx="635.82" cy="391.98" r="1.35" fill="#f00"/>
<circle cx="632.32" cy="398.85" r="1.35" fill="#f00"/>
<circle cx="625.32" cy="400.86" r="1.35" fill="#f00"/>
<rect x="650.57" y="364.59" width="2.7" height="2.7" fill="#00f"/>
<rect x="650.57" y="369.76" width="2.7" height="2.7" fill="#00f"/>
<rect x="654.07" y="371.48" width="2.7" height="2.7" fill="#00f"/>
<rect x="657.57" y="400.76" width="2.7" height="2.7" fill="#00f"/>
<rect x="650.57" y="381.81" width="2.7" height="2.7" fill="#00f"/>
<rect x="654.07" y="389.68" width="2.7" height="2.7" fill="#00f"/>
<rect x="650.57" y="389.17" width="2.7" height="2.7" fill="#00f"/>
<rect x="654.07" y="399.16" width="2.7" height="2.7" fill="#00f"/>
<rect x="643.57" y="388.68" width="2.7" height="2.7" fill="#00f"/>
<rect x="657.57" y="390.46" width="2.7" height="2.7" fill="#00f"/>
<rect x="654.07" y="383.06" width="2.7" height="2.7" fill="#00f"/>
<rect x="647.07" y="387.58" width="2.7" height="2.7" fill="#00f"/>
<rect x="650.57" y="392.00" width="2.7" height="2.7" fill="#00f"/>
<rect x="647.07" y="383.60" width="2.7" height="2.7" fill="#00f"/>
<rect x="643.57" y="391.11" width="2.7" height="2.7" fill="#00f"/>
<rect x="657.57" y="394.88" width="2.7" height="2.7" fill="#00f"/>
<rect x="647.07" y="399.73" width="2.7" height="2.7" fill="#00f"/>
<rect x="643.57" y="384.02" width="2.7" height="2.7" fill="#00f"/>
<rect x="657.57" y="388.62" width="2.7" height="2.7" fill="#00f"/>
<rect x="654.07" y="393.14" width="2.7" height="2.7" fill="#00f"/>
<rect x="643.57" y="395.47" width="2.7" height="2.7" fill="#00f"/>
<rect x="650.57" y="386.45" width="2.7" height="2.7" fill="#00f"/>
<rect x="650.57" y="398.97" width="2.7" height="2.7" fill="#00f"/>
<rect x="647.07" y="394.28" width="2.7" height="2.7" fill="#00f"/>
<rect x="647.07" y="390.45" width="2.7" height="2.7" fill="#00f"/>
<rect x="657.57" y="383.64" width="2.7" height="2.7" fill="#00f"/>
<rect x="654.07" y="387.28" width="2.7" height="2.7" fill="#00f"/>
<path d="M632.32 393.47V396.28M627.82 393.47h9M627.82 396.28h9" class="eb"/>
<path d="M651.92 387.33V391.41M647.42 387.33h9M647.42 391.41h9" class="eb"/>
<text x="651.92" y="363.30" class="st" text-anchor="middle">*</text>
<text x="699.25" y="474.3" class="tk" text-anchor="middle">12W</text>
<rect x="680.20" y="395.22" width="18.45" height="67.18" class="bar"/>
<rect x="699.85" y="373.86" width="18.35" height="88.54" class="bar"/>
<circle cx="689.42" cy="404.70" r="1.35" fill="#f00"/>
<circle cx="689.42" cy="388.33" r="1.35" fill="#f00"/>
<circle cx="682.42" cy="396.37" r="1.35" fill="#f00"/>
<circle cx="692.92" cy="389.23" r="1.35" fill="#f00"/>
<circle cx="689.42" cy="394.80" r="1.35" fill="#f00"/>
<circle cx="692.92" cy="398.30" r="1.35" fill="#f00"/>
<circle cx="689.42" cy="398.08" r="1.35" fill="#f00"/>
<circle cx="692.92" cy="394.85" r="1.35" fill="#f00"/>
<circle cx="696.42" cy="399.13" r="1.35" fill="#f00"/>
<circle cx="685.92" cy="395.88" r="1.35" fill="#f00"/>
<circle cx="696.42" cy="394.94" r="1.35" fill="#f00"/>
<circle cx="685.92" cy="391.54" r="1.35" fill="#f00"/>
<rect x="707.67" y="396.97" width="2.7" height="2.7" fill="#00f"/>
<rect x="707.67" y="349.95" width="2.7" height="2.7" fill="#00f"/>
<rect x="714.67" y="364.08" width="2.7" height="2.7" fill="#00f"/>
<rect x="714.67" y="374.45" width="2.7" height="2.7" fill="#00f"/>
<rect x="707.67" y="384.19" width="2.7" height="2.7" fill="#00f"/>
<rect x="707.67" y="372.24" width="2.7" height="2.7" fill="#00f"/>
<rect x="711.17" y="372.30" width="2.7" height="2.7" fill="#00f"/>
<rect x="711.17" y="384.52" width="2.7" height="2.7" fill="#00f"/>
<rect x="704.17" y="363.70" width="2.7" height="2.7" fill="#00f"/>
<rect x="707.67" y="367.51" width="2.7" height="2.7" fill="#00f"/>
<rect x="707.67" y="356.79" width="2.7" height="2.7" fill="#00f"/>
<rect x="707.67" y="392.79" width="2.7" height="2.7" fill="#00f"/>
<rect x="711.17" y="363.30" width="2.7" height="2.7" fill="#00f"/>
<rect x="711.17" y="389.41" width="2.7" height="2.7" fill="#00f"/>
<rect x="711.17" y="379.97" width="2.7" height="2.7" fill="#00f"/>
<rect x="707.67" y="376.72" width="2.7" height="2.7" fill="#00f"/>
<rect x="704.17" y="372.56" width="2.7" height="2.7" fill="#00f"/>
<rect x="704.17" y="390.90" width="2.7" height="2.7" fill="#00f"/>
<rect x="711.17" y="351.74" width="2.7" height="2.7" fill="#00f"/>
<rect x="700.67" y="375.61" width="2.7" height="2.7" fill="#00f"/>
<rect x="707.67" y="360.84" width="2.7" height="2.7" fill="#00f"/>
<rect x="707.67" y="388.28" width="2.7" height="2.7" fill="#00f"/>
<path d="M689.42 393.67V396.77M684.92 393.67h9M684.92 396.77h9" class="eb"/>
<path d="M709.02 370.43V377.30M704.52 370.43h9M704.52 377.30h9" class="eb"/>
<text x="709.02" y="349.30" class="st" text-anchor="middle">****</text>
<path d="M442.4 324.00V462.40H729.0" class="ax" fill="none"/>
<circle cx="726.8" cy="330.9" r="1.9" fill="#f00"/>
<rect x="724.9" y="344.2" width="3.8" height="3.8" fill="#00f"/>
<text x="740.4" y="334.0" class="lg">Sham</text>
<text x="740.4" y="348.9" class="lg">TAC</text>
<text x="395.6" y="480.3" class="pl">J</text>
<text transform="translate(423.8,554.2) rotate(-90)" class="ti" text-anchor="middle">LVID; s (mm)</text>
<line x1="437.8" y1="623.00" x2="442.4" y2="623.00" class="ax"/>
<text x="436.2" y="627.00" class="tk" text-anchor="end">0</text>
<line x1="437.8" y1="588.60" x2="442.4" y2="588.60" class="ax"/>
<text x="436.2" y="592.60" class="tk" text-anchor="end">2</text>
<line x1="437.8" y1="554.20" x2="442.4" y2="554.20" class="ax"/>
<text x="436.2" y="558.20" class="tk" text-anchor="end">4</text>
<line x1="437.8" y1="519.80" x2="442.4" y2="519.80" class="ax"/>
<text x="436.2" y="523.80" class="tk" text-anchor="end">6</text>
<line x1="437.8" y1="485.40" x2="442.4" y2="485.40" class="ax"/>
<text x="436.2" y="489.40" class="tk" text-anchor="end">8</text>
<text x="470.85" y="634.9" class="tk" text-anchor="middle">2W</text>
<rect x="451.80" y="577.25" width="18.45" height="45.75" class="bar"/>
<rect x="471.45" y="580.34" width="18.35" height="42.66" class="bar"/>
<circle cx="461.02" cy="587.57" r="1.35" fill="#f00"/>
<circle cx="461.02" cy="568.82" r="1.35" fill="#f00"/>
<circle cx="468.02" cy="580.44" r="1.35" fill="#f00"/>
<circle cx="454.02" cy="582.62" r="1.35" fill="#f00"/>
<circle cx="457.52" cy="579.46" r="1.35" fill="#f00"/>
<circle cx="468.02" cy="585.71" r="1.35" fill="#f00"/>
<circle cx="454.02" cy="577.06" r="1.35" fill="#f00"/>
<circle cx="457.52" cy="581.69" r="1.35" fill="#f00"/>
<circle cx="468.02" cy="582.00" r="1.35" fill="#f00"/>
<circle cx="461.02" cy="580.73" r="1.35" fill="#f00"/>
<circle cx="457.52" cy="585.09" r="1.35" fill="#f00"/>
<circle cx="464.52" cy="572.14" r="1.35" fill="#f00"/>
<circle cx="461.02" cy="578.52" r="1.35" fill="#f00"/>
<circle cx="464.52" cy="576.21" r="1.35" fill="#f00"/>
<circle cx="464.52" cy="584.65" r="1.35" fill="#f00"/>
<circle cx="464.52" cy="579.14" r="1.35" fill="#f00"/>
<circle cx="464.52" cy="581.65" r="1.35" fill="#f00"/>
<circle cx="457.52" cy="576.28" r="1.35" fill="#f00"/>
<circle cx="454.02" cy="580.69" r="1.35" fill="#f00"/>
<circle cx="468.02" cy="576.98" r="1.35" fill="#f00"/>
<circle cx="461.02" cy="583.40" r="1.35" fill="#f00"/>
<circle cx="461.02" cy="574.62" r="1.35" fill="#f00"/>
<rect x="479.27" y="594.13" width="2.7" height="2.7" fill="#00f"/>
<rect x="479.27" y="563.00" width="2.7" height="2.7" fill="#00f"/>
<rect x="486.27" y="575.90" width="2.7" height="2.7" fill="#00f"/>
<rect x="482.77" y="588.35" width="2.7" height="2.7" fill="#00f"/>
<rect x="479.27" y="581.94" width="2.7" height="2.7" fill="#00f"/>
<rect x="472.27" y="578.66" width="2.7" height="2.7" fill="#00f"/>
<rect x="479.27" y="571.36" width="2.7" height="2.7" fill="#00f"/>
<rect x="475.77" y="577.24" width="2.7" height="2.7" fill="#00f"/>
<rect x="486.27" y="579.62" width="2.7" height="2.7" fill="#00f"/>
<rect x="472.27" y="580.95" width="2.7" height="2.7" fill="#00f"/>
<rect x="479.27" y="567.63" width="2.7" height="2.7" fill="#00f"/>
<rect x="479.27" y="578.91" width="2.7" height="2.7" fill="#00f"/>
<rect x="482.77" y="569.47" width="2.7" height="2.7" fill="#00f"/>
<rect x="472.27" y="571.83" width="2.7" height="2.7" fill="#00f"/>
<rect x="486.27" y="589.76" width="2.7" height="2.7" fill="#00f"/>
<rect x="479.27" y="577.06" width="2.7" height="2.7" fill="#00f"/>
<rect x="486.27" y="571.00" width="2.7" height="2.7" fill="#00f"/>
<rect x="472.27" y="583.93" width="2.7" height="2.7" fill="#00f"/>
<rect x="482.77" y="572.53" width="2.7" height="2.7" fill="#00f"/>
<rect x="479.27" y="587.68" width="2.7" height="2.7" fill="#00f"/>
<rect x="482.77" y="576.76" width="2.7" height="2.7" fill="#00f"/>
<rect x="475.77" y="575.60" width="2.7" height="2.7" fill="#00f"/>
<rect x="475.77" y="579.05" width="2.7" height="2.7" fill="#00f"/>
<rect x="479.27" y="575.40" width="2.7" height="2.7" fill="#00f"/>
<rect x="486.27" y="577.39" width="2.7" height="2.7" fill="#00f"/>
<rect x="475.77" y="569.69" width="2.7" height="2.7" fill="#00f"/>
<rect x="475.77" y="588.50" width="2.7" height="2.7" fill="#00f"/>
<rect x="482.77" y="578.49" width="2.7" height="2.7" fill="#00f"/>
<rect x="482.77" y="565.37" width="2.7" height="2.7" fill="#00f"/>
<rect x="486.27" y="583.01" width="2.7" height="2.7" fill="#00f"/>
<rect x="482.77" y="583.17" width="2.7" height="2.7" fill="#00f"/>
<rect x="472.27" y="577.00" width="2.7" height="2.7" fill="#00f"/>
<rect x="482.77" y="580.80" width="2.7" height="2.7" fill="#00f"/>
<rect x="475.77" y="582.15" width="2.7" height="2.7" fill="#00f"/>
<path d="M461.02 576.05V578.45M456.52 576.05h9M456.52 578.45h9" class="eb"/>
<path d="M480.62 578.88V581.81M476.12 578.88h9M476.12 581.81h9" class="eb"/>
<text x="527.95" y="634.9" class="tk" text-anchor="middle">4W</text>
<rect x="508.90" y="576.73" width="18.45" height="46.27" class="bar"/>
<rect x="528.55" y="572.95" width="18.35" height="50.05" class="bar"/>
<circle cx="521.62" cy="587.22" r="1.35" fill="#f00"/>
<circle cx="518.12" cy="569.85" r="1.35" fill="#f00"/>
<circle cx="518.12" cy="573.82" r="1.35" fill="#f00"/>
<circle cx="514.62" cy="582.34" r="1.35" fill="#f00"/>
<circle cx="518.12" cy="584.14" r="1.35" fill="#f00"/>
<circle cx="511.12" cy="580.51" r="1.35" fill="#f00"/>
<circle cx="521.62" cy="578.71" r="1.35" fill="#f00"/>
<circle cx="518.12" cy="580.64" r="1.35" fill="#f00"/>
<circle cx="525.12" cy="583.22" r="1.35" fill="#f00"/>
<circle cx="518.12" cy="577.66" r="1.35" fill="#f00"/>
<circle cx="514.62" cy="579.66" r="1.35" fill="#f00"/>
<circle cx="525.12" cy="579.96" r="1.35" fill="#f00"/>
<circle cx="521.62" cy="581.30" r="1.35" fill="#f00"/>
<circle cx="521.62" cy="574.79" r="1.35" fill="#f00"/>
<circle cx="514.62" cy="575.73" r="1.35" fill="#f00"/>
<rect x="536.37" y="591.55" width="2.7" height="2.7" fill="#00f"/>
<rect x="536.37" y="552.51" width="2.7" height="2.7" fill="#00f"/>
<rect x="543.37" y="568.79" width="2.7" height="2.7" fill="#00f"/>
<rect x="539.87" y="556.75" width="2.7" height="2.7" fill="#00f"/>
<rect x="539.87" y="562.04" width="2.7" height="2.7" fill="#00f"/>
<rect x="532.87" y="573.17" width="2.7" height="2.7" fill="#00f"/>
<rect x="539.87" y="587.88" width="2.7" height="2.7" fill="#00f"/>
<rect x="536.37" y="587.07" width="2.7" height="2.7" fill="#00f"/>
<rect x="532.87" y="583.27" width="2.7" height="2.7" fill="#00f"/>
<rect x="536.37" y="569.88" width="2.7" height="2.7" fill="#00f"/>
<rect x="539.87" y="572.09" width="2.7" height="2.7" fill="#00f"/>
<rect x="536.37" y="565.88" width="2.7" height="2.7" fill="#00f"/>
<rect x="532.87" y="578.73" width="2.7" height="2.7" fill="#00f"/>
<rect x="529.37" y="584.48" width="2.7" height="2.7" fill="#00f"/>
<rect x="536.37" y="582.33" width="2.7" height="2.7" fill="#00f"/>
<rect x="539.87" y="582.94" width="2.7" height="2.7" fill="#00f"/>
<rect x="536.37" y="556.18" width="2.7" height="2.7" fill="#00f"/>
<rect x="532.87" y="568.45" width="2.7" height="2.7" fill="#00f"/>
<rect x="536.37" y="560.88" width="2.7" height="2.7" fill="#00f"/>
<rect x="543.37" y="584.16" width="2.7" height="2.7" fill="#00f"/>
<rect x="539.87" y="567.57" width="2.7" height="2.7" fill="#00f"/>
<rect x="532.87" y="563.56" width="2.7" height="2.7" fill="#00f"/>
<rect x="536.37" y="578.09" width="2.7" height="2.7" fill="#00f"/>
<rect x="539.87" y="578.40" width="2.7" height="2.7" fill="#00f"/>
<path d="M518.12 575.36V578.10M513.62 575.36h9M513.62 578.10h9" class="eb"/>
<path d="M537.72 570.22V575.67M533.22 570.22h9M533.22 575.67h9" class="eb"/>
<text x="585.05" y="634.9" class="tk" text-anchor="middle">6W</text>
<rect x="566.00" y="578.28" width="18.45" height="44.72" class="bar"/>
<rect x="585.65" y="570.54" width="18.35" height="52.46" class="bar"/>
<circle cx="578.72" cy="588.77" r="1.35" fill="#f00"/>
<circle cx="575.22" cy="568.48" r="1.35" fill="#f00"/>
<circle cx="575.22" cy="584.94" r="1.35" fill="#f00"/>
<circle cx="571.72" cy="581.83" r="1.35" fill="#f00"/>
<circle cx="578.72" cy="584.98" r="1.35" fill="#f00"/>
<circle cx="571.72" cy="569.85" r="1.35" fill="#f00"/>
<circle cx="575.22" cy="586.12" r="1.35" fill="#f00"/>
<circle cx="575.22" cy="576.93" r="1.35" fill="#f00"/>
<circle cx="578.72" cy="577.98" r="1.35" fill="#f00"/>
<circle cx="568.22" cy="578.83" r="1.35" fill="#f00"/>
<circle cx="575.22" cy="579.91" r="1.35" fill="#f00"/>
<circle cx="582.22" cy="585.67" r="1.35" fill="#f00"/>
<circle cx="571.72" cy="585.53" r="1.35" fill="#f00"/>
<circle cx="578.72" cy="569.56" r="1.35" fill="#f00"/>
<circle cx="571.72" cy="578.14" r="1.35" fill="#f00"/>
<circle cx="578.72" cy="580.16" r="1.35" fill="#f00"/>
<circle cx="582.22" cy="578.69" r="1.35" fill="#f00"/>
<circle cx="568.22" cy="586.06" r="1.35" fill="#f00"/>
<rect x="593.48" y="536.17" width="2.7" height="2.7" fill="#00f"/>
<rect x="593.48" y="544.25" width="2.7" height="2.7" fill="#00f"/>
<rect x="593.48" y="549.41" width="2.7" height="2.7" fill="#00f"/>
<rect x="589.98" y="583.81" width="2.7" height="2.7" fill="#00f"/>
<rect x="593.48" y="561.45" width="2.7" height="2.7" fill="#00f"/>
<rect x="593.48" y="565.31" width="2.7" height="2.7" fill="#00f"/>
<rect x="589.98" y="571.81" width="2.7" height="2.7" fill="#00f"/>
<rect x="593.48" y="577.05" width="2.7" height="2.7" fill="#00f"/>
<rect x="600.48" y="565.75" width="2.7" height="2.7" fill="#00f"/>
<rect x="596.98" y="578.12" width="2.7" height="2.7" fill="#00f"/>
<rect x="600.48" y="582.04" width="2.7" height="2.7" fill="#00f"/>
<rect x="596.98" y="563.22" width="2.7" height="2.7" fill="#00f"/>
<rect x="589.98" y="564.55" width="2.7" height="2.7" fill="#00f"/>
<rect x="596.98" y="581.68" width="2.7" height="2.7" fill="#00f"/>
<rect x="596.98" y="571.69" width="2.7" height="2.7" fill="#00f"/>
<rect x="589.98" y="568.13" width="2.7" height="2.7" fill="#00f"/>
<rect x="586.48" y="567.51" width="2.7" height="2.7" fill="#00f"/>
<rect x="589.98" y="579.05" width="2.7" height="2.7" fill="#00f"/>
<rect x="593.48" y="580.77" width="2.7" height="2.7" fill="#00f"/>
<rect x="596.98" y="566.83" width="2.7" height="2.7" fill="#00f"/>
<rect x="600.48" y="573.41" width="2.7" height="2.7" fill="#00f"/>
<rect x="593.48" y="570.86" width="2.7" height="2.7" fill="#00f"/>
<path d="M575.22 576.56V580.00M570.72 576.56h9M570.72 580.00h9" class="eb"/>
<path d="M594.83 567.39V573.69M590.33 567.39h9M590.33 573.69h9" class="eb"/>
<text x="594.83" y="536.10" class="st" text-anchor="middle">*</text>
<text x="642.15" y="634.9" class="tk" text-anchor="middle">8W</text>
<rect x="623.10" y="577.25" width="18.45" height="45.75" class="bar"/>
<rect x="642.75" y="566.24" width="18.35" height="56.76" class="bar"/>
<circle cx="632.32" cy="586.54" r="1.35" fill="#f00"/>
<circle cx="632.32" cy="569.34" r="1.35" fill="#f00"/>
<circle cx="635.82" cy="576.27" r="1.35" fill="#f00"/>
<circle cx="628.82" cy="576.91" r="1.35" fill="#f00"/>
<circle cx="632.32" cy="578.80" r="1.35" fill="#f00"/>
<circle cx="628.82" cy="583.14" r="1.35" fill="#f00"/>
<circle cx="639.32" cy="572.16" r="1.35" fill="#f00"/>
<circle cx="625.32" cy="573.97" r="1.35" fill="#f00"/>
<circle cx="635.82" cy="578.24" r="1.35" fill="#f00"/>
<circle cx="632.32" cy="582.66" r="1.35" fill="#f00"/>
<circle cx="639.32" cy="583.86" r="1.35" fill="#f00"/>
<circle cx="639.32" cy="577.38" r="1.35" fill="#f00"/>
<circle cx="625.32" cy="577.89" r="1.35" fill="#f00"/>
<circle cx="632.32" cy="577.29" r="1.35" fill="#f00"/>
<circle cx="639.32" cy="580.00" r="1.35" fill="#f00"/>
<circle cx="628.82" cy="578.51" r="1.35" fill="#f00"/>
<circle cx="635.82" cy="582.03" r="1.35" fill="#f00"/>
<circle cx="632.32" cy="573.52" r="1.35" fill="#f00"/>
<circle cx="635.82" cy="571.89" r="1.35" fill="#f00"/>
<circle cx="628.82" cy="572.11" r="1.35" fill="#f00"/>
<rect x="650.57" y="582.09" width="2.7" height="2.7" fill="#00f"/>
<rect x="650.57" y="535.13" width="2.7" height="2.7" fill="#00f"/>
<rect x="654.07" y="546.31" width="2.7" height="2.7" fill="#00f"/>
<rect x="654.07" y="550.63" width="2.7" height="2.7" fill="#00f"/>
<rect x="647.07" y="553.82" width="2.7" height="2.7" fill="#00f"/>
<rect x="657.57" y="567.48" width="2.7" height="2.7" fill="#00f"/>
<rect x="654.07" y="564.25" width="2.7" height="2.7" fill="#00f"/>
<rect x="650.57" y="567.40" width="2.7" height="2.7" fill="#00f"/>
<rect x="650.57" y="576.18" width="2.7" height="2.7" fill="#00f"/>
<rect x="647.07" y="569.86" width="2.7" height="2.7" fill="#00f"/>
<rect x="647.07" y="546.61" width="2.7" height="2.7" fill="#00f"/>
<rect x="654.07" y="577.12" width="2.7" height="2.7" fill="#00f"/>
<rect x="654.07" y="558.80" width="2.7" height="2.7" fill="#00f"/>
<rect x="647.07" y="578.00" width="2.7" height="2.7" fill="#00f"/>
<rect x="650.57" y="550.50" width="2.7" height="2.7" fill="#00f"/>
<rect x="647.07" y="565.29" width="2.7" height="2.7" fill="#00f"/>
<rect x="647.07" y="560.23" width="2.7" height="2.7" fill="#00f"/>
<rect x="657.57" y="579.29" width="2.7" height="2.7" fill="#00f"/>
<rect x="650.57" y="562.33" width="2.7" height="2.7" fill="#00f"/>
<rect x="647.07" y="573.66" width="2.7" height="2.7" fill="#00f"/>
<rect x="650.57" y="554.42" width="2.7" height="2.7" fill="#00f"/>
<rect x="654.07" y="573.35" width="2.7" height="2.7" fill="#00f"/>
<rect x="650.57" y="571.44" width="2.7" height="2.7" fill="#00f"/>
<rect x="654.07" y="568.77" width="2.7" height="2.7" fill="#00f"/>
<rect x="650.57" y="540.93" width="2.7" height="2.7" fill="#00f"/>
<rect x="650.57" y="546.29" width="2.7" height="2.7" fill="#00f"/>
<rect x="650.57" y="558.72" width="2.7" height="2.7" fill="#00f"/>
<path d="M632.32 576.02V578.47M627.82 576.02h9M627.82 578.47h9" class="eb"/>
<path d="M651.92 563.29V569.19M647.42 563.29h9M647.42 569.19h9" class="eb"/>
<text x="651.92" y="534.80" class="st" text-anchor="middle">**</text>
<text x="699.25" y="634.9" class="tk" text-anchor="middle">12W</text>
<rect x="680.20" y="576.56" width="18.45" height="46.44" class="bar"/>
<rect x="699.85" y="551.10" width="18.35" height="71.90" class="bar"/>
<circle cx="689.42" cy="585.68" r="1.35" fill="#f00"/>
<circle cx="689.42" cy="566.76" r="1.35" fill="#f00"/>
<circle cx="685.92" cy="569.27" r="1.35" fill="#f00"/>
<circle cx="685.92" cy="573.89" r="1.35" fill="#f00"/>
<circle cx="689.42" cy="575.09" r="1.35" fill="#f00"/>
<circle cx="689.42" cy="571.34" r="1.35" fill="#f00"/>
<circle cx="682.42" cy="574.00" r="1.35" fill="#f00"/>
<circle cx="689.42" cy="580.39" r="1.35" fill="#f00"/>
<circle cx="692.92" cy="573.27" r="1.35" fill="#f00"/>
<circle cx="692.92" cy="582.43" r="1.35" fill="#f00"/>
<circle cx="692.92" cy="568.77" r="1.35" fill="#f00"/>
<circle cx="696.42" cy="572.04" r="1.35" fill="#f00"/>
<rect x="707.67" y="580.37" width="2.7" height="2.7" fill="#00f"/>
<rect x="707.67" y="514.32" width="2.7" height="2.7" fill="#00f"/>
<rect x="704.17" y="529.38" width="2.7" height="2.7" fill="#00f"/>
<rect x="711.17" y="551.19" width="2.7" height="2.7" fill="#00f"/>
<rect x="707.67" y="530.44" width="2.7" height="2.7" fill="#00f"/>
<rect x="707.67" y="559.30" width="2.7" height="2.7" fill="#00f"/>
<rect x="711.17" y="545.46" width="2.7" height="2.7" fill="#00f"/>
<rect x="711.17" y="570.18" width="2.7" height="2.7" fill="#00f"/>
<rect x="700.67" y="530.26" width="2.7" height="2.7" fill="#00f"/>
<rect x="711.17" y="533.77" width="2.7" height="2.7" fill="#00f"/>
<rect x="711.17" y="560.36" width="2.7" height="2.7" fill="#00f"/>
<rect x="707.67" y="563.00" width="2.7" height="2.7" fill="#00f"/>
<rect x="707.67" y="523.09" width="2.7" height="2.7" fill="#00f"/>
<rect x="707.67" y="534.84" width="2.7" height="2.7" fill="#00f"/>
<rect x="714.67" y="536.81" width="2.7" height="2.7" fill="#00f"/>
<rect x="704.17" y="536.48" width="2.7" height="2.7" fill="#00f"/>
<rect x="711.17" y="527.98" width="2.7" height="2.7" fill="#00f"/>
<rect x="707.67" y="567.10" width="2.7" height="2.7" fill="#00f"/>
<rect x="707.67" y="527.36" width="2.7" height="2.7" fill="#00f"/>
<rect x="707.67" y="545.11" width="2.7" height="2.7" fill="#00f"/>
<rect x="714.67" y="529.93" width="2.7" height="2.7" fill="#00f"/>
<rect x="707.67" y="548.90" width="2.7" height="2.7" fill="#00f"/>
<path d="M689.42 574.58V578.54M684.92 574.58h9M684.92 578.54h9" class="eb"/>
<path d="M709.02 546.64V555.57M704.52 546.64h9M704.52 555.57h9" class="eb"/>
<text x="709.02" y="513.90" class="st" text-anchor="middle">***</text>
<path d="M442.4 484.80V623.00H729.0" class="ax" fill="none"/>
<circle cx="726.8" cy="491.7" r="1.9" fill="#f00"/>
<rect x="724.9" y="505.0" width="3.8" height="3.8" fill="#00f"/>
<text x="740.4" y="494.8" class="lg">Sham</text>
<text x="740.4" y="509.7" class="lg">TAC</text>
<text x="395.6" y="642.9" class="pl">K</text>
<text transform="translate(414.2,716.1) rotate(-90)" class="ti" text-anchor="middle">LV Vol; d (µL)</text>
<line x1="437.8" y1="784.70" x2="442.4" y2="784.70" class="ax"/>
<text x="436.2" y="788.70" class="tk" text-anchor="end">0</text>
<line x1="437.8" y1="757.26" x2="442.4" y2="757.26" class="ax"/>
<text x="436.2" y="761.26" class="tk" text-anchor="end">50</text>
<line x1="437.8" y1="729.82" x2="442.4" y2="729.82" class="ax"/>
<text x="436.2" y="733.82" class="tk" text-anchor="end">100</text>
<line x1="437.8" y1="702.38" x2="442.4" y2="702.38" class="ax"/>
<text x="436.2" y="706.38" class="tk" text-anchor="end">150</text>
<line x1="437.8" y1="674.94" x2="442.4" y2="674.94" class="ax"/>
<text x="436.2" y="678.94" class="tk" text-anchor="end">200</text>
<line x1="437.8" y1="647.50" x2="442.4" y2="647.50" class="ax"/>
<text x="436.2" y="651.50" class="tk" text-anchor="end">250</text>
<text x="470.85" y="796.6" class="tk" text-anchor="middle">2W</text>
<rect x="451.80" y="747.60" width="18.45" height="37.10" class="bar"/>
<rect x="471.45" y="751.77" width="18.35" height="32.93" class="bar"/>
<circle cx="464.52" cy="756.44" r="1.35" fill="#f00"/>
<circle cx="461.02" cy="737.23" r="1.35" fill="#f00"/>
<circle cx="464.52" cy="752.10" r="1.35" fill="#f00"/>
<circle cx="461.02" cy="748.24" r="1.35" fill="#f00"/>
<circle cx="468.02" cy="747.57" r="1.35" fill="#f00"/>
<circle cx="454.02" cy="750.42" r="1.35" fill="#f00"/>
<circle cx="468.02" cy="742.79" r="1.35" fill="#f00"/>
<circle cx="461.02" cy="750.43" r="1.35" fill="#f00"/>
<circle cx="468.02" cy="749.65" r="1.35" fill="#f00"/>
<circle cx="454.02" cy="747.83" r="1.35" fill="#f00"/>
<circle cx="461.02" cy="741.52" r="1.35" fill="#f00"/>
<circle cx="461.02" cy="745.18" r="1.35" fill="#f00"/>
<circle cx="454.02" cy="743.17" r="1.35" fill="#f00"/>
<circle cx="457.52" cy="749.65" r="1.35" fill="#f00"/>
<circle cx="464.52" cy="749.21" r="1.35" fill="#f00"/>
<circle cx="457.52" cy="741.91" r="1.35" fill="#f00"/>
<circle cx="464.52" cy="740.02" r="1.35" fill="#f00"/>
<circle cx="457.52" cy="747.21" r="1.35" fill="#f00"/>
<circle cx="464.52" cy="746.72" r="1.35" fill="#f00"/>
<circle cx="457.52" cy="752.20" r="1.35" fill="#f00"/>
<circle cx="468.02" cy="752.67" r="1.35" fill="#f00"/>
<circle cx="461.02" cy="755.47" r="1.35" fill="#f00"/>
<rect x="479.27" y="736.98" width="2.7" height="2.7" fill="#00f"/>
<rect x="482.77" y="738.35" width="2.7" height="2.7" fill="#00f"/>
<rect x="479.27" y="764.14" width="2.7" height="2.7" fill="#00f"/>
<rect x="475.77" y="758.65" width="2.7" height="2.7" fill="#00f"/>
<rect x="479.27" y="742.19" width="2.7" height="2.7" fill="#00f"/>
<rect x="472.27" y="744.92" width="2.7" height="2.7" fill="#00f"/>
<rect x="482.77" y="745.84" width="2.7" height="2.7" fill="#00f"/>
<rect x="486.27" y="751.74" width="2.7" height="2.7" fill="#00f"/>
<rect x="472.27" y="749.98" width="2.7" height="2.7" fill="#00f"/>
<rect x="479.27" y="750.22" width="2.7" height="2.7" fill="#00f"/>
<rect x="479.27" y="745.30" width="2.7" height="2.7" fill="#00f"/>
<rect x="482.77" y="747.96" width="2.7" height="2.7" fill="#00f"/>
<rect x="482.77" y="749.33" width="2.7" height="2.7" fill="#00f"/>
<rect x="475.77" y="744.58" width="2.7" height="2.7" fill="#00f"/>
<rect x="479.27" y="748.97" width="2.7" height="2.7" fill="#00f"/>
<rect x="472.27" y="752.26" width="2.7" height="2.7" fill="#00f"/>
<rect x="472.27" y="747.81" width="2.7" height="2.7" fill="#00f"/>
<rect x="482.77" y="750.45" width="2.7" height="2.7" fill="#00f"/>
<rect x="482.77" y="743.99" width="2.7" height="2.7" fill="#00f"/>
<rect x="475.77" y="746.92" width="2.7" height="2.7" fill="#00f"/>
<rect x="475.77" y="749.57" width="2.7" height="2.7" fill="#00f"/>
<rect x="475.77" y="748.00" width="2.7" height="2.7" fill="#00f"/>
<rect x="486.27" y="747.03" width="2.7" height="2.7" fill="#00f"/>
<rect x="482.77" y="757.31" width="2.7" height="2.7" fill="#00f"/>
<rect x="475.77" y="754.35" width="2.7" height="2.7" fill="#00f"/>
<rect x="486.27" y="744.62" width="2.7" height="2.7" fill="#00f"/>
<rect x="486.27" y="749.67" width="2.7" height="2.7" fill="#00f"/>
<rect x="479.27" y="757.14" width="2.7" height="2.7" fill="#00f"/>
<rect x="486.27" y="748.04" width="2.7" height="2.7" fill="#00f"/>
<rect x="482.77" y="753.67" width="2.7" height="2.7" fill="#00f"/>
<rect x="479.27" y="753.52" width="2.7" height="2.7" fill="#00f"/>
<rect x="475.77" y="751.60" width="2.7" height="2.7" fill="#00f"/>
<rect x="472.27" y="748.22" width="2.7" height="2.7" fill="#00f"/>
<rect x="479.27" y="747.81" width="2.7" height="2.7" fill="#00f"/>
<path d="M461.02 746.33V748.87M456.52 746.33h9M456.52 748.87h9" class="eb"/>
<path d="M480.62 750.57V752.97M476.12 750.57h9M476.12 752.97h9" class="eb"/>
<text x="480.62" y="735.50" class="st" text-anchor="middle">*</text>
<text x="527.95" y="796.6" class="tk" text-anchor="middle">4W</text>
<rect x="508.90" y="748.31" width="18.45" height="36.39" class="bar"/>
<rect x="528.55" y="743.92" width="18.35" height="40.78" class="bar"/>
<circle cx="518.12" cy="757.81" r="1.35" fill="#f00"/>
<circle cx="518.12" cy="737.61" r="1.35" fill="#f00"/>
<circle cx="514.62" cy="740.44" r="1.35" fill="#f00"/>
<circle cx="521.62" cy="744.24" r="1.35" fill="#f00"/>
<circle cx="518.12" cy="752.24" r="1.35" fill="#f00"/>
<circle cx="518.12" cy="741.79" r="1.35" fill="#f00"/>
<circle cx="525.12" cy="750.49" r="1.35" fill="#f00"/>
<circle cx="518.12" cy="747.84" r="1.35" fill="#f00"/>
<circle cx="511.12" cy="753.85" r="1.35" fill="#f00"/>
<circle cx="514.62" cy="753.70" r="1.35" fill="#f00"/>
<circle cx="525.12" cy="754.61" r="1.35" fill="#f00"/>
<circle cx="521.62" cy="749.24" r="1.35" fill="#f00"/>
<circle cx="521.62" cy="739.31" r="1.35" fill="#f00"/>
<circle cx="514.62" cy="750.11" r="1.35" fill="#f00"/>
<circle cx="521.62" cy="753.21" r="1.35" fill="#f00"/>
<rect x="539.87" y="758.87" width="2.7" height="2.7" fill="#00f"/>
<rect x="536.37" y="723.81" width="2.7" height="2.7" fill="#00f"/>
<rect x="536.37" y="743.05" width="2.7" height="2.7" fill="#00f"/>
<rect x="536.37" y="746.68" width="2.7" height="2.7" fill="#00f"/>
<rect x="543.37" y="744.03" width="2.7" height="2.7" fill="#00f"/>
<rect x="539.87" y="748.70" width="2.7" height="2.7" fill="#00f"/>
<rect x="543.37" y="731.55" width="2.7" height="2.7" fill="#00f"/>
<rect x="539.87" y="730.70" width="2.7" height="2.7" fill="#00f"/>
<rect x="529.37" y="732.54" width="2.7" height="2.7" fill="#00f"/>
<rect x="532.87" y="749.55" width="2.7" height="2.7" fill="#00f"/>
<rect x="532.87" y="742.28" width="2.7" height="2.7" fill="#00f"/>
<rect x="532.87" y="735.95" width="2.7" height="2.7" fill="#00f"/>
<rect x="529.37" y="748.43" width="2.7" height="2.7" fill="#00f"/>
<rect x="532.87" y="731.17" width="2.7" height="2.7" fill="#00f"/>
<rect x="543.37" y="748.02" width="2.7" height="2.7" fill="#00f"/>
<rect x="536.37" y="748.92" width="2.7" height="2.7" fill="#00f"/>
<rect x="536.37" y="755.82" width="2.7" height="2.7" fill="#00f"/>
<rect x="536.37" y="739.24" width="2.7" height="2.7" fill="#00f"/>
<rect x="536.37" y="730.09" width="2.7" height="2.7" fill="#00f"/>
<rect x="532.87" y="747.08" width="2.7" height="2.7" fill="#00f"/>
<rect x="539.87" y="741.04" width="2.7" height="2.7" fill="#00f"/>
<rect x="539.87" y="735.72" width="2.7" height="2.7" fill="#00f"/>
<rect x="536.37" y="735.05" width="2.7" height="2.7" fill="#00f"/>
<rect x="539.87" y="745.63" width="2.7" height="2.7" fill="#00f"/>
<path d="M518.12 746.36V750.26M513.62 746.36h9M513.62 750.26h9" class="eb"/>
<path d="M537.72 741.75V746.10M533.22 741.75h9M533.22 746.10h9" class="eb"/>
<text x="585.05" y="796.6" class="tk" text-anchor="middle">6W</text>
<rect x="566.00" y="747.60" width="18.45" height="37.10" class="bar"/>
<rect x="585.65" y="742.99" width="18.35" height="41.71" class="bar"/>
<circle cx="575.22" cy="760.22" r="1.35" fill="#f00"/>
<circle cx="575.22" cy="736.24" r="1.35" fill="#f00"/>
<circle cx="578.72" cy="738.15" r="1.35" fill="#f00"/>
<circle cx="575.22" cy="744.09" r="1.35" fill="#f00"/>
<circle cx="571.72" cy="750.51" r="1.35" fill="#f00"/>
<circle cx="571.72" cy="743.00" r="1.35" fill="#f00"/>
<circle cx="568.22" cy="749.32" r="1.35" fill="#f00"/>
<circle cx="575.22" cy="751.48" r="1.35" fill="#f00"/>
<circle cx="578.72" cy="742.15" r="1.35" fill="#f00"/>
<circle cx="575.22" cy="747.77" r="1.35" fill="#f00"/>
<circle cx="571.72" cy="739.57" r="1.35" fill="#f00"/>
<circle cx="578.72" cy="750.10" r="1.35" fill="#f00"/>
<circle cx="582.22" cy="749.04" r="1.35" fill="#f00"/>
<circle cx="575.22" cy="740.64" r="1.35" fill="#f00"/>
<circle cx="578.72" cy="746.55" r="1.35" fill="#f00"/>
<circle cx="571.72" cy="747.02" r="1.35" fill="#f00"/>
<circle cx="568.22" cy="742.74" r="1.35" fill="#f00"/>
<circle cx="582.22" cy="740.93" r="1.35" fill="#f00"/>
<rect x="593.48" y="693.90" width="2.7" height="2.7" fill="#00f"/>
<rect x="593.48" y="714.75" width="2.7" height="2.7" fill="#00f"/>
<rect x="593.48" y="718.59" width="2.7" height="2.7" fill="#00f"/>
<rect x="593.48" y="755.91" width="2.7" height="2.7" fill="#00f"/>
<rect x="593.48" y="728.47" width="2.7" height="2.7" fill="#00f"/>
<rect x="596.98" y="739.37" width="2.7" height="2.7" fill="#00f"/>
<rect x="586.48" y="742.18" width="2.7" height="2.7" fill="#00f"/>
<rect x="593.48" y="732.34" width="2.7" height="2.7" fill="#00f"/>
<rect x="600.48" y="734.26" width="2.7" height="2.7" fill="#00f"/>
<rect x="589.98" y="732.84" width="2.7" height="2.7" fill="#00f"/>
<rect x="593.48" y="738.81" width="2.7" height="2.7" fill="#00f"/>
<rect x="589.98" y="739.42" width="2.7" height="2.7" fill="#00f"/>
<rect x="596.98" y="750.78" width="2.7" height="2.7" fill="#00f"/>
<rect x="596.98" y="734.18" width="2.7" height="2.7" fill="#00f"/>
<rect x="600.48" y="746.78" width="2.7" height="2.7" fill="#00f"/>
<rect x="593.48" y="749.85" width="2.7" height="2.7" fill="#00f"/>
<rect x="596.98" y="730.46" width="2.7" height="2.7" fill="#00f"/>
<rect x="596.98" y="745.65" width="2.7" height="2.7" fill="#00f"/>
<rect x="589.98" y="752.76" width="2.7" height="2.7" fill="#00f"/>
<rect x="589.98" y="746.51" width="2.7" height="2.7" fill="#00f"/>
<rect x="600.48" y="740.05" width="2.7" height="2.7" fill="#00f"/>
<rect x="593.48" y="745.53" width="2.7" height="2.7" fill="#00f"/>
<path d="M575.22 745.95V749.25M570.72 745.95h9M570.72 749.25h9" class="eb"/>
<path d="M594.83 739.37V746.61M590.33 739.37h9M590.33 746.61h9" class="eb"/>
<text x="642.15" y="796.6" class="tk" text-anchor="middle">8W</text>
<rect x="623.10" y="747.60" width="18.45" height="37.10" class="bar"/>
<rect x="642.75" y="738.71" width="18.35" height="45.99" class="bar"/>
<circle cx="632.32" cy="759.13" r="1.35" fill="#f00"/>
<circle cx="632.32" cy="736.24" r="1.35" fill="#f00"/>
<circle cx="628.82" cy="748.28" r="1.35" fill="#f00"/>
<circle cx="632.32" cy="741.35" r="1.35" fill="#f00"/>
<circle cx="625.32" cy="742.94" r="1.35" fill="#f00"/>
<circle cx="625.32" cy="751.43" r="1.35" fill="#f00"/>
<circle cx="632.32" cy="750.98" r="1.35" fill="#f00"/>
<circle cx="632.32" cy="746.83" r="1.35" fill="#f00"/>
<circle cx="635.82" cy="743.57" r="1.35" fill="#f00"/>
<circle cx="639.32" cy="742.70" r="1.35" fill="#f00"/>
<circle cx="625.32" cy="746.92" r="1.35" fill="#f00"/>
<circle cx="628.82" cy="743.84" r="1.35" fill="#f00"/>
<circle cx="635.82" cy="747.59" r="1.35" fill="#f00"/>
<circle cx="632.32" cy="755.05" r="1.35" fill="#f00"/>
<circle cx="632.32" cy="743.06" r="1.35" fill="#f00"/>
<circle cx="639.32" cy="749.74" r="1.35" fill="#f00"/>
<circle cx="639.32" cy="745.86" r="1.35" fill="#f00"/>
<circle cx="628.82" cy="742.11" r="1.35" fill="#f00"/>
<circle cx="635.82" cy="741.42" r="1.35" fill="#f00"/>
<circle cx="635.82" cy="751.20" r="1.35" fill="#f00"/>
<rect x="650.57" y="699.93" width="2.7" height="2.7" fill="#00f"/>
<rect x="650.57" y="709.26" width="2.7" height="2.7" fill="#00f"/>
<rect x="654.07" y="712.01" width="2.7" height="2.7" fill="#00f"/>
<rect x="650.57" y="753.17" width="2.7" height="2.7" fill="#00f"/>
<rect x="650.57" y="722.98" width="2.7" height="2.7" fill="#00f"/>
<rect x="654.07" y="749.72" width="2.7" height="2.7" fill="#00f"/>
<rect x="650.57" y="748.02" width="2.7" height="2.7" fill="#00f"/>
<rect x="654.07" y="733.11" width="2.7" height="2.7" fill="#00f"/>
<rect x="650.57" y="739.31" width="2.7" height="2.7" fill="#00f"/>
<rect x="647.07" y="743.65" width="2.7" height="2.7" fill="#00f"/>
<rect x="657.57" y="741.56" width="2.7" height="2.7" fill="#00f"/>
<rect x="650.57" y="733.69" width="2.7" height="2.7" fill="#00f"/>
<rect x="654.07" y="739.74" width="2.7" height="2.7" fill="#00f"/>
<rect x="647.07" y="734.32" width="2.7" height="2.7" fill="#00f"/>
<rect x="643.57" y="741.91" width="2.7" height="2.7" fill="#00f"/>
<rect x="643.57" y="732.61" width="2.7" height="2.7" fill="#00f"/>
<rect x="647.07" y="731.35" width="2.7" height="2.7" fill="#00f"/>
<rect x="650.57" y="726.67" width="2.7" height="2.7" fill="#00f"/>
<rect x="657.57" y="732.11" width="2.7" height="2.7" fill="#00f"/>
<rect x="650.57" y="743.26" width="2.7" height="2.7" fill="#00f"/>
<rect x="650.57" y="730.68" width="2.7" height="2.7" fill="#00f"/>
<rect x="657.57" y="734.54" width="2.7" height="2.7" fill="#00f"/>
<rect x="647.07" y="740.15" width="2.7" height="2.7" fill="#00f"/>
<rect x="643.57" y="735.62" width="2.7" height="2.7" fill="#00f"/>
<rect x="654.07" y="743.35" width="2.7" height="2.7" fill="#00f"/>
<rect x="657.57" y="744.02" width="2.7" height="2.7" fill="#00f"/>
<rect x="654.07" y="729.60" width="2.7" height="2.7" fill="#00f"/>
<path d="M632.32 746.16V749.04M627.82 746.16h9M627.82 749.04h9" class="eb"/>
<path d="M651.92 735.89V741.53M647.42 735.89h9M647.42 741.53h9" class="eb"/>
<text x="651.92" y="698.30" class="st" text-anchor="middle">*</text>
<text x="699.25" y="796.6" class="tk" text-anchor="middle">12W</text>
<rect x="680.20" y="747.60" width="18.45" height="37.10" class="bar"/>
<rect x="699.85" y="709.13" width="18.35" height="75.57" class="bar"/>
<circle cx="689.42" cy="759.51" r="1.35" fill="#f00"/>
<circle cx="689.42" cy="737.23" r="1.35" fill="#f00"/>
<circle cx="692.92" cy="749.27" r="1.35" fill="#f00"/>
<circle cx="692.92" cy="754.19" r="1.35" fill="#f00"/>
<circle cx="696.42" cy="744.40" r="1.35" fill="#f00"/>
<circle cx="692.92" cy="738.53" r="1.35" fill="#f00"/>
<circle cx="692.92" cy="742.46" r="1.35" fill="#f00"/>
<circle cx="685.92" cy="741.91" r="1.35" fill="#f00"/>
<circle cx="689.42" cy="754.14" r="1.35" fill="#f00"/>
<circle cx="689.42" cy="748.21" r="1.35" fill="#f00"/>
<circle cx="685.92" cy="751.33" r="1.35" fill="#f00"/>
<circle cx="689.42" cy="741.82" r="1.35" fill="#f00"/>
<rect x="707.67" y="746.25" width="2.7" height="2.7" fill="#00f"/>
<rect x="707.67" y="658.22" width="2.7" height="2.7" fill="#00f"/>
<rect x="707.67" y="666.96" width="2.7" height="2.7" fill="#00f"/>
<rect x="707.67" y="707.25" width="2.7" height="2.7" fill="#00f"/>
<rect x="707.67" y="711.42" width="2.7" height="2.7" fill="#00f"/>
<rect x="711.17" y="675.19" width="2.7" height="2.7" fill="#00f"/>
<rect x="711.17" y="739.65" width="2.7" height="2.7" fill="#00f"/>
<rect x="704.17" y="700.75" width="2.7" height="2.7" fill="#00f"/>
<rect x="704.17" y="740.69" width="2.7" height="2.7" fill="#00f"/>
<rect x="707.67" y="679.58" width="2.7" height="2.7" fill="#00f"/>
<rect x="707.67" y="738.42" width="2.7" height="2.7" fill="#00f"/>
<rect x="707.67" y="699.53" width="2.7" height="2.7" fill="#00f"/>
<rect x="704.17" y="713.16" width="2.7" height="2.7" fill="#00f"/>
<rect x="707.67" y="671.71" width="2.7" height="2.7" fill="#00f"/>
<rect x="707.67" y="691.19" width="2.7" height="2.7" fill="#00f"/>
<rect x="707.67" y="717.54" width="2.7" height="2.7" fill="#00f"/>
<rect x="711.17" y="711.54" width="2.7" height="2.7" fill="#00f"/>
<rect x="711.17" y="700.45" width="2.7" height="2.7" fill="#00f"/>
<rect x="711.17" y="720.23" width="2.7" height="2.7" fill="#00f"/>
<rect x="707.67" y="695.46" width="2.7" height="2.7" fill="#00f"/>
<rect x="707.67" y="685.84" width="2.7" height="2.7" fill="#00f"/>
<rect x="707.67" y="731.13" width="2.7" height="2.7" fill="#00f"/>
<path d="M689.42 745.19V750.01M684.92 745.19h9M684.92 750.01h9" class="eb"/>
<path d="M709.02 702.64V715.62M704.52 702.64h9M704.52 715.62h9" class="eb"/>
<text x="709.02" y="657.20" class="st" text-anchor="middle">****</text>
<path d="M442.4 646.90V784.70H729.0" class="ax" fill="none"/>
<circle cx="726.8" cy="653.8" r="1.9" fill="#f00"/>
<rect x="724.9" y="667.1" width="3.8" height="3.8" fill="#00f"/>
<text x="740.4" y="656.9" class="lg">Sham</text>
<text x="740.4" y="671.8" class="lg">TAC</text>
<text x="395.6" y="804.6" class="pl">L</text>
<text transform="translate(414.2,877.7) rotate(-90)" class="ti" text-anchor="middle">LV Vol; s (µL)</text>
<line x1="437.8" y1="946.10" x2="442.4" y2="946.10" class="ax"/>
<text x="436.2" y="950.10" class="tk" text-anchor="end">0</text>
<line x1="437.8" y1="918.72" x2="442.4" y2="918.72" class="ax"/>
<text x="436.2" y="922.72" class="tk" text-anchor="end">50</text>
<line x1="437.8" y1="891.34" x2="442.4" y2="891.34" class="ax"/>
<text x="436.2" y="895.34" class="tk" text-anchor="end">100</text>
<line x1="437.8" y1="863.96" x2="442.4" y2="863.96" class="ax"/>
<text x="436.2" y="867.96" class="tk" text-anchor="end">150</text>
<line x1="437.8" y1="836.58" x2="442.4" y2="836.58" class="ax"/>
<text x="436.2" y="840.58" class="tk" text-anchor="end">200</text>
<line x1="437.8" y1="809.20" x2="442.4" y2="809.20" class="ax"/>
<text x="436.2" y="813.20" class="tk" text-anchor="end">250</text>
<text x="470.85" y="958.0" class="tk" text-anchor="middle">2W</text>
<rect x="451.80" y="931.59" width="18.45" height="14.51" class="bar"/>
<rect x="471.45" y="933.12" width="18.35" height="12.98" class="bar"/>
<circle cx="457.52" cy="938.98" r="1.35" fill="#f00"/>
<circle cx="461.02" cy="924.74" r="1.35" fill="#f00"/>
<circle cx="461.02" cy="937.58" r="1.35" fill="#f00"/>
<circle cx="468.02" cy="933.14" r="1.35" fill="#f00"/>
<circle cx="457.52" cy="929.12" r="1.35" fill="#f00"/>
<circle cx="461.02" cy="930.59" r="1.35" fill="#f00"/>
<circle cx="464.52" cy="932.22" r="1.35" fill="#f00"/>
<circle cx="454.02" cy="927.72" r="1.35" fill="#f00"/>
<circle cx="454.02" cy="937.47" r="1.35" fill="#f00"/>
<circle cx="464.52" cy="925.88" r="1.35" fill="#f00"/>
<circle cx="457.52" cy="932.56" r="1.35" fill="#f00"/>
<circle cx="468.02" cy="927.71" r="1.35" fill="#f00"/>
<circle cx="464.52" cy="928.77" r="1.35" fill="#f00"/>
<circle cx="464.52" cy="935.84" r="1.35" fill="#f00"/>
<circle cx="461.02" cy="927.98" r="1.35" fill="#f00"/>
<circle cx="457.52" cy="936.72" r="1.35" fill="#f00"/>
<circle cx="457.52" cy="927.34" r="1.35" fill="#f00"/>
<circle cx="454.02" cy="930.40" r="1.35" fill="#f00"/>
<circle cx="468.02" cy="930.09" r="1.35" fill="#f00"/>
<circle cx="461.02" cy="934.90" r="1.35" fill="#f00"/>
<circle cx="464.52" cy="937.60" r="1.35" fill="#f00"/>
<circle cx="468.02" cy="936.94" r="1.35" fill="#f00"/>
<rect x="486.27" y="942.18" width="2.7" height="2.7" fill="#00f"/>
<rect x="479.27" y="919.01" width="2.7" height="2.7" fill="#00f"/>
<rect x="482.77" y="926.22" width="2.7" height="2.7" fill="#00f"/>
<rect x="475.77" y="926.56" width="2.7" height="2.7" fill="#00f"/>
<rect x="486.27" y="931.02" width="2.7" height="2.7" fill="#00f"/>
<rect x="486.27" y="926.95" width="2.7" height="2.7" fill="#00f"/>
<rect x="486.27" y="921.91" width="2.7" height="2.7" fill="#00f"/>
<rect x="472.27" y="925.64" width="2.7" height="2.7" fill="#00f"/>
<rect x="482.77" y="923.90" width="2.7" height="2.7" fill="#00f"/>
<rect x="479.27" y="928.10" width="2.7" height="2.7" fill="#00f"/>
<rect x="486.27" y="924.35" width="2.7" height="2.7" fill="#00f"/>
<rect x="486.27" y="938.56" width="2.7" height="2.7" fill="#00f"/>
<rect x="475.77" y="934.95" width="2.7" height="2.7" fill="#00f"/>
<rect x="475.77" y="940.82" width="2.7" height="2.7" fill="#00f"/>
<rect x="482.77" y="940.52" width="2.7" height="2.7" fill="#00f"/>
<rect x="475.77" y="924.10" width="2.7" height="2.7" fill="#00f"/>
<rect x="479.27" y="938.47" width="2.7" height="2.7" fill="#00f"/>
<rect x="479.27" y="936.70" width="2.7" height="2.7" fill="#00f"/>
<rect x="472.27" y="937.02" width="2.7" height="2.7" fill="#00f"/>
<rect x="482.77" y="929.63" width="2.7" height="2.7" fill="#00f"/>
<rect x="482.77" y="937.42" width="2.7" height="2.7" fill="#00f"/>
<rect x="479.27" y="923.30" width="2.7" height="2.7" fill="#00f"/>
<rect x="472.27" y="938.90" width="2.7" height="2.7" fill="#00f"/>
<rect x="482.77" y="933.63" width="2.7" height="2.7" fill="#00f"/>
<rect x="475.77" y="937.94" width="2.7" height="2.7" fill="#00f"/>
<rect x="482.77" y="920.62" width="2.7" height="2.7" fill="#00f"/>
<rect x="479.27" y="940.87" width="2.7" height="2.7" fill="#00f"/>
<rect x="486.27" y="936.94" width="2.7" height="2.7" fill="#00f"/>
<rect x="472.27" y="928.54" width="2.7" height="2.7" fill="#00f"/>
<rect x="479.27" y="931.52" width="2.7" height="2.7" fill="#00f"/>
<rect x="475.77" y="929.73" width="2.7" height="2.7" fill="#00f"/>
<rect x="475.77" y="921.91" width="2.7" height="2.7" fill="#00f"/>
<rect x="479.27" y="924.41" width="2.7" height="2.7" fill="#00f"/>
<rect x="472.27" y="923.57" width="2.7" height="2.7" fill="#00f"/>
<path d="M461.02 930.39V932.79M456.52 930.39h9M456.52 932.79h9" class="eb"/>
<path d="M480.62 931.68V934.56M476.12 931.68h9M476.12 934.56h9" class="eb"/>
<text x="527.95" y="958.0" class="tk" text-anchor="middle">4W</text>
<rect x="508.90" y="931.21" width="18.45" height="14.89" class="bar"/>
<rect x="528.55" y="927.04" width="18.35" height="19.06" class="bar"/>
<circle cx="521.62" cy="938.49" r="1.35" fill="#f00"/>
<circle cx="518.12" cy="923.32" r="1.35" fill="#f00"/>
<circle cx="518.12" cy="937.31" r="1.35" fill="#f00"/>
<circle cx="525.12" cy="926.13" r="1.35" fill="#f00"/>
<circle cx="518.12" cy="927.14" r="1.35" fill="#f00"/>
<circle cx="514.62" cy="925.94" r="1.35" fill="#f00"/>
<circle cx="514.62" cy="929.24" r="1.35" fill="#f00"/>
<circle cx="511.12" cy="932.73" r="1.35" fill="#f00"/>
<circle cx="521.62" cy="932.50" r="1.35" fill="#f00"/>
<circle cx="518.12" cy="931.49" r="1.35" fill="#f00"/>
<circle cx="521.62" cy="928.80" r="1.35" fill="#f00"/>
<circle cx="511.12" cy="927.32" r="1.35" fill="#f00"/>
<circle cx="521.62" cy="924.16" r="1.35" fill="#f00"/>
<circle cx="514.62" cy="933.99" r="1.35" fill="#f00"/>
<circle cx="525.12" cy="931.74" r="1.35" fill="#f00"/>
<rect x="536.37" y="901.71" width="2.7" height="2.7" fill="#00f"/>
<rect x="536.37" y="905.32" width="2.7" height="2.7" fill="#00f"/>
<rect x="536.37" y="939.82" width="2.7" height="2.7" fill="#00f"/>
<rect x="536.37" y="917.37" width="2.7" height="2.7" fill="#00f"/>
<rect x="543.37" y="931.27" width="2.7" height="2.7" fill="#00f"/>
<rect x="529.37" y="920.09" width="2.7" height="2.7" fill="#00f"/>
<rect x="536.37" y="923.92" width="2.7" height="2.7" fill="#00f"/>
<rect x="536.37" y="920.72" width="2.7" height="2.7" fill="#00f"/>
<rect x="536.37" y="927.95" width="2.7" height="2.7" fill="#00f"/>
<rect x="543.37" y="923.08" width="2.7" height="2.7" fill="#00f"/>
<rect x="543.37" y="925.72" width="2.7" height="2.7" fill="#00f"/>
<rect x="529.37" y="926.77" width="2.7" height="2.7" fill="#00f"/>
<rect x="536.37" y="935.44" width="2.7" height="2.7" fill="#00f"/>
<rect x="532.87" y="925.57" width="2.7" height="2.7" fill="#00f"/>
<rect x="543.37" y="919.75" width="2.7" height="2.7" fill="#00f"/>
<rect x="539.87" y="921.38" width="2.7" height="2.7" fill="#00f"/>
<rect x="532.87" y="919.15" width="2.7" height="2.7" fill="#00f"/>
<rect x="536.37" y="931.61" width="2.7" height="2.7" fill="#00f"/>
<rect x="532.87" y="921.55" width="2.7" height="2.7" fill="#00f"/>
<rect x="532.87" y="930.74" width="2.7" height="2.7" fill="#00f"/>
<rect x="539.87" y="918.70" width="2.7" height="2.7" fill="#00f"/>
<rect x="539.87" y="928.03" width="2.7" height="2.7" fill="#00f"/>
<rect x="539.87" y="924.74" width="2.7" height="2.7" fill="#00f"/>
<rect x="529.37" y="923.48" width="2.7" height="2.7" fill="#00f"/>
<path d="M518.12 929.80V932.61M513.62 929.80h9M513.62 932.61h9" class="eb"/>
<path d="M537.72 925.02V929.07M533.22 925.02h9M533.22 929.07h9" class="eb"/>
<text x="585.05" y="958.0" class="tk" text-anchor="middle">6W</text>
<rect x="566.00" y="932.30" width="18.45" height="13.80" class="bar"/>
<rect x="585.65" y="925.40" width="18.35" height="20.70" class="bar"/>
<circle cx="578.72" cy="938.98" r="1.35" fill="#f00"/>
<circle cx="575.22" cy="923.92" r="1.35" fill="#f00"/>
<circle cx="568.22" cy="933.90" r="1.35" fill="#f00"/>
<circle cx="575.22" cy="930.16" r="1.35" fill="#f00"/>
<circle cx="575.22" cy="933.87" r="1.35" fill="#f00"/>
<circle cx="568.22" cy="929.51" r="1.35" fill="#f00"/>
<circle cx="582.22" cy="929.34" r="1.35" fill="#f00"/>
<circle cx="575.22" cy="928.81" r="1.35" fill="#f00"/>
<circle cx="582.22" cy="936.44" r="1.35" fill="#f00"/>
<circle cx="568.22" cy="937.77" r="1.35" fill="#f00"/>
<circle cx="578.72" cy="935.20" r="1.35" fill="#f00"/>
<circle cx="578.72" cy="931.91" r="1.35" fill="#f00"/>
<circle cx="578.72" cy="928.91" r="1.35" fill="#f00"/>
<circle cx="571.72" cy="929.32" r="1.35" fill="#f00"/>
<circle cx="571.72" cy="935.81" r="1.35" fill="#f00"/>
<circle cx="582.22" cy="932.57" r="1.35" fill="#f00"/>
<circle cx="571.72" cy="932.20" r="1.35" fill="#f00"/>
<circle cx="575.22" cy="936.94" r="1.35" fill="#f00"/>
<rect x="593.48" y="885.88" width="2.7" height="2.7" fill="#00f"/>
<rect x="593.48" y="889.99" width="2.7" height="2.7" fill="#00f"/>
<rect x="593.48" y="898.20" width="2.7" height="2.7" fill="#00f"/>
<rect x="593.48" y="936.54" width="2.7" height="2.7" fill="#00f"/>
<rect x="593.48" y="914.63" width="2.7" height="2.7" fill="#00f"/>
<rect x="596.98" y="928.69" width="2.7" height="2.7" fill="#00f"/>
<rect x="586.48" y="934.84" width="2.7" height="2.7" fill="#00f"/>
<rect x="586.48" y="930.98" width="2.7" height="2.7" fill="#00f"/>
<rect x="593.48" y="919.61" width="2.7" height="2.7" fill="#00f"/>
<rect x="600.48" y="929.97" width="2.7" height="2.7" fill="#00f"/>
<rect x="589.98" y="929.33" width="2.7" height="2.7" fill="#00f"/>
<rect x="589.98" y="932.33" width="2.7" height="2.7" fill="#00f"/>
<rect x="593.48" y="923.87" width="2.7" height="2.7" fill="#00f"/>
<rect x="596.98" y="931.88" width="2.7" height="2.7" fill="#00f"/>
<rect x="593.48" y="931.38" width="2.7" height="2.7" fill="#00f"/>
<rect x="593.48" y="927.89" width="2.7" height="2.7" fill="#00f"/>
<rect x="589.98" y="924.21" width="2.7" height="2.7" fill="#00f"/>
<rect x="600.48" y="932.33" width="2.7" height="2.7" fill="#00f"/>
<rect x="589.98" y="920.15" width="2.7" height="2.7" fill="#00f"/>
<rect x="596.98" y="917.39" width="2.7" height="2.7" fill="#00f"/>
<rect x="600.48" y="922.20" width="2.7" height="2.7" fill="#00f"/>
<rect x="596.98" y="921.25" width="2.7" height="2.7" fill="#00f"/>
<path d="M575.22 931.10V933.50M570.72 931.10h9M570.72 933.50h9" class="eb"/>
<path d="M594.83 921.85V928.95M590.33 921.85h9M590.33 928.95h9" class="eb"/>
<text x="594.83" y="885.70" class="st" text-anchor="middle">*</text>
<text x="642.15" y="958.0" class="tk" text-anchor="middle">8W</text>
<rect x="623.10" y="932.30" width="18.45" height="13.80" class="bar"/>
<rect x="642.75" y="921.24" width="18.35" height="24.86" class="bar"/>
<circle cx="635.82" cy="940.02" r="1.35" fill="#f00"/>
<circle cx="632.32" cy="924.31" r="1.35" fill="#f00"/>
<circle cx="625.32" cy="933.36" r="1.35" fill="#f00"/>
<circle cx="632.32" cy="937.66" r="1.35" fill="#f00"/>
<circle cx="628.82" cy="929.37" r="1.35" fill="#f00"/>
<circle cx="628.82" cy="933.22" r="1.35" fill="#f00"/>
<circle cx="632.32" cy="936.07" r="1.35" fill="#f00"/>
<circle cx="639.32" cy="934.87" r="1.35" fill="#f00"/>
<circle cx="635.82" cy="933.36" r="1.35" fill="#f00"/>
<circle cx="639.32" cy="932.56" r="1.35" fill="#f00"/>
<circle cx="625.32" cy="938.52" r="1.35" fill="#f00"/>
<circle cx="635.82" cy="927.41" r="1.35" fill="#f00"/>
<circle cx="628.82" cy="938.13" r="1.35" fill="#f00"/>
<circle cx="625.32" cy="936.27" r="1.35" fill="#f00"/>
<circle cx="632.32" cy="929.17" r="1.35" fill="#f00"/>
<circle cx="628.82" cy="936.24" r="1.35" fill="#f00"/>
<circle cx="635.82" cy="936.78" r="1.35" fill="#f00"/>
<circle cx="632.32" cy="932.71" r="1.35" fill="#f00"/>
<circle cx="639.32" cy="937.15" r="1.35" fill="#f00"/>
<circle cx="635.82" cy="932.48" r="1.35" fill="#f00"/>
<rect x="650.57" y="880.90" width="2.7" height="2.7" fill="#00f"/>
<rect x="650.57" y="887.25" width="2.7" height="2.7" fill="#00f"/>
<rect x="654.07" y="889.99" width="2.7" height="2.7" fill="#00f"/>
<rect x="650.57" y="894.37" width="2.7" height="2.7" fill="#00f"/>
<rect x="647.07" y="936.54" width="2.7" height="2.7" fill="#00f"/>
<rect x="650.57" y="910.80" width="2.7" height="2.7" fill="#00f"/>
<rect x="650.57" y="922.40" width="2.7" height="2.7" fill="#00f"/>
<rect x="647.07" y="926.77" width="2.7" height="2.7" fill="#00f"/>
<rect x="657.57" y="922.21" width="2.7" height="2.7" fill="#00f"/>
<rect x="654.07" y="912.96" width="2.7" height="2.7" fill="#00f"/>
<rect x="647.07" y="932.70" width="2.7" height="2.7" fill="#00f"/>
<rect x="647.07" y="923.09" width="2.7" height="2.7" fill="#00f"/>
<rect x="643.57" y="927.99" width="2.7" height="2.7" fill="#00f"/>
<rect x="654.07" y="930.33" width="2.7" height="2.7" fill="#00f"/>
<rect x="654.07" y="925.87" width="2.7" height="2.7" fill="#00f"/>
<rect x="650.57" y="924.57" width="2.7" height="2.7" fill="#00f"/>
<rect x="650.57" y="933.52" width="2.7" height="2.7" fill="#00f"/>
<rect x="657.57" y="927.89" width="2.7" height="2.7" fill="#00f"/>
<rect x="650.57" y="919.68" width="2.7" height="2.7" fill="#00f"/>
<rect x="650.57" y="929.37" width="2.7" height="2.7" fill="#00f"/>
<rect x="643.57" y="924.09" width="2.7" height="2.7" fill="#00f"/>
<rect x="654.07" y="934.38" width="2.7" height="2.7" fill="#00f"/>
<rect x="657.57" y="923.33" width="2.7" height="2.7" fill="#00f"/>
<rect x="643.57" y="922.34" width="2.7" height="2.7" fill="#00f"/>
<rect x="654.07" y="922.81" width="2.7" height="2.7" fill="#00f"/>
<rect x="647.07" y="921.91" width="2.7" height="2.7" fill="#00f"/>
<rect x="654.07" y="920.17" width="2.7" height="2.7" fill="#00f"/>
<path d="M632.32 931.10V933.50M627.82 931.10h9M627.82 933.50h9" class="eb"/>
<path d="M651.92 917.85V924.63M647.42 917.85h9M647.42 924.63h9" class="eb"/>
<text x="651.92" y="879.80" class="st" text-anchor="middle">**</text>
<text x="699.25" y="958.0" class="tk" text-anchor="middle">12W</text>
<rect x="680.20" y="931.59" width="18.45" height="14.51" class="bar"/>
<rect x="699.85" y="890.52" width="18.35" height="55.58" class="bar"/>
<circle cx="692.92" cy="938.98" r="1.35" fill="#f00"/>
<circle cx="689.42" cy="922.22" r="1.35" fill="#f00"/>
<circle cx="692.92" cy="927.78" r="1.35" fill="#f00"/>
<circle cx="689.42" cy="926.98" r="1.35" fill="#f00"/>
<circle cx="689.42" cy="932.60" r="1.35" fill="#f00"/>
<circle cx="685.92" cy="935.40" r="1.35" fill="#f00"/>
<circle cx="696.42" cy="930.17" r="1.35" fill="#f00"/>
<circle cx="696.42" cy="936.91" r="1.35" fill="#f00"/>
<circle cx="689.42" cy="936.87" r="1.35" fill="#f00"/>
<circle cx="692.92" cy="934.81" r="1.35" fill="#f00"/>
<circle cx="685.92" cy="928.50" r="1.35" fill="#f00"/>
<circle cx="692.92" cy="923.98" r="1.35" fill="#f00"/>
<rect x="707.67" y="924.05" width="2.7" height="2.7" fill="#00f"/>
<rect x="707.67" y="837.15" width="2.7" height="2.7" fill="#00f"/>
<rect x="711.17" y="875.23" width="2.7" height="2.7" fill="#00f"/>
<rect x="704.17" y="852.42" width="2.7" height="2.7" fill="#00f"/>
<rect x="711.17" y="885.77" width="2.7" height="2.7" fill="#00f"/>
<rect x="711.17" y="845.53" width="2.7" height="2.7" fill="#00f"/>
<rect x="707.67" y="842.13" width="2.7" height="2.7" fill="#00f"/>
<rect x="707.67" y="902.78" width="2.7" height="2.7" fill="#00f"/>
<rect x="704.17" y="903.91" width="2.7" height="2.7" fill="#00f"/>
<rect x="707.67" y="883.99" width="2.7" height="2.7" fill="#00f"/>
<rect x="707.67" y="850.39" width="2.7" height="2.7" fill="#00f"/>
<rect x="707.67" y="888.92" width="2.7" height="2.7" fill="#00f"/>
<rect x="704.17" y="875.85" width="2.7" height="2.7" fill="#00f"/>
<rect x="711.17" y="890.38" width="2.7" height="2.7" fill="#00f"/>
<rect x="711.17" y="865.03" width="2.7" height="2.7" fill="#00f"/>
<rect x="707.67" y="879.27" width="2.7" height="2.7" fill="#00f"/>
<rect x="704.17" y="886.82" width="2.7" height="2.7" fill="#00f"/>
<rect x="707.67" y="864.04" width="2.7" height="2.7" fill="#00f"/>
<rect x="707.67" y="897.05" width="2.7" height="2.7" fill="#00f"/>
<rect x="711.17" y="850.55" width="2.7" height="2.7" fill="#00f"/>
<rect x="711.17" y="903.67" width="2.7" height="2.7" fill="#00f"/>
<rect x="707.67" y="874.23" width="2.7" height="2.7" fill="#00f"/>
<path d="M689.42 929.70V933.48M684.92 929.70h9M684.92 933.48h9" class="eb"/>
<path d="M709.02 884.56V896.48M704.52 884.56h9M704.52 896.48h9" class="eb"/>
<text x="709.02" y="836.00" class="st" text-anchor="middle">****</text>
<path d="M442.4 808.60V946.10H729.0" class="ax" fill="none"/>
<circle cx="726.8" cy="815.5" r="1.9" fill="#f00"/>
<rect x="724.9" y="828.8" width="3.8" height="3.8" fill="#00f"/>
<text x="740.4" y="818.6" class="lg">Sham</text>
<text x="740.4" y="833.5" class="lg">TAC</text>
<text x="395.6" y="962.0" class="pl">M</text>
<text transform="translate(413.9,1037.3) rotate(-90)" class="ti" text-anchor="middle">Heart Rate (bpm)</text>
<line x1="437.8" y1="1105.80" x2="442.4" y2="1105.80" class="ax"/>
<text x="436.2" y="1109.80" class="tk" text-anchor="end">0</text>
<line x1="437.8" y1="1071.55" x2="442.4" y2="1071.55" class="ax"/>
<text x="436.2" y="1075.55" class="tk" text-anchor="end">200</text>
<line x1="437.8" y1="1037.30" x2="442.4" y2="1037.30" class="ax"/>
<text x="436.2" y="1041.30" class="tk" text-anchor="end">400</text>
<line x1="437.8" y1="1003.05" x2="442.4" y2="1003.05" class="ax"/>
<text x="436.2" y="1007.05" class="tk" text-anchor="end">600</text>
<line x1="437.8" y1="968.80" x2="442.4" y2="968.80" class="ax"/>
<text x="436.2" y="972.80" class="tk" text-anchor="end">800</text>
<text x="470.85" y="1117.7" class="tk" text-anchor="middle">2W</text>
<rect x="451.80" y="1006.13" width="18.45" height="99.67" class="bar"/>
<rect x="471.45" y="1006.65" width="18.35" height="99.15" class="bar"/>
<circle cx="461.02" cy="1015.89" r="1.35" fill="#f00"/>
<circle cx="461.02" cy="996.71" r="1.35" fill="#f00"/>
<circle cx="464.52" cy="1013.95" r="1.35" fill="#f00"/>
<circle cx="468.02" cy="1010.29" r="1.35" fill="#f00"/>
<circle cx="468.02" cy="1007.13" r="1.35" fill="#f00"/>
<circle cx="457.52" cy="1001.20" r="1.35" fill="#f00"/>
<circle cx="468.02" cy="1000.09" r="1.35" fill="#f00"/>
<circle cx="457.52" cy="1010.29" r="1.35" fill="#f00"/>
<circle cx="454.02" cy="1007.90" r="1.35" fill="#f00"/>
<circle cx="461.02" cy="1000.64" r="1.35" fill="#f00"/>
<circle cx="457.52" cy="1014.08" r="1.35" fill="#f00"/>
<circle cx="461.02" cy="1008.54" r="1.35" fill="#f00"/>
<circle cx="457.52" cy="999.91" r="1.35" fill="#f00"/>
<circle cx="464.52" cy="1005.93" r="1.35" fill="#f00"/>
<circle cx="454.02" cy="1001.00" r="1.35" fill="#f00"/>
<circle cx="457.52" cy="1006.08" r="1.35" fill="#f00"/>
<circle cx="464.52" cy="1009.14" r="1.35" fill="#f00"/>
<circle cx="461.02" cy="1004.81" r="1.35" fill="#f00"/>
<circle cx="464.52" cy="999.42" r="1.35" fill="#f00"/>
<circle cx="454.02" cy="1011.61" r="1.35" fill="#f00"/>
<circle cx="464.52" cy="1001.02" r="1.35" fill="#f00"/>
<circle cx="461.02" cy="1011.80" r="1.35" fill="#f00"/>
<rect x="482.77" y="1015.74" width="2.7" height="2.7" fill="#00f"/>
<rect x="479.27" y="994.85" width="2.7" height="2.7" fill="#00f"/>
<rect x="482.77" y="1009.89" width="2.7" height="2.7" fill="#00f"/>
<rect x="472.27" y="1006.80" width="2.7" height="2.7" fill="#00f"/>
<rect x="479.27" y="1001.96" width="2.7" height="2.7" fill="#00f"/>
<rect x="482.77" y="1002.36" width="2.7" height="2.7" fill="#00f"/>
<rect x="475.77" y="1005.83" width="2.7" height="2.7" fill="#00f"/>
<rect x="472.27" y="999.66" width="2.7" height="2.7" fill="#00f"/>
<rect x="482.77" y="1005.56" width="2.7" height="2.7" fill="#00f"/>
<rect x="486.27" y="1001.36" width="2.7" height="2.7" fill="#00f"/>
<rect x="472.27" y="1011.31" width="2.7" height="2.7" fill="#00f"/>
<rect x="482.77" y="999.92" width="2.7" height="2.7" fill="#00f"/>
<rect x="486.27" y="1006.05" width="2.7" height="2.7" fill="#00f"/>
<rect x="479.27" y="1010.80" width="2.7" height="2.7" fill="#00f"/>
<rect x="486.27" y="997.75" width="2.7" height="2.7" fill="#00f"/>
<rect x="486.27" y="1010.33" width="2.7" height="2.7" fill="#00f"/>
<rect x="482.77" y="1007.93" width="2.7" height="2.7" fill="#00f"/>
<rect x="475.77" y="1000.28" width="2.7" height="2.7" fill="#00f"/>
<rect x="479.27" y="1008.77" width="2.7" height="2.7" fill="#00f"/>
<rect x="475.77" y="1008.12" width="2.7" height="2.7" fill="#00f"/>
<rect x="475.77" y="1010.29" width="2.7" height="2.7" fill="#00f"/>
<rect x="479.27" y="1006.16" width="2.7" height="2.7" fill="#00f"/>
<rect x="472.27" y="1004.40" width="2.7" height="2.7" fill="#00f"/>
<rect x="479.27" y="1003.85" width="2.7" height="2.7" fill="#00f"/>
<rect x="486.27" y="1002.88" width="2.7" height="2.7" fill="#00f"/>
<rect x="472.27" y="1009.56" width="2.7" height="2.7" fill="#00f"/>
<rect x="479.27" y="1014.37" width="2.7" height="2.7" fill="#00f"/>
<rect x="482.77" y="1011.67" width="2.7" height="2.7" fill="#00f"/>
<rect x="475.77" y="997.71" width="2.7" height="2.7" fill="#00f"/>
<rect x="479.27" y="998.99" width="2.7" height="2.7" fill="#00f"/>
<rect x="475.77" y="1002.77" width="2.7" height="2.7" fill="#00f"/>
<rect x="482.77" y="996.53" width="2.7" height="2.7" fill="#00f"/>
<rect x="472.27" y="1001.99" width="2.7" height="2.7" fill="#00f"/>
<rect x="486.27" y="1008.27" width="2.7" height="2.7" fill="#00f"/>
<path d="M461.02 1004.71V1007.56M456.52 1004.71h9M456.52 1007.56h9" class="eb"/>
<path d="M480.62 1005.45V1007.85M476.12 1005.45h9M476.12 1007.85h9" class="eb"/>
<text x="527.95" y="1117.7" class="tk" text-anchor="middle">4W</text>
<rect x="508.90" y="1005.11" width="18.45" height="100.69" class="bar"/>
<rect x="528.55" y="1005.11" width="18.35" height="100.69" class="bar"/>
<circle cx="525.12" cy="1011.61" r="1.35" fill="#f00"/>
<circle cx="518.12" cy="999.80" r="1.35" fill="#f00"/>
<circle cx="511.12" cy="1004.63" r="1.35" fill="#f00"/>
<circle cx="521.62" cy="1001.72" r="1.35" fill="#f00"/>
<circle cx="521.62" cy="1008.91" r="1.35" fill="#f00"/>
<circle cx="521.62" cy="1005.20" r="1.35" fill="#f00"/>
<circle cx="525.12" cy="1008.12" r="1.35" fill="#f00"/>
<circle cx="518.12" cy="1011.01" r="1.35" fill="#f00"/>
<circle cx="525.12" cy="1004.16" r="1.35" fill="#f00"/>
<circle cx="518.12" cy="1007.41" r="1.35" fill="#f00"/>
<circle cx="518.12" cy="1004.05" r="1.35" fill="#f00"/>
<circle cx="511.12" cy="1010.82" r="1.35" fill="#f00"/>
<circle cx="514.62" cy="1001.82" r="1.35" fill="#f00"/>
<circle cx="514.62" cy="1009.44" r="1.35" fill="#f00"/>
<circle cx="514.62" cy="1005.28" r="1.35" fill="#f00"/>
<rect x="536.37" y="1012.32" width="2.7" height="2.7" fill="#00f"/>
<rect x="536.37" y="993.14" width="2.7" height="2.7" fill="#00f"/>
<rect x="529.37" y="1004.04" width="2.7" height="2.7" fill="#00f"/>
<rect x="543.37" y="1006.90" width="2.7" height="2.7" fill="#00f"/>
<rect x="536.37" y="1008.60" width="2.7" height="2.7" fill="#00f"/>
<rect x="529.37" y="1008.44" width="2.7" height="2.7" fill="#00f"/>
<rect x="532.87" y="999.33" width="2.7" height="2.7" fill="#00f"/>
<rect x="543.37" y="999.65" width="2.7" height="2.7" fill="#00f"/>
<rect x="539.87" y="1005.46" width="2.7" height="2.7" fill="#00f"/>
<rect x="532.87" y="1008.11" width="2.7" height="2.7" fill="#00f"/>
<rect x="539.87" y="1001.69" width="2.7" height="2.7" fill="#00f"/>
<rect x="536.37" y="1007.29" width="2.7" height="2.7" fill="#00f"/>
<rect x="536.37" y="1004.71" width="2.7" height="2.7" fill="#00f"/>
<rect x="539.87" y="1007.40" width="2.7" height="2.7" fill="#00f"/>
<rect x="536.37" y="997.51" width="2.7" height="2.7" fill="#00f"/>
<rect x="532.87" y="1002.32" width="2.7" height="2.7" fill="#00f"/>
<rect x="529.37" y="1000.85" width="2.7" height="2.7" fill="#00f"/>
<rect x="539.87" y="997.70" width="2.7" height="2.7" fill="#00f"/>
<rect x="543.37" y="1008.40" width="2.7" height="2.7" fill="#00f"/>
<rect x="536.37" y="1001.60" width="2.7" height="2.7" fill="#00f"/>
<rect x="532.87" y="1006.69" width="2.7" height="2.7" fill="#00f"/>
<rect x="539.87" y="1009.50" width="2.7" height="2.7" fill="#00f"/>
<rect x="529.37" y="1007.20" width="2.7" height="2.7" fill="#00f"/>
<rect x="543.37" y="1003.98" width="2.7" height="2.7" fill="#00f"/>
<path d="M518.12 1003.90V1006.31M513.62 1003.90h9M513.62 1006.31h9" class="eb"/>
<path d="M537.72 1003.90V1006.31M533.22 1003.90h9M533.22 1006.31h9" class="eb"/>
<text x="585.05" y="1117.7" class="tk" text-anchor="middle">6W</text>
<rect x="566.00" y="1005.11" width="18.45" height="100.69" class="bar"/>
<rect x="585.65" y="1005.11" width="18.35" height="100.69" class="bar"/>
<circle cx="571.72" cy="1011.61" r="1.35" fill="#f00"/>
<circle cx="575.22" cy="994.14" r="1.35" fill="#f00"/>
<circle cx="578.72" cy="999.35" r="1.35" fill="#f00"/>
<circle cx="575.22" cy="1001.41" r="1.35" fill="#f00"/>
<circle cx="578.72" cy="1005.86" r="1.35" fill="#f00"/>
<circle cx="568.22" cy="999.87" r="1.35" fill="#f00"/>
<circle cx="571.72" cy="996.56" r="1.35" fill="#f00"/>
<circle cx="575.22" cy="1005.67" r="1.35" fill="#f00"/>
<circle cx="568.22" cy="1006.64" r="1.35" fill="#f00"/>
<circle cx="582.22" cy="1006.54" r="1.35" fill="#f00"/>
<circle cx="575.22" cy="997.74" r="1.35" fill="#f00"/>
<circle cx="578.72" cy="995.67" r="1.35" fill="#f00"/>
<circle cx="571.72" cy="1005.87" r="1.35" fill="#f00"/>
<circle cx="571.72" cy="1001.45" r="1.35" fill="#f00"/>
<circle cx="582.22" cy="1002.79" r="1.35" fill="#f00"/>
<circle cx="578.72" cy="1009.25" r="1.35" fill="#f00"/>
<circle cx="575.22" cy="1008.36" r="1.35" fill="#f00"/>
<circle cx="582.22" cy="996.95" r="1.35" fill="#f00"/>
<rect x="593.48" y="1011.97" width="2.7" height="2.7" fill="#00f"/>
<rect x="593.48" y="994.85" width="2.7" height="2.7" fill="#00f"/>
<rect x="600.48" y="1008.07" width="2.7" height="2.7" fill="#00f"/>
<rect x="600.48" y="1003.52" width="2.7" height="2.7" fill="#00f"/>
<rect x="586.48" y="1005.53" width="2.7" height="2.7" fill="#00f"/>
<rect x="593.48" y="1002.96" width="2.7" height="2.7" fill="#00f"/>
<rect x="586.48" y="1009.48" width="2.7" height="2.7" fill="#00f"/>
<rect x="600.48" y="1004.59" width="2.7" height="2.7" fill="#00f"/>
<rect x="589.98" y="1007.23" width="2.7" height="2.7" fill="#00f"/>
<rect x="593.48" y="1007.70" width="2.7" height="2.7" fill="#00f"/>
<rect x="586.48" y="1003.78" width="2.7" height="2.7" fill="#00f"/>
<rect x="593.48" y="999.25" width="2.7" height="2.7" fill="#00f"/>
<rect x="589.98" y="1004.04" width="2.7" height="2.7" fill="#00f"/>
<rect x="596.98" y="996.72" width="2.7" height="2.7" fill="#00f"/>
<rect x="596.98" y="1009.50" width="2.7" height="2.7" fill="#00f"/>
<rect x="589.98" y="1001.30" width="2.7" height="2.7" fill="#00f"/>
<rect x="589.98" y="1009.68" width="2.7" height="2.7" fill="#00f"/>
<rect x="589.98" y="997.10" width="2.7" height="2.7" fill="#00f"/>
<rect x="596.98" y="1003.88" width="2.7" height="2.7" fill="#00f"/>
<rect x="596.98" y="1006.50" width="2.7" height="2.7" fill="#00f"/>
<rect x="596.98" y="1001.02" width="2.7" height="2.7" fill="#00f"/>
<rect x="593.48" y="1004.38" width="2.7" height="2.7" fill="#00f"/>
<path d="M575.22 1003.64V1006.57M570.72 1003.64h9M570.72 1006.57h9" class="eb"/>
<path d="M594.83 1003.90V1006.31M590.33 1003.90h9M590.33 1006.31h9" class="eb"/>
<text x="642.15" y="1117.7" class="tk" text-anchor="middle">8W</text>
<rect x="623.10" y="1005.45" width="18.45" height="100.35" class="bar"/>
<rect x="642.75" y="1005.45" width="18.35" height="100.35" class="bar"/>
<circle cx="635.82" cy="1013.15" r="1.35" fill="#f00"/>
<circle cx="632.32" cy="994.14" r="1.35" fill="#f00"/>
<circle cx="635.82" cy="1005.56" r="1.35" fill="#f00"/>
<circle cx="639.32" cy="996.94" r="1.35" fill="#f00"/>
<circle cx="639.32" cy="1006.66" r="1.35" fill="#f00"/>
<circle cx="628.82" cy="1009.89" r="1.35" fill="#f00"/>
<circle cx="639.32" cy="1009.94" r="1.35" fill="#f00"/>
<circle cx="632.32" cy="1004.17" r="1.35" fill="#f00"/>
<circle cx="635.82" cy="1009.31" r="1.35" fill="#f00"/>
<circle cx="635.82" cy="1001.25" r="1.35" fill="#f00"/>
<circle cx="628.82" cy="1006.12" r="1.35" fill="#f00"/>
<circle cx="625.32" cy="1007.19" r="1.35" fill="#f00"/>
<circle cx="632.32" cy="1010.20" r="1.35" fill="#f00"/>
<circle cx="628.82" cy="1001.61" r="1.35" fill="#f00"/>
<circle cx="628.82" cy="996.73" r="1.35" fill="#f00"/>
<circle cx="635.82" cy="995.84" r="1.35" fill="#f00"/>
<circle cx="632.32" cy="1007.26" r="1.35" fill="#f00"/>
<circle cx="632.32" cy="999.95" r="1.35" fill="#f00"/>
<circle cx="625.32" cy="1009.99" r="1.35" fill="#f00"/>
<circle cx="625.32" cy="997.14" r="1.35" fill="#f00"/>
<rect x="654.07" y="1011.80" width="2.7" height="2.7" fill="#00f"/>
<rect x="650.57" y="996.39" width="2.7" height="2.7" fill="#00f"/>
<rect x="643.57" y="1001.10" width="2.7" height="2.7" fill="#00f"/>
<rect x="657.57" y="1006.38" width="2.7" height="2.7" fill="#00f"/>
<rect x="643.57" y="1004.34" width="2.7" height="2.7" fill="#00f"/>
<rect x="643.57" y="1008.97" width="2.7" height="2.7" fill="#00f"/>
<rect x="650.57" y="1006.58" width="2.7" height="2.7" fill="#00f"/>
<rect x="654.07" y="1001.90" width="2.7" height="2.7" fill="#00f"/>
<rect x="654.07" y="1007.08" width="2.7" height="2.7" fill="#00f"/>
<rect x="657.57" y="1000.99" width="2.7" height="2.7" fill="#00f"/>
<rect x="657.57" y="1003.06" width="2.7" height="2.7" fill="#00f"/>
<rect x="650.57" y="1001.69" width="2.7" height="2.7" fill="#00f"/>
<rect x="647.07" y="998.56" width="2.7" height="2.7" fill="#00f"/>
<rect x="643.57" y="1006.50" width="2.7" height="2.7" fill="#00f"/>
<rect x="650.57" y="999.67" width="2.7" height="2.7" fill="#00f"/>
<rect x="650.57" y="1005.21" width="2.7" height="2.7" fill="#00f"/>
<rect x="654.07" y="1005.33" width="2.7" height="2.7" fill="#00f"/>
<rect x="657.57" y="1008.19" width="2.7" height="2.7" fill="#00f"/>
<rect x="643.57" y="999.67" width="2.7" height="2.7" fill="#00f"/>
<rect x="647.07" y="1002.97" width="2.7" height="2.7" fill="#00f"/>
<rect x="654.07" y="1000.55" width="2.7" height="2.7" fill="#00f"/>
<rect x="657.57" y="999.48" width="2.7" height="2.7" fill="#00f"/>
<rect x="654.07" y="997.29" width="2.7" height="2.7" fill="#00f"/>
<rect x="647.07" y="1000.56" width="2.7" height="2.7" fill="#00f"/>
<rect x="647.07" y="1007.52" width="2.7" height="2.7" fill="#00f"/>
<rect x="647.07" y="1005.75" width="2.7" height="2.7" fill="#00f"/>
<rect x="650.57" y="1009.18" width="2.7" height="2.7" fill="#00f"/>
<path d="M632.32 1003.90V1007.00M627.82 1003.90h9M627.82 1007.00h9" class="eb"/>
<path d="M651.92 1004.25V1006.65M647.42 1004.25h9M647.42 1006.65h9" class="eb"/>
<text x="699.25" y="1117.7" class="tk" text-anchor="middle">12W</text>
<rect x="680.20" y="1004.42" width="18.45" height="101.38" class="bar"/>
<rect x="699.85" y="1004.42" width="18.35" height="101.38" class="bar"/>
<circle cx="692.92" cy="1009.04" r="1.35" fill="#f00"/>
<circle cx="689.42" cy="992.43" r="1.35" fill="#f00"/>
<circle cx="685.92" cy="1003.18" r="1.35" fill="#f00"/>
<circle cx="692.92" cy="1003.05" r="1.35" fill="#f00"/>
<circle cx="685.92" cy="995.54" r="1.35" fill="#f00"/>
<circle cx="689.42" cy="1006.13" r="1.35" fill="#f00"/>
<circle cx="689.42" cy="997.09" r="1.35" fill="#f00"/>
<circle cx="682.42" cy="998.46" r="1.35" fill="#f00"/>
<circle cx="696.42" cy="997.52" r="1.35" fill="#f00"/>
<circle cx="689.42" cy="1001.40" r="1.35" fill="#f00"/>
<circle cx="692.92" cy="999.01" r="1.35" fill="#f00"/>
<circle cx="692.92" cy="995.21" r="1.35" fill="#f00"/>
<rect x="711.17" y="1013.00" width="2.7" height="2.7" fill="#00f"/>
<rect x="707.67" y="991.08" width="2.7" height="2.7" fill="#00f"/>
<rect x="711.17" y="1004.39" width="2.7" height="2.7" fill="#00f"/>
<rect x="714.67" y="1008.33" width="2.7" height="2.7" fill="#00f"/>
<rect x="704.17" y="1010.62" width="2.7" height="2.7" fill="#00f"/>
<rect x="707.67" y="1007.43" width="2.7" height="2.7" fill="#00f"/>
<rect x="700.67" y="1009.16" width="2.7" height="2.7" fill="#00f"/>
<rect x="711.17" y="1007.99" width="2.7" height="2.7" fill="#00f"/>
<rect x="714.67" y="1003.98" width="2.7" height="2.7" fill="#00f"/>
<rect x="711.17" y="993.08" width="2.7" height="2.7" fill="#00f"/>
<rect x="711.17" y="1000.91" width="2.7" height="2.7" fill="#00f"/>
<rect x="704.17" y="1002.62" width="2.7" height="2.7" fill="#00f"/>
<rect x="700.67" y="997.43" width="2.7" height="2.7" fill="#00f"/>
<rect x="714.67" y="996.84" width="2.7" height="2.7" fill="#00f"/>
<rect x="707.67" y="1009.82" width="2.7" height="2.7" fill="#00f"/>
<rect x="707.67" y="995.55" width="2.7" height="2.7" fill="#00f"/>
<rect x="707.67" y="1002.36" width="2.7" height="2.7" fill="#00f"/>
<rect x="711.17" y="996.69" width="2.7" height="2.7" fill="#00f"/>
<rect x="704.17" y="1007.80" width="2.7" height="2.7" fill="#00f"/>
<rect x="700.67" y="1004.11" width="2.7" height="2.7" fill="#00f"/>
<rect x="707.67" y="998.18" width="2.7" height="2.7" fill="#00f"/>
<rect x="704.17" y="995.83" width="2.7" height="2.7" fill="#00f"/>
<path d="M689.42 1002.74V1006.10M684.92 1002.74h9M684.92 1006.10h9" class="eb"/>
<path d="M709.02 1002.82V1006.02M704.52 1002.82h9M704.52 1006.02h9" class="eb"/>
<path d="M442.4 968.20V1105.80H729.0" class="ax" fill="none"/>
<circle cx="726.8" cy="975.1" r="1.9" fill="#f00"/>
<rect x="724.9" y="988.4" width="3.8" height="3.8" fill="#00f"/>
<text x="740.4" y="978.2" class="lg">Sham</text>
<text x="740.4" y="993.1" class="lg">TAC</text>
</svg></body></html>
